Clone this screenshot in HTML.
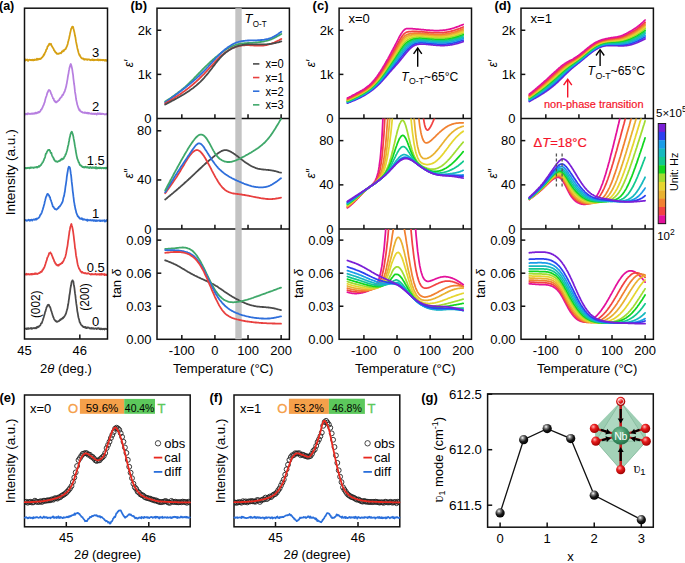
<!DOCTYPE html>
<html><head><meta charset="utf-8"><style>
html,body{margin:0;padding:0;background:#fff;width:685px;height:563px;overflow:hidden}
svg{display:block}
svg{font-family:"Liberation Sans", sans-serif}
</style></head><body>
<svg width="685" height="563" viewBox="0 0 685 563">
<defs>
<radialGradient id="ball" cx="0.38" cy="0.3" r="0.7"><stop offset="0" stop-color="#ffffff"/><stop offset="0.25" stop-color="#888"/><stop offset="0.6" stop-color="#1a1a1a"/><stop offset="1" stop-color="#000"/></radialGradient>
<radialGradient id="ox" cx="0.38" cy="0.32" r="0.7"><stop offset="0" stop-color="#ffb0b0"/><stop offset="0.4" stop-color="#e81c1c"/><stop offset="1" stop-color="#9a0000"/></radialGradient>
<radialGradient id="nb" cx="0.4" cy="0.35" r="0.7"><stop offset="0" stop-color="#7cc29a"/><stop offset="0.6" stop-color="#3a8f62"/><stop offset="1" stop-color="#1f6a43"/></radialGradient>
<clipPath id="c_b_top"><rect x="157.0" y="8.2" width="132.4" height="110.3"/></clipPath>
<clipPath id="c_b_mid"><rect x="157.0" y="118.5" width="132.4" height="110.6"/></clipPath>
<clipPath id="c_b_bot"><rect x="157.0" y="229.1" width="132.4" height="110.20000000000002"/></clipPath>
<clipPath id="c_c_top"><rect x="339.1" y="8.2" width="132.4" height="110.3"/></clipPath>
<clipPath id="c_c_mid"><rect x="339.1" y="118.5" width="132.4" height="110.6"/></clipPath>
<clipPath id="c_c_bot"><rect x="339.1" y="229.1" width="132.4" height="110.20000000000002"/></clipPath>
<clipPath id="c_d_top"><rect x="521.0" y="8.2" width="132.4" height="110.3"/></clipPath>
<clipPath id="c_d_mid"><rect x="521.0" y="118.5" width="132.4" height="110.6"/></clipPath>
<clipPath id="c_d_bot"><rect x="521.0" y="229.1" width="132.4" height="110.20000000000002"/></clipPath>
<clipPath id="c_e"><rect x="24.5" y="395" width="165.7" height="131.8"/></clipPath>
<clipPath id="c_f"><rect x="234" y="395" width="165.8" height="131.8"/></clipPath></defs>
<path d="M25.1,60.7 L25.4,59.3 L25.8,60.2 L26.1,59.9 L26.4,59.9 L26.7,60.0 L27.1,59.5 L27.4,60.0 L27.7,59.8 L28.1,61.0 L28.4,60.1 L28.7,59.9 L29.0,59.9 L29.4,59.8 L29.7,59.7 L30.0,59.9 L30.4,60.1 L30.7,59.9 L31.0,60.2 L31.3,59.9 L31.7,59.9 L32.0,60.4 L32.3,60.1 L32.7,59.7 L33.0,59.8 L33.3,60.0 L33.6,60.4 L34.0,59.7 L34.3,59.7 L34.6,60.1 L35.0,59.5 L35.3,59.6 L35.6,59.9 L35.9,59.8 L36.3,59.6 L36.6,59.8 L36.9,58.7 L37.3,59.8 L37.6,59.1 L37.9,58.9 L38.2,59.4 L38.6,59.5 L38.9,59.0 L39.2,58.7 L39.6,59.0 L39.9,58.8 L40.2,59.1 L40.5,58.8 L40.9,58.4 L41.2,58.5 L41.5,57.8 L41.9,57.3 L42.2,57.5 L42.5,57.2 L42.8,56.5 L43.2,55.9 L43.5,55.8 L43.8,54.4 L44.2,54.8 L44.5,54.2 L44.8,52.9 L45.1,52.7 L45.5,51.7 L45.8,51.5 L46.1,49.9 L46.5,49.4 L46.8,49.1 L47.1,48.5 L47.4,46.7 L47.8,46.5 L48.1,46.0 L48.4,45.2 L48.8,45.3 L49.1,44.0 L49.4,44.2 L49.7,43.6 L50.1,44.3 L50.4,44.0 L50.7,44.1 L51.1,44.0 L51.4,45.5 L51.7,45.8 L52.0,46.3 L52.4,47.1 L52.7,47.5 L53.0,47.9 L53.4,48.5 L53.7,49.2 L54.0,50.4 L54.3,50.2 L54.7,51.0 L55.0,51.6 L55.3,52.2 L55.7,52.7 L56.0,52.5 L56.3,52.6 L56.6,53.4 L57.0,53.9 L57.3,53.9 L57.6,53.8 L58.0,53.7 L58.3,53.8 L58.6,53.6 L58.9,53.8 L59.3,53.2 L59.6,53.4 L59.9,53.1 L60.3,53.1 L60.6,52.9 L60.9,53.4 L61.2,52.8 L61.6,52.6 L61.9,51.3 L62.2,51.6 L62.6,51.3 L62.9,51.5 L63.2,50.4 L63.5,51.2 L63.9,50.9 L64.2,49.9 L64.5,49.7 L64.9,49.4 L65.2,49.3 L65.5,49.0 L65.8,48.9 L66.2,47.6 L66.5,47.2 L66.8,46.3 L67.1,45.9 L67.5,44.6 L67.8,43.7 L68.1,41.8 L68.5,40.8 L68.8,39.2 L69.1,38.5 L69.4,36.7 L69.8,34.9 L70.1,33.3 L70.4,32.1 L70.8,30.4 L71.1,29.0 L71.4,28.4 L71.7,28.1 L72.1,26.8 L72.4,26.5 L72.7,26.5 L73.1,26.9 L73.4,28.3 L73.7,29.5 L74.0,30.7 L74.4,32.3 L74.7,34.0 L75.0,35.8 L75.4,37.2 L75.7,39.4 L76.0,41.4 L76.3,42.9 L76.7,44.7 L77.0,46.2 L77.3,47.9 L77.7,49.6 L78.0,50.5 L78.3,51.7 L78.6,53.0 L79.0,53.9 L79.3,55.0 L79.6,54.6 L80.0,56.1 L80.3,56.2 L80.6,56.8 L80.9,57.4 L81.3,57.8 L81.6,58.1 L81.9,58.1 L82.3,58.7 L82.6,58.3 L82.9,58.5 L83.2,58.9 L83.6,58.6 L83.9,59.5 L84.2,59.3 L84.6,59.7 L84.9,59.1 L85.2,59.1 L85.5,59.3 L85.9,59.5 L86.2,59.2 L86.5,59.5 L86.9,59.4 L87.2,59.9 L87.5,59.3 L87.8,59.8 L88.2,59.4 L88.5,59.3 L88.8,59.4 L89.2,59.3 L89.5,59.7 L89.8,60.0 L90.1,59.8 L90.5,59.9 L90.8,60.3 L91.1,59.9 L91.5,59.9 L91.8,59.7 L92.1,59.4 L92.4,60.1 L92.8,59.3 L93.1,60.1 L93.4,59.9 L93.8,60.3 L94.1,59.9 L94.4,59.7 L94.7,60.1 L95.1,59.8 L95.4,59.9 L95.7,60.0 L96.1,60.0 L96.4,59.9 L96.7,59.8 L97.0,60.0 L97.4,59.4 L97.7,60.0 L98.0,59.7 L98.4,60.4 L98.7,60.4 L99.0,59.5 L99.3,60.1 L99.7,60.1 L100.0,59.8 L100.3,60.3 L100.7,60.0 L101.0,59.6 L101.3,60.0 L101.6,60.1 L102.0,60.2 L102.3,59.8 L102.6,60.3 L103.0,60.4 L103.3,59.8 L103.6,60.0 L103.9,60.1 L104.3,60.0 L104.6,60.7 L104.9,60.2 L105.3,59.9 L105.6,59.9 L105.9,60.2 L106.2,60.9 L106.6,60.1 L106.9,60.2" fill="none" stroke="#d6a013" stroke-width="1.75" stroke-linejoin="round" stroke-linecap="round"/>
<text x="99.3" y="57.199999999999996" font-size="13" text-anchor="end" fill="#000" font-weight="normal" font-style="normal">3</text>
<path d="M25.1,114.0 L25.4,113.8 L25.8,114.5 L26.1,113.7 L26.4,114.0 L26.7,113.8 L27.1,114.0 L27.4,113.4 L27.7,114.3 L28.1,113.7 L28.4,113.7 L28.7,113.4 L29.0,113.5 L29.4,113.9 L29.7,114.0 L30.0,113.9 L30.4,114.0 L30.7,113.8 L31.0,113.6 L31.3,113.8 L31.7,113.7 L32.0,113.5 L32.3,113.7 L32.7,113.9 L33.0,113.5 L33.3,113.3 L33.6,113.6 L34.0,113.9 L34.3,113.2 L34.6,113.2 L35.0,113.2 L35.3,113.5 L35.6,112.6 L35.9,113.2 L36.3,113.4 L36.6,112.7 L36.9,113.3 L37.3,112.9 L37.6,112.5 L37.9,112.6 L38.2,112.0 L38.6,112.1 L38.9,112.6 L39.2,111.6 L39.6,112.2 L39.9,111.4 L40.2,111.4 L40.5,110.8 L40.9,109.7 L41.2,109.8 L41.5,109.6 L41.9,108.6 L42.2,108.0 L42.5,107.8 L42.8,106.8 L43.2,105.7 L43.5,105.2 L43.8,104.7 L44.2,103.3 L44.5,102.7 L44.8,101.9 L45.1,100.3 L45.5,98.8 L45.8,97.6 L46.1,96.9 L46.5,96.0 L46.8,94.8 L47.1,93.9 L47.4,92.6 L47.8,92.1 L48.1,91.2 L48.4,90.7 L48.8,90.1 L49.1,89.9 L49.4,90.3 L49.7,90.3 L50.1,90.8 L50.4,91.8 L50.7,92.3 L51.1,93.9 L51.4,94.2 L51.7,94.6 L52.0,95.8 L52.4,96.6 L52.7,97.1 L53.0,98.5 L53.4,98.6 L53.7,98.6 L54.0,100.4 L54.3,100.5 L54.7,101.5 L55.0,101.2 L55.3,101.3 L55.7,102.3 L56.0,101.6 L56.3,102.0 L56.6,102.3 L57.0,101.8 L57.3,101.5 L57.6,101.3 L58.0,101.2 L58.3,100.4 L58.6,100.4 L58.9,100.0 L59.3,100.1 L59.6,98.9 L59.9,98.3 L60.3,98.4 L60.6,97.6 L60.9,97.4 L61.2,97.0 L61.6,96.9 L61.9,95.9 L62.2,95.6 L62.6,94.5 L62.9,94.5 L63.2,94.8 L63.5,93.6 L63.9,93.0 L64.2,92.1 L64.5,91.9 L64.9,90.9 L65.2,89.5 L65.5,89.0 L65.8,87.6 L66.2,86.4 L66.5,84.5 L66.8,83.5 L67.1,81.4 L67.5,79.3 L67.8,77.2 L68.1,75.3 L68.5,73.6 L68.8,71.3 L69.1,69.9 L69.4,68.1 L69.8,66.9 L70.1,65.7 L70.4,64.7 L70.8,64.0 L71.1,64.9 L71.4,65.8 L71.7,66.9 L72.1,68.7 L72.4,70.5 L72.7,72.8 L73.1,75.2 L73.4,78.6 L73.7,80.9 L74.0,83.5 L74.4,85.9 L74.7,88.9 L75.0,91.9 L75.4,94.0 L75.7,95.8 L76.0,98.5 L76.3,100.3 L76.7,101.9 L77.0,103.3 L77.3,104.8 L77.7,105.8 L78.0,106.9 L78.3,107.3 L78.6,108.8 L79.0,109.1 L79.3,110.2 L79.6,109.4 L80.0,110.7 L80.3,111.1 L80.6,111.0 L80.9,111.5 L81.3,111.8 L81.6,112.0 L81.9,111.8 L82.3,112.0 L82.6,112.5 L82.9,112.7 L83.2,112.5 L83.6,112.5 L83.9,112.7 L84.2,113.0 L84.6,112.4 L84.9,112.4 L85.2,112.9 L85.5,112.6 L85.9,112.8 L86.2,113.1 L86.5,113.2 L86.9,112.8 L87.2,113.4 L87.5,112.7 L87.8,113.4 L88.2,112.8 L88.5,112.9 L88.8,113.5 L89.2,113.3 L89.5,113.2 L89.8,113.3 L90.1,113.6 L90.5,113.5 L90.8,113.5 L91.1,113.9 L91.5,113.3 L91.8,113.4 L92.1,113.4 L92.4,114.0 L92.8,113.9 L93.1,114.0 L93.4,113.7 L93.8,113.6 L94.1,114.0 L94.4,113.6 L94.7,114.0 L95.1,114.0 L95.4,113.6 L95.7,113.7 L96.1,113.7 L96.4,114.3 L96.7,114.6 L97.0,113.8 L97.4,113.8 L97.7,113.2 L98.0,113.9 L98.4,113.9 L98.7,113.5 L99.0,114.1 L99.3,113.4 L99.7,113.8 L100.0,113.9 L100.3,113.5 L100.7,114.2 L101.0,114.2 L101.3,113.5 L101.6,113.5 L102.0,114.1 L102.3,113.9 L102.6,113.6 L103.0,113.9 L103.3,113.9 L103.6,113.9 L103.9,114.2 L104.3,114.1 L104.6,114.5 L104.9,114.4 L105.3,114.2 L105.6,114.3 L105.9,114.4 L106.2,114.2 L106.6,113.7 L106.9,114.3" fill="none" stroke="#b77fe0" stroke-width="1.75" stroke-linejoin="round" stroke-linecap="round"/>
<text x="99.3" y="111.1" font-size="13" text-anchor="end" fill="#000" font-weight="normal" font-style="normal">2</text>
<path d="M25.1,168.0 L25.4,168.4 L25.8,168.0 L26.1,168.1 L26.4,168.0 L26.7,168.4 L27.1,168.0 L27.4,167.8 L27.7,168.0 L28.1,167.7 L28.4,167.9 L28.7,167.8 L29.0,167.9 L29.4,168.4 L29.7,167.7 L30.0,167.8 L30.4,167.7 L30.7,168.0 L31.0,167.4 L31.3,167.5 L31.7,167.7 L32.0,167.8 L32.3,167.6 L32.7,167.5 L33.0,167.4 L33.3,167.7 L33.6,168.0 L34.0,167.6 L34.3,167.6 L34.6,167.6 L35.0,167.2 L35.3,167.3 L35.6,167.3 L35.9,167.4 L36.3,167.2 L36.6,166.8 L36.9,167.5 L37.3,167.5 L37.6,166.9 L37.9,167.0 L38.2,166.8 L38.6,166.8 L38.9,166.0 L39.2,166.8 L39.6,165.9 L39.9,166.2 L40.2,165.6 L40.5,165.2 L40.9,164.9 L41.2,164.9 L41.5,163.9 L41.9,163.6 L42.2,163.1 L42.5,162.1 L42.8,162.4 L43.2,161.6 L43.5,160.7 L43.8,160.3 L44.2,158.9 L44.5,158.3 L44.8,158.0 L45.1,156.9 L45.5,155.0 L45.8,153.8 L46.1,153.6 L46.5,153.4 L46.8,152.2 L47.1,151.5 L47.4,151.2 L47.8,150.2 L48.1,150.2 L48.4,150.1 L48.8,149.9 L49.1,150.0 L49.4,149.9 L49.7,150.6 L50.1,150.8 L50.4,151.9 L50.7,152.9 L51.1,152.6 L51.4,152.9 L51.7,154.2 L52.0,155.3 L52.4,156.2 L52.7,157.0 L53.0,157.1 L53.4,157.8 L53.7,159.0 L54.0,158.9 L54.3,160.1 L54.7,160.1 L55.0,160.8 L55.3,161.1 L55.7,161.4 L56.0,161.6 L56.3,161.2 L56.6,161.7 L57.0,161.6 L57.3,161.7 L57.6,161.9 L58.0,161.4 L58.3,161.2 L58.6,161.0 L58.9,161.0 L59.3,161.1 L59.6,160.5 L59.9,160.9 L60.3,160.4 L60.6,160.1 L60.9,159.5 L61.2,159.8 L61.6,159.7 L61.9,158.7 L62.2,159.4 L62.6,159.3 L62.9,158.7 L63.2,158.4 L63.5,158.7 L63.9,158.0 L64.2,157.0 L64.5,156.8 L64.9,156.2 L65.2,155.6 L65.5,154.3 L65.8,154.4 L66.2,153.1 L66.5,152.3 L66.8,151.1 L67.1,150.2 L67.5,148.5 L67.8,146.9 L68.1,145.7 L68.5,144.4 L68.8,142.2 L69.1,141.0 L69.4,139.0 L69.8,137.1 L70.1,136.3 L70.4,134.3 L70.8,133.7 L71.1,132.5 L71.4,132.3 L71.7,131.7 L72.1,132.1 L72.4,133.4 L72.7,134.1 L73.1,135.4 L73.4,136.9 L73.7,138.9 L74.0,140.3 L74.4,142.3 L74.7,144.6 L75.0,146.4 L75.4,148.4 L75.7,150.5 L76.0,152.3 L76.3,153.9 L76.7,156.1 L77.0,157.3 L77.3,158.7 L77.7,159.5 L78.0,160.4 L78.3,161.0 L78.6,162.2 L79.0,162.3 L79.3,163.4 L79.6,164.3 L80.0,165.1 L80.3,165.2 L80.6,165.0 L80.9,165.7 L81.3,165.6 L81.6,166.3 L81.9,166.2 L82.3,166.6 L82.6,167.2 L82.9,166.9 L83.2,167.4 L83.6,166.8 L83.9,166.8 L84.2,167.3 L84.6,167.5 L84.9,166.9 L85.2,167.1 L85.5,166.7 L85.9,167.1 L86.2,167.5 L86.5,167.3 L86.9,167.2 L87.2,166.9 L87.5,167.5 L87.8,167.7 L88.2,167.6 L88.5,167.6 L88.8,167.1 L89.2,168.1 L89.5,167.6 L89.8,167.6 L90.1,167.8 L90.5,167.0 L90.8,167.6 L91.1,167.6 L91.5,167.8 L91.8,168.1 L92.1,167.9 L92.4,167.2 L92.8,167.7 L93.1,167.8 L93.4,167.8 L93.8,167.4 L94.1,167.3 L94.4,168.0 L94.7,167.9 L95.1,167.8 L95.4,167.3 L95.7,168.4 L96.1,167.0 L96.4,167.8 L96.7,168.5 L97.0,167.9 L97.4,168.0 L97.7,167.6 L98.0,168.3 L98.4,167.6 L98.7,168.0 L99.0,168.0 L99.3,167.7 L99.7,168.2 L100.0,167.6 L100.3,167.8 L100.7,168.0 L101.0,167.9 L101.3,168.2 L101.6,168.3 L102.0,167.9 L102.3,167.9 L102.6,167.9 L103.0,167.9 L103.3,168.3 L103.6,168.0 L103.9,168.2 L104.3,168.0 L104.6,167.8 L104.9,168.3 L105.3,167.8 L105.6,168.1 L105.9,168.5 L106.2,167.8 L106.6,168.1 L106.9,167.6" fill="none" stroke="#3fa86a" stroke-width="1.75" stroke-linejoin="round" stroke-linecap="round"/>
<text x="104.8" y="165.10000000000002" font-size="13" text-anchor="end" fill="#000" font-weight="normal" font-style="normal">1.5</text>
<path d="M25.1,220.3 L25.4,220.0 L25.8,220.3 L26.1,220.2 L26.4,220.4 L26.7,220.9 L27.1,220.4 L27.4,220.5 L27.7,220.3 L28.1,220.2 L28.4,220.0 L28.7,219.7 L29.0,220.3 L29.4,220.7 L29.7,220.3 L30.0,220.0 L30.4,220.6 L30.7,220.0 L31.0,219.9 L31.3,219.7 L31.7,219.7 L32.0,219.9 L32.3,220.6 L32.7,219.9 L33.0,219.6 L33.3,219.7 L33.6,219.7 L34.0,219.2 L34.3,219.7 L34.6,219.8 L35.0,219.6 L35.3,219.7 L35.6,219.0 L35.9,218.8 L36.3,219.6 L36.6,219.4 L36.9,218.5 L37.3,218.8 L37.6,218.6 L37.9,218.5 L38.2,218.2 L38.6,217.7 L38.9,217.6 L39.2,217.2 L39.6,216.7 L39.9,215.7 L40.2,214.9 L40.5,214.9 L40.9,214.0 L41.2,213.9 L41.5,213.2 L41.9,212.2 L42.2,211.1 L42.5,210.2 L42.8,209.5 L43.2,207.8 L43.5,207.1 L43.8,205.8 L44.2,204.4 L44.5,203.4 L44.8,201.5 L45.1,200.7 L45.5,198.9 L45.8,197.8 L46.1,196.7 L46.5,196.2 L46.8,195.0 L47.1,194.6 L47.4,193.9 L47.8,194.3 L48.1,194.6 L48.4,194.3 L48.8,195.2 L49.1,195.4 L49.4,196.7 L49.7,196.9 L50.1,197.4 L50.4,199.3 L50.7,199.9 L51.1,200.7 L51.4,201.8 L51.7,202.5 L52.0,203.9 L52.4,204.6 L52.7,206.2 L53.0,206.7 L53.4,206.6 L53.7,207.2 L54.0,208.0 L54.3,208.0 L54.7,208.8 L55.0,209.1 L55.3,209.0 L55.7,209.1 L56.0,209.4 L56.3,209.7 L56.6,209.6 L57.0,209.0 L57.3,209.0 L57.6,208.3 L58.0,208.4 L58.3,207.7 L58.6,207.9 L58.9,206.9 L59.3,206.7 L59.6,206.6 L59.9,206.4 L60.3,205.4 L60.6,205.2 L60.9,204.9 L61.2,204.4 L61.6,203.5 L61.9,203.1 L62.2,202.2 L62.6,201.8 L62.9,200.6 L63.2,198.9 L63.5,197.3 L63.9,196.6 L64.2,195.3 L64.5,193.2 L64.9,191.5 L65.2,189.0 L65.5,186.5 L65.8,184.8 L66.2,182.2 L66.5,180.0 L66.8,176.9 L67.1,175.0 L67.5,172.5 L67.8,171.0 L68.1,168.8 L68.5,167.5 L68.8,166.7 L69.1,167.0 L69.4,166.9 L69.8,167.5 L70.1,168.8 L70.4,170.7 L70.8,173.7 L71.1,175.3 L71.4,178.3 L71.7,181.7 L72.1,184.9 L72.4,187.5 L72.7,190.8 L73.1,193.6 L73.4,196.4 L73.7,198.7 L74.0,201.6 L74.4,203.4 L74.7,205.8 L75.0,206.8 L75.4,209.1 L75.7,209.9 L76.0,211.1 L76.3,212.8 L76.7,213.4 L77.0,214.6 L77.3,214.9 L77.7,216.3 L78.0,216.3 L78.3,216.4 L78.6,217.2 L79.0,217.8 L79.3,217.5 L79.6,218.2 L80.0,218.8 L80.3,218.7 L80.6,218.6 L80.9,218.5 L81.3,219.0 L81.6,218.5 L81.9,218.1 L82.3,218.9 L82.6,218.9 L82.9,219.8 L83.2,219.4 L83.6,219.1 L83.9,219.1 L84.2,219.7 L84.6,219.4 L84.9,219.5 L85.2,219.7 L85.5,219.8 L85.9,219.8 L86.2,219.9 L86.5,220.3 L86.9,220.4 L87.2,219.5 L87.5,220.8 L87.8,220.1 L88.2,220.4 L88.5,219.9 L88.8,220.2 L89.2,220.2 L89.5,220.2 L89.8,220.4 L90.1,220.4 L90.5,219.9 L90.8,220.2 L91.1,220.5 L91.5,220.5 L91.8,220.2 L92.1,220.3 L92.4,220.3 L92.8,220.0 L93.1,220.0 L93.4,220.9 L93.8,220.3 L94.1,220.5 L94.4,220.2 L94.7,220.8 L95.1,221.0 L95.4,220.4 L95.7,220.7 L96.1,220.3 L96.4,221.0 L96.7,220.8 L97.0,220.3 L97.4,220.9 L97.7,220.7 L98.0,220.7 L98.4,220.7 L98.7,220.4 L99.0,220.4 L99.3,220.8 L99.7,220.6 L100.0,220.3 L100.3,221.2 L100.7,220.6 L101.0,220.5 L101.3,220.4 L101.6,220.9 L102.0,221.0 L102.3,220.7 L102.6,220.9 L103.0,220.2 L103.3,220.6 L103.6,220.6 L103.9,220.7 L104.3,220.9 L104.6,220.1 L104.9,221.7 L105.3,220.5 L105.6,220.8 L105.9,221.0 L106.2,221.0 L106.6,220.8 L106.9,219.9" fill="none" stroke="#2f6fdb" stroke-width="1.75" stroke-linejoin="round" stroke-linecap="round"/>
<text x="99.3" y="217.8" font-size="13" text-anchor="end" fill="#000" font-weight="normal" font-style="normal">1</text>
<path d="M25.1,274.1 L25.4,274.6 L25.8,274.1 L26.1,274.1 L26.4,273.7 L26.7,274.7 L27.1,274.5 L27.4,274.1 L27.7,274.3 L28.1,274.3 L28.4,274.0 L28.7,274.2 L29.0,274.4 L29.4,274.4 L29.7,274.6 L30.0,274.2 L30.4,274.1 L30.7,274.3 L31.0,274.0 L31.3,273.8 L31.7,274.5 L32.0,274.0 L32.3,274.1 L32.7,274.3 L33.0,273.7 L33.3,274.2 L33.6,274.1 L34.0,274.0 L34.3,274.1 L34.6,273.7 L35.0,273.2 L35.3,273.8 L35.6,273.5 L35.9,274.0 L36.3,273.8 L36.6,273.5 L36.9,273.7 L37.3,274.0 L37.6,273.9 L37.9,273.6 L38.2,273.5 L38.6,273.2 L38.9,273.1 L39.2,273.2 L39.6,272.9 L39.9,272.8 L40.2,272.2 L40.5,271.9 L40.9,271.6 L41.2,271.7 L41.5,272.0 L41.9,271.6 L42.2,270.5 L42.5,269.9 L42.8,270.1 L43.2,269.5 L43.5,268.3 L43.8,268.4 L44.2,267.4 L44.5,267.0 L44.8,265.9 L45.1,265.1 L45.5,264.0 L45.8,262.7 L46.1,261.9 L46.5,260.7 L46.8,260.1 L47.1,258.5 L47.4,257.4 L47.8,257.0 L48.1,256.3 L48.4,255.5 L48.8,254.7 L49.1,253.3 L49.4,253.1 L49.7,252.8 L50.1,252.9 L50.4,252.3 L50.7,253.2 L51.1,253.7 L51.4,253.8 L51.7,254.8 L52.0,255.8 L52.4,256.3 L52.7,257.4 L53.0,258.2 L53.4,258.9 L53.7,259.7 L54.0,260.3 L54.3,261.6 L54.7,261.8 L55.0,262.4 L55.3,263.4 L55.7,263.4 L56.0,264.2 L56.3,264.8 L56.6,264.8 L57.0,265.0 L57.3,265.4 L57.6,265.5 L58.0,264.8 L58.3,264.9 L58.6,265.6 L58.9,265.2 L59.3,264.3 L59.6,264.4 L59.9,264.6 L60.3,264.0 L60.6,264.2 L60.9,263.8 L61.2,263.7 L61.6,262.9 L61.9,263.1 L62.2,263.1 L62.6,261.9 L62.9,262.1 L63.2,261.5 L63.5,260.9 L63.9,260.1 L64.2,259.1 L64.5,258.4 L64.9,258.0 L65.2,257.1 L65.5,256.0 L65.8,254.7 L66.2,253.2 L66.5,251.2 L66.8,249.3 L67.1,247.8 L67.5,245.8 L67.8,243.6 L68.1,240.8 L68.5,238.8 L68.8,236.2 L69.1,234.3 L69.4,231.7 L69.8,229.9 L70.1,228.2 L70.4,226.7 L70.8,225.9 L71.1,224.5 L71.4,224.0 L71.7,225.3 L72.1,226.4 L72.4,227.8 L72.7,229.2 L73.1,231.5 L73.4,233.8 L73.7,236.0 L74.0,238.9 L74.4,242.0 L74.7,244.5 L75.0,248.0 L75.4,249.5 L75.7,252.4 L76.0,255.2 L76.3,256.8 L76.7,258.7 L77.0,260.4 L77.3,262.3 L77.7,264.4 L78.0,265.4 L78.3,266.5 L78.6,267.2 L79.0,268.5 L79.3,269.0 L79.6,269.3 L80.0,270.0 L80.3,270.7 L80.6,271.4 L80.9,271.3 L81.3,271.8 L81.6,272.5 L81.9,271.9 L82.3,271.9 L82.6,272.7 L82.9,272.7 L83.2,272.7 L83.6,272.9 L83.9,272.8 L84.2,273.2 L84.6,273.0 L84.9,273.4 L85.2,272.9 L85.5,273.1 L85.9,273.4 L86.2,273.3 L86.5,273.7 L86.9,273.5 L87.2,273.4 L87.5,273.7 L87.8,273.5 L88.2,273.2 L88.5,273.4 L88.8,273.5 L89.2,273.7 L89.5,273.9 L89.8,274.2 L90.1,274.1 L90.5,274.5 L90.8,274.3 L91.1,273.9 L91.5,274.5 L91.8,274.4 L92.1,273.9 L92.4,274.2 L92.8,274.4 L93.1,274.2 L93.4,274.4 L93.8,274.3 L94.1,274.4 L94.4,274.1 L94.7,274.3 L95.1,274.1 L95.4,274.4 L95.7,273.7 L96.1,274.4 L96.4,274.7 L96.7,274.5 L97.0,274.3 L97.4,274.5 L97.7,274.1 L98.0,274.1 L98.4,274.2 L98.7,274.3 L99.0,274.7 L99.3,274.1 L99.7,274.7 L100.0,273.9 L100.3,274.2 L100.7,274.4 L101.0,274.8 L101.3,274.2 L101.6,273.8 L102.0,274.6 L102.3,274.4 L102.6,274.1 L103.0,274.2 L103.3,274.3 L103.6,274.5 L103.9,274.7 L104.3,274.0 L104.6,275.2 L104.9,274.5 L105.3,274.4 L105.6,274.7 L105.9,274.6 L106.2,275.2 L106.6,274.9 L106.9,274.4" fill="none" stroke="#e8403f" stroke-width="1.75" stroke-linejoin="round" stroke-linecap="round"/>
<text x="104.8" y="271.6" font-size="13" text-anchor="end" fill="#000" font-weight="normal" font-style="normal">0.5</text>
<path d="M25.1,328.6 L25.4,328.6 L25.8,328.6 L26.1,328.9 L26.4,328.5 L26.7,329.2 L27.1,328.6 L27.4,328.6 L27.7,328.9 L28.1,328.0 L28.4,328.3 L28.7,328.8 L29.0,328.6 L29.4,328.5 L29.7,328.6 L30.0,328.3 L30.4,328.4 L30.7,328.1 L31.0,327.9 L31.3,328.8 L31.7,328.1 L32.0,328.1 L32.3,328.7 L32.7,328.6 L33.0,328.1 L33.3,328.1 L33.6,328.2 L34.0,327.9 L34.3,328.3 L34.6,328.1 L35.0,328.0 L35.3,328.2 L35.6,328.1 L35.9,328.4 L36.3,328.2 L36.6,327.1 L36.9,327.8 L37.3,327.1 L37.6,326.8 L37.9,327.3 L38.2,326.7 L38.6,326.6 L38.9,326.8 L39.2,326.0 L39.6,325.6 L39.9,325.6 L40.2,325.5 L40.5,324.9 L40.9,323.7 L41.2,323.4 L41.5,323.0 L41.9,322.9 L42.2,321.8 L42.5,321.0 L42.8,320.2 L43.2,318.8 L43.5,318.0 L43.8,317.0 L44.2,315.4 L44.5,314.6 L44.8,313.6 L45.1,311.9 L45.5,311.3 L45.8,310.1 L46.1,309.1 L46.5,307.6 L46.8,306.9 L47.1,306.5 L47.4,305.7 L47.8,304.8 L48.1,304.8 L48.4,305.1 L48.8,304.8 L49.1,305.3 L49.4,306.5 L49.7,306.4 L50.1,307.2 L50.4,307.8 L50.7,308.9 L51.1,310.6 L51.4,311.2 L51.7,312.0 L52.0,313.1 L52.4,314.4 L52.7,315.6 L53.0,316.1 L53.4,317.4 L53.7,317.8 L54.0,318.8 L54.3,319.5 L54.7,320.0 L55.0,320.2 L55.3,320.7 L55.7,321.2 L56.0,320.9 L56.3,321.5 L56.6,321.7 L57.0,321.9 L57.3,321.6 L57.6,321.5 L58.0,321.5 L58.3,321.1 L58.6,321.1 L58.9,321.1 L59.3,320.8 L59.6,320.2 L59.9,320.2 L60.3,319.4 L60.6,320.0 L60.9,319.4 L61.2,319.4 L61.6,318.7 L61.9,318.8 L62.2,318.7 L62.6,318.6 L62.9,317.6 L63.2,318.0 L63.5,317.4 L63.9,316.9 L64.2,316.9 L64.5,316.2 L64.9,315.7 L65.2,315.0 L65.5,314.6 L65.8,313.8 L66.2,312.9 L66.5,311.6 L66.8,310.6 L67.1,309.5 L67.5,308.3 L67.8,306.2 L68.1,304.8 L68.5,302.4 L68.8,300.0 L69.1,298.3 L69.4,295.5 L69.8,293.5 L70.1,291.3 L70.4,288.6 L70.8,286.5 L71.1,285.3 L71.4,283.0 L71.7,281.6 L72.1,280.9 L72.4,280.3 L72.7,280.4 L73.1,281.2 L73.4,281.5 L73.7,284.2 L74.0,285.5 L74.4,287.8 L74.7,290.7 L75.0,293.2 L75.4,295.6 L75.7,298.7 L76.0,301.0 L76.3,303.7 L76.7,306.0 L77.0,308.5 L77.3,311.1 L77.7,313.0 L78.0,314.9 L78.3,316.8 L78.6,318.0 L79.0,319.2 L79.3,320.4 L79.6,322.0 L80.0,322.5 L80.3,323.3 L80.6,323.8 L80.9,324.5 L81.3,325.0 L81.6,325.3 L81.9,325.6 L82.3,325.7 L82.6,326.0 L82.9,326.6 L83.2,326.9 L83.6,327.1 L83.9,327.0 L84.2,326.8 L84.6,327.4 L84.9,327.5 L85.2,326.9 L85.5,327.7 L85.9,327.7 L86.2,328.1 L86.5,327.4 L86.9,327.4 L87.2,328.0 L87.5,327.3 L87.8,327.7 L88.2,327.6 L88.5,327.7 L88.8,327.5 L89.2,328.0 L89.5,328.4 L89.8,328.3 L90.1,328.3 L90.5,328.1 L90.8,328.7 L91.1,328.4 L91.5,328.6 L91.8,327.9 L92.1,328.5 L92.4,328.1 L92.8,328.5 L93.1,328.5 L93.4,328.1 L93.8,328.5 L94.1,328.9 L94.4,328.7 L94.7,328.7 L95.1,328.3 L95.4,328.4 L95.7,328.3 L96.1,328.6 L96.4,329.0 L96.7,328.8 L97.0,328.6 L97.4,328.3 L97.7,328.8 L98.0,328.6 L98.4,328.1 L98.7,328.2 L99.0,328.6 L99.3,328.5 L99.7,329.2 L100.0,328.8 L100.3,328.5 L100.7,328.6 L101.0,329.3 L101.3,328.5 L101.6,329.0 L102.0,328.9 L102.3,329.3 L102.6,329.0 L103.0,328.7 L103.3,329.0 L103.6,328.9 L103.9,329.1 L104.3,328.8 L104.6,329.5 L104.9,328.8 L105.3,329.0 L105.6,328.7 L105.9,328.9 L106.2,328.9 L106.6,329.0 L106.9,329.2" fill="none" stroke="#4a4a4a" stroke-width="1.75" stroke-linejoin="round" stroke-linecap="round"/>
<text x="99.3" y="326.0" font-size="13" text-anchor="end" fill="#000" font-weight="normal" font-style="normal">0</text>
<rect x="24.5" y="8.2" width="83.0" height="330.8" fill="none" stroke="#111" stroke-width="1.5"/>
<line x1="79.83333333333334" y1="339.0" x2="79.83333333333334" y2="334.5" stroke="#111" stroke-width="1.5"/>
<text x="24.5" y="354.7" font-size="13" text-anchor="middle" fill="#000" font-weight="normal" font-style="normal">45</text>
<text x="79.83333333333334" y="354.7" font-size="13" text-anchor="middle" fill="#000" font-weight="normal" font-style="normal">46</text>
<text x="66" y="372.5" font-size="13" text-anchor="middle">2<tspan font-style="italic" >θ</tspan> (deg.)</text>
<text x="15.2" y="172.3" font-size="13" text-anchor="middle" fill="#000" font-weight="normal" font-style="normal" transform="rotate(-90 15.2 172.3)" textLength="86" lengthAdjust="spacingAndGlyphs">Intensity (a.u.)</text>
<text x="40.5" y="304.3" font-size="13" text-anchor="middle" fill="#000" font-weight="normal" font-style="normal" transform="rotate(-90 40.5 304.3)" textLength="27.5" lengthAdjust="spacingAndGlyphs">(002)</text>
<text x="89.0" y="297.0" font-size="13" text-anchor="middle" fill="#000" font-weight="normal" font-style="normal" transform="rotate(-90 89.0 297.0)" textLength="27.5" lengthAdjust="spacingAndGlyphs">(200)</text>
<text x="-1" y="9.8" font-size="12.5" text-anchor="start" fill="#000" font-weight="bold" font-style="normal">(a)</text>
<rect x="157.0" y="8.2" width="132.39999999999998" height="331.1" fill="none" stroke="#111" stroke-width="1.5"/>
<line x1="157.0" y1="118.5" x2="289.4" y2="118.5" stroke="#111" stroke-width="1.5"/>
<line x1="157.0" y1="229.1" x2="289.4" y2="229.1" stroke="#111" stroke-width="1.5"/>
<line x1="181.825" y1="118.5" x2="181.825" y2="114.2" stroke="#111" stroke-width="1.5"/>
<line x1="181.825" y1="229.1" x2="181.825" y2="224.79999999999998" stroke="#111" stroke-width="1.5"/>
<line x1="181.825" y1="339.3" x2="181.825" y2="335.0" stroke="#111" stroke-width="1.5"/>
<line x1="214.925" y1="118.5" x2="214.925" y2="114.2" stroke="#111" stroke-width="1.5"/>
<line x1="214.925" y1="229.1" x2="214.925" y2="224.79999999999998" stroke="#111" stroke-width="1.5"/>
<line x1="214.925" y1="339.3" x2="214.925" y2="335.0" stroke="#111" stroke-width="1.5"/>
<line x1="248.025" y1="118.5" x2="248.025" y2="114.2" stroke="#111" stroke-width="1.5"/>
<line x1="248.025" y1="229.1" x2="248.025" y2="224.79999999999998" stroke="#111" stroke-width="1.5"/>
<line x1="248.025" y1="339.3" x2="248.025" y2="335.0" stroke="#111" stroke-width="1.5"/>
<line x1="281.125" y1="118.5" x2="281.125" y2="114.2" stroke="#111" stroke-width="1.5"/>
<line x1="281.125" y1="229.1" x2="281.125" y2="224.79999999999998" stroke="#111" stroke-width="1.5"/>
<line x1="281.125" y1="339.3" x2="281.125" y2="335.0" stroke="#111" stroke-width="1.5"/>
<line x1="157.0" y1="74.38" x2="161.3" y2="74.38" stroke="#111" stroke-width="1.5"/>
<line x1="157.0" y1="30.260000000000005" x2="161.3" y2="30.260000000000005" stroke="#111" stroke-width="1.5"/>
<line x1="157.0" y1="179.94444444444443" x2="161.3" y2="179.94444444444443" stroke="#111" stroke-width="1.5"/>
<line x1="157.0" y1="130.7888888888889" x2="161.3" y2="130.7888888888889" stroke="#111" stroke-width="1.5"/>
<line x1="157.0" y1="306.24" x2="161.3" y2="306.24" stroke="#111" stroke-width="1.5"/>
<line x1="157.0" y1="273.18" x2="161.3" y2="273.18" stroke="#111" stroke-width="1.5"/>
<line x1="157.0" y1="240.12" x2="161.3" y2="240.12" stroke="#111" stroke-width="1.5"/>
<text x="151.5" y="123.0" font-size="13" text-anchor="end" fill="#000" font-weight="normal" font-style="normal">0</text>
<text x="151.5" y="78.88" font-size="13" text-anchor="end" fill="#000" font-weight="normal" font-style="normal">1k</text>
<text x="151.5" y="34.760000000000005" font-size="13" text-anchor="end" fill="#000" font-weight="normal" font-style="normal">2k</text>
<text x="151.5" y="233.6" font-size="13" text-anchor="end" fill="#000" font-weight="normal" font-style="normal">0</text>
<text x="151.5" y="184.44444444444443" font-size="13" text-anchor="end" fill="#000" font-weight="normal" font-style="normal">40</text>
<text x="151.5" y="135.2888888888889" font-size="13" text-anchor="end" fill="#000" font-weight="normal" font-style="normal">80</text>
<text x="151.5" y="343.8" font-size="13" text-anchor="end" fill="#000" font-weight="normal" font-style="normal">0.00</text>
<text x="151.5" y="310.74" font-size="13" text-anchor="end" fill="#000" font-weight="normal" font-style="normal">0.03</text>
<text x="151.5" y="277.68" font-size="13" text-anchor="end" fill="#000" font-weight="normal" font-style="normal">0.06</text>
<text x="151.5" y="244.62" font-size="13" text-anchor="end" fill="#000" font-weight="normal" font-style="normal">0.09</text>
<text x="181.825" y="355.3" font-size="13" text-anchor="middle" fill="#000" font-weight="normal" font-style="normal">-100</text>
<text x="214.925" y="355.3" font-size="13" text-anchor="middle" fill="#000" font-weight="normal" font-style="normal">0</text>
<text x="248.025" y="355.3" font-size="13" text-anchor="middle" fill="#000" font-weight="normal" font-style="normal">100</text>
<text x="281.125" y="355.3" font-size="13" text-anchor="middle" fill="#000" font-weight="normal" font-style="normal">200</text>
<text x="223.2" y="373.0" font-size="13" text-anchor="middle" fill="#000" font-weight="normal" font-style="normal" textLength="100.5" lengthAdjust="spacingAndGlyphs">Temperature (°C)</text>
<text x="133.0" y="63.4" font-size="12" font-style="italic" text-anchor="middle" transform="rotate(-90 133.0 63.4)">ε′</text>
<text x="133.0" y="173.8" font-size="12" font-style="italic" text-anchor="middle" transform="rotate(-90 133.0 173.8)">ε″</text>
<text x="120.8" y="283.5" font-size="13" text-anchor="middle" transform="rotate(-90 120.8 283.5)">tan <tspan font-style="italic" >δ</tspan></text>
<rect x="339.1" y="8.2" width="132.39999999999998" height="331.1" fill="none" stroke="#111" stroke-width="1.5"/>
<line x1="339.1" y1="118.5" x2="471.5" y2="118.5" stroke="#111" stroke-width="1.5"/>
<line x1="339.1" y1="229.1" x2="471.5" y2="229.1" stroke="#111" stroke-width="1.5"/>
<line x1="363.925" y1="118.5" x2="363.925" y2="114.2" stroke="#111" stroke-width="1.5"/>
<line x1="363.925" y1="229.1" x2="363.925" y2="224.79999999999998" stroke="#111" stroke-width="1.5"/>
<line x1="363.925" y1="339.3" x2="363.925" y2="335.0" stroke="#111" stroke-width="1.5"/>
<line x1="397.02500000000003" y1="118.5" x2="397.02500000000003" y2="114.2" stroke="#111" stroke-width="1.5"/>
<line x1="397.02500000000003" y1="229.1" x2="397.02500000000003" y2="224.79999999999998" stroke="#111" stroke-width="1.5"/>
<line x1="397.02500000000003" y1="339.3" x2="397.02500000000003" y2="335.0" stroke="#111" stroke-width="1.5"/>
<line x1="430.125" y1="118.5" x2="430.125" y2="114.2" stroke="#111" stroke-width="1.5"/>
<line x1="430.125" y1="229.1" x2="430.125" y2="224.79999999999998" stroke="#111" stroke-width="1.5"/>
<line x1="430.125" y1="339.3" x2="430.125" y2="335.0" stroke="#111" stroke-width="1.5"/>
<line x1="463.225" y1="118.5" x2="463.225" y2="114.2" stroke="#111" stroke-width="1.5"/>
<line x1="463.225" y1="229.1" x2="463.225" y2="224.79999999999998" stroke="#111" stroke-width="1.5"/>
<line x1="463.225" y1="339.3" x2="463.225" y2="335.0" stroke="#111" stroke-width="1.5"/>
<line x1="339.1" y1="74.38" x2="343.40000000000003" y2="74.38" stroke="#111" stroke-width="1.5"/>
<line x1="339.1" y1="30.260000000000005" x2="343.40000000000003" y2="30.260000000000005" stroke="#111" stroke-width="1.5"/>
<line x1="339.1" y1="184.85999999999999" x2="343.40000000000003" y2="184.85999999999999" stroke="#111" stroke-width="1.5"/>
<line x1="339.1" y1="140.62" x2="343.40000000000003" y2="140.62" stroke="#111" stroke-width="1.5"/>
<line x1="339.1" y1="306.24" x2="343.40000000000003" y2="306.24" stroke="#111" stroke-width="1.5"/>
<line x1="339.1" y1="273.18" x2="343.40000000000003" y2="273.18" stroke="#111" stroke-width="1.5"/>
<line x1="339.1" y1="240.12" x2="343.40000000000003" y2="240.12" stroke="#111" stroke-width="1.5"/>
<text x="333.6" y="123.0" font-size="13" text-anchor="end" fill="#000" font-weight="normal" font-style="normal">0</text>
<text x="333.6" y="78.88" font-size="13" text-anchor="end" fill="#000" font-weight="normal" font-style="normal">1k</text>
<text x="333.6" y="34.760000000000005" font-size="13" text-anchor="end" fill="#000" font-weight="normal" font-style="normal">2k</text>
<text x="333.6" y="233.6" font-size="13" text-anchor="end" fill="#000" font-weight="normal" font-style="normal">0</text>
<text x="333.6" y="189.35999999999999" font-size="13" text-anchor="end" fill="#000" font-weight="normal" font-style="normal">40</text>
<text x="333.6" y="145.12" font-size="13" text-anchor="end" fill="#000" font-weight="normal" font-style="normal">80</text>
<text x="333.6" y="343.8" font-size="13" text-anchor="end" fill="#000" font-weight="normal" font-style="normal">0.00</text>
<text x="333.6" y="310.74" font-size="13" text-anchor="end" fill="#000" font-weight="normal" font-style="normal">0.03</text>
<text x="333.6" y="277.68" font-size="13" text-anchor="end" fill="#000" font-weight="normal" font-style="normal">0.06</text>
<text x="333.6" y="244.62" font-size="13" text-anchor="end" fill="#000" font-weight="normal" font-style="normal">0.09</text>
<text x="363.925" y="355.3" font-size="13" text-anchor="middle" fill="#000" font-weight="normal" font-style="normal">-100</text>
<text x="397.02500000000003" y="355.3" font-size="13" text-anchor="middle" fill="#000" font-weight="normal" font-style="normal">0</text>
<text x="430.125" y="355.3" font-size="13" text-anchor="middle" fill="#000" font-weight="normal" font-style="normal">100</text>
<text x="463.225" y="355.3" font-size="13" text-anchor="middle" fill="#000" font-weight="normal" font-style="normal">200</text>
<text x="405.3" y="373.0" font-size="13" text-anchor="middle" fill="#000" font-weight="normal" font-style="normal" textLength="100.5" lengthAdjust="spacingAndGlyphs">Temperature (°C)</text>
<text x="315.1" y="63.4" font-size="12" font-style="italic" text-anchor="middle" transform="rotate(-90 315.1 63.4)">ε′</text>
<text x="315.1" y="173.8" font-size="12" font-style="italic" text-anchor="middle" transform="rotate(-90 315.1 173.8)">ε″</text>
<text x="302.90000000000003" y="283.5" font-size="13" text-anchor="middle" transform="rotate(-90 302.90000000000003 283.5)">tan <tspan font-style="italic" >δ</tspan></text>
<rect x="521.0" y="8.2" width="132.39999999999998" height="331.1" fill="none" stroke="#111" stroke-width="1.5"/>
<line x1="521.0" y1="118.5" x2="653.4" y2="118.5" stroke="#111" stroke-width="1.5"/>
<line x1="521.0" y1="229.1" x2="653.4" y2="229.1" stroke="#111" stroke-width="1.5"/>
<line x1="545.825" y1="118.5" x2="545.825" y2="114.2" stroke="#111" stroke-width="1.5"/>
<line x1="545.825" y1="229.1" x2="545.825" y2="224.79999999999998" stroke="#111" stroke-width="1.5"/>
<line x1="545.825" y1="339.3" x2="545.825" y2="335.0" stroke="#111" stroke-width="1.5"/>
<line x1="578.925" y1="118.5" x2="578.925" y2="114.2" stroke="#111" stroke-width="1.5"/>
<line x1="578.925" y1="229.1" x2="578.925" y2="224.79999999999998" stroke="#111" stroke-width="1.5"/>
<line x1="578.925" y1="339.3" x2="578.925" y2="335.0" stroke="#111" stroke-width="1.5"/>
<line x1="612.025" y1="118.5" x2="612.025" y2="114.2" stroke="#111" stroke-width="1.5"/>
<line x1="612.025" y1="229.1" x2="612.025" y2="224.79999999999998" stroke="#111" stroke-width="1.5"/>
<line x1="612.025" y1="339.3" x2="612.025" y2="335.0" stroke="#111" stroke-width="1.5"/>
<line x1="645.125" y1="118.5" x2="645.125" y2="114.2" stroke="#111" stroke-width="1.5"/>
<line x1="645.125" y1="229.1" x2="645.125" y2="224.79999999999998" stroke="#111" stroke-width="1.5"/>
<line x1="645.125" y1="339.3" x2="645.125" y2="335.0" stroke="#111" stroke-width="1.5"/>
<line x1="521.0" y1="74.38" x2="525.3" y2="74.38" stroke="#111" stroke-width="1.5"/>
<line x1="521.0" y1="30.260000000000005" x2="525.3" y2="30.260000000000005" stroke="#111" stroke-width="1.5"/>
<line x1="521.0" y1="184.85999999999999" x2="525.3" y2="184.85999999999999" stroke="#111" stroke-width="1.5"/>
<line x1="521.0" y1="140.62" x2="525.3" y2="140.62" stroke="#111" stroke-width="1.5"/>
<line x1="521.0" y1="306.24" x2="525.3" y2="306.24" stroke="#111" stroke-width="1.5"/>
<line x1="521.0" y1="273.18" x2="525.3" y2="273.18" stroke="#111" stroke-width="1.5"/>
<line x1="521.0" y1="240.12" x2="525.3" y2="240.12" stroke="#111" stroke-width="1.5"/>
<text x="515.5" y="123.0" font-size="13" text-anchor="end" fill="#000" font-weight="normal" font-style="normal">0</text>
<text x="515.5" y="78.88" font-size="13" text-anchor="end" fill="#000" font-weight="normal" font-style="normal">1k</text>
<text x="515.5" y="34.760000000000005" font-size="13" text-anchor="end" fill="#000" font-weight="normal" font-style="normal">2k</text>
<text x="515.5" y="233.6" font-size="13" text-anchor="end" fill="#000" font-weight="normal" font-style="normal">0</text>
<text x="515.5" y="189.35999999999999" font-size="13" text-anchor="end" fill="#000" font-weight="normal" font-style="normal">40</text>
<text x="515.5" y="145.12" font-size="13" text-anchor="end" fill="#000" font-weight="normal" font-style="normal">80</text>
<text x="515.5" y="343.8" font-size="13" text-anchor="end" fill="#000" font-weight="normal" font-style="normal">0.00</text>
<text x="515.5" y="310.74" font-size="13" text-anchor="end" fill="#000" font-weight="normal" font-style="normal">0.03</text>
<text x="515.5" y="277.68" font-size="13" text-anchor="end" fill="#000" font-weight="normal" font-style="normal">0.06</text>
<text x="515.5" y="244.62" font-size="13" text-anchor="end" fill="#000" font-weight="normal" font-style="normal">0.09</text>
<text x="545.825" y="355.3" font-size="13" text-anchor="middle" fill="#000" font-weight="normal" font-style="normal">-100</text>
<text x="578.925" y="355.3" font-size="13" text-anchor="middle" fill="#000" font-weight="normal" font-style="normal">0</text>
<text x="612.025" y="355.3" font-size="13" text-anchor="middle" fill="#000" font-weight="normal" font-style="normal">100</text>
<text x="645.125" y="355.3" font-size="13" text-anchor="middle" fill="#000" font-weight="normal" font-style="normal">200</text>
<text x="587.2" y="373.0" font-size="13" text-anchor="middle" fill="#000" font-weight="normal" font-style="normal" textLength="100.5" lengthAdjust="spacingAndGlyphs">Temperature (°C)</text>
<text x="497.0" y="63.4" font-size="12" font-style="italic" text-anchor="middle" transform="rotate(-90 497.0 63.4)">ε′</text>
<text x="497.0" y="173.8" font-size="12" font-style="italic" text-anchor="middle" transform="rotate(-90 497.0 173.8)">ε″</text>
<text x="484.8" y="283.5" font-size="13" text-anchor="middle" transform="rotate(-90 484.8 283.5)">tan <tspan font-style="italic" >δ</tspan></text>
<text x="130.4" y="9.8" font-size="13" text-anchor="start" fill="#000" font-weight="bold" font-style="normal">(b)</text>
<text x="312.6" y="9.8" font-size="13" text-anchor="start" fill="#000" font-weight="bold" font-style="normal">(c)</text>
<text x="494.5" y="9.8" font-size="13" text-anchor="start" fill="#000" font-weight="bold" font-style="normal">(d)</text>
<rect x="235.3" y="8.2" width="6.4" height="331.1" fill="#c3c3c3"/>
<path d="M165.2,101.6 L166.0,101.1 L166.8,100.6 L167.5,100.0 L168.3,99.5 L169.1,99.0 L169.9,98.5 L170.7,97.9 L171.4,97.4 L172.2,96.8 L173.0,96.3 L173.8,95.7 L174.6,95.2 L175.3,94.6 L176.1,94.1 L176.9,93.5 L177.7,92.9 L178.4,92.3 L179.2,91.7 L180.0,91.1 L180.8,90.5 L181.6,89.9 L182.3,89.2 L183.1,88.6 L183.9,87.9 L184.7,87.3 L185.5,86.6 L186.2,85.9 L187.0,85.2 L187.8,84.4 L188.6,83.7 L189.4,83.0 L190.1,82.2 L190.9,81.4 L191.7,80.7 L192.5,79.9 L193.3,79.1 L194.0,78.3 L194.8,77.5 L195.6,76.7 L196.4,75.9 L197.1,75.1 L197.9,74.3 L198.7,73.5 L199.5,72.7 L200.3,71.9 L201.0,71.1 L201.8,70.3 L202.6,69.5 L203.4,68.7 L204.2,67.9 L204.9,67.2 L205.7,66.4 L206.5,65.6 L207.3,64.9 L208.1,64.1 L208.8,63.4 L209.6,62.7 L210.4,61.9 L211.2,61.2 L212.0,60.5 L212.7,59.8 L213.5,59.1 L214.3,58.5 L215.1,57.8 L215.8,57.2 L216.6,56.5 L217.4,55.9 L218.2,55.2 L219.0,54.6 L219.7,54.0 L220.5,53.4 L221.3,52.8 L222.1,52.3 L222.9,51.7 L223.6,51.2 L224.4,50.6 L225.2,50.1 L226.0,49.6 L226.8,49.1 L227.5,48.6 L228.3,48.2 L229.1,47.8 L229.9,47.3 L230.7,46.9 L231.4,46.6 L232.2,46.2 L233.0,45.9 L233.8,45.5 L234.5,45.3 L235.3,45.0 L236.1,44.7 L236.9,44.5 L237.7,44.3 L238.4,44.1 L239.2,44.0 L240.0,43.8 L240.8,43.7 L241.6,43.6 L242.3,43.5 L243.1,43.4 L243.9,43.3 L244.7,43.2 L245.5,43.2 L246.2,43.1 L247.0,43.1 L247.8,43.0 L248.6,43.0 L249.4,42.9 L250.1,42.9 L250.9,42.9 L251.7,42.8 L252.5,42.8 L253.2,42.7 L254.0,42.7 L254.8,42.6 L255.6,42.5 L256.4,42.5 L257.1,42.4 L257.9,42.3 L258.7,42.2 L259.5,42.1 L260.3,42.0 L261.0,41.9 L261.8,41.8 L262.6,41.7 L263.4,41.5 L264.2,41.4 L264.9,41.2 L265.7,41.0 L266.5,40.8 L267.3,40.6 L268.1,40.4 L268.8,40.1 L269.6,39.8 L270.4,39.6 L271.2,39.3 L271.9,39.0 L272.7,38.6 L273.5,38.3 L274.3,37.9 L275.1,37.5 L275.8,37.1 L276.6,36.7 L277.4,36.3 L278.2,35.8 L279.0,35.4 L279.7,34.9 L280.5,34.5 L281.3,34.0" fill="none" stroke="#3fa86a" stroke-width="1.8" stroke-linejoin="round" stroke-linecap="round"/>
<path d="M165.2,102.5 L166.0,101.9 L166.8,101.4 L167.5,100.8 L168.3,100.3 L169.1,99.7 L169.9,99.1 L170.7,98.6 L171.4,98.0 L172.2,97.5 L173.0,96.9 L173.8,96.3 L174.6,95.8 L175.3,95.2 L176.1,94.6 L176.9,94.0 L177.7,93.5 L178.4,92.9 L179.2,92.3 L180.0,91.7 L180.8,91.1 L181.6,90.5 L182.3,89.9 L183.1,89.3 L183.9,88.7 L184.7,88.1 L185.5,87.5 L186.2,86.9 L187.0,86.3 L187.8,85.6 L188.6,85.0 L189.4,84.4 L190.1,83.7 L190.9,83.1 L191.7,82.4 L192.5,81.8 L193.3,81.1 L194.0,80.4 L194.8,79.7 L195.6,79.1 L196.4,78.4 L197.1,77.7 L197.9,76.9 L198.7,76.2 L199.5,75.5 L200.3,74.7 L201.0,74.0 L201.8,73.2 L202.6,72.5 L203.4,71.7 L204.2,70.9 L204.9,70.1 L205.7,69.3 L206.5,68.4 L207.3,67.6 L208.1,66.8 L208.8,65.9 L209.6,65.1 L210.4,64.2 L211.2,63.4 L212.0,62.5 L212.7,61.6 L213.5,60.8 L214.3,59.9 L215.1,59.1 L215.8,58.2 L216.6,57.4 L217.4,56.6 L218.2,55.8 L219.0,55.0 L219.7,54.2 L220.5,53.5 L221.3,52.7 L222.1,52.0 L222.9,51.3 L223.6,50.6 L224.4,49.9 L225.2,49.3 L226.0,48.7 L226.8,48.1 L227.5,47.5 L228.3,46.9 L229.1,46.4 L229.9,45.9 L230.7,45.4 L231.4,45.0 L232.2,44.5 L233.0,44.1 L233.8,43.7 L234.5,43.4 L235.3,43.0 L236.1,42.7 L236.9,42.4 L237.7,42.2 L238.4,42.0 L239.2,41.7 L240.0,41.6 L240.8,41.4 L241.6,41.2 L242.3,41.1 L243.1,41.0 L243.9,40.9 L244.7,40.8 L245.5,40.7 L246.2,40.6 L247.0,40.6 L247.8,40.5 L248.6,40.5 L249.4,40.4 L250.1,40.4 L250.9,40.4 L251.7,40.4 L252.5,40.4 L253.2,40.3 L254.0,40.3 L254.8,40.3 L255.6,40.3 L256.4,40.3 L257.1,40.3 L257.9,40.2 L258.7,40.2 L259.5,40.1 L260.3,40.1 L261.0,40.0 L261.8,40.0 L262.6,39.9 L263.4,39.8 L264.2,39.7 L264.9,39.5 L265.7,39.4 L266.5,39.2 L267.3,39.1 L268.1,38.9 L268.8,38.6 L269.6,38.4 L270.4,38.1 L271.2,37.8 L271.9,37.5 L272.7,37.1 L273.5,36.7 L274.3,36.3 L275.1,35.9 L275.8,35.4 L276.6,34.9 L277.4,34.4 L278.2,33.9 L279.0,33.3 L279.7,32.8 L280.5,32.3 L281.3,31.7" fill="none" stroke="#2f6fdb" stroke-width="1.8" stroke-linejoin="round" stroke-linecap="round"/>
<path d="M165.2,103.5 L166.0,103.0 L166.8,102.6 L167.5,102.1 L168.3,101.6 L169.1,101.2 L169.9,100.7 L170.7,100.2 L171.4,99.7 L172.2,99.2 L173.0,98.8 L173.8,98.3 L174.6,97.8 L175.3,97.3 L176.1,96.8 L176.9,96.3 L177.7,95.8 L178.4,95.3 L179.2,94.8 L180.0,94.2 L180.8,93.7 L181.6,93.2 L182.3,92.6 L183.1,92.1 L183.9,91.5 L184.7,91.0 L185.5,90.4 L186.2,89.8 L187.0,89.2 L187.8,88.6 L188.6,88.0 L189.4,87.4 L190.1,86.8 L190.9,86.1 L191.7,85.5 L192.5,84.8 L193.3,84.1 L194.0,83.5 L194.8,82.8 L195.6,82.1 L196.4,81.4 L197.1,80.7 L197.9,80.0 L198.7,79.2 L199.5,78.5 L200.3,77.7 L201.0,77.0 L201.8,76.2 L202.6,75.4 L203.4,74.6 L204.2,73.8 L204.9,73.0 L205.7,72.2 L206.5,71.3 L207.3,70.5 L208.1,69.6 L208.8,68.8 L209.6,67.9 L210.4,67.0 L211.2,66.2 L212.0,65.3 L212.7,64.5 L213.5,63.6 L214.3,62.8 L215.1,61.9 L215.8,61.1 L216.6,60.3 L217.4,59.5 L218.2,58.7 L219.0,57.9 L219.7,57.2 L220.5,56.4 L221.3,55.7 L222.1,55.0 L222.9,54.4 L223.6,53.7 L224.4,53.1 L225.2,52.5 L226.0,51.9 L226.8,51.4 L227.5,50.9 L228.3,50.4 L229.1,49.9 L229.9,49.4 L230.7,49.0 L231.4,48.6 L232.2,48.2 L233.0,47.9 L233.8,47.6 L234.5,47.3 L235.3,47.0 L236.1,46.7 L236.9,46.5 L237.7,46.3 L238.4,46.1 L239.2,45.9 L240.0,45.8 L240.8,45.6 L241.6,45.5 L242.3,45.4 L243.1,45.4 L243.9,45.3 L244.7,45.3 L245.5,45.2 L246.2,45.2 L247.0,45.2 L247.8,45.2 L248.6,45.2 L249.4,45.2 L250.1,45.3 L250.9,45.3 L251.7,45.3 L252.5,45.4 L253.2,45.4 L254.0,45.5 L254.8,45.5 L255.6,45.6 L256.4,45.6 L257.1,45.6 L257.9,45.7 L258.7,45.7 L259.5,45.7 L260.3,45.7 L261.0,45.7 L261.8,45.6 L262.6,45.6 L263.4,45.5 L264.2,45.4 L264.9,45.3 L265.7,45.2 L266.5,45.0 L267.3,44.9 L268.1,44.7 L268.8,44.5 L269.6,44.2 L270.4,44.0 L271.2,43.7 L271.9,43.4 L272.7,43.1 L273.5,42.8 L274.3,42.5 L275.1,42.1 L275.8,41.7 L276.6,41.4 L277.4,41.0 L278.2,40.6 L279.0,40.2 L279.7,39.8 L280.5,39.4 L281.3,39.0" fill="none" stroke="#e8403f" stroke-width="1.8" stroke-linejoin="round" stroke-linecap="round"/>
<path d="M165.2,104.5 L166.0,104.1 L166.8,103.7 L167.5,103.3 L168.3,102.9 L169.1,102.5 L169.9,102.1 L170.7,101.6 L171.4,101.2 L172.2,100.8 L173.0,100.4 L173.8,100.0 L174.6,99.6 L175.3,99.1 L176.1,98.7 L176.9,98.3 L177.7,97.8 L178.4,97.4 L179.2,96.9 L180.0,96.5 L180.8,96.0 L181.6,95.6 L182.3,95.1 L183.1,94.7 L183.9,94.2 L184.7,93.7 L185.5,93.2 L186.2,92.7 L187.0,92.2 L187.8,91.7 L188.6,91.2 L189.4,90.7 L190.1,90.1 L190.9,89.6 L191.7,89.0 L192.5,88.4 L193.3,87.9 L194.0,87.3 L194.8,86.6 L195.6,86.0 L196.4,85.4 L197.1,84.7 L197.9,84.0 L198.7,83.3 L199.5,82.6 L200.3,81.9 L201.0,81.1 L201.8,80.3 L202.6,79.5 L203.4,78.7 L204.2,77.8 L204.9,76.9 L205.7,76.0 L206.5,75.1 L207.3,74.2 L208.1,73.2 L208.8,72.2 L209.6,71.2 L210.4,70.2 L211.2,69.2 L212.0,68.2 L212.7,67.1 L213.5,66.1 L214.3,65.1 L215.1,64.1 L215.8,63.1 L216.6,62.1 L217.4,61.1 L218.2,60.2 L219.0,59.3 L219.7,58.4 L220.5,57.5 L221.3,56.7 L222.1,55.9 L222.9,55.1 L223.6,54.4 L224.4,53.7 L225.2,53.0 L226.0,52.4 L226.8,51.8 L227.5,51.2 L228.3,50.7 L229.1,50.1 L229.9,49.7 L230.7,49.2 L231.4,48.8 L232.2,48.3 L233.0,48.0 L233.8,47.6 L234.5,47.3 L235.3,46.9 L236.1,46.7 L236.9,46.4 L237.7,46.1 L238.4,45.9 L239.2,45.7 L240.0,45.5 L240.8,45.3 L241.6,45.2 L242.3,45.0 L243.1,44.9 L243.9,44.8 L244.7,44.7 L245.5,44.6 L246.2,44.5 L247.0,44.5 L247.8,44.4 L248.6,44.4 L249.4,44.3 L250.1,44.3 L250.9,44.3 L251.7,44.3 L252.5,44.3 L253.2,44.3 L254.0,44.3 L254.8,44.3 L255.6,44.3 L256.4,44.3 L257.1,44.3 L257.9,44.3 L258.7,44.3 L259.5,44.4 L260.3,44.4 L261.0,44.4 L261.8,44.4 L262.6,44.4 L263.4,44.4 L264.2,44.4 L264.9,44.3 L265.7,44.3 L266.5,44.3 L267.3,44.2 L268.1,44.2 L268.8,44.1 L269.6,44.0 L270.4,43.9 L271.2,43.8 L271.9,43.7 L272.7,43.5 L273.5,43.4 L274.3,43.2 L275.1,43.1 L275.8,42.9 L276.6,42.7 L277.4,42.5 L278.2,42.3 L279.0,42.1 L279.7,41.8 L280.5,41.6 L281.3,41.4" fill="none" stroke="#4a4a4a" stroke-width="1.8" stroke-linejoin="round" stroke-linecap="round"/>
<path d="M165.2,199.5 L166.0,198.9 L166.8,198.2 L167.5,197.6 L168.3,196.9 L169.1,196.3 L169.9,195.7 L170.6,195.0 L171.4,194.4 L172.2,193.7 L173.0,193.1 L173.7,192.4 L174.5,191.8 L175.3,191.1 L176.1,190.5 L176.9,189.8 L177.6,189.1 L178.4,188.5 L179.2,187.8 L180.0,187.1 L180.7,186.4 L181.5,185.8 L182.3,185.1 L183.1,184.4 L183.9,183.7 L184.6,183.0 L185.4,182.3 L186.2,181.6 L187.0,180.9 L187.7,180.2 L188.5,179.5 L189.3,178.7 L190.1,178.0 L190.8,177.3 L191.6,176.6 L192.4,175.8 L193.2,175.1 L194.0,174.4 L194.7,173.6 L195.5,172.9 L196.3,172.1 L197.1,171.4 L197.8,170.7 L198.6,170.0 L199.4,169.2 L200.2,168.5 L201.0,167.8 L201.7,167.1 L202.5,166.3 L203.3,165.6 L204.1,164.9 L204.8,164.2 L205.6,163.5 L206.4,162.8 L207.2,162.2 L207.9,161.5 L208.7,160.8 L209.5,160.1 L210.3,159.5 L211.1,158.8 L211.8,158.2 L212.6,157.5 L213.4,156.9 L214.2,156.3 L214.9,155.6 L215.7,155.0 L216.5,154.4 L217.3,153.8 L218.0,153.2 L218.8,152.7 L219.6,152.2 L220.4,151.7 L221.2,151.3 L221.9,150.9 L222.7,150.6 L223.5,150.4 L224.3,150.2 L225.0,150.1 L225.8,150.2 L226.6,150.2 L227.4,150.4 L228.2,150.6 L228.9,150.9 L229.7,151.2 L230.5,151.6 L231.3,152.0 L232.0,152.5 L232.8,152.9 L233.6,153.5 L234.4,154.0 L235.1,154.5 L235.9,155.1 L236.7,155.7 L237.5,156.3 L238.3,156.9 L239.0,157.5 L239.8,158.1 L240.6,158.7 L241.4,159.3 L242.1,159.9 L242.9,160.5 L243.7,161.1 L244.5,161.7 L245.2,162.2 L246.0,162.8 L246.8,163.3 L247.6,163.8 L248.4,164.3 L249.1,164.8 L249.9,165.2 L250.7,165.7 L251.5,166.1 L252.2,166.5 L253.0,166.8 L253.8,167.2 L254.6,167.5 L255.4,167.8 L256.1,168.1 L256.9,168.3 L257.7,168.6 L258.5,168.8 L259.2,168.9 L260.0,169.1 L260.8,169.2 L261.6,169.3 L262.3,169.4 L263.1,169.5 L263.9,169.6 L264.7,169.7 L265.5,169.7 L266.2,169.8 L267.0,169.9 L267.8,169.9 L268.6,170.0 L269.3,170.1 L270.1,170.2 L270.9,170.3 L271.7,170.4 L272.5,170.6 L273.2,170.7 L274.0,170.9 L274.8,171.1 L275.6,171.2 L276.3,171.4 L277.1,171.6 L277.9,171.8 L278.7,172.1 L279.4,172.3 L280.2,172.5 L281.0,172.7" fill="none" stroke="#4a4a4a" stroke-width="1.8" stroke-linejoin="round" stroke-linecap="round"/>
<path d="M165.2,193.2 L166.0,192.1 L166.8,191.1 L167.5,190.0 L168.3,188.9 L169.1,187.8 L169.9,186.7 L170.6,185.6 L171.4,184.5 L172.2,183.4 L173.0,182.3 L173.7,181.1 L174.5,180.0 L175.3,178.8 L176.1,177.7 L176.9,176.5 L177.6,175.3 L178.4,174.0 L179.2,172.8 L180.0,171.5 L180.7,170.2 L181.5,168.9 L182.3,167.6 L183.1,166.3 L183.9,165.0 L184.6,163.6 L185.4,162.3 L186.2,161.1 L187.0,159.8 L187.7,158.6 L188.5,157.4 L189.3,156.3 L190.1,155.3 L190.8,154.3 L191.6,153.4 L192.4,152.5 L193.2,151.8 L194.0,151.2 L194.7,150.7 L195.5,150.3 L196.3,150.1 L197.1,150.0 L197.8,150.2 L198.6,150.4 L199.4,150.9 L200.2,151.5 L201.0,152.3 L201.7,153.1 L202.5,154.1 L203.3,155.2 L204.1,156.3 L204.8,157.6 L205.6,158.8 L206.4,160.2 L207.2,161.6 L207.9,163.0 L208.7,164.4 L209.5,165.9 L210.3,167.4 L211.1,168.8 L211.8,170.3 L212.6,171.8 L213.4,173.3 L214.2,174.8 L214.9,176.2 L215.7,177.6 L216.5,178.9 L217.3,180.3 L218.0,181.5 L218.8,182.7 L219.6,183.9 L220.4,185.0 L221.2,186.0 L221.9,186.9 L222.7,187.8 L223.5,188.5 L224.3,189.2 L225.0,189.9 L225.8,190.4 L226.6,191.0 L227.4,191.4 L228.2,191.8 L228.9,192.2 L229.7,192.5 L230.5,192.7 L231.3,193.0 L232.0,193.2 L232.8,193.4 L233.6,193.5 L234.4,193.6 L235.1,193.7 L235.9,193.8 L236.7,193.9 L237.5,194.0 L238.3,194.1 L239.0,194.2 L239.8,194.3 L240.6,194.4 L241.4,194.5 L242.1,194.6 L242.9,194.8 L243.7,194.9 L244.5,195.0 L245.2,195.1 L246.0,195.3 L246.8,195.4 L247.6,195.6 L248.4,195.7 L249.1,195.9 L249.9,196.0 L250.7,196.2 L251.5,196.3 L252.2,196.5 L253.0,196.7 L253.8,196.8 L254.6,197.0 L255.4,197.1 L256.1,197.3 L256.9,197.4 L257.7,197.6 L258.5,197.7 L259.2,197.9 L260.0,198.0 L260.8,198.2 L261.6,198.3 L262.3,198.4 L263.1,198.5 L263.9,198.6 L264.7,198.7 L265.5,198.8 L266.2,198.9 L267.0,199.0 L267.8,199.0 L268.6,199.1 L269.3,199.1 L270.1,199.1 L270.9,199.1 L271.7,199.1 L272.5,199.0 L273.2,198.9 L274.0,198.8 L274.8,198.8 L275.6,198.6 L276.3,198.5 L277.1,198.4 L277.9,198.3 L278.7,198.1 L279.4,198.0 L280.2,197.8 L281.0,197.7" fill="none" stroke="#e8403f" stroke-width="1.8" stroke-linejoin="round" stroke-linecap="round"/>
<path d="M165.2,192.2 L166.0,190.9 L166.8,189.7 L167.5,188.4 L168.3,187.1 L169.1,185.8 L169.9,184.6 L170.6,183.3 L171.4,182.1 L172.2,180.8 L173.0,179.5 L173.7,178.3 L174.5,177.0 L175.3,175.8 L176.1,174.6 L176.9,173.3 L177.6,172.1 L178.4,170.9 L179.2,169.7 L180.0,168.5 L180.7,167.3 L181.5,166.1 L182.3,164.9 L183.1,163.7 L183.9,162.5 L184.6,161.4 L185.4,160.2 L186.2,159.1 L187.0,157.9 L187.7,156.8 L188.5,155.6 L189.3,154.5 L190.1,153.3 L190.8,152.2 L191.6,151.0 L192.4,149.9 L193.2,148.8 L194.0,147.7 L194.7,146.7 L195.5,145.7 L196.3,144.9 L197.1,144.2 L197.8,143.7 L198.6,143.4 L199.4,143.4 L200.2,143.6 L201.0,144.0 L201.7,144.6 L202.5,145.5 L203.3,146.4 L204.1,147.5 L204.8,148.7 L205.6,149.9 L206.4,151.1 L207.2,152.4 L207.9,153.6 L208.7,154.8 L209.5,156.1 L210.3,157.3 L211.1,158.5 L211.8,159.7 L212.6,160.8 L213.4,161.9 L214.2,163.0 L214.9,164.0 L215.7,165.0 L216.5,166.0 L217.3,166.9 L218.0,167.8 L218.8,168.6 L219.6,169.4 L220.4,170.1 L221.2,170.8 L221.9,171.5 L222.7,172.1 L223.5,172.8 L224.3,173.4 L225.0,173.9 L225.8,174.5 L226.6,175.0 L227.4,175.5 L228.2,176.0 L228.9,176.5 L229.7,177.0 L230.5,177.4 L231.3,177.8 L232.0,178.2 L232.8,178.6 L233.6,179.0 L234.4,179.4 L235.1,179.8 L235.9,180.1 L236.7,180.5 L237.5,180.8 L238.3,181.2 L239.0,181.5 L239.8,181.8 L240.6,182.2 L241.4,182.5 L242.1,182.8 L242.9,183.1 L243.7,183.5 L244.5,183.8 L245.2,184.1 L246.0,184.3 L246.8,184.6 L247.6,184.9 L248.4,185.2 L249.1,185.4 L249.9,185.6 L250.7,185.9 L251.5,186.1 L252.2,186.3 L253.0,186.5 L253.8,186.6 L254.6,186.8 L255.4,186.9 L256.1,187.1 L256.9,187.2 L257.7,187.2 L258.5,187.3 L259.2,187.4 L260.0,187.4 L260.8,187.4 L261.6,187.4 L262.3,187.4 L263.1,187.3 L263.9,187.2 L264.7,187.1 L265.5,187.0 L266.2,186.8 L267.0,186.6 L267.8,186.4 L268.6,186.1 L269.3,185.8 L270.1,185.5 L270.9,185.1 L271.7,184.7 L272.5,184.3 L273.2,183.8 L274.0,183.3 L274.8,182.8 L275.6,182.3 L276.3,181.7 L277.1,181.2 L277.9,180.6 L278.7,180.0 L279.4,179.4 L280.2,178.8 L281.0,178.2" fill="none" stroke="#2f6fdb" stroke-width="1.8" stroke-linejoin="round" stroke-linecap="round"/>
<path d="M165.2,190.3 L166.0,188.8 L166.8,187.4 L167.5,185.9 L168.3,184.4 L169.1,183.0 L169.9,181.5 L170.6,180.0 L171.4,178.6 L172.2,177.1 L173.0,175.7 L173.7,174.2 L174.5,172.8 L175.3,171.3 L176.1,169.9 L176.9,168.5 L177.6,167.0 L178.4,165.6 L179.2,164.2 L180.0,162.8 L180.7,161.4 L181.5,160.0 L182.3,158.6 L183.1,157.2 L183.9,155.9 L184.6,154.5 L185.4,153.2 L186.2,151.9 L187.0,150.6 L187.7,149.3 L188.5,148.0 L189.3,146.8 L190.1,145.6 L190.8,144.4 L191.6,143.2 L192.4,142.1 L193.2,141.0 L194.0,140.0 L194.7,139.0 L195.5,138.1 L196.3,137.2 L197.1,136.5 L197.8,135.9 L198.6,135.3 L199.4,134.9 L200.2,134.7 L201.0,134.6 L201.7,134.7 L202.5,134.9 L203.3,135.3 L204.1,135.8 L204.8,136.5 L205.6,137.4 L206.4,138.4 L207.2,139.5 L207.9,140.7 L208.7,142.0 L209.5,143.4 L210.3,144.8 L211.1,146.3 L211.8,147.7 L212.6,149.2 L213.4,150.6 L214.2,151.9 L214.9,153.2 L215.7,154.4 L216.5,155.4 L217.3,156.4 L218.0,157.3 L218.8,158.0 L219.6,158.7 L220.4,159.3 L221.2,159.8 L221.9,160.3 L222.7,160.7 L223.5,161.0 L224.3,161.3 L225.0,161.6 L225.8,161.7 L226.6,161.9 L227.4,162.0 L228.2,162.0 L228.9,162.0 L229.7,162.0 L230.5,161.9 L231.3,161.8 L232.0,161.6 L232.8,161.4 L233.6,161.2 L234.4,160.9 L235.1,160.7 L235.9,160.4 L236.7,160.0 L237.5,159.7 L238.3,159.3 L239.0,159.0 L239.8,158.6 L240.6,158.2 L241.4,157.8 L242.1,157.4 L242.9,157.0 L243.7,156.6 L244.5,156.2 L245.2,155.8 L246.0,155.3 L246.8,154.9 L247.6,154.5 L248.4,154.0 L249.1,153.6 L249.9,153.1 L250.7,152.7 L251.5,152.2 L252.2,151.7 L253.0,151.3 L253.8,150.8 L254.6,150.3 L255.4,149.8 L256.1,149.3 L256.9,148.8 L257.7,148.2 L258.5,147.7 L259.2,147.1 L260.0,146.5 L260.8,145.9 L261.6,145.3 L262.3,144.6 L263.1,143.9 L263.9,143.2 L264.7,142.5 L265.5,141.7 L266.2,140.9 L267.0,140.0 L267.8,139.1 L268.6,138.2 L269.3,137.2 L270.1,136.2 L270.9,135.1 L271.7,134.0 L272.5,132.9 L273.2,131.7 L274.0,130.5 L274.8,129.3 L275.6,128.0 L276.3,126.8 L277.1,125.5 L277.9,124.2 L278.7,122.9 L279.4,121.6 L280.2,120.3 L281.0,119.0" fill="none" stroke="#3fa86a" stroke-width="1.8" stroke-linejoin="round" stroke-linecap="round"/>
<path d="M165.2,260.3 L166.0,260.6 L166.8,260.9 L167.5,261.2 L168.3,261.5 L169.1,261.8 L169.9,262.1 L170.6,262.4 L171.4,262.7 L172.2,263.1 L173.0,263.4 L173.7,263.8 L174.5,264.1 L175.3,264.5 L176.1,264.9 L176.9,265.3 L177.6,265.7 L178.4,266.1 L179.2,266.6 L180.0,267.0 L180.7,267.5 L181.5,267.9 L182.3,268.4 L183.1,268.9 L183.9,269.3 L184.6,269.8 L185.4,270.3 L186.2,270.8 L187.0,271.2 L187.7,271.7 L188.5,272.1 L189.3,272.6 L190.1,273.0 L190.8,273.4 L191.6,273.9 L192.4,274.3 L193.2,274.7 L194.0,275.1 L194.7,275.5 L195.5,275.9 L196.3,276.2 L197.1,276.6 L197.8,277.0 L198.6,277.4 L199.4,277.7 L200.2,278.1 L201.0,278.5 L201.7,278.8 L202.5,279.2 L203.3,279.5 L204.1,279.9 L204.8,280.2 L205.6,280.6 L206.4,280.9 L207.2,281.3 L207.9,281.6 L208.7,282.0 L209.5,282.4 L210.3,282.7 L211.1,283.1 L211.8,283.5 L212.6,283.9 L213.4,284.3 L214.2,284.8 L214.9,285.2 L215.7,285.7 L216.5,286.1 L217.3,286.6 L218.0,287.1 L218.8,287.7 L219.6,288.2 L220.4,288.7 L221.2,289.2 L221.9,289.8 L222.7,290.3 L223.5,290.9 L224.3,291.4 L225.0,292.0 L225.8,292.5 L226.6,293.0 L227.4,293.5 L228.2,294.1 L228.9,294.6 L229.7,295.1 L230.5,295.5 L231.3,296.0 L232.0,296.5 L232.8,296.9 L233.6,297.4 L234.4,297.8 L235.1,298.3 L235.9,298.7 L236.7,299.1 L237.5,299.5 L238.3,299.9 L239.0,300.3 L239.8,300.7 L240.6,301.1 L241.4,301.5 L242.1,301.8 L242.9,302.2 L243.7,302.5 L244.5,302.9 L245.2,303.2 L246.0,303.5 L246.8,303.8 L247.6,304.1 L248.4,304.4 L249.1,304.6 L249.9,304.9 L250.7,305.1 L251.5,305.3 L252.2,305.5 L253.0,305.7 L253.8,305.9 L254.6,306.1 L255.4,306.2 L256.1,306.3 L256.9,306.5 L257.7,306.6 L258.5,306.6 L259.2,306.7 L260.0,306.8 L260.8,306.9 L261.6,306.9 L262.3,307.0 L263.1,307.0 L263.9,307.1 L264.7,307.1 L265.5,307.2 L266.2,307.3 L267.0,307.3 L267.8,307.4 L268.6,307.5 L269.3,307.6 L270.1,307.7 L270.9,307.8 L271.7,307.9 L272.5,308.1 L273.2,308.2 L274.0,308.4 L274.8,308.5 L275.6,308.7 L276.3,308.9 L277.1,309.1 L277.9,309.3 L278.7,309.5 L279.4,309.7 L280.2,309.9 L281.0,310.1" fill="none" stroke="#4a4a4a" stroke-width="1.8" stroke-linejoin="round" stroke-linecap="round"/>
<path d="M165.2,248.9 L166.0,248.9 L166.8,248.8 L167.5,248.8 L168.3,248.7 L169.1,248.7 L169.9,248.6 L170.6,248.6 L171.4,248.5 L172.2,248.5 L173.0,248.4 L173.7,248.3 L174.5,248.3 L175.3,248.2 L176.1,248.1 L176.9,248.0 L177.6,247.9 L178.4,247.8 L179.2,247.7 L180.0,247.6 L180.7,247.6 L181.5,247.6 L182.3,247.5 L183.1,247.5 L183.9,247.6 L184.6,247.6 L185.4,247.7 L186.2,247.9 L187.0,248.0 L187.7,248.3 L188.5,248.5 L189.3,248.9 L190.1,249.3 L190.8,249.7 L191.6,250.2 L192.4,250.8 L193.2,251.5 L194.0,252.3 L194.7,253.1 L195.5,254.0 L196.3,255.0 L197.1,256.1 L197.8,257.2 L198.6,258.4 L199.4,259.7 L200.2,261.0 L201.0,262.4 L201.7,263.9 L202.5,265.3 L203.3,266.9 L204.1,268.4 L204.8,270.0 L205.6,271.6 L206.4,273.3 L207.2,274.9 L207.9,276.5 L208.7,278.1 L209.5,279.7 L210.3,281.3 L211.1,282.9 L211.8,284.4 L212.6,285.8 L213.4,287.2 L214.2,288.6 L214.9,289.8 L215.7,291.0 L216.5,292.1 L217.3,293.2 L218.0,294.2 L218.8,295.1 L219.6,296.0 L220.4,296.8 L221.2,297.5 L221.9,298.2 L222.7,298.8 L223.5,299.4 L224.3,299.9 L225.0,300.3 L225.8,300.7 L226.6,301.0 L227.4,301.3 L228.2,301.6 L228.9,301.8 L229.7,302.0 L230.5,302.1 L231.3,302.2 L232.0,302.2 L232.8,302.3 L233.6,302.3 L234.4,302.2 L235.1,302.2 L235.9,302.1 L236.7,302.0 L237.5,301.9 L238.3,301.8 L239.0,301.7 L239.8,301.5 L240.6,301.4 L241.4,301.2 L242.1,301.0 L242.9,300.8 L243.7,300.6 L244.5,300.4 L245.2,300.2 L246.0,300.0 L246.8,299.8 L247.6,299.5 L248.4,299.3 L249.1,299.0 L249.9,298.8 L250.7,298.5 L251.5,298.3 L252.2,298.0 L253.0,297.8 L253.8,297.5 L254.6,297.2 L255.4,297.0 L256.1,296.7 L256.9,296.4 L257.7,296.1 L258.5,295.9 L259.2,295.6 L260.0,295.3 L260.8,295.0 L261.6,294.7 L262.3,294.5 L263.1,294.2 L263.9,293.9 L264.7,293.6 L265.5,293.3 L266.2,293.0 L267.0,292.7 L267.8,292.5 L268.6,292.2 L269.3,291.9 L270.1,291.6 L270.9,291.3 L271.7,291.0 L272.5,290.8 L273.2,290.5 L274.0,290.2 L274.8,289.9 L275.6,289.6 L276.3,289.3 L277.1,289.0 L277.9,288.7 L278.7,288.5 L279.4,288.2 L280.2,287.9 L281.0,287.6" fill="none" stroke="#3fa86a" stroke-width="1.8" stroke-linejoin="round" stroke-linecap="round"/>
<path d="M165.2,250.1 L166.0,250.1 L166.8,250.1 L167.5,250.1 L168.3,250.1 L169.1,250.1 L169.9,250.1 L170.6,250.1 L171.4,250.1 L172.2,250.1 L173.0,250.2 L173.7,250.2 L174.5,250.2 L175.3,250.3 L176.1,250.3 L176.9,250.4 L177.6,250.4 L178.4,250.5 L179.2,250.6 L180.0,250.7 L180.7,250.8 L181.5,250.9 L182.3,251.1 L183.1,251.2 L183.9,251.4 L184.6,251.6 L185.4,251.8 L186.2,252.0 L187.0,252.2 L187.7,252.5 L188.5,252.8 L189.3,253.2 L190.1,253.5 L190.8,254.0 L191.6,254.4 L192.4,255.0 L193.2,255.5 L194.0,256.2 L194.7,256.9 L195.5,257.7 L196.3,258.5 L197.1,259.4 L197.8,260.4 L198.6,261.5 L199.4,262.6 L200.2,263.8 L201.0,265.0 L201.7,266.3 L202.5,267.7 L203.3,269.1 L204.1,270.5 L204.8,272.0 L205.6,273.5 L206.4,275.1 L207.2,276.7 L207.9,278.3 L208.7,279.9 L209.5,281.5 L210.3,283.1 L211.1,284.7 L211.8,286.3 L212.6,287.9 L213.4,289.4 L214.2,290.9 L214.9,292.3 L215.7,293.7 L216.5,295.0 L217.3,296.3 L218.0,297.4 L218.8,298.6 L219.6,299.7 L220.4,300.7 L221.2,301.6 L221.9,302.6 L222.7,303.4 L223.5,304.3 L224.3,305.0 L225.0,305.8 L225.8,306.5 L226.6,307.1 L227.4,307.8 L228.2,308.4 L228.9,308.9 L229.7,309.5 L230.5,310.0 L231.3,310.4 L232.0,310.9 L232.8,311.3 L233.6,311.7 L234.4,312.1 L235.1,312.4 L235.9,312.8 L236.7,313.1 L237.5,313.4 L238.3,313.7 L239.0,314.0 L239.8,314.3 L240.6,314.6 L241.4,314.8 L242.1,315.1 L242.9,315.3 L243.7,315.5 L244.5,315.7 L245.2,316.0 L246.0,316.2 L246.8,316.3 L247.6,316.5 L248.4,316.7 L249.1,316.9 L249.9,317.0 L250.7,317.2 L251.5,317.3 L252.2,317.4 L253.0,317.6 L253.8,317.7 L254.6,317.8 L255.4,317.9 L256.1,318.0 L256.9,318.1 L257.7,318.2 L258.5,318.2 L259.2,318.3 L260.0,318.4 L260.8,318.4 L261.6,318.5 L262.3,318.5 L263.1,318.5 L263.9,318.6 L264.7,318.6 L265.5,318.6 L266.2,318.6 L267.0,318.6 L267.8,318.5 L268.6,318.5 L269.3,318.5 L270.1,318.4 L270.9,318.3 L271.7,318.2 L272.5,318.1 L273.2,318.0 L274.0,317.9 L274.8,317.7 L275.6,317.6 L276.3,317.4 L277.1,317.2 L277.9,317.1 L278.7,316.9 L279.4,316.7 L280.2,316.5 L281.0,316.3" fill="none" stroke="#2f6fdb" stroke-width="1.8" stroke-linejoin="round" stroke-linecap="round"/>
<path d="M165.2,252.8 L166.0,252.7 L166.8,252.6 L167.5,252.5 L168.3,252.5 L169.1,252.4 L169.9,252.3 L170.6,252.2 L171.4,252.2 L172.2,252.1 L173.0,252.1 L173.7,252.0 L174.5,252.0 L175.3,252.0 L176.1,252.0 L176.9,252.0 L177.6,252.0 L178.4,252.0 L179.2,252.0 L180.0,252.1 L180.7,252.2 L181.5,252.3 L182.3,252.4 L183.1,252.5 L183.9,252.7 L184.6,252.8 L185.4,253.0 L186.2,253.3 L187.0,253.5 L187.7,253.8 L188.5,254.2 L189.3,254.5 L190.1,254.9 L190.8,255.4 L191.6,255.9 L192.4,256.4 L193.2,257.1 L194.0,257.7 L194.7,258.4 L195.5,259.2 L196.3,260.0 L197.1,260.9 L197.8,261.9 L198.6,262.9 L199.4,264.0 L200.2,265.2 L201.0,266.5 L201.7,267.8 L202.5,269.2 L203.3,270.7 L204.1,272.2 L204.8,273.8 L205.6,275.5 L206.4,277.2 L207.2,279.0 L207.9,280.7 L208.7,282.5 L209.5,284.4 L210.3,286.2 L211.1,288.0 L211.8,289.8 L212.6,291.6 L213.4,293.4 L214.2,295.1 L214.9,296.8 L215.7,298.5 L216.5,300.2 L217.3,301.7 L218.0,303.2 L218.8,304.7 L219.6,306.1 L220.4,307.4 L221.2,308.6 L221.9,309.7 L222.7,310.7 L223.5,311.7 L224.3,312.6 L225.0,313.3 L225.8,314.1 L226.6,314.7 L227.4,315.3 L228.2,315.8 L228.9,316.3 L229.7,316.7 L230.5,317.1 L231.3,317.5 L232.0,317.8 L232.8,318.1 L233.6,318.3 L234.4,318.6 L235.1,318.8 L235.9,319.0 L236.7,319.3 L237.5,319.5 L238.3,319.7 L239.0,319.9 L239.8,320.0 L240.6,320.2 L241.4,320.4 L242.1,320.6 L242.9,320.7 L243.7,320.9 L244.5,321.0 L245.2,321.1 L246.0,321.3 L246.8,321.4 L247.6,321.5 L248.4,321.6 L249.1,321.7 L249.9,321.8 L250.7,321.9 L251.5,322.0 L252.2,322.1 L253.0,322.2 L253.8,322.3 L254.6,322.4 L255.4,322.5 L256.1,322.5 L256.9,322.6 L257.7,322.7 L258.5,322.7 L259.2,322.8 L260.0,322.9 L260.8,322.9 L261.6,323.0 L262.3,323.0 L263.1,323.1 L263.9,323.1 L264.7,323.1 L265.5,323.2 L266.2,323.2 L267.0,323.3 L267.8,323.3 L268.6,323.3 L269.3,323.4 L270.1,323.4 L270.9,323.4 L271.7,323.4 L272.5,323.5 L273.2,323.5 L274.0,323.5 L274.8,323.5 L275.6,323.6 L276.3,323.6 L277.1,323.6 L277.9,323.6 L278.7,323.6 L279.4,323.7 L280.2,323.7 L281.0,323.7" fill="none" stroke="#e8403f" stroke-width="1.8" stroke-linejoin="round" stroke-linecap="round"/>
<line x1="253" y1="63.9" x2="259.4" y2="63.9" stroke="#4a4a4a" stroke-width="1.6"/>
<text x="265.5" y="68.4" font-size="13" text-anchor="start" fill="#000" font-weight="normal" font-style="normal" textLength="18.2" lengthAdjust="spacingAndGlyphs">x=0</text>
<line x1="253" y1="77.55" x2="259.4" y2="77.55" stroke="#e8403f" stroke-width="1.6"/>
<text x="265.5" y="82.05" font-size="13" text-anchor="start" fill="#000" font-weight="normal" font-style="normal" textLength="18.2" lengthAdjust="spacingAndGlyphs">x=1</text>
<line x1="253" y1="91.2" x2="259.4" y2="91.2" stroke="#2f6fdb" stroke-width="1.6"/>
<text x="265.5" y="95.7" font-size="13" text-anchor="start" fill="#000" font-weight="normal" font-style="normal" textLength="18.2" lengthAdjust="spacingAndGlyphs">x=2</text>
<line x1="253" y1="104.85" x2="259.4" y2="104.85" stroke="#3fa86a" stroke-width="1.6"/>
<text x="265.5" y="109.35" font-size="13" text-anchor="start" fill="#000" font-weight="normal" font-style="normal" textLength="18.2" lengthAdjust="spacingAndGlyphs">x=3</text>
<text x="244.6" y="23.4" font-size="13" font-style="italic">T<tspan font-style="normal" font-size="8.6" dx="0.2" dy="3.2" textLength="13.8" lengthAdjust="spacingAndGlyphs">O-T</tspan></text>
<g clip-path="url(#c_c_top)">
<path d="M347.4,103.2 L347.9,103.0 L348.4,102.8 L349.0,102.5 L349.5,102.3 L350.0,102.1 L350.5,101.9 L351.1,101.7 L351.6,101.5 L352.1,101.3 L352.7,101.0 L353.2,100.8 L353.7,100.6 L354.3,100.4 L354.8,100.1 L355.3,99.9 L355.8,99.7 L356.4,99.4 L356.9,99.2 L357.4,99.0 L358.0,98.7 L358.5,98.5 L359.0,98.2 L359.5,97.9 L360.1,97.7 L360.6,97.4 L361.1,97.1 L361.7,96.8 L362.2,96.6 L362.7,96.3 L363.2,96.0 L363.8,95.7 L364.3,95.4 L364.8,95.1 L365.4,94.8 L365.9,94.4 L366.4,94.1 L366.9,93.8 L367.5,93.4 L368.0,93.1 L368.5,92.7 L369.1,92.4 L369.6,92.0 L370.1,91.6 L370.7,91.3 L371.2,90.9 L371.7,90.5 L372.2,90.1 L372.8,89.7 L373.3,89.3 L373.8,88.8 L374.4,88.4 L374.9,88.0 L375.4,87.5 L375.9,87.1 L376.5,86.6 L377.0,86.1 L377.5,85.6 L378.1,85.1 L378.6,84.6 L379.1,84.1 L379.6,83.6 L380.2,83.1 L380.7,82.5 L381.2,82.0 L381.8,81.4 L382.3,80.8 L382.8,80.2 L383.3,79.6 L383.9,79.0 L384.4,78.4 L384.9,77.8 L385.5,77.2 L386.0,76.6 L386.5,76.0 L387.0,75.4 L387.6,74.8 L388.1,74.1 L388.6,73.5 L389.2,72.9 L389.7,72.3 L390.2,71.7 L390.8,71.1 L391.3,70.5 L391.8,69.9 L392.3,69.3 L392.9,68.7 L393.4,68.2 L393.9,67.6 L394.5,67.0 L395.0,66.4 L395.5,65.8 L396.0,65.2 L396.6,64.6 L397.1,64.0 L397.6,63.4 L398.2,62.8 L398.7,62.2 L399.2,61.5 L399.7,60.9 L400.3,60.3 L400.8,59.6 L401.3,59.0 L401.9,58.3 L402.4,57.6 L402.9,57.0 L403.4,56.3 L404.0,55.6 L404.5,55.0 L405.0,54.3 L405.6,53.7 L406.1,53.0 L406.6,52.4 L407.2,51.8 L407.7,51.2 L408.2,50.6 L408.7,50.0 L409.3,49.5 L409.8,49.0 L410.3,48.4 L410.9,48.0 L411.4,47.5 L411.9,47.1 L412.4,46.7 L413.0,46.3 L413.5,46.0 L414.0,45.7 L414.6,45.4 L415.1,45.2 L415.6,45.0 L416.1,44.8 L416.7,44.6 L417.2,44.5 L417.7,44.4 L418.3,44.3 L418.8,44.2 L419.3,44.1 L419.8,44.1 L420.4,44.1 L420.9,44.0 L421.4,44.0 L422.0,44.0 L422.5,44.0 L423.0,44.0 L423.6,44.1 L424.1,44.1 L424.6,44.1 L425.1,44.2 L425.7,44.2 L426.2,44.3 L426.7,44.3 L427.3,44.4 L427.8,44.4 L428.3,44.5 L428.8,44.5 L429.4,44.6 L429.9,44.7 L430.4,44.7 L431.0,44.8 L431.5,44.8 L432.0,44.9 L432.5,44.9 L433.1,45.0 L433.6,45.0 L434.1,45.1 L434.7,45.1 L435.2,45.2 L435.7,45.2 L436.2,45.3 L436.8,45.3 L437.3,45.3 L437.8,45.4 L438.4,45.4 L438.9,45.4 L439.4,45.4 L439.9,45.5 L440.5,45.5 L441.0,45.5 L441.5,45.5 L442.1,45.5 L442.6,45.5 L443.1,45.5 L443.7,45.5 L444.2,45.5 L444.7,45.5 L445.2,45.4 L445.8,45.4 L446.3,45.4 L446.8,45.3 L447.4,45.3 L447.9,45.2 L448.4,45.2 L448.9,45.1 L449.5,45.1 L450.0,45.0 L450.5,44.9 L451.1,44.8 L451.6,44.8 L452.1,44.7 L452.6,44.6 L453.2,44.5 L453.7,44.4 L454.2,44.2 L454.8,44.1 L455.3,44.0 L455.8,43.9 L456.3,43.7 L456.9,43.6 L457.4,43.4 L457.9,43.3 L458.5,43.1 L459.0,43.0 L459.5,42.8 L460.1,42.7 L460.6,42.5 L461.1,42.3 L461.6,42.2 L462.2,42.0 L462.7,41.8 L463.2,41.7" fill="none" stroke="#7a1fd6" stroke-width="1.75" stroke-linejoin="round" stroke-linecap="round"/>
<path d="M347.4,102.7 L347.9,102.5 L348.4,102.3 L349.0,102.1 L349.5,101.9 L350.0,101.6 L350.5,101.4 L351.1,101.2 L351.6,101.0 L352.1,100.8 L352.7,100.5 L353.2,100.3 L353.7,100.1 L354.3,99.8 L354.8,99.6 L355.3,99.4 L355.8,99.1 L356.4,98.9 L356.9,98.7 L357.4,98.4 L358.0,98.2 L358.5,97.9 L359.0,97.6 L359.5,97.4 L360.1,97.1 L360.6,96.8 L361.1,96.6 L361.7,96.3 L362.2,96.0 L362.7,95.7 L363.2,95.4 L363.8,95.1 L364.3,94.8 L364.8,94.5 L365.4,94.2 L365.9,93.8 L366.4,93.5 L366.9,93.2 L367.5,92.8 L368.0,92.5 L368.5,92.1 L369.1,91.7 L369.6,91.4 L370.1,91.0 L370.7,90.6 L371.2,90.2 L371.7,89.8 L372.2,89.4 L372.8,88.9 L373.3,88.5 L373.8,88.1 L374.4,87.6 L374.9,87.2 L375.4,86.7 L375.9,86.2 L376.5,85.7 L377.0,85.2 L377.5,84.7 L378.1,84.2 L378.6,83.7 L379.1,83.1 L379.6,82.6 L380.2,82.0 L380.7,81.5 L381.2,80.9 L381.8,80.3 L382.3,79.7 L382.8,79.1 L383.3,78.5 L383.9,77.8 L384.4,77.2 L384.9,76.6 L385.5,75.9 L386.0,75.3 L386.5,74.6 L387.0,74.0 L387.6,73.4 L388.1,72.7 L388.6,72.1 L389.2,71.4 L389.7,70.8 L390.2,70.2 L390.8,69.5 L391.3,68.9 L391.8,68.3 L392.3,67.6 L392.9,67.0 L393.4,66.4 L393.9,65.8 L394.5,65.1 L395.0,64.5 L395.5,63.9 L396.0,63.2 L396.6,62.6 L397.1,62.0 L397.6,61.3 L398.2,60.7 L398.7,60.0 L399.2,59.4 L399.7,58.7 L400.3,58.0 L400.8,57.3 L401.3,56.7 L401.9,56.0 L402.4,55.3 L402.9,54.7 L403.4,54.0 L404.0,53.3 L404.5,52.7 L405.0,52.1 L405.6,51.4 L406.1,50.8 L406.6,50.3 L407.2,49.7 L407.7,49.1 L408.2,48.6 L408.7,48.1 L409.3,47.6 L409.8,47.1 L410.3,46.7 L410.9,46.2 L411.4,45.8 L411.9,45.4 L412.4,45.1 L413.0,44.7 L413.5,44.4 L414.0,44.2 L414.6,43.9 L415.1,43.7 L415.6,43.5 L416.1,43.4 L416.7,43.2 L417.2,43.1 L417.7,43.0 L418.3,42.9 L418.8,42.9 L419.3,42.8 L419.8,42.8 L420.4,42.7 L420.9,42.7 L421.4,42.7 L422.0,42.7 L422.5,42.7 L423.0,42.7 L423.6,42.8 L424.1,42.8 L424.6,42.8 L425.1,42.9 L425.7,42.9 L426.2,43.0 L426.7,43.0 L427.3,43.1 L427.8,43.1 L428.3,43.2 L428.8,43.3 L429.4,43.3 L429.9,43.4 L430.4,43.4 L431.0,43.5 L431.5,43.5 L432.0,43.6 L432.5,43.6 L433.1,43.7 L433.6,43.7 L434.1,43.8 L434.7,43.8 L435.2,43.9 L435.7,43.9 L436.2,43.9 L436.8,44.0 L437.3,44.0 L437.8,44.0 L438.4,44.1 L438.9,44.1 L439.4,44.1 L439.9,44.1 L440.5,44.1 L441.0,44.1 L441.5,44.1 L442.1,44.1 L442.6,44.1 L443.1,44.1 L443.7,44.1 L444.2,44.1 L444.7,44.1 L445.2,44.0 L445.8,44.0 L446.3,44.0 L446.8,43.9 L447.4,43.9 L447.9,43.8 L448.4,43.8 L448.9,43.7 L449.5,43.6 L450.0,43.6 L450.5,43.5 L451.1,43.4 L451.6,43.3 L452.1,43.2 L452.6,43.1 L453.2,43.0 L453.7,42.9 L454.2,42.8 L454.8,42.6 L455.3,42.5 L455.8,42.4 L456.3,42.2 L456.9,42.1 L457.4,41.9 L457.9,41.8 L458.5,41.6 L459.0,41.5 L459.5,41.3 L460.1,41.1 L460.6,41.0 L461.1,40.8 L461.6,40.6 L462.2,40.5 L462.7,40.3 L463.2,40.1" fill="none" stroke="#2d40f0" stroke-width="1.75" stroke-linejoin="round" stroke-linecap="round"/>
<path d="M347.4,102.3 L347.9,102.0 L348.4,101.8 L349.0,101.6 L349.5,101.4 L350.0,101.2 L350.5,100.9 L351.1,100.7 L351.6,100.5 L352.1,100.3 L352.7,100.0 L353.2,99.8 L353.7,99.6 L354.3,99.3 L354.8,99.1 L355.3,98.8 L355.8,98.6 L356.4,98.4 L356.9,98.1 L357.4,97.9 L358.0,97.6 L358.5,97.3 L359.0,97.1 L359.5,96.8 L360.1,96.5 L360.6,96.3 L361.1,96.0 L361.7,95.7 L362.2,95.4 L362.7,95.1 L363.2,94.8 L363.8,94.5 L364.3,94.2 L364.8,93.9 L365.4,93.6 L365.9,93.2 L366.4,92.9 L366.9,92.6 L367.5,92.2 L368.0,91.8 L368.5,91.5 L369.1,91.1 L369.6,90.7 L370.1,90.3 L370.7,89.9 L371.2,89.5 L371.7,89.1 L372.2,88.7 L372.8,88.2 L373.3,87.8 L373.8,87.3 L374.4,86.8 L374.9,86.4 L375.4,85.9 L375.9,85.4 L376.5,84.9 L377.0,84.4 L377.5,83.8 L378.1,83.3 L378.6,82.7 L379.1,82.2 L379.6,81.6 L380.2,81.0 L380.7,80.4 L381.2,79.8 L381.8,79.2 L382.3,78.6 L382.8,77.9 L383.3,77.3 L383.9,76.6 L384.4,76.0 L384.9,75.3 L385.5,74.7 L386.0,74.0 L386.5,73.3 L387.0,72.6 L387.6,72.0 L388.1,71.3 L388.6,70.6 L389.2,69.9 L389.7,69.3 L390.2,68.6 L390.8,67.9 L391.3,67.3 L391.8,66.6 L392.3,65.9 L392.9,65.3 L393.4,64.6 L393.9,64.0 L394.5,63.3 L395.0,62.6 L395.5,62.0 L396.0,61.3 L396.6,60.6 L397.1,59.9 L397.6,59.2 L398.2,58.5 L398.7,57.9 L399.2,57.2 L399.7,56.5 L400.3,55.8 L400.8,55.1 L401.3,54.4 L401.9,53.7 L402.4,53.0 L402.9,52.3 L403.4,51.7 L404.0,51.0 L404.5,50.4 L405.0,49.8 L405.6,49.2 L406.1,48.7 L406.6,48.1 L407.2,47.6 L407.7,47.1 L408.2,46.6 L408.7,46.2 L409.3,45.7 L409.8,45.3 L410.3,44.9 L410.9,44.5 L411.4,44.1 L411.9,43.8 L412.4,43.4 L413.0,43.2 L413.5,42.9 L414.0,42.6 L414.6,42.4 L415.1,42.2 L415.6,42.1 L416.1,41.9 L416.7,41.8 L417.2,41.7 L417.7,41.6 L418.3,41.6 L418.8,41.5 L419.3,41.5 L419.8,41.4 L420.4,41.4 L420.9,41.4 L421.4,41.4 L422.0,41.4 L422.5,41.4 L423.0,41.5 L423.6,41.5 L424.1,41.5 L424.6,41.6 L425.1,41.6 L425.7,41.6 L426.2,41.7 L426.7,41.7 L427.3,41.8 L427.8,41.9 L428.3,41.9 L428.8,42.0 L429.4,42.0 L429.9,42.1 L430.4,42.1 L431.0,42.2 L431.5,42.2 L432.0,42.3 L432.5,42.3 L433.1,42.4 L433.6,42.4 L434.1,42.5 L434.7,42.5 L435.2,42.5 L435.7,42.6 L436.2,42.6 L436.8,42.6 L437.3,42.7 L437.8,42.7 L438.4,42.7 L438.9,42.7 L439.4,42.7 L439.9,42.8 L440.5,42.8 L441.0,42.8 L441.5,42.8 L442.1,42.8 L442.6,42.8 L443.1,42.7 L443.7,42.7 L444.2,42.7 L444.7,42.7 L445.2,42.7 L445.8,42.6 L446.3,42.6 L446.8,42.5 L447.4,42.5 L447.9,42.4 L448.4,42.4 L448.9,42.3 L449.5,42.2 L450.0,42.1 L450.5,42.1 L451.1,42.0 L451.6,41.9 L452.1,41.8 L452.6,41.7 L453.2,41.5 L453.7,41.4 L454.2,41.3 L454.8,41.2 L455.3,41.0 L455.8,40.9 L456.3,40.7 L456.9,40.6 L457.4,40.4 L457.9,40.3 L458.5,40.1 L459.0,39.9 L459.5,39.8 L460.1,39.6 L460.6,39.4 L461.1,39.3 L461.6,39.1 L462.2,38.9 L462.7,38.7 L463.2,38.6" fill="none" stroke="#1a9de8" stroke-width="1.75" stroke-linejoin="round" stroke-linecap="round"/>
<path d="M347.4,101.9 L347.9,101.6 L348.4,101.4 L349.0,101.2 L349.5,100.9 L350.0,100.7 L350.5,100.5 L351.1,100.3 L351.6,100.0 L352.1,99.8 L352.7,99.6 L353.2,99.3 L353.7,99.1 L354.3,98.9 L354.8,98.6 L355.3,98.4 L355.8,98.1 L356.4,97.9 L356.9,97.6 L357.4,97.4 L358.0,97.1 L358.5,96.8 L359.0,96.6 L359.5,96.3 L360.1,96.0 L360.6,95.8 L361.1,95.5 L361.7,95.2 L362.2,94.9 L362.7,94.6 L363.2,94.3 L363.8,94.0 L364.3,93.7 L364.8,93.4 L365.4,93.0 L365.9,92.7 L366.4,92.4 L366.9,92.0 L367.5,91.7 L368.0,91.3 L368.5,90.9 L369.1,90.5 L369.6,90.1 L370.1,89.7 L370.7,89.3 L371.2,88.9 L371.7,88.5 L372.2,88.0 L372.8,87.6 L373.3,87.1 L373.8,86.6 L374.4,86.2 L374.9,85.7 L375.4,85.2 L375.9,84.6 L376.5,84.1 L377.0,83.6 L377.5,83.0 L378.1,82.5 L378.6,81.9 L379.1,81.3 L379.6,80.7 L380.2,80.1 L380.7,79.5 L381.2,78.9 L381.8,78.2 L382.3,77.6 L382.8,76.9 L383.3,76.2 L383.9,75.6 L384.4,74.9 L384.9,74.2 L385.5,73.5 L386.0,72.8 L386.5,72.1 L387.0,71.4 L387.6,70.7 L388.1,70.0 L388.6,69.3 L389.2,68.6 L389.7,67.9 L390.2,67.2 L390.8,66.5 L391.3,65.8 L391.8,65.1 L392.3,64.4 L392.9,63.8 L393.4,63.1 L393.9,62.4 L394.5,61.7 L395.0,61.0 L395.5,60.3 L396.0,59.5 L396.6,58.8 L397.1,58.1 L397.6,57.4 L398.2,56.7 L398.7,55.9 L399.2,55.2 L399.7,54.5 L400.3,53.8 L400.8,53.1 L401.3,52.4 L401.9,51.7 L402.4,51.0 L402.9,50.3 L403.4,49.6 L404.0,49.0 L404.5,48.4 L405.0,47.8 L405.6,47.3 L406.1,46.7 L406.6,46.2 L407.2,45.7 L407.7,45.3 L408.2,44.8 L408.7,44.4 L409.3,44.0 L409.8,43.6 L410.3,43.3 L410.9,42.9 L411.4,42.6 L411.9,42.3 L412.4,42.0 L413.0,41.7 L413.5,41.5 L414.0,41.3 L414.6,41.1 L415.1,40.9 L415.6,40.8 L416.1,40.7 L416.7,40.6 L417.2,40.5 L417.7,40.4 L418.3,40.4 L418.8,40.3 L419.3,40.3 L419.8,40.3 L420.4,40.3 L420.9,40.2 L421.4,40.3 L422.0,40.3 L422.5,40.3 L423.0,40.3 L423.6,40.3 L424.1,40.4 L424.6,40.4 L425.1,40.5 L425.7,40.5 L426.2,40.5 L426.7,40.6 L427.3,40.7 L427.8,40.7 L428.3,40.8 L428.8,40.8 L429.4,40.9 L429.9,40.9 L430.4,41.0 L431.0,41.0 L431.5,41.1 L432.0,41.1 L432.5,41.2 L433.1,41.2 L433.6,41.2 L434.1,41.3 L434.7,41.3 L435.2,41.4 L435.7,41.4 L436.2,41.4 L436.8,41.5 L437.3,41.5 L437.8,41.5 L438.4,41.5 L438.9,41.5 L439.4,41.5 L439.9,41.6 L440.5,41.6 L441.0,41.6 L441.5,41.6 L442.1,41.6 L442.6,41.5 L443.1,41.5 L443.7,41.5 L444.2,41.5 L444.7,41.4 L445.2,41.4 L445.8,41.4 L446.3,41.3 L446.8,41.3 L447.4,41.2 L447.9,41.2 L448.4,41.1 L448.9,41.0 L449.5,40.9 L450.0,40.9 L450.5,40.8 L451.1,40.7 L451.6,40.6 L452.1,40.5 L452.6,40.4 L453.2,40.2 L453.7,40.1 L454.2,40.0 L454.8,39.8 L455.3,39.7 L455.8,39.6 L456.3,39.4 L456.9,39.2 L457.4,39.1 L457.9,38.9 L458.5,38.8 L459.0,38.6 L459.5,38.4 L460.1,38.3 L460.6,38.1 L461.1,37.9 L461.6,37.7 L462.2,37.5 L462.7,37.4 L463.2,37.2" fill="none" stroke="#15b9bf" stroke-width="1.75" stroke-linejoin="round" stroke-linecap="round"/>
<path d="M347.4,101.4 L347.9,101.2 L348.4,101.0 L349.0,100.8 L349.5,100.5 L350.0,100.3 L350.5,100.1 L351.1,99.8 L351.6,99.6 L352.1,99.3 L352.7,99.1 L353.2,98.9 L353.7,98.6 L354.3,98.4 L354.8,98.1 L355.3,97.9 L355.8,97.6 L356.4,97.4 L356.9,97.1 L357.4,96.9 L358.0,96.6 L358.5,96.4 L359.0,96.1 L359.5,95.8 L360.1,95.5 L360.6,95.3 L361.1,95.0 L361.7,94.7 L362.2,94.4 L362.7,94.1 L363.2,93.8 L363.8,93.5 L364.3,93.2 L364.8,92.8 L365.4,92.5 L365.9,92.2 L366.4,91.8 L366.9,91.5 L367.5,91.1 L368.0,90.7 L368.5,90.4 L369.1,90.0 L369.6,89.6 L370.1,89.2 L370.7,88.7 L371.2,88.3 L371.7,87.9 L372.2,87.4 L372.8,86.9 L373.3,86.5 L373.8,86.0 L374.4,85.5 L374.9,85.0 L375.4,84.4 L375.9,83.9 L376.5,83.4 L377.0,82.8 L377.5,82.2 L378.1,81.6 L378.6,81.1 L379.1,80.4 L379.6,79.8 L380.2,79.2 L380.7,78.6 L381.2,77.9 L381.8,77.2 L382.3,76.6 L382.8,75.9 L383.3,75.2 L383.9,74.5 L384.4,73.8 L384.9,73.1 L385.5,72.4 L386.0,71.6 L386.5,70.9 L387.0,70.2 L387.6,69.5 L388.1,68.7 L388.6,68.0 L389.2,67.3 L389.7,66.6 L390.2,65.8 L390.8,65.1 L391.3,64.4 L391.8,63.7 L392.3,62.9 L392.9,62.2 L393.4,61.5 L393.9,60.8 L394.5,60.0 L395.0,59.3 L395.5,58.5 L396.0,57.8 L396.6,57.0 L397.1,56.3 L397.6,55.5 L398.2,54.8 L398.7,54.0 L399.2,53.3 L399.7,52.5 L400.3,51.8 L400.8,51.0 L401.3,50.3 L401.9,49.6 L402.4,48.9 L402.9,48.2 L403.4,47.6 L404.0,47.0 L404.5,46.4 L405.0,45.8 L405.6,45.3 L406.1,44.8 L406.6,44.3 L407.2,43.9 L407.7,43.5 L408.2,43.1 L408.7,42.7 L409.3,42.3 L409.8,42.0 L410.3,41.7 L410.9,41.4 L411.4,41.1 L411.9,40.8 L412.4,40.6 L413.0,40.3 L413.5,40.1 L414.0,40.0 L414.6,39.8 L415.1,39.7 L415.6,39.5 L416.1,39.4 L416.7,39.3 L417.2,39.3 L417.7,39.2 L418.3,39.2 L418.8,39.1 L419.3,39.1 L419.8,39.1 L420.4,39.1 L420.9,39.1 L421.4,39.1 L422.0,39.1 L422.5,39.1 L423.0,39.2 L423.6,39.2 L424.1,39.2 L424.6,39.3 L425.1,39.3 L425.7,39.4 L426.2,39.4 L426.7,39.5 L427.3,39.5 L427.8,39.6 L428.3,39.6 L428.8,39.7 L429.4,39.7 L429.9,39.8 L430.4,39.8 L431.0,39.9 L431.5,39.9 L432.0,40.0 L432.5,40.0 L433.1,40.0 L433.6,40.1 L434.1,40.1 L434.7,40.2 L435.2,40.2 L435.7,40.2 L436.2,40.2 L436.8,40.3 L437.3,40.3 L437.8,40.3 L438.4,40.3 L438.9,40.3 L439.4,40.3 L439.9,40.4 L440.5,40.4 L441.0,40.4 L441.5,40.3 L442.1,40.3 L442.6,40.3 L443.1,40.3 L443.7,40.3 L444.2,40.2 L444.7,40.2 L445.2,40.2 L445.8,40.1 L446.3,40.1 L446.8,40.0 L447.4,40.0 L447.9,39.9 L448.4,39.8 L448.9,39.8 L449.5,39.7 L450.0,39.6 L450.5,39.5 L451.1,39.4 L451.6,39.3 L452.1,39.2 L452.6,39.1 L453.2,38.9 L453.7,38.8 L454.2,38.7 L454.8,38.5 L455.3,38.4 L455.8,38.2 L456.3,38.1 L456.9,37.9 L457.4,37.8 L457.9,37.6 L458.5,37.4 L459.0,37.3 L459.5,37.1 L460.1,36.9 L460.6,36.7 L461.1,36.5 L461.6,36.4 L462.2,36.2 L462.7,36.0 L463.2,35.8" fill="none" stroke="#12c98e" stroke-width="1.75" stroke-linejoin="round" stroke-linecap="round"/>
<path d="M347.4,101.0 L347.9,100.8 L348.4,100.6 L349.0,100.3 L349.5,100.1 L350.0,99.9 L350.5,99.6 L351.1,99.4 L351.6,99.1 L352.1,98.9 L352.7,98.7 L353.2,98.4 L353.7,98.2 L354.3,97.9 L354.8,97.7 L355.3,97.4 L355.8,97.2 L356.4,96.9 L356.9,96.6 L357.4,96.4 L358.0,96.1 L358.5,95.9 L359.0,95.6 L359.5,95.3 L360.1,95.0 L360.6,94.8 L361.1,94.5 L361.7,94.2 L362.2,93.9 L362.7,93.6 L363.2,93.3 L363.8,93.0 L364.3,92.6 L364.8,92.3 L365.4,92.0 L365.9,91.6 L366.4,91.3 L366.9,90.9 L367.5,90.6 L368.0,90.2 L368.5,89.8 L369.1,89.4 L369.6,89.0 L370.1,88.6 L370.7,88.1 L371.2,87.7 L371.7,87.2 L372.2,86.8 L372.8,86.3 L373.3,85.8 L373.8,85.3 L374.4,84.8 L374.9,84.3 L375.4,83.7 L375.9,83.2 L376.5,82.6 L377.0,82.0 L377.5,81.4 L378.1,80.8 L378.6,80.2 L379.1,79.6 L379.6,78.9 L380.2,78.3 L380.7,77.6 L381.2,77.0 L381.8,76.3 L382.3,75.6 L382.8,74.9 L383.3,74.2 L383.9,73.4 L384.4,72.7 L384.9,72.0 L385.5,71.2 L386.0,70.5 L386.5,69.7 L387.0,69.0 L387.6,68.2 L388.1,67.5 L388.6,66.7 L389.2,66.0 L389.7,65.2 L390.2,64.5 L390.8,63.7 L391.3,63.0 L391.8,62.2 L392.3,61.4 L392.9,60.7 L393.4,59.9 L393.9,59.2 L394.5,58.4 L395.0,57.6 L395.5,56.8 L396.0,56.1 L396.6,55.3 L397.1,54.5 L397.6,53.7 L398.2,52.9 L398.7,52.1 L399.2,51.3 L399.7,50.5 L400.3,49.8 L400.8,49.0 L401.3,48.3 L401.9,47.6 L402.4,46.9 L402.9,46.2 L403.4,45.5 L404.0,44.9 L404.5,44.3 L405.0,43.8 L405.6,43.3 L406.1,42.8 L406.6,42.4 L407.2,42.0 L407.7,41.6 L408.2,41.3 L408.7,41.0 L409.3,40.7 L409.8,40.4 L410.3,40.1 L410.9,39.8 L411.4,39.6 L411.9,39.3 L412.4,39.1 L413.0,38.9 L413.5,38.8 L414.0,38.6 L414.6,38.5 L415.1,38.4 L415.6,38.3 L416.1,38.2 L416.7,38.1 L417.2,38.0 L417.7,38.0 L418.3,38.0 L418.8,37.9 L419.3,37.9 L419.8,37.9 L420.4,37.9 L420.9,37.9 L421.4,37.9 L422.0,38.0 L422.5,38.0 L423.0,38.0 L423.6,38.0 L424.1,38.1 L424.6,38.1 L425.1,38.2 L425.7,38.2 L426.2,38.3 L426.7,38.3 L427.3,38.4 L427.8,38.4 L428.3,38.5 L428.8,38.5 L429.4,38.6 L429.9,38.6 L430.4,38.7 L431.0,38.7 L431.5,38.8 L432.0,38.8 L432.5,38.8 L433.1,38.9 L433.6,38.9 L434.1,38.9 L434.7,39.0 L435.2,39.0 L435.7,39.0 L436.2,39.1 L436.8,39.1 L437.3,39.1 L437.8,39.1 L438.4,39.1 L438.9,39.1 L439.4,39.1 L439.9,39.2 L440.5,39.1 L441.0,39.1 L441.5,39.1 L442.1,39.1 L442.6,39.1 L443.1,39.1 L443.7,39.0 L444.2,39.0 L444.7,39.0 L445.2,38.9 L445.8,38.9 L446.3,38.8 L446.8,38.8 L447.4,38.7 L447.9,38.6 L448.4,38.6 L448.9,38.5 L449.5,38.4 L450.0,38.3 L450.5,38.2 L451.1,38.1 L451.6,38.0 L452.1,37.9 L452.6,37.8 L453.2,37.6 L453.7,37.5 L454.2,37.4 L454.8,37.2 L455.3,37.1 L455.8,36.9 L456.3,36.8 L456.9,36.6 L457.4,36.4 L457.9,36.3 L458.5,36.1 L459.0,35.9 L459.5,35.7 L460.1,35.5 L460.6,35.4 L461.1,35.2 L461.6,35.0 L462.2,34.8 L462.7,34.6 L463.2,34.4" fill="none" stroke="#10d620" stroke-width="1.75" stroke-linejoin="round" stroke-linecap="round"/>
<path d="M347.4,100.6 L347.9,100.4 L348.4,100.2 L349.0,99.9 L349.5,99.7 L350.0,99.4 L350.5,99.2 L351.1,98.9 L351.6,98.7 L352.1,98.4 L352.7,98.2 L353.2,98.0 L353.7,97.7 L354.3,97.4 L354.8,97.2 L355.3,96.9 L355.8,96.7 L356.4,96.4 L356.9,96.2 L357.4,95.9 L358.0,95.6 L358.5,95.4 L359.0,95.1 L359.5,94.8 L360.1,94.5 L360.6,94.3 L361.1,94.0 L361.7,93.7 L362.2,93.4 L362.7,93.1 L363.2,92.8 L363.8,92.5 L364.3,92.1 L364.8,91.8 L365.4,91.5 L365.9,91.1 L366.4,90.8 L366.9,90.4 L367.5,90.0 L368.0,89.6 L368.5,89.2 L369.1,88.8 L369.6,88.4 L370.1,88.0 L370.7,87.5 L371.2,87.1 L371.7,86.6 L372.2,86.1 L372.8,85.7 L373.3,85.1 L373.8,84.6 L374.4,84.1 L374.9,83.5 L375.4,83.0 L375.9,82.4 L376.5,81.8 L377.0,81.2 L377.5,80.6 L378.1,80.0 L378.6,79.4 L379.1,78.7 L379.6,78.1 L380.2,77.4 L380.7,76.7 L381.2,76.0 L381.8,75.3 L382.3,74.6 L382.8,73.9 L383.3,73.1 L383.9,72.4 L384.4,71.6 L384.9,70.9 L385.5,70.1 L386.0,69.3 L386.5,68.5 L387.0,67.8 L387.6,67.0 L388.1,66.2 L388.6,65.4 L389.2,64.6 L389.7,63.9 L390.2,63.1 L390.8,62.3 L391.3,61.5 L391.8,60.7 L392.3,59.9 L392.9,59.1 L393.4,58.4 L393.9,57.6 L394.5,56.8 L395.0,55.9 L395.5,55.1 L396.0,54.3 L396.6,53.5 L397.1,52.7 L397.6,51.8 L398.2,51.0 L398.7,50.2 L399.2,49.4 L399.7,48.6 L400.3,47.8 L400.8,47.0 L401.3,46.3 L401.9,45.5 L402.4,44.8 L402.9,44.1 L403.4,43.5 L404.0,42.9 L404.5,42.3 L405.0,41.8 L405.6,41.3 L406.1,40.9 L406.6,40.5 L407.2,40.2 L407.7,39.8 L408.2,39.5 L408.7,39.2 L409.3,39.0 L409.8,38.7 L410.3,38.5 L410.9,38.3 L411.4,38.1 L411.9,37.9 L412.4,37.7 L413.0,37.5 L413.5,37.4 L414.0,37.3 L414.6,37.1 L415.1,37.1 L415.6,37.0 L416.1,36.9 L416.7,36.9 L417.2,36.8 L417.7,36.8 L418.3,36.8 L418.8,36.7 L419.3,36.7 L419.8,36.7 L420.4,36.7 L420.9,36.8 L421.4,36.8 L422.0,36.8 L422.5,36.8 L423.0,36.9 L423.6,36.9 L424.1,36.9 L424.6,37.0 L425.1,37.0 L425.7,37.1 L426.2,37.1 L426.7,37.2 L427.3,37.2 L427.8,37.3 L428.3,37.3 L428.8,37.4 L429.4,37.4 L429.9,37.5 L430.4,37.5 L431.0,37.6 L431.5,37.6 L432.0,37.6 L432.5,37.7 L433.1,37.7 L433.6,37.7 L434.1,37.8 L434.7,37.8 L435.2,37.8 L435.7,37.9 L436.2,37.9 L436.8,37.9 L437.3,37.9 L437.8,37.9 L438.4,37.9 L438.9,37.9 L439.4,37.9 L439.9,37.9 L440.5,37.9 L441.0,37.9 L441.5,37.9 L442.1,37.9 L442.6,37.9 L443.1,37.9 L443.7,37.8 L444.2,37.8 L444.7,37.7 L445.2,37.7 L445.8,37.6 L446.3,37.6 L446.8,37.5 L447.4,37.5 L447.9,37.4 L448.4,37.3 L448.9,37.2 L449.5,37.1 L450.0,37.0 L450.5,36.9 L451.1,36.8 L451.6,36.7 L452.1,36.6 L452.6,36.5 L453.2,36.3 L453.7,36.2 L454.2,36.0 L454.8,35.9 L455.3,35.7 L455.8,35.6 L456.3,35.4 L456.9,35.3 L457.4,35.1 L457.9,34.9 L458.5,34.7 L459.0,34.6 L459.5,34.4 L460.1,34.2 L460.6,34.0 L461.1,33.8 L461.6,33.6 L462.2,33.4 L462.7,33.3 L463.2,33.1" fill="none" stroke="#a2dc32" stroke-width="1.75" stroke-linejoin="round" stroke-linecap="round"/>
<path d="M347.4,100.2 L347.9,100.0 L348.4,99.7 L349.0,99.5 L349.5,99.2 L350.0,99.0 L350.5,98.7 L351.1,98.5 L351.6,98.2 L352.1,98.0 L352.7,97.7 L353.2,97.5 L353.7,97.2 L354.3,97.0 L354.8,96.7 L355.3,96.5 L355.8,96.2 L356.4,95.9 L356.9,95.7 L357.4,95.4 L358.0,95.1 L358.5,94.9 L359.0,94.6 L359.5,94.3 L360.1,94.0 L360.6,93.7 L361.1,93.5 L361.7,93.2 L362.2,92.9 L362.7,92.6 L363.2,92.3 L363.8,91.9 L364.3,91.6 L364.8,91.3 L365.4,90.9 L365.9,90.6 L366.4,90.2 L366.9,89.9 L367.5,89.5 L368.0,89.1 L368.5,88.7 L369.1,88.3 L369.6,87.8 L370.1,87.4 L370.7,87.0 L371.2,86.5 L371.7,86.0 L372.2,85.5 L372.8,85.0 L373.3,84.5 L373.8,84.0 L374.4,83.4 L374.9,82.8 L375.4,82.3 L375.9,81.7 L376.5,81.1 L377.0,80.5 L377.5,79.8 L378.1,79.2 L378.6,78.5 L379.1,77.9 L379.6,77.2 L380.2,76.5 L380.7,75.8 L381.2,75.1 L381.8,74.3 L382.3,73.6 L382.8,72.8 L383.3,72.1 L383.9,71.3 L384.4,70.5 L384.9,69.7 L385.5,68.9 L386.0,68.2 L386.5,67.4 L387.0,66.6 L387.6,65.7 L388.1,64.9 L388.6,64.1 L389.2,63.3 L389.7,62.5 L390.2,61.7 L390.8,60.9 L391.3,60.1 L391.8,59.3 L392.3,58.4 L392.9,57.6 L393.4,56.8 L393.9,56.0 L394.5,55.1 L395.0,54.3 L395.5,53.4 L396.0,52.6 L396.6,51.7 L397.1,50.8 L397.6,50.0 L398.2,49.1 L398.7,48.3 L399.2,47.4 L399.7,46.6 L400.3,45.8 L400.8,45.0 L401.3,44.2 L401.9,43.5 L402.4,42.8 L402.9,42.1 L403.4,41.4 L404.0,40.8 L404.5,40.3 L405.0,39.8 L405.6,39.3 L406.1,39.0 L406.6,38.6 L407.2,38.3 L407.7,38.0 L408.2,37.8 L408.7,37.5 L409.3,37.3 L409.8,37.1 L410.3,36.9 L410.9,36.7 L411.4,36.6 L411.9,36.4 L412.4,36.3 L413.0,36.1 L413.5,36.0 L414.0,35.9 L414.6,35.8 L415.1,35.8 L415.6,35.7 L416.1,35.6 L416.7,35.6 L417.2,35.6 L417.7,35.6 L418.3,35.6 L418.8,35.5 L419.3,35.6 L419.8,35.6 L420.4,35.6 L420.9,35.6 L421.4,35.6 L422.0,35.6 L422.5,35.7 L423.0,35.7 L423.6,35.8 L424.1,35.8 L424.6,35.8 L425.1,35.9 L425.7,35.9 L426.2,36.0 L426.7,36.0 L427.3,36.1 L427.8,36.1 L428.3,36.2 L428.8,36.2 L429.4,36.3 L429.9,36.3 L430.4,36.4 L431.0,36.4 L431.5,36.4 L432.0,36.5 L432.5,36.5 L433.1,36.5 L433.6,36.6 L434.1,36.6 L434.7,36.6 L435.2,36.7 L435.7,36.7 L436.2,36.7 L436.8,36.7 L437.3,36.7 L437.8,36.7 L438.4,36.7 L438.9,36.8 L439.4,36.8 L439.9,36.7 L440.5,36.7 L441.0,36.7 L441.5,36.7 L442.1,36.7 L442.6,36.7 L443.1,36.6 L443.7,36.6 L444.2,36.6 L444.7,36.5 L445.2,36.5 L445.8,36.4 L446.3,36.3 L446.8,36.3 L447.4,36.2 L447.9,36.1 L448.4,36.0 L448.9,36.0 L449.5,35.9 L450.0,35.8 L450.5,35.7 L451.1,35.5 L451.6,35.4 L452.1,35.3 L452.6,35.2 L453.2,35.0 L453.7,34.9 L454.2,34.7 L454.8,34.6 L455.3,34.4 L455.8,34.3 L456.3,34.1 L456.9,33.9 L457.4,33.8 L457.9,33.6 L458.5,33.4 L459.0,33.2 L459.5,33.0 L460.1,32.8 L460.6,32.7 L461.1,32.5 L461.6,32.3 L462.2,32.1 L462.7,31.9 L463.2,31.7" fill="none" stroke="#e6d630" stroke-width="1.75" stroke-linejoin="round" stroke-linecap="round"/>
<path d="M347.4,99.8 L347.9,99.6 L348.4,99.3 L349.0,99.1 L349.5,98.8 L350.0,98.6 L350.5,98.3 L351.1,98.1 L351.6,97.8 L352.1,97.5 L352.7,97.3 L353.2,97.0 L353.7,96.8 L354.3,96.5 L354.8,96.3 L355.3,96.0 L355.8,95.7 L356.4,95.5 L356.9,95.2 L357.4,94.9 L358.0,94.6 L358.5,94.4 L359.0,94.1 L359.5,93.8 L360.1,93.5 L360.6,93.2 L361.1,93.0 L361.7,92.7 L362.2,92.4 L362.7,92.0 L363.2,91.7 L363.8,91.4 L364.3,91.1 L364.8,90.8 L365.4,90.4 L365.9,90.1 L366.4,89.7 L366.9,89.3 L367.5,88.9 L368.0,88.5 L368.5,88.1 L369.1,87.7 L369.6,87.3 L370.1,86.8 L370.7,86.4 L371.2,85.9 L371.7,85.4 L372.2,84.9 L372.8,84.4 L373.3,83.8 L373.8,83.3 L374.4,82.7 L374.9,82.1 L375.4,81.5 L375.9,80.9 L376.5,80.3 L377.0,79.7 L377.5,79.0 L378.1,78.4 L378.6,77.7 L379.1,77.0 L379.6,76.3 L380.2,75.6 L380.7,74.8 L381.2,74.1 L381.8,73.4 L382.3,72.6 L382.8,71.8 L383.3,71.0 L383.9,70.2 L384.4,69.4 L384.9,68.6 L385.5,67.8 L386.0,67.0 L386.5,66.2 L387.0,65.3 L387.6,64.5 L388.1,63.7 L388.6,62.8 L389.2,62.0 L389.7,61.2 L390.2,60.3 L390.8,59.5 L391.3,58.6 L391.8,57.8 L392.3,56.9 L392.9,56.1 L393.4,55.2 L393.9,54.3 L394.5,53.5 L395.0,52.6 L395.5,51.7 L396.0,50.8 L396.6,49.9 L397.1,49.0 L397.6,48.1 L398.2,47.2 L398.7,46.4 L399.2,45.5 L399.7,44.6 L400.3,43.8 L400.8,43.0 L401.3,42.2 L401.9,41.4 L402.4,40.7 L402.9,40.0 L403.4,39.4 L404.0,38.8 L404.5,38.3 L405.0,37.8 L405.6,37.4 L406.1,37.0 L406.6,36.7 L407.2,36.4 L407.7,36.2 L408.2,36.0 L408.7,35.8 L409.3,35.6 L409.8,35.5 L410.3,35.3 L410.9,35.2 L411.4,35.1 L411.9,34.9 L412.4,34.8 L413.0,34.7 L413.5,34.6 L414.0,34.6 L414.6,34.5 L415.1,34.5 L415.6,34.4 L416.1,34.4 L416.7,34.4 L417.2,34.4 L417.7,34.3 L418.3,34.3 L418.8,34.4 L419.3,34.4 L419.8,34.4 L420.4,34.4 L420.9,34.4 L421.4,34.5 L422.0,34.5 L422.5,34.5 L423.0,34.6 L423.6,34.6 L424.1,34.6 L424.6,34.7 L425.1,34.7 L425.7,34.8 L426.2,34.8 L426.7,34.9 L427.3,34.9 L427.8,35.0 L428.3,35.0 L428.8,35.1 L429.4,35.1 L429.9,35.2 L430.4,35.2 L431.0,35.2 L431.5,35.3 L432.0,35.3 L432.5,35.3 L433.1,35.4 L433.6,35.4 L434.1,35.4 L434.7,35.5 L435.2,35.5 L435.7,35.5 L436.2,35.5 L436.8,35.5 L437.3,35.5 L437.8,35.6 L438.4,35.6 L438.9,35.6 L439.4,35.6 L439.9,35.5 L440.5,35.5 L441.0,35.5 L441.5,35.5 L442.1,35.5 L442.6,35.4 L443.1,35.4 L443.7,35.4 L444.2,35.3 L444.7,35.3 L445.2,35.2 L445.8,35.2 L446.3,35.1 L446.8,35.0 L447.4,35.0 L447.9,34.9 L448.4,34.8 L448.9,34.7 L449.5,34.6 L450.0,34.5 L450.5,34.4 L451.1,34.3 L451.6,34.1 L452.1,34.0 L452.6,33.9 L453.2,33.7 L453.7,33.6 L454.2,33.4 L454.8,33.3 L455.3,33.1 L455.8,32.9 L456.3,32.8 L456.9,32.6 L457.4,32.4 L457.9,32.2 L458.5,32.1 L459.0,31.9 L459.5,31.7 L460.1,31.5 L460.6,31.3 L461.1,31.1 L461.6,30.9 L462.2,30.7 L462.7,30.5 L463.2,30.3" fill="none" stroke="#e9b131" stroke-width="1.75" stroke-linejoin="round" stroke-linecap="round"/>
<path d="M347.4,99.4 L347.9,99.2 L348.4,98.9 L349.0,98.7 L349.5,98.4 L350.0,98.1 L350.5,97.9 L351.1,97.6 L351.6,97.4 L352.1,97.1 L352.7,96.8 L353.2,96.6 L353.7,96.3 L354.3,96.0 L354.8,95.8 L355.3,95.5 L355.8,95.2 L356.4,95.0 L356.9,94.7 L357.4,94.4 L358.0,94.2 L358.5,93.9 L359.0,93.6 L359.5,93.3 L360.1,93.0 L360.6,92.7 L361.1,92.4 L361.7,92.1 L362.2,91.8 L362.7,91.5 L363.2,91.2 L363.8,90.9 L364.3,90.6 L364.8,90.2 L365.4,89.9 L365.9,89.5 L366.4,89.2 L366.9,88.8 L367.5,88.4 L368.0,88.0 L368.5,87.6 L369.1,87.1 L369.6,86.7 L370.1,86.2 L370.7,85.8 L371.2,85.3 L371.7,84.8 L372.2,84.3 L372.8,83.7 L373.3,83.2 L373.8,82.6 L374.4,82.0 L374.9,81.4 L375.4,80.8 L375.9,80.2 L376.5,79.6 L377.0,78.9 L377.5,78.2 L378.1,77.5 L378.6,76.8 L379.1,76.1 L379.6,75.4 L380.2,74.7 L380.7,73.9 L381.2,73.2 L381.8,72.4 L382.3,71.6 L382.8,70.8 L383.3,70.0 L383.9,69.2 L384.4,68.3 L384.9,67.5 L385.5,66.7 L386.0,65.8 L386.5,65.0 L387.0,64.1 L387.6,63.3 L388.1,62.4 L388.6,61.5 L389.2,60.7 L389.7,59.8 L390.2,58.9 L390.8,58.1 L391.3,57.2 L391.8,56.3 L392.3,55.4 L392.9,54.5 L393.4,53.6 L393.9,52.7 L394.5,51.8 L395.0,50.9 L395.5,50.0 L396.0,49.1 L396.6,48.2 L397.1,47.2 L397.6,46.3 L398.2,45.4 L398.7,44.4 L399.2,43.5 L399.7,42.7 L400.3,41.8 L400.8,41.0 L401.3,40.2 L401.9,39.4 L402.4,38.7 L402.9,38.0 L403.4,37.3 L404.0,36.8 L404.5,36.2 L405.0,35.8 L405.6,35.4 L406.1,35.1 L406.6,34.8 L407.2,34.6 L407.7,34.4 L408.2,34.2 L408.7,34.1 L409.3,33.9 L409.8,33.8 L410.3,33.7 L410.9,33.6 L411.4,33.5 L411.9,33.5 L412.4,33.4 L413.0,33.3 L413.5,33.3 L414.0,33.2 L414.6,33.2 L415.1,33.2 L415.6,33.1 L416.1,33.1 L416.7,33.1 L417.2,33.1 L417.7,33.1 L418.3,33.1 L418.8,33.2 L419.3,33.2 L419.8,33.2 L420.4,33.2 L420.9,33.3 L421.4,33.3 L422.0,33.3 L422.5,33.4 L423.0,33.4 L423.6,33.5 L424.1,33.5 L424.6,33.5 L425.1,33.6 L425.7,33.6 L426.2,33.7 L426.7,33.7 L427.3,33.8 L427.8,33.8 L428.3,33.9 L428.8,33.9 L429.4,34.0 L429.9,34.0 L430.4,34.0 L431.0,34.1 L431.5,34.1 L432.0,34.2 L432.5,34.2 L433.1,34.2 L433.6,34.2 L434.1,34.3 L434.7,34.3 L435.2,34.3 L435.7,34.3 L436.2,34.3 L436.8,34.4 L437.3,34.4 L437.8,34.4 L438.4,34.4 L438.9,34.4 L439.4,34.4 L439.9,34.3 L440.5,34.3 L441.0,34.3 L441.5,34.3 L442.1,34.3 L442.6,34.2 L443.1,34.2 L443.7,34.1 L444.2,34.1 L444.7,34.0 L445.2,34.0 L445.8,33.9 L446.3,33.9 L446.8,33.8 L447.4,33.7 L447.9,33.6 L448.4,33.5 L448.9,33.4 L449.5,33.3 L450.0,33.2 L450.5,33.1 L451.1,33.0 L451.6,32.8 L452.1,32.7 L452.6,32.6 L453.2,32.4 L453.7,32.3 L454.2,32.1 L454.8,32.0 L455.3,31.8 L455.8,31.6 L456.3,31.4 L456.9,31.3 L457.4,31.1 L457.9,30.9 L458.5,30.7 L459.0,30.5 L459.5,30.3 L460.1,30.1 L460.6,29.9 L461.1,29.7 L461.6,29.5 L462.2,29.3 L462.7,29.1 L463.2,28.9" fill="none" stroke="#f18131" stroke-width="1.75" stroke-linejoin="round" stroke-linecap="round"/>
<path d="M347.4,98.9 L347.9,98.6 L348.4,98.3 L349.0,98.1 L349.5,97.8 L350.0,97.5 L350.5,97.3 L351.1,97.0 L351.6,96.7 L352.1,96.5 L352.7,96.2 L353.2,95.9 L353.7,95.7 L354.3,95.4 L354.8,95.1 L355.3,94.9 L355.8,94.6 L356.4,94.3 L356.9,94.0 L357.4,93.8 L358.0,93.5 L358.5,93.2 L359.0,92.9 L359.5,92.6 L360.1,92.3 L360.6,92.0 L361.1,91.8 L361.7,91.5 L362.2,91.1 L362.7,90.8 L363.2,90.5 L363.8,90.2 L364.3,89.9 L364.8,89.5 L365.4,89.2 L365.9,88.8 L366.4,88.4 L366.9,88.0 L367.5,87.6 L368.0,87.2 L368.5,86.8 L369.1,86.4 L369.6,85.9 L370.1,85.4 L370.7,85.0 L371.2,84.5 L371.7,83.9 L372.2,83.4 L372.8,82.8 L373.3,82.3 L373.8,81.7 L374.4,81.1 L374.9,80.5 L375.4,79.8 L375.9,79.2 L376.5,78.5 L377.0,77.8 L377.5,77.1 L378.1,76.4 L378.6,75.7 L379.1,75.0 L379.6,74.2 L380.2,73.4 L380.7,72.6 L381.2,71.8 L381.8,71.0 L382.3,70.2 L382.8,69.4 L383.3,68.5 L383.9,67.7 L384.4,66.8 L384.9,66.0 L385.5,65.1 L386.0,64.2 L386.5,63.3 L387.0,62.4 L387.6,61.6 L388.1,60.7 L388.6,59.8 L389.2,58.9 L389.7,58.0 L390.2,57.0 L390.8,56.1 L391.3,55.2 L391.8,54.3 L392.3,53.4 L392.9,52.4 L393.4,51.5 L393.9,50.5 L394.5,49.6 L395.0,48.6 L395.5,47.7 L396.0,46.7 L396.6,45.7 L397.1,44.7 L397.6,43.7 L398.2,42.8 L398.7,41.8 L399.2,40.9 L399.7,39.9 L400.3,39.0 L400.8,38.2 L401.3,37.4 L401.9,36.6 L402.4,35.8 L402.9,35.2 L403.4,34.5 L404.0,34.0 L404.5,33.5 L405.0,33.0 L405.6,32.7 L406.1,32.4 L406.6,32.2 L407.2,32.0 L407.7,31.9 L408.2,31.8 L408.7,31.7 L409.3,31.6 L409.8,31.6 L410.3,31.5 L410.9,31.5 L411.4,31.5 L411.9,31.4 L412.4,31.4 L413.0,31.4 L413.5,31.4 L414.0,31.4 L414.6,31.4 L415.1,31.4 L415.6,31.4 L416.1,31.4 L416.7,31.4 L417.2,31.4 L417.7,31.5 L418.3,31.5 L418.8,31.5 L419.3,31.6 L419.8,31.6 L420.4,31.6 L420.9,31.7 L421.4,31.7 L422.0,31.7 L422.5,31.8 L423.0,31.8 L423.6,31.9 L424.1,31.9 L424.6,32.0 L425.1,32.0 L425.7,32.1 L426.2,32.1 L426.7,32.2 L427.3,32.2 L427.8,32.3 L428.3,32.3 L428.8,32.3 L429.4,32.4 L429.9,32.4 L430.4,32.5 L431.0,32.5 L431.5,32.5 L432.0,32.6 L432.5,32.6 L433.1,32.6 L433.6,32.6 L434.1,32.7 L434.7,32.7 L435.2,32.7 L435.7,32.7 L436.2,32.7 L436.8,32.7 L437.3,32.7 L437.8,32.7 L438.4,32.7 L438.9,32.7 L439.4,32.7 L439.9,32.7 L440.5,32.7 L441.0,32.6 L441.5,32.6 L442.1,32.6 L442.6,32.5 L443.1,32.5 L443.7,32.5 L444.2,32.4 L444.7,32.3 L445.2,32.3 L445.8,32.2 L446.3,32.1 L446.8,32.1 L447.4,32.0 L447.9,31.9 L448.4,31.8 L448.9,31.7 L449.5,31.6 L450.0,31.5 L450.5,31.3 L451.1,31.2 L451.6,31.1 L452.1,30.9 L452.6,30.8 L453.2,30.6 L453.7,30.5 L454.2,30.3 L454.8,30.2 L455.3,30.0 L455.8,29.8 L456.3,29.6 L456.9,29.4 L457.4,29.3 L457.9,29.1 L458.5,28.9 L459.0,28.7 L459.5,28.5 L460.1,28.3 L460.6,28.1 L461.1,27.9 L461.6,27.7 L462.2,27.5 L462.7,27.3 L463.2,27.0" fill="none" stroke="#f24343" stroke-width="1.75" stroke-linejoin="round" stroke-linecap="round"/>
<path d="M347.4,98.1 L347.9,97.8 L348.4,97.6 L349.0,97.3 L349.5,97.0 L350.0,96.7 L350.5,96.5 L351.1,96.2 L351.6,95.9 L352.1,95.6 L352.7,95.4 L353.2,95.1 L353.7,94.8 L354.3,94.5 L354.8,94.2 L355.3,94.0 L355.8,93.7 L356.4,93.4 L356.9,93.1 L357.4,92.8 L358.0,92.5 L358.5,92.3 L359.0,92.0 L359.5,91.7 L360.1,91.4 L360.6,91.1 L361.1,90.8 L361.7,90.5 L362.2,90.2 L362.7,89.9 L363.2,89.5 L363.8,89.2 L364.3,88.9 L364.8,88.5 L365.4,88.2 L365.9,87.8 L366.4,87.4 L366.9,87.0 L367.5,86.6 L368.0,86.2 L368.5,85.8 L369.1,85.3 L369.6,84.8 L370.1,84.3 L370.7,83.8 L371.2,83.3 L371.7,82.8 L372.2,82.2 L372.8,81.6 L373.3,81.0 L373.8,80.4 L374.4,79.8 L374.9,79.1 L375.4,78.5 L375.9,77.8 L376.5,77.1 L377.0,76.4 L377.5,75.6 L378.1,74.9 L378.6,74.1 L379.1,73.3 L379.6,72.5 L380.2,71.7 L380.7,70.9 L381.2,70.1 L381.8,69.2 L382.3,68.3 L382.8,67.5 L383.3,66.6 L383.9,65.7 L384.4,64.8 L384.9,63.9 L385.5,63.0 L386.0,62.0 L386.5,61.1 L387.0,60.2 L387.6,59.2 L388.1,58.3 L388.6,57.3 L389.2,56.4 L389.7,55.4 L390.2,54.5 L390.8,53.5 L391.3,52.5 L391.8,51.5 L392.3,50.5 L392.9,49.5 L393.4,48.5 L393.9,47.5 L394.5,46.5 L395.0,45.5 L395.5,44.5 L396.0,43.4 L396.6,42.4 L397.1,41.3 L397.6,40.3 L398.2,39.2 L398.7,38.2 L399.2,37.2 L399.7,36.2 L400.3,35.3 L400.8,34.4 L401.3,33.5 L401.9,32.7 L402.4,32.0 L402.9,31.3 L403.4,30.7 L404.0,30.1 L404.5,29.7 L405.0,29.3 L405.6,29.0 L406.1,28.8 L406.6,28.6 L407.2,28.5 L407.7,28.5 L408.2,28.5 L408.7,28.5 L409.3,28.5 L409.8,28.5 L410.3,28.6 L410.9,28.6 L411.4,28.6 L411.9,28.7 L412.4,28.7 L413.0,28.8 L413.5,28.8 L414.0,28.8 L414.6,28.9 L415.1,28.9 L415.6,29.0 L416.1,29.0 L416.7,29.1 L417.2,29.1 L417.7,29.2 L418.3,29.2 L418.8,29.3 L419.3,29.3 L419.8,29.4 L420.4,29.4 L420.9,29.5 L421.4,29.5 L422.0,29.6 L422.5,29.6 L423.0,29.7 L423.6,29.7 L424.1,29.8 L424.6,29.8 L425.1,29.9 L425.7,29.9 L426.2,30.0 L426.7,30.0 L427.3,30.1 L427.8,30.1 L428.3,30.1 L428.8,30.2 L429.4,30.2 L429.9,30.3 L430.4,30.3 L431.0,30.3 L431.5,30.4 L432.0,30.4 L432.5,30.4 L433.1,30.4 L433.6,30.5 L434.1,30.5 L434.7,30.5 L435.2,30.5 L435.7,30.5 L436.2,30.5 L436.8,30.5 L437.3,30.5 L437.8,30.5 L438.4,30.5 L438.9,30.5 L439.4,30.5 L439.9,30.4 L440.5,30.4 L441.0,30.4 L441.5,30.3 L442.1,30.3 L442.6,30.3 L443.1,30.2 L443.7,30.2 L444.2,30.1 L444.7,30.0 L445.2,30.0 L445.8,29.9 L446.3,29.8 L446.8,29.7 L447.4,29.6 L447.9,29.5 L448.4,29.4 L448.9,29.3 L449.5,29.2 L450.0,29.1 L450.5,28.9 L451.1,28.8 L451.6,28.7 L452.1,28.5 L452.6,28.4 L453.2,28.2 L453.7,28.0 L454.2,27.9 L454.8,27.7 L455.3,27.5 L455.8,27.3 L456.3,27.1 L456.9,26.9 L457.4,26.8 L457.9,26.6 L458.5,26.4 L459.0,26.2 L459.5,25.9 L460.1,25.7 L460.6,25.5 L461.1,25.3 L461.6,25.1 L462.2,24.9 L462.7,24.7 L463.2,24.5" fill="none" stroke="#e3119b" stroke-width="1.75" stroke-linejoin="round" stroke-linecap="round"/>
</g>
<g clip-path="url(#c_c_mid)">
<path d="M347.4,207.9 L347.9,207.5 L348.4,207.1 L349.0,206.7 L349.5,206.3 L350.0,205.9 L350.5,205.4 L351.1,205.0 L351.6,204.5 L352.1,204.0 L352.7,203.5 L353.2,203.0 L353.7,202.5 L354.3,202.0 L354.8,201.4 L355.3,200.9 L355.8,200.4 L356.4,199.8 L356.9,199.3 L357.4,198.7 L358.0,198.2 L358.5,197.6 L359.0,197.0 L359.5,196.5 L360.1,195.9 L360.6,195.4 L361.1,194.8 L361.7,194.3 L362.2,193.7 L362.7,193.2 L363.2,192.7 L363.8,192.1 L364.3,191.6 L364.8,191.1 L365.4,190.6 L365.9,190.1 L366.4,189.6 L366.9,189.1 L367.5,188.6 L368.0,188.1 L368.5,187.7 L369.1,187.2 L369.6,186.8 L370.1,186.3 L370.7,185.9 L371.2,185.5 L371.7,185.0 L372.2,184.5 L372.8,184.0 L373.3,183.4 L373.8,182.8 L374.4,182.1 L374.9,181.2 L375.4,180.3 L375.9,179.2 L376.5,177.9 L377.0,176.4 L377.5,174.6 L378.1,172.5 L378.6,169.9 L379.1,166.9 L379.6,163.2 L380.2,158.8 L380.7,153.6 L381.2,147.4 L381.8,140.0 L382.3,131.4 L382.8,121.1 L383.3,109.2 L383.9,95.3 L384.4,79.2 L384.9,60.6 L385.5,39.3 L386.0,15.0 L386.5,-12.4 L387.0,-43.4 L387.6,-78.0 L388.1,-116.5 L388.6,-159.0 L389.2,-205.7 L389.7,-256.6 L390.2,-311.7 L390.8,-371.0 L391.3,-434.3 L391.8,-501.4 L392.3,-571.9 L392.9,-645.5 L393.4,-721.6 L393.9,-799.7 L394.5,-879.1 L395.0,-959.0 L395.5,-1038.7 L396.0,-1117.1 L396.6,-1193.5 L397.1,-1266.9 L397.6,-1336.3 L398.2,-1400.8 L398.7,-1459.6 L399.2,-1511.7 L399.7,-1556.5 L400.3,-1593.3 L400.8,-1621.4 L401.3,-1640.6 L401.9,-1650.6 L402.4,-1651.4 L402.9,-1645.1 L403.4,-1631.9 L404.0,-1612.1 L404.5,-1585.7 L405.0,-1553.3 L405.6,-1515.0 L406.1,-1471.4 L406.6,-1423.0 L407.2,-1370.3 L407.7,-1313.8 L408.2,-1254.1 L408.7,-1191.9 L409.3,-1127.6 L409.8,-1062.1 L410.3,-995.7 L410.9,-929.0 L411.4,-862.7 L411.9,-797.1 L412.4,-732.8 L413.0,-670.1 L413.5,-609.4 L414.0,-551.0 L414.6,-495.2 L415.1,-442.2 L415.6,-392.1 L416.1,-345.1 L416.7,-301.2 L417.2,-260.4 L417.7,-222.8 L418.3,-188.2 L418.8,-156.7 L419.3,-128.2 L419.8,-102.4 L420.4,-79.3 L420.9,-58.8 L421.4,-40.6 L422.0,-24.6 L422.5,-10.6 L423.0,1.5 L423.6,11.9 L424.1,20.7 L424.6,28.2 L425.1,34.4 L425.7,39.5 L426.2,43.7 L426.7,47.0 L427.3,49.5 L427.8,51.5 L428.3,52.8 L428.8,53.7 L429.4,54.2 L429.9,54.4 L430.4,54.3 L431.0,54.0 L431.5,53.5 L432.0,52.9 L432.5,52.1 L433.1,51.3 L433.6,50.4 L434.1,49.5 L434.7,48.5 L435.2,47.6 L435.7,46.6 L436.2,45.6 L436.8,44.7 L437.3,43.8 L437.8,42.8 L438.4,42.0 L438.9,41.1 L439.4,40.3 L439.9,39.5 L440.5,38.8 L441.0,38.1 L441.5,37.4 L442.1,36.7 L442.6,36.1 L443.1,35.5 L443.7,35.0 L444.2,34.5 L444.7,34.0 L445.2,33.5 L445.8,33.1 L446.3,32.7 L446.8,32.3 L447.4,31.9 L447.9,31.6 L448.4,31.3 L448.9,31.0 L449.5,30.7 L450.0,30.5 L450.5,30.3 L451.1,30.1 L451.6,29.9 L452.1,29.7 L452.6,29.6 L453.2,29.4 L453.7,29.3 L454.2,29.2 L454.8,29.1 L455.3,29.0 L455.8,29.0 L456.3,28.9 L456.9,28.9 L457.4,28.9 L457.9,28.8 L458.5,28.8 L459.0,28.8 L459.5,28.8 L460.1,28.8 L460.6,28.8 L461.1,28.9 L461.6,28.9 L462.2,28.9 L462.7,29.0 L463.2,29.0" fill="none" stroke="#e3119b" stroke-width="1.75" stroke-linejoin="round" stroke-linecap="round"/>
<path d="M347.4,207.3 L347.9,206.9 L348.4,206.5 L349.0,206.2 L349.5,205.7 L350.0,205.3 L350.5,204.9 L351.1,204.4 L351.6,204.0 L352.1,203.5 L352.7,203.0 L353.2,202.5 L353.7,202.0 L354.3,201.5 L354.8,201.0 L355.3,200.5 L355.8,200.0 L356.4,199.5 L356.9,198.9 L357.4,198.4 L358.0,197.9 L358.5,197.3 L359.0,196.8 L359.5,196.3 L360.1,195.7 L360.6,195.2 L361.1,194.7 L361.7,194.1 L362.2,193.6 L362.7,193.1 L363.2,192.6 L363.8,192.1 L364.3,191.6 L364.8,191.1 L365.4,190.6 L365.9,190.1 L366.4,189.6 L366.9,189.2 L367.5,188.7 L368.0,188.3 L368.5,187.8 L369.1,187.4 L369.6,187.0 L370.1,186.6 L370.7,186.2 L371.2,185.8 L371.7,185.4 L372.2,185.0 L372.8,184.5 L373.3,184.1 L373.8,183.6 L374.4,183.0 L374.9,182.5 L375.4,181.8 L375.9,181.1 L376.5,180.2 L377.0,179.3 L377.5,178.2 L378.1,176.9 L378.6,175.4 L379.1,173.6 L379.6,171.6 L380.2,169.1 L380.7,166.2 L381.2,162.8 L381.8,158.9 L382.3,154.2 L382.8,148.7 L383.3,142.4 L383.9,135.0 L384.4,126.5 L384.9,116.7 L385.5,105.5 L386.0,92.8 L386.5,78.4 L387.0,62.2 L387.6,44.1 L388.1,24.0 L388.6,1.9 L389.2,-22.5 L389.7,-49.0 L390.2,-77.6 L390.8,-108.5 L391.3,-141.4 L391.8,-176.2 L392.3,-212.8 L392.9,-251.0 L393.4,-290.5 L393.9,-331.0 L394.5,-372.2 L395.0,-413.6 L395.5,-454.9 L396.0,-495.6 L396.6,-535.1 L397.1,-573.1 L397.6,-609.1 L398.2,-642.5 L398.7,-672.9 L399.2,-699.8 L399.7,-723.0 L400.3,-741.9 L400.8,-756.5 L401.3,-766.3 L401.9,-771.3 L402.4,-771.6 L402.9,-767.7 L403.4,-759.8 L404.0,-747.9 L404.5,-732.3 L405.0,-713.2 L405.6,-690.7 L406.1,-665.2 L406.6,-637.0 L407.2,-606.4 L407.7,-573.8 L408.2,-539.5 L408.7,-504.0 L409.3,-467.6 L409.8,-430.6 L410.3,-393.4 L410.9,-356.3 L411.4,-319.7 L411.9,-283.9 L412.4,-248.9 L413.0,-215.2 L413.5,-182.9 L414.0,-152.1 L414.6,-122.9 L415.1,-95.5 L415.6,-69.9 L416.1,-46.2 L416.7,-24.3 L417.2,-4.2 L417.7,14.1 L418.3,30.6 L418.8,45.5 L419.3,58.8 L419.8,70.5 L420.4,80.9 L420.9,89.9 L421.4,97.7 L422.0,104.5 L422.5,110.2 L423.0,114.9 L423.6,118.9 L424.1,122.1 L424.6,124.7 L425.1,126.6 L425.7,128.1 L426.2,129.1 L426.7,129.7 L427.3,130.0 L427.8,130.0 L428.3,129.7 L428.8,129.3 L429.4,128.6 L429.9,127.8 L430.4,126.9 L431.0,126.0 L431.5,124.9 L432.0,123.8 L432.5,122.6 L433.1,121.4 L433.6,120.2 L434.1,119.0 L434.7,117.7 L435.2,116.5 L435.7,115.3 L436.2,114.1 L436.8,113.0 L437.3,111.9 L437.8,110.8 L438.4,109.7 L438.9,108.7 L439.4,107.7 L439.9,106.7 L440.5,105.8 L441.0,105.0 L441.5,104.1 L442.1,103.3 L442.6,102.6 L443.1,101.9 L443.7,101.2 L444.2,100.6 L444.7,99.9 L445.2,99.4 L445.8,98.8 L446.3,98.3 L446.8,97.9 L447.4,97.4 L447.9,97.0 L448.4,96.7 L448.9,96.3 L449.5,96.0 L450.0,95.7 L450.5,95.4 L451.1,95.2 L451.6,95.0 L452.1,94.8 L452.6,94.6 L453.2,94.4 L453.7,94.3 L454.2,94.2 L454.8,94.1 L455.3,94.0 L455.8,93.9 L456.3,93.8 L456.9,93.8 L457.4,93.7 L457.9,93.7 L458.5,93.7 L459.0,93.7 L459.5,93.7 L460.1,93.7 L460.6,93.7 L461.1,93.7 L461.6,93.7 L462.2,93.8 L462.7,93.8 L463.2,93.9" fill="none" stroke="#f24343" stroke-width="1.75" stroke-linejoin="round" stroke-linecap="round"/>
<path d="M347.4,206.7 L347.9,206.3 L348.4,206.0 L349.0,205.6 L349.5,205.2 L350.0,204.7 L350.5,204.3 L351.1,203.9 L351.6,203.4 L352.1,203.0 L352.7,202.5 L353.2,202.0 L353.7,201.5 L354.3,201.1 L354.8,200.6 L355.3,200.1 L355.8,199.6 L356.4,199.0 L356.9,198.5 L357.4,198.0 L358.0,197.5 L358.5,197.0 L359.0,196.5 L359.5,195.9 L360.1,195.4 L360.6,194.9 L361.1,194.4 L361.7,193.9 L362.2,193.4 L362.7,192.9 L363.2,192.4 L363.8,191.9 L364.3,191.4 L364.8,190.9 L365.4,190.4 L365.9,190.0 L366.4,189.5 L366.9,189.0 L367.5,188.6 L368.0,188.2 L368.5,187.7 L369.1,187.3 L369.6,186.9 L370.1,186.5 L370.7,186.1 L371.2,185.7 L371.7,185.3 L372.2,184.9 L372.8,184.5 L373.3,184.1 L373.8,183.7 L374.4,183.2 L374.9,182.8 L375.4,182.3 L375.9,181.7 L376.5,181.1 L377.0,180.5 L377.5,179.8 L378.1,179.0 L378.6,178.2 L379.1,177.2 L379.6,176.1 L380.2,174.8 L380.7,173.4 L381.2,171.7 L381.8,169.8 L382.3,167.6 L382.8,165.1 L383.3,162.3 L383.9,159.0 L384.4,155.2 L384.9,150.9 L385.5,146.1 L386.0,140.6 L386.5,134.4 L387.0,127.5 L387.6,119.9 L388.1,111.4 L388.6,102.0 L389.2,91.8 L389.7,80.7 L390.2,68.7 L390.8,55.8 L391.3,42.1 L391.8,27.6 L392.3,12.3 L392.9,-3.6 L393.4,-20.0 L393.9,-36.8 L394.5,-53.9 L395.0,-71.1 L395.5,-88.2 L396.0,-105.1 L396.6,-121.5 L397.1,-137.3 L397.6,-152.3 L398.2,-166.2 L398.7,-178.9 L399.2,-190.2 L399.7,-199.9 L400.3,-207.9 L400.8,-214.2 L401.3,-218.5 L401.9,-220.8 L402.4,-221.2 L402.9,-219.7 L403.4,-216.3 L404.0,-211.1 L404.5,-204.1 L405.0,-195.6 L405.6,-185.5 L406.1,-174.1 L406.6,-161.5 L407.2,-147.9 L407.7,-133.4 L408.2,-118.3 L408.7,-102.7 L409.3,-86.9 L409.8,-70.9 L410.3,-54.9 L410.9,-39.2 L411.4,-23.8 L411.9,-8.9 L412.4,5.5 L413.0,19.3 L413.5,32.3 L414.0,44.5 L414.6,55.9 L415.1,66.5 L415.6,76.3 L416.1,85.2 L416.7,93.3 L417.2,100.6 L417.7,107.1 L418.3,112.9 L418.8,117.9 L419.3,122.4 L419.8,126.3 L420.4,129.6 L420.9,132.4 L421.4,134.8 L422.0,136.8 L422.5,138.4 L423.0,139.7 L423.6,140.7 L424.1,141.5 L424.6,142.1 L425.1,142.5 L425.7,142.8 L426.2,142.9 L426.7,142.9 L427.3,142.8 L427.8,142.6 L428.3,142.4 L428.8,142.1 L429.4,141.8 L429.9,141.4 L430.4,141.0 L431.0,140.5 L431.5,140.1 L432.0,139.6 L432.5,139.1 L433.1,138.6 L433.6,138.1 L434.1,137.6 L434.7,137.1 L435.2,136.6 L435.7,136.1 L436.2,135.5 L436.8,135.0 L437.3,134.5 L437.8,134.0 L438.4,133.5 L438.9,133.0 L439.4,132.5 L439.9,132.0 L440.5,131.5 L441.0,131.1 L441.5,130.6 L442.1,130.2 L442.6,129.7 L443.1,129.3 L443.7,128.9 L444.2,128.5 L444.7,128.1 L445.2,127.7 L445.8,127.4 L446.3,127.0 L446.8,126.7 L447.4,126.4 L447.9,126.1 L448.4,125.8 L448.9,125.5 L449.5,125.3 L450.0,125.0 L450.5,124.8 L451.1,124.6 L451.6,124.4 L452.1,124.2 L452.6,124.1 L453.2,123.9 L453.7,123.8 L454.2,123.6 L454.8,123.5 L455.3,123.4 L455.8,123.3 L456.3,123.2 L456.9,123.2 L457.4,123.1 L457.9,123.0 L458.5,123.0 L459.0,122.9 L459.5,122.9 L460.1,122.9 L460.6,122.9 L461.1,122.9 L461.6,122.8 L462.2,122.8 L462.7,122.8 L463.2,122.9" fill="none" stroke="#f18131" stroke-width="1.75" stroke-linejoin="round" stroke-linecap="round"/>
<path d="M347.4,206.1 L347.9,205.8 L348.4,205.4 L349.0,205.0 L349.5,204.6 L350.0,204.2 L350.5,203.8 L351.1,203.3 L351.6,202.9 L352.1,202.5 L352.7,202.0 L353.2,201.5 L353.7,201.1 L354.3,200.6 L354.8,200.1 L355.3,199.6 L355.8,199.2 L356.4,198.7 L356.9,198.2 L357.4,197.7 L358.0,197.2 L358.5,196.7 L359.0,196.2 L359.5,195.7 L360.1,195.2 L360.6,194.7 L361.1,194.2 L361.7,193.7 L362.2,193.2 L362.7,192.8 L363.2,192.3 L363.8,191.8 L364.3,191.3 L364.8,190.9 L365.4,190.4 L365.9,190.0 L366.4,189.5 L366.9,189.1 L367.5,188.6 L368.0,188.2 L368.5,187.8 L369.1,187.4 L369.6,187.0 L370.1,186.6 L370.7,186.2 L371.2,185.9 L371.7,185.5 L372.2,185.1 L372.8,184.7 L373.3,184.3 L373.8,183.9 L374.4,183.5 L374.9,183.1 L375.4,182.6 L375.9,182.2 L376.5,181.7 L377.0,181.2 L377.5,180.6 L378.1,180.0 L378.6,179.3 L379.1,178.6 L379.6,177.8 L380.2,176.9 L380.7,175.9 L381.2,174.8 L381.8,173.5 L382.3,172.1 L382.8,170.5 L383.3,168.6 L383.9,166.6 L384.4,164.2 L384.9,161.6 L385.5,158.6 L386.0,155.3 L386.5,151.6 L387.0,147.5 L387.6,142.9 L388.1,137.8 L388.6,132.3 L389.2,126.2 L389.7,119.7 L390.2,112.6 L390.8,105.1 L391.3,97.0 L391.8,88.5 L392.3,79.6 L392.9,70.3 L393.4,60.7 L393.9,50.9 L394.5,41.0 L395.0,30.9 L395.5,21.0 L396.0,11.1 L396.6,1.6 L397.1,-7.6 L397.6,-16.3 L398.2,-24.4 L398.7,-31.8 L399.2,-38.4 L399.7,-44.1 L400.3,-48.8 L400.8,-52.5 L401.3,-55.0 L401.9,-56.4 L402.4,-56.7 L402.9,-55.5 L403.4,-52.9 L404.0,-48.9 L404.5,-43.7 L405.0,-37.2 L405.6,-29.7 L406.1,-21.3 L406.6,-12.2 L407.2,-2.4 L407.7,7.8 L408.2,18.3 L408.7,29.0 L409.3,39.6 L409.8,50.1 L410.3,60.3 L410.9,70.1 L411.4,79.5 L411.9,88.4 L412.4,96.7 L413.0,104.4 L413.5,111.5 L414.0,117.9 L414.6,123.7 L415.1,129.0 L415.6,133.6 L416.1,137.7 L416.7,141.3 L417.2,144.4 L417.7,147.0 L418.3,149.3 L418.8,151.2 L419.3,152.9 L419.8,154.2 L420.4,155.3 L420.9,156.2 L421.4,156.9 L422.0,157.5 L422.5,157.9 L423.0,158.3 L423.6,158.5 L424.1,158.6 L424.6,158.7 L425.1,158.7 L425.7,158.7 L426.2,158.6 L426.7,158.5 L427.3,158.3 L427.8,158.1 L428.3,157.9 L428.8,157.6 L429.4,157.3 L429.9,157.0 L430.4,156.7 L431.0,156.3 L431.5,155.9 L432.0,155.5 L432.5,155.1 L433.1,154.6 L433.6,154.1 L434.1,153.6 L434.7,153.1 L435.2,152.5 L435.7,151.9 L436.2,151.3 L436.8,150.7 L437.3,150.1 L437.8,149.5 L438.4,148.8 L438.9,148.2 L439.4,147.5 L439.9,146.8 L440.5,146.1 L441.0,145.4 L441.5,144.7 L442.1,144.0 L442.6,143.3 L443.1,142.7 L443.7,142.0 L444.2,141.3 L444.7,140.6 L445.2,139.9 L445.8,139.3 L446.3,138.6 L446.8,138.0 L447.4,137.3 L447.9,136.7 L448.4,136.1 L448.9,135.5 L449.5,135.0 L450.0,134.4 L450.5,133.9 L451.1,133.4 L451.6,132.9 L452.1,132.4 L452.6,131.9 L453.2,131.5 L453.7,131.1 L454.2,130.6 L454.8,130.3 L455.3,129.9 L455.8,129.5 L456.3,129.2 L456.9,128.9 L457.4,128.6 L457.9,128.3 L458.5,128.0 L459.0,127.8 L459.5,127.5 L460.1,127.3 L460.6,127.1 L461.1,126.9 L461.6,126.7 L462.2,126.5 L462.7,126.4 L463.2,126.2" fill="none" stroke="#e9b131" stroke-width="1.75" stroke-linejoin="round" stroke-linecap="round"/>
<path d="M347.4,205.5 L347.9,205.2 L348.4,204.8 L349.0,204.4 L349.5,204.0 L350.0,203.6 L350.5,203.2 L351.1,202.8 L351.6,202.4 L352.1,201.9 L352.7,201.5 L353.2,201.1 L353.7,200.6 L354.3,200.1 L354.8,199.7 L355.3,199.2 L355.8,198.8 L356.4,198.3 L356.9,197.8 L357.4,197.3 L358.0,196.9 L358.5,196.4 L359.0,195.9 L359.5,195.4 L360.1,195.0 L360.6,194.5 L361.1,194.0 L361.7,193.5 L362.2,193.1 L362.7,192.6 L363.2,192.1 L363.8,191.7 L364.3,191.2 L364.8,190.8 L365.4,190.3 L365.9,189.9 L366.4,189.5 L366.9,189.0 L367.5,188.6 L368.0,188.2 L368.5,187.8 L369.1,187.4 L369.6,187.0 L370.1,186.6 L370.7,186.3 L371.2,185.9 L371.7,185.5 L372.2,185.2 L372.8,184.8 L373.3,184.4 L373.8,184.0 L374.4,183.6 L374.9,183.2 L375.4,182.8 L375.9,182.4 L376.5,181.9 L377.0,181.5 L377.5,181.0 L378.1,180.5 L378.6,179.9 L379.1,179.3 L379.6,178.7 L380.2,178.0 L380.7,177.3 L381.2,176.5 L381.8,175.6 L382.3,174.6 L382.8,173.5 L383.3,172.3 L383.9,170.9 L384.4,169.4 L384.9,167.7 L385.5,165.9 L386.0,163.8 L386.5,161.5 L387.0,159.0 L387.6,156.2 L388.1,153.1 L388.6,149.8 L389.2,146.2 L389.7,142.3 L390.2,138.1 L390.8,133.7 L391.3,128.9 L391.8,123.9 L392.3,118.7 L392.9,113.3 L393.4,107.7 L393.9,102.0 L394.5,96.2 L395.0,90.4 L395.5,84.6 L396.0,78.9 L396.6,73.3 L397.1,68.0 L397.6,62.9 L398.2,58.2 L398.7,53.8 L399.2,50.0 L399.7,46.6 L400.3,43.9 L400.8,41.7 L401.3,40.1 L401.9,39.2 L402.4,39.0 L402.9,39.7 L403.4,41.3 L404.0,43.9 L404.5,47.2 L405.0,51.4 L405.6,56.2 L406.1,61.5 L406.6,67.3 L407.2,73.5 L407.7,79.9 L408.2,86.3 L408.7,92.8 L409.3,99.2 L409.8,105.5 L410.3,111.4 L410.9,117.1 L411.4,122.5 L411.9,127.4 L412.4,132.0 L413.0,136.2 L413.5,139.9 L414.0,143.3 L414.6,146.3 L415.1,149.0 L415.6,151.3 L416.1,153.3 L416.7,155.0 L417.2,156.5 L417.7,157.8 L418.3,158.9 L418.8,159.9 L419.3,160.7 L419.8,161.3 L420.4,161.9 L420.9,162.4 L421.4,162.8 L422.0,163.1 L422.5,163.4 L423.0,163.7 L423.6,163.9 L424.1,164.1 L424.6,164.2 L425.1,164.3 L425.7,164.4 L426.2,164.5 L426.7,164.5 L427.3,164.5 L427.8,164.5 L428.3,164.5 L428.8,164.4 L429.4,164.3 L429.9,164.2 L430.4,164.1 L431.0,164.0 L431.5,163.8 L432.0,163.6 L432.5,163.4 L433.1,163.1 L433.6,162.9 L434.1,162.6 L434.7,162.2 L435.2,161.9 L435.7,161.5 L436.2,161.1 L436.8,160.7 L437.3,160.2 L437.8,159.7 L438.4,159.2 L438.9,158.7 L439.4,158.2 L439.9,157.6 L440.5,157.0 L441.0,156.4 L441.5,155.8 L442.1,155.2 L442.6,154.5 L443.1,153.9 L443.7,153.2 L444.2,152.5 L444.7,151.8 L445.2,151.1 L445.8,150.4 L446.3,149.7 L446.8,149.0 L447.4,148.3 L447.9,147.6 L448.4,146.9 L448.9,146.1 L449.5,145.4 L450.0,144.7 L450.5,144.0 L451.1,143.4 L451.6,142.7 L452.1,142.0 L452.6,141.4 L453.2,140.7 L453.7,140.1 L454.2,139.5 L454.8,138.9 L455.3,138.3 L455.8,137.7 L456.3,137.1 L456.9,136.6 L457.4,136.1 L457.9,135.6 L458.5,135.1 L459.0,134.6 L459.5,134.1 L460.1,133.7 L460.6,133.2 L461.1,132.8 L461.6,132.4 L462.2,132.1 L462.7,131.7 L463.2,131.3" fill="none" stroke="#e6d630" stroke-width="1.75" stroke-linejoin="round" stroke-linecap="round"/>
<path d="M347.4,204.9 L347.9,204.6 L348.4,204.2 L349.0,203.8 L349.5,203.4 L350.0,203.1 L350.5,202.7 L351.1,202.3 L351.6,201.8 L352.1,201.4 L352.7,201.0 L353.2,200.6 L353.7,200.1 L354.3,199.7 L354.8,199.2 L355.3,198.8 L355.8,198.3 L356.4,197.9 L356.9,197.4 L357.4,197.0 L358.0,196.5 L358.5,196.1 L359.0,195.6 L359.5,195.2 L360.1,194.7 L360.6,194.3 L361.1,193.8 L361.7,193.3 L362.2,192.9 L362.7,192.5 L363.2,192.0 L363.8,191.6 L364.3,191.1 L364.8,190.7 L365.4,190.3 L365.9,189.8 L366.4,189.4 L366.9,189.0 L367.5,188.6 L368.0,188.2 L368.5,187.8 L369.1,187.4 L369.6,187.0 L370.1,186.7 L370.7,186.3 L371.2,185.9 L371.7,185.6 L372.2,185.2 L372.8,184.8 L373.3,184.5 L373.8,184.1 L374.4,183.7 L374.9,183.3 L375.4,182.9 L375.9,182.5 L376.5,182.1 L377.0,181.7 L377.5,181.3 L378.1,180.9 L378.6,180.4 L379.1,179.9 L379.6,179.5 L380.2,178.9 L380.7,178.4 L381.2,177.9 L381.8,177.3 L382.3,176.7 L382.8,176.0 L383.3,175.3 L383.9,174.6 L384.4,173.8 L384.9,172.9 L385.5,172.0 L386.0,171.0 L386.5,169.9 L387.0,168.7 L387.6,167.5 L388.1,166.1 L388.6,164.7 L389.2,163.2 L389.7,161.6 L390.2,159.8 L390.8,158.0 L391.3,156.1 L391.8,154.1 L392.3,152.0 L392.9,149.9 L393.4,147.7 L393.9,145.5 L394.5,143.2 L395.0,141.0 L395.5,138.7 L396.0,136.5 L396.6,134.4 L397.1,132.3 L397.6,130.3 L398.2,128.5 L398.7,126.8 L399.2,125.3 L399.7,123.9 L400.3,122.8 L400.8,121.8 L401.3,121.1 L401.9,120.6 L402.4,120.3 L402.9,120.4 L403.4,120.8 L404.0,121.5 L404.5,122.5 L405.0,123.8 L405.6,125.3 L406.1,127.0 L406.6,128.9 L407.2,131.0 L407.7,133.1 L408.2,135.3 L408.7,137.5 L409.3,139.7 L409.8,141.8 L410.3,143.9 L410.9,145.9 L411.4,147.8 L411.9,149.7 L412.4,151.3 L413.0,152.9 L413.5,154.4 L414.0,155.7 L414.6,156.9 L415.1,158.0 L415.6,159.0 L416.1,159.9 L416.7,160.7 L417.2,161.5 L417.7,162.2 L418.3,162.8 L418.8,163.4 L419.3,163.9 L419.8,164.3 L420.4,164.8 L420.9,165.2 L421.4,165.5 L422.0,165.9 L422.5,166.2 L423.0,166.5 L423.6,166.8 L424.1,167.0 L424.6,167.3 L425.1,167.5 L425.7,167.7 L426.2,167.9 L426.7,168.1 L427.3,168.3 L427.8,168.5 L428.3,168.6 L428.8,168.7 L429.4,168.9 L429.9,169.0 L430.4,169.0 L431.0,169.1 L431.5,169.1 L432.0,169.2 L432.5,169.2 L433.1,169.2 L433.6,169.1 L434.1,169.1 L434.7,169.0 L435.2,168.9 L435.7,168.8 L436.2,168.6 L436.8,168.5 L437.3,168.3 L437.8,168.1 L438.4,167.8 L438.9,167.6 L439.4,167.3 L439.9,167.0 L440.5,166.7 L441.0,166.4 L441.5,166.1 L442.1,165.7 L442.6,165.3 L443.1,164.9 L443.7,164.5 L444.2,164.0 L444.7,163.6 L445.2,163.1 L445.8,162.6 L446.3,162.1 L446.8,161.6 L447.4,161.0 L447.9,160.5 L448.4,159.9 L448.9,159.3 L449.5,158.8 L450.0,158.2 L450.5,157.6 L451.1,156.9 L451.6,156.3 L452.1,155.7 L452.6,155.0 L453.2,154.4 L453.7,153.8 L454.2,153.1 L454.8,152.4 L455.3,151.8 L455.8,151.1 L456.3,150.5 L456.9,149.8 L457.4,149.1 L457.9,148.5 L458.5,147.8 L459.0,147.1 L459.5,146.5 L460.1,145.8 L460.6,145.2 L461.1,144.6 L461.6,143.9 L462.2,143.3 L462.7,142.7 L463.2,142.1" fill="none" stroke="#a2dc32" stroke-width="1.75" stroke-linejoin="round" stroke-linecap="round"/>
<path d="M347.4,204.3 L347.9,204.0 L348.4,203.6 L349.0,203.3 L349.5,202.9 L350.0,202.5 L350.5,202.1 L351.1,201.7 L351.6,201.3 L352.1,200.9 L352.7,200.5 L353.2,200.1 L353.7,199.6 L354.3,199.2 L354.8,198.8 L355.3,198.4 L355.8,197.9 L356.4,197.5 L356.9,197.1 L357.4,196.6 L358.0,196.2 L358.5,195.8 L359.0,195.3 L359.5,194.9 L360.1,194.5 L360.6,194.0 L361.1,193.6 L361.7,193.2 L362.2,192.7 L362.7,192.3 L363.2,191.9 L363.8,191.4 L364.3,191.0 L364.8,190.6 L365.4,190.2 L365.9,189.8 L366.4,189.4 L366.9,189.0 L367.5,188.6 L368.0,188.2 L368.5,187.8 L369.1,187.4 L369.6,187.0 L370.1,186.7 L370.7,186.3 L371.2,185.9 L371.7,185.6 L372.2,185.2 L372.8,184.8 L373.3,184.5 L373.8,184.1 L374.4,183.7 L374.9,183.3 L375.4,183.0 L375.9,182.6 L376.5,182.2 L377.0,181.8 L377.5,181.3 L378.1,180.9 L378.6,180.5 L379.1,180.1 L379.6,179.6 L380.2,179.1 L380.7,178.6 L381.2,178.1 L381.8,177.6 L382.3,177.1 L382.8,176.5 L383.3,175.9 L383.9,175.2 L384.4,174.6 L384.9,173.9 L385.5,173.1 L386.0,172.3 L386.5,171.4 L387.0,170.5 L387.6,169.6 L388.1,168.6 L388.6,167.5 L389.2,166.3 L389.7,165.1 L390.2,163.9 L390.8,162.5 L391.3,161.1 L391.8,159.7 L392.3,158.2 L392.9,156.7 L393.4,155.1 L393.9,153.5 L394.5,151.9 L395.0,150.3 L395.5,148.8 L396.0,147.2 L396.6,145.7 L397.1,144.2 L397.6,142.9 L398.2,141.5 L398.7,140.3 L399.2,139.2 L399.7,138.2 L400.3,137.4 L400.8,136.7 L401.3,136.1 L401.9,135.7 L402.4,135.4 L402.9,135.4 L403.4,135.5 L404.0,135.9 L404.5,136.5 L405.0,137.2 L405.6,138.2 L406.1,139.2 L406.6,140.4 L407.2,141.7 L407.7,143.0 L408.2,144.4 L408.7,145.8 L409.3,147.2 L409.8,148.6 L410.3,150.0 L410.9,151.4 L411.4,152.6 L411.9,153.9 L412.4,155.0 L413.0,156.1 L413.5,157.2 L414.0,158.1 L414.6,159.0 L415.1,159.8 L415.6,160.6 L416.1,161.3 L416.7,162.0 L417.2,162.6 L417.7,163.2 L418.3,163.7 L418.8,164.2 L419.3,164.7 L419.8,165.1 L420.4,165.5 L420.9,165.9 L421.4,166.3 L422.0,166.7 L422.5,167.0 L423.0,167.4 L423.6,167.7 L424.1,168.0 L424.6,168.3 L425.1,168.5 L425.7,168.8 L426.2,169.1 L426.7,169.3 L427.3,169.6 L427.8,169.8 L428.3,170.0 L428.8,170.2 L429.4,170.4 L429.9,170.5 L430.4,170.7 L431.0,170.8 L431.5,171.0 L432.0,171.1 L432.5,171.2 L433.1,171.3 L433.6,171.3 L434.1,171.4 L434.7,171.4 L435.2,171.4 L435.7,171.4 L436.2,171.4 L436.8,171.3 L437.3,171.3 L437.8,171.2 L438.4,171.1 L438.9,171.0 L439.4,170.9 L439.9,170.8 L440.5,170.6 L441.0,170.4 L441.5,170.3 L442.1,170.1 L442.6,169.8 L443.1,169.6 L443.7,169.4 L444.2,169.1 L444.7,168.8 L445.2,168.5 L445.8,168.2 L446.3,167.9 L446.8,167.6 L447.4,167.2 L447.9,166.9 L448.4,166.5 L448.9,166.1 L449.5,165.7 L450.0,165.3 L450.5,164.9 L451.1,164.5 L451.6,164.0 L452.1,163.6 L452.6,163.1 L453.2,162.6 L453.7,162.2 L454.2,161.7 L454.8,161.1 L455.3,160.6 L455.8,160.1 L456.3,159.5 L456.9,159.0 L457.4,158.4 L457.9,157.8 L458.5,157.2 L459.0,156.6 L459.5,156.0 L460.1,155.4 L460.6,154.8 L461.1,154.2 L461.6,153.5 L462.2,152.9 L462.7,152.2 L463.2,151.6" fill="none" stroke="#10d620" stroke-width="1.75" stroke-linejoin="round" stroke-linecap="round"/>
<path d="M347.4,203.8 L347.9,203.4 L348.4,203.0 L349.0,202.7 L349.5,202.3 L350.0,201.9 L350.5,201.5 L351.1,201.2 L351.6,200.8 L352.1,200.4 L352.7,200.0 L353.2,199.6 L353.7,199.2 L354.3,198.8 L354.8,198.4 L355.3,197.9 L355.8,197.5 L356.4,197.1 L356.9,196.7 L357.4,196.3 L358.0,195.9 L358.5,195.4 L359.0,195.0 L359.5,194.6 L360.1,194.2 L360.6,193.8 L361.1,193.4 L361.7,193.0 L362.2,192.5 L362.7,192.1 L363.2,191.7 L363.8,191.3 L364.3,190.9 L364.8,190.5 L365.4,190.1 L365.9,189.7 L366.4,189.3 L366.9,188.9 L367.5,188.5 L368.0,188.2 L368.5,187.8 L369.1,187.4 L369.6,187.0 L370.1,186.7 L370.7,186.3 L371.2,185.9 L371.7,185.6 L372.2,185.2 L372.8,184.9 L373.3,184.5 L373.8,184.1 L374.4,183.7 L374.9,183.4 L375.4,183.0 L375.9,182.6 L376.5,182.2 L377.0,181.8 L377.5,181.4 L378.1,181.0 L378.6,180.6 L379.1,180.1 L379.6,179.7 L380.2,179.3 L380.7,178.8 L381.2,178.3 L381.8,177.8 L382.3,177.3 L382.8,176.8 L383.3,176.3 L383.9,175.7 L384.4,175.2 L384.9,174.6 L385.5,173.9 L386.0,173.3 L386.5,172.6 L387.0,171.9 L387.6,171.1 L388.1,170.4 L388.6,169.5 L389.2,168.7 L389.7,167.8 L390.2,166.9 L390.8,165.9 L391.3,164.9 L391.8,163.9 L392.3,162.8 L392.9,161.7 L393.4,160.6 L393.9,159.5 L394.5,158.4 L395.0,157.3 L395.5,156.3 L396.0,155.2 L396.6,154.1 L397.1,153.1 L397.6,152.2 L398.2,151.3 L398.7,150.4 L399.2,149.6 L399.7,148.9 L400.3,148.3 L400.8,147.7 L401.3,147.3 L401.9,146.9 L402.4,146.7 L402.9,146.5 L403.4,146.5 L404.0,146.7 L404.5,146.9 L405.0,147.3 L405.6,147.7 L406.1,148.3 L406.6,148.9 L407.2,149.6 L407.7,150.4 L408.2,151.2 L408.7,152.0 L409.3,152.8 L409.8,153.7 L410.3,154.5 L410.9,155.4 L411.4,156.2 L411.9,157.0 L412.4,157.7 L413.0,158.5 L413.5,159.2 L414.0,159.9 L414.6,160.5 L415.1,161.1 L415.6,161.7 L416.1,162.3 L416.7,162.8 L417.2,163.3 L417.7,163.8 L418.3,164.3 L418.8,164.7 L419.3,165.2 L419.8,165.6 L420.4,166.0 L420.9,166.4 L421.4,166.8 L422.0,167.1 L422.5,167.5 L423.0,167.8 L423.6,168.2 L424.1,168.5 L424.6,168.8 L425.1,169.1 L425.7,169.4 L426.2,169.7 L426.7,170.0 L427.3,170.2 L427.8,170.5 L428.3,170.7 L428.8,171.0 L429.4,171.2 L429.9,171.4 L430.4,171.6 L431.0,171.8 L431.5,172.0 L432.0,172.1 L432.5,172.3 L433.1,172.4 L433.6,172.6 L434.1,172.7 L434.7,172.8 L435.2,172.9 L435.7,172.9 L436.2,173.0 L436.8,173.0 L437.3,173.0 L437.8,173.1 L438.4,173.1 L438.9,173.0 L439.4,173.0 L439.9,173.0 L440.5,172.9 L441.0,172.9 L441.5,172.8 L442.1,172.7 L442.6,172.6 L443.1,172.5 L443.7,172.4 L444.2,172.3 L444.7,172.2 L445.2,172.0 L445.8,171.9 L446.3,171.7 L446.8,171.5 L447.4,171.4 L447.9,171.2 L448.4,171.0 L448.9,170.8 L449.5,170.6 L450.0,170.3 L450.5,170.1 L451.1,169.9 L451.6,169.6 L452.1,169.4 L452.6,169.1 L453.2,168.8 L453.7,168.6 L454.2,168.3 L454.8,167.9 L455.3,167.6 L455.8,167.3 L456.3,167.0 L456.9,166.6 L457.4,166.2 L457.9,165.9 L458.5,165.5 L459.0,165.0 L459.5,164.6 L460.1,164.2 L460.6,163.7 L461.1,163.3 L461.6,162.8 L462.2,162.3 L462.7,161.8 L463.2,161.3" fill="none" stroke="#12c98e" stroke-width="1.75" stroke-linejoin="round" stroke-linecap="round"/>
<path d="M347.4,203.2 L347.9,202.8 L348.4,202.5 L349.0,202.1 L349.5,201.7 L350.0,201.4 L350.5,201.0 L351.1,200.6 L351.6,200.2 L352.1,199.9 L352.7,199.5 L353.2,199.1 L353.7,198.7 L354.3,198.3 L354.8,197.9 L355.3,197.5 L355.8,197.1 L356.4,196.7 L356.9,196.3 L357.4,195.9 L358.0,195.5 L358.5,195.1 L359.0,194.7 L359.5,194.3 L360.1,193.9 L360.6,193.5 L361.1,193.1 L361.7,192.8 L362.2,192.4 L362.7,192.0 L363.2,191.6 L363.8,191.2 L364.3,190.8 L364.8,190.4 L365.4,190.0 L365.9,189.6 L366.4,189.3 L366.9,188.9 L367.5,188.5 L368.0,188.1 L368.5,187.8 L369.1,187.4 L369.6,187.0 L370.1,186.7 L370.7,186.3 L371.2,185.9 L371.7,185.6 L372.2,185.2 L372.8,184.9 L373.3,184.5 L373.8,184.1 L374.4,183.7 L374.9,183.4 L375.4,183.0 L375.9,182.6 L376.5,182.2 L377.0,181.8 L377.5,181.4 L378.1,181.0 L378.6,180.6 L379.1,180.2 L379.6,179.8 L380.2,179.3 L380.7,178.9 L381.2,178.5 L381.8,178.0 L382.3,177.6 L382.8,177.1 L383.3,176.6 L383.9,176.1 L384.4,175.6 L384.9,175.1 L385.5,174.6 L386.0,174.0 L386.5,173.5 L387.0,172.9 L387.6,172.3 L388.1,171.7 L388.6,171.1 L389.2,170.4 L389.7,169.8 L390.2,169.1 L390.8,168.4 L391.3,167.7 L391.8,166.9 L392.3,166.2 L392.9,165.5 L393.4,164.7 L393.9,164.0 L394.5,163.2 L395.0,162.5 L395.5,161.8 L396.0,161.1 L396.6,160.4 L397.1,159.7 L397.6,159.1 L398.2,158.5 L398.7,157.9 L399.2,157.3 L399.7,156.8 L400.3,156.4 L400.8,155.9 L401.3,155.6 L401.9,155.3 L402.4,155.0 L402.9,154.8 L403.4,154.7 L404.0,154.6 L404.5,154.6 L405.0,154.7 L405.6,154.8 L406.1,155.0 L406.6,155.2 L407.2,155.5 L407.7,155.8 L408.2,156.2 L408.7,156.6 L409.3,157.0 L409.8,157.4 L410.3,157.8 L410.9,158.3 L411.4,158.8 L411.9,159.2 L412.4,159.7 L413.0,160.2 L413.5,160.6 L414.0,161.1 L414.6,161.6 L415.1,162.0 L415.6,162.5 L416.1,162.9 L416.7,163.4 L417.2,163.8 L417.7,164.3 L418.3,164.7 L418.8,165.1 L419.3,165.5 L419.8,165.9 L420.4,166.3 L420.9,166.7 L421.4,167.0 L422.0,167.4 L422.5,167.8 L423.0,168.1 L423.6,168.5 L424.1,168.8 L424.6,169.1 L425.1,169.4 L425.7,169.7 L426.2,170.1 L426.7,170.3 L427.3,170.6 L427.8,170.9 L428.3,171.2 L428.8,171.4 L429.4,171.7 L429.9,171.9 L430.4,172.2 L431.0,172.4 L431.5,172.6 L432.0,172.8 L432.5,173.0 L433.1,173.1 L433.6,173.3 L434.1,173.5 L434.7,173.6 L435.2,173.7 L435.7,173.8 L436.2,173.9 L436.8,174.0 L437.3,174.1 L437.8,174.2 L438.4,174.2 L438.9,174.3 L439.4,174.3 L439.9,174.4 L440.5,174.4 L441.0,174.4 L441.5,174.4 L442.1,174.4 L442.6,174.4 L443.1,174.4 L443.7,174.4 L444.2,174.3 L444.7,174.3 L445.2,174.3 L445.8,174.2 L446.3,174.2 L446.8,174.1 L447.4,174.1 L447.9,174.0 L448.4,173.9 L448.9,173.9 L449.5,173.8 L450.0,173.8 L450.5,173.7 L451.1,173.6 L451.6,173.5 L452.1,173.5 L452.6,173.4 L453.2,173.3 L453.7,173.2 L454.2,173.1 L454.8,173.0 L455.3,172.9 L455.8,172.8 L456.3,172.7 L456.9,172.5 L457.4,172.4 L457.9,172.3 L458.5,172.1 L459.0,172.0 L459.5,171.8 L460.1,171.6 L460.6,171.4 L461.1,171.2 L461.6,171.0 L462.2,170.8 L462.7,170.5 L463.2,170.3" fill="none" stroke="#15b9bf" stroke-width="1.75" stroke-linejoin="round" stroke-linecap="round"/>
<path d="M347.4,202.6 L347.9,202.2 L348.4,201.9 L349.0,201.5 L349.5,201.2 L350.0,200.8 L350.5,200.4 L351.1,200.1 L351.6,199.7 L352.1,199.3 L352.7,199.0 L353.2,198.6 L353.7,198.2 L354.3,197.8 L354.8,197.5 L355.3,197.1 L355.8,196.7 L356.4,196.3 L356.9,196.0 L357.4,195.6 L358.0,195.2 L358.5,194.8 L359.0,194.4 L359.5,194.1 L360.1,193.7 L360.6,193.3 L361.1,192.9 L361.7,192.6 L362.2,192.2 L362.7,191.8 L363.2,191.4 L363.8,191.1 L364.3,190.7 L364.8,190.3 L365.4,189.9 L365.9,189.6 L366.4,189.2 L366.9,188.8 L367.5,188.5 L368.0,188.1 L368.5,187.7 L369.1,187.4 L369.6,187.0 L370.1,186.7 L370.7,186.3 L371.2,185.9 L371.7,185.6 L372.2,185.2 L372.8,184.9 L373.3,184.5 L373.8,184.1 L374.4,183.7 L374.9,183.4 L375.4,183.0 L375.9,182.6 L376.5,182.2 L377.0,181.8 L377.5,181.4 L378.1,181.0 L378.6,180.6 L379.1,180.2 L379.6,179.8 L380.2,179.4 L380.7,179.0 L381.2,178.5 L381.8,178.1 L382.3,177.6 L382.8,177.2 L383.3,176.7 L383.9,176.2 L384.4,175.8 L384.9,175.3 L385.5,174.8 L386.0,174.3 L386.5,173.8 L387.0,173.2 L387.6,172.7 L388.1,172.1 L388.6,171.6 L389.2,171.0 L389.7,170.4 L390.2,169.8 L390.8,169.2 L391.3,168.6 L391.8,168.0 L392.3,167.4 L392.9,166.7 L393.4,166.1 L393.9,165.5 L394.5,164.9 L395.0,164.3 L395.5,163.7 L396.0,163.1 L396.6,162.5 L397.1,161.9 L397.6,161.4 L398.2,160.9 L398.7,160.4 L399.2,159.9 L399.7,159.5 L400.3,159.1 L400.8,158.7 L401.3,158.4 L401.9,158.1 L402.4,157.8 L402.9,157.6 L403.4,157.4 L404.0,157.3 L404.5,157.2 L405.0,157.2 L405.6,157.2 L406.1,157.2 L406.6,157.3 L407.2,157.5 L407.7,157.7 L408.2,157.9 L408.7,158.1 L409.3,158.4 L409.8,158.7 L410.3,159.0 L410.9,159.3 L411.4,159.6 L411.9,160.0 L412.4,160.4 L413.0,160.8 L413.5,161.1 L414.0,161.5 L414.6,161.9 L415.1,162.3 L415.6,162.8 L416.1,163.2 L416.7,163.6 L417.2,164.0 L417.7,164.4 L418.3,164.8 L418.8,165.2 L419.3,165.6 L419.8,166.0 L420.4,166.4 L420.9,166.8 L421.4,167.1 L422.0,167.5 L422.5,167.9 L423.0,168.2 L423.6,168.6 L424.1,168.9 L424.6,169.2 L425.1,169.6 L425.7,169.9 L426.2,170.2 L426.7,170.5 L427.3,170.8 L427.8,171.1 L428.3,171.4 L428.8,171.6 L429.4,171.9 L429.9,172.1 L430.4,172.4 L431.0,172.6 L431.5,172.8 L432.0,173.0 L432.5,173.2 L433.1,173.4 L433.6,173.6 L434.1,173.8 L434.7,173.9 L435.2,174.1 L435.7,174.2 L436.2,174.3 L436.8,174.4 L437.3,174.5 L437.8,174.6 L438.4,174.7 L438.9,174.8 L439.4,174.8 L439.9,174.9 L440.5,174.9 L441.0,175.0 L441.5,175.0 L442.1,175.1 L442.6,175.1 L443.1,175.1 L443.7,175.1 L444.2,175.1 L444.7,175.1 L445.2,175.2 L445.8,175.2 L446.3,175.2 L446.8,175.2 L447.4,175.2 L447.9,175.2 L448.4,175.2 L448.9,175.2 L449.5,175.2 L450.0,175.2 L450.5,175.2 L451.1,175.2 L451.6,175.2 L452.1,175.2 L452.6,175.2 L453.2,175.2 L453.7,175.2 L454.2,175.2 L454.8,175.2 L455.3,175.2 L455.8,175.2 L456.3,175.2 L456.9,175.2 L457.4,175.2 L457.9,175.2 L458.5,175.2 L459.0,175.2 L459.5,175.1 L460.1,175.1 L460.6,175.1 L461.1,175.0 L461.6,175.0 L462.2,175.0 L462.7,174.9 L463.2,174.8" fill="none" stroke="#1a9de8" stroke-width="1.75" stroke-linejoin="round" stroke-linecap="round"/>
<path d="M347.4,202.0 L347.9,201.6 L348.4,201.3 L349.0,200.9 L349.5,200.6 L350.0,200.2 L350.5,199.9 L351.1,199.5 L351.6,199.2 L352.1,198.8 L352.7,198.5 L353.2,198.1 L353.7,197.7 L354.3,197.4 L354.8,197.0 L355.3,196.7 L355.8,196.3 L356.4,195.9 L356.9,195.6 L357.4,195.2 L358.0,194.9 L358.5,194.5 L359.0,194.1 L359.5,193.8 L360.1,193.4 L360.6,193.1 L361.1,192.7 L361.7,192.4 L362.2,192.0 L362.7,191.6 L363.2,191.3 L363.8,190.9 L364.3,190.6 L364.8,190.2 L365.4,189.9 L365.9,189.5 L366.4,189.1 L366.9,188.8 L367.5,188.4 L368.0,188.1 L368.5,187.7 L369.1,187.4 L369.6,187.0 L370.1,186.7 L370.7,186.3 L371.2,185.9 L371.7,185.6 L372.2,185.2 L372.8,184.9 L373.3,184.5 L373.8,184.1 L374.4,183.7 L374.9,183.4 L375.4,183.0 L375.9,182.6 L376.5,182.2 L377.0,181.8 L377.5,181.4 L378.1,181.0 L378.6,180.6 L379.1,180.2 L379.6,179.8 L380.2,179.4 L380.7,179.0 L381.2,178.5 L381.8,178.1 L382.3,177.7 L382.8,177.2 L383.3,176.8 L383.9,176.3 L384.4,175.8 L384.9,175.3 L385.5,174.9 L386.0,174.4 L386.5,173.9 L387.0,173.3 L387.6,172.8 L388.1,172.3 L388.6,171.8 L389.2,171.2 L389.7,170.7 L390.2,170.1 L390.8,169.5 L391.3,168.9 L391.8,168.4 L392.3,167.8 L392.9,167.2 L393.4,166.6 L393.9,166.0 L394.5,165.5 L395.0,164.9 L395.5,164.3 L396.0,163.8 L396.6,163.3 L397.1,162.7 L397.6,162.2 L398.2,161.8 L398.7,161.3 L399.2,160.9 L399.7,160.4 L400.3,160.1 L400.8,159.7 L401.3,159.4 L401.9,159.1 L402.4,158.8 L402.9,158.6 L403.4,158.4 L404.0,158.2 L404.5,158.1 L405.0,158.1 L405.6,158.0 L406.1,158.0 L406.6,158.1 L407.2,158.2 L407.7,158.3 L408.2,158.5 L408.7,158.7 L409.3,158.9 L409.8,159.1 L410.3,159.4 L410.9,159.6 L411.4,160.0 L411.9,160.3 L412.4,160.6 L413.0,161.0 L413.5,161.3 L414.0,161.7 L414.6,162.1 L415.1,162.5 L415.6,162.9 L416.1,163.2 L416.7,163.7 L417.2,164.1 L417.7,164.5 L418.3,164.9 L418.8,165.3 L419.3,165.6 L419.8,166.0 L420.4,166.4 L420.9,166.8 L421.4,167.2 L422.0,167.5 L422.5,167.9 L423.0,168.2 L423.6,168.6 L424.1,168.9 L424.6,169.3 L425.1,169.6 L425.7,169.9 L426.2,170.2 L426.7,170.5 L427.3,170.8 L427.8,171.1 L428.3,171.4 L428.8,171.7 L429.4,171.9 L429.9,172.2 L430.4,172.4 L431.0,172.7 L431.5,172.9 L432.0,173.1 L432.5,173.3 L433.1,173.5 L433.6,173.7 L434.1,173.8 L434.7,174.0 L435.2,174.1 L435.7,174.3 L436.2,174.4 L436.8,174.5 L437.3,174.6 L437.8,174.7 L438.4,174.8 L438.9,174.9 L439.4,175.0 L439.9,175.0 L440.5,175.1 L441.0,175.1 L441.5,175.2 L442.1,175.2 L442.6,175.2 L443.1,175.3 L443.7,175.3 L444.2,175.3 L444.7,175.4 L445.2,175.4 L445.8,175.4 L446.3,175.4 L446.8,175.4 L447.4,175.4 L447.9,175.4 L448.4,175.5 L448.9,175.5 L449.5,175.5 L450.0,175.5 L450.5,175.5 L451.1,175.5 L451.6,175.6 L452.1,175.6 L452.6,175.6 L453.2,175.7 L453.7,175.7 L454.2,175.7 L454.8,175.7 L455.3,175.8 L455.8,175.8 L456.3,175.8 L456.9,175.9 L457.4,175.9 L457.9,175.9 L458.5,175.9 L459.0,176.0 L459.5,176.0 L460.1,176.0 L460.6,176.0 L461.1,176.0 L461.6,176.1 L462.2,176.1 L462.7,176.1 L463.2,176.1" fill="none" stroke="#2d40f0" stroke-width="1.75" stroke-linejoin="round" stroke-linecap="round"/>
<path d="M347.4,201.4 L347.9,201.0 L348.4,200.7 L349.0,200.4 L349.5,200.0 L350.0,199.7 L350.5,199.3 L351.1,199.0 L351.6,198.6 L352.1,198.3 L352.7,197.9 L353.2,197.6 L353.7,197.3 L354.3,196.9 L354.8,196.6 L355.3,196.2 L355.8,195.9 L356.4,195.6 L356.9,195.2 L357.4,194.9 L358.0,194.5 L358.5,194.2 L359.0,193.9 L359.5,193.5 L360.1,193.2 L360.6,192.8 L361.1,192.5 L361.7,192.2 L362.2,191.8 L362.7,191.5 L363.2,191.1 L363.8,190.8 L364.3,190.5 L364.8,190.1 L365.4,189.8 L365.9,189.4 L366.4,189.1 L366.9,188.7 L367.5,188.4 L368.0,188.1 L368.5,187.7 L369.1,187.4 L369.6,187.0 L370.1,186.7 L370.7,186.3 L371.2,185.9 L371.7,185.6 L372.2,185.2 L372.8,184.9 L373.3,184.5 L373.8,184.1 L374.4,183.7 L374.9,183.4 L375.4,183.0 L375.9,182.6 L376.5,182.2 L377.0,181.8 L377.5,181.4 L378.1,181.0 L378.6,180.6 L379.1,180.2 L379.6,179.8 L380.2,179.4 L380.7,179.0 L381.2,178.5 L381.8,178.1 L382.3,177.7 L382.8,177.2 L383.3,176.8 L383.9,176.3 L384.4,175.8 L384.9,175.4 L385.5,174.9 L386.0,174.4 L386.5,173.9 L387.0,173.4 L387.6,172.9 L388.1,172.4 L388.6,171.9 L389.2,171.3 L389.7,170.8 L390.2,170.2 L390.8,169.7 L391.3,169.1 L391.8,168.6 L392.3,168.0 L392.9,167.5 L393.4,166.9 L393.9,166.3 L394.5,165.8 L395.0,165.3 L395.5,164.7 L396.0,164.2 L396.6,163.7 L397.1,163.2 L397.6,162.7 L398.2,162.3 L398.7,161.8 L399.2,161.4 L399.7,161.0 L400.3,160.6 L400.8,160.3 L401.3,160.0 L401.9,159.7 L402.4,159.4 L402.9,159.2 L403.4,159.0 L404.0,158.8 L404.5,158.7 L405.0,158.6 L405.6,158.5 L406.1,158.5 L406.6,158.6 L407.2,158.6 L407.7,158.7 L408.2,158.8 L408.7,159.0 L409.3,159.2 L409.8,159.4 L410.3,159.6 L410.9,159.9 L411.4,160.1 L411.9,160.4 L412.4,160.8 L413.0,161.1 L413.5,161.4 L414.0,161.8 L414.6,162.2 L415.1,162.5 L415.6,162.9 L416.1,163.3 L416.7,163.7 L417.2,164.1 L417.7,164.5 L418.3,164.9 L418.8,165.3 L419.3,165.7 L419.8,166.1 L420.4,166.5 L420.9,166.8 L421.4,167.2 L422.0,167.6 L422.5,167.9 L423.0,168.3 L423.6,168.6 L424.1,169.0 L424.6,169.3 L425.1,169.6 L425.7,170.0 L426.2,170.3 L426.7,170.6 L427.3,170.9 L427.8,171.2 L428.3,171.5 L428.8,171.7 L429.4,172.0 L429.9,172.3 L430.4,172.5 L431.0,172.7 L431.5,173.0 L432.0,173.2 L432.5,173.4 L433.1,173.6 L433.6,173.8 L434.1,174.0 L434.7,174.1 L435.2,174.3 L435.7,174.4 L436.2,174.5 L436.8,174.7 L437.3,174.8 L437.8,174.9 L438.4,175.0 L438.9,175.1 L439.4,175.2 L439.9,175.2 L440.5,175.3 L441.0,175.4 L441.5,175.4 L442.1,175.5 L442.6,175.5 L443.1,175.6 L443.7,175.6 L444.2,175.6 L444.7,175.7 L445.2,175.7 L445.8,175.8 L446.3,175.8 L446.8,175.8 L447.4,175.9 L447.9,175.9 L448.4,175.9 L448.9,176.0 L449.5,176.0 L450.0,176.1 L450.5,176.1 L451.1,176.2 L451.6,176.2 L452.1,176.3 L452.6,176.4 L453.2,176.4 L453.7,176.5 L454.2,176.6 L454.8,176.6 L455.3,176.7 L455.8,176.8 L456.3,176.9 L456.9,177.0 L457.4,177.1 L457.9,177.2 L458.5,177.3 L459.0,177.3 L459.5,177.4 L460.1,177.5 L460.6,177.6 L461.1,177.7 L461.6,177.8 L462.2,177.9 L462.7,178.0 L463.2,178.1" fill="none" stroke="#7a1fd6" stroke-width="1.75" stroke-linejoin="round" stroke-linecap="round"/>
</g>
<g clip-path="url(#c_c_bot)">
<path d="M347.4,292.1 L347.9,292.3 L348.4,292.4 L349.0,292.6 L349.5,292.7 L350.0,292.9 L350.5,293.0 L351.1,293.1 L351.6,293.2 L352.1,293.3 L352.7,293.3 L353.2,293.4 L353.7,293.4 L354.3,293.5 L354.8,293.5 L355.3,293.5 L355.8,293.5 L356.4,293.5 L356.9,293.5 L357.4,293.4 L358.0,293.4 L358.5,293.4 L359.0,293.3 L359.5,293.2 L360.1,293.2 L360.6,293.1 L361.1,293.0 L361.7,292.9 L362.2,292.8 L362.7,292.7 L363.2,292.5 L363.8,292.4 L364.3,292.2 L364.8,292.1 L365.4,291.9 L365.9,291.7 L366.4,291.5 L366.9,291.3 L367.5,291.1 L368.0,290.8 L368.5,290.6 L369.1,290.3 L369.6,290.0 L370.1,289.7 L370.7,289.4 L371.2,289.0 L371.7,288.7 L372.2,288.3 L372.8,287.9 L373.3,287.4 L373.8,286.9 L374.4,286.4 L374.9,285.9 L375.4,285.2 L375.9,284.6 L376.5,283.8 L377.0,283.0 L377.5,282.0 L378.1,280.9 L378.6,279.6 L379.1,278.2 L379.6,276.5 L380.2,274.6 L380.7,272.3 L381.2,269.7 L381.8,266.7 L382.3,263.2 L382.8,259.1 L383.3,255.0 L383.9,250.6 L384.4,245.4 L384.9,239.4 L385.5,232.6 L386.0,224.7 L386.5,215.8 L387.0,205.9 L387.6,194.9 L388.1,182.8 L388.6,169.6 L389.2,155.3 L389.7,140.1 L390.2,124.0 L390.8,107.2 L391.3,89.7 L391.8,71.9 L392.3,53.8 L392.9,35.7 L393.4,17.9 L393.9,0.6 L394.5,-15.8 L395.0,-31.2 L395.5,-45.2 L396.0,-57.6 L396.6,-68.2 L397.1,-76.7 L397.6,-83.0 L398.2,-87.0 L398.7,-88.6 L399.2,-88.0 L399.7,-86.1 L400.3,-82.8 L400.8,-78.3 L401.3,-72.4 L401.9,-65.4 L402.4,-57.2 L402.9,-48.0 L403.4,-37.8 L404.0,-26.8 L404.5,-15.1 L405.0,-2.7 L405.6,10.2 L406.1,23.5 L406.6,37.1 L407.2,50.8 L407.7,64.6 L408.2,78.4 L408.7,92.0 L409.3,105.5 L409.8,118.6 L410.3,131.3 L410.9,143.6 L411.4,155.4 L411.9,166.7 L412.4,177.4 L413.0,187.6 L413.5,197.1 L414.0,206.0 L414.6,214.2 L415.1,221.9 L415.6,228.9 L416.1,235.4 L416.7,241.3 L417.2,246.6 L417.7,251.4 L418.3,255.7 L418.8,259.5 L419.3,262.9 L419.8,265.9 L420.4,268.6 L420.9,270.9 L421.4,272.8 L422.0,274.5 L422.5,276.0 L423.0,277.2 L423.6,278.2 L424.1,279.0 L424.6,279.7 L425.1,280.2 L425.7,280.6 L426.2,280.9 L426.7,281.1 L427.3,281.3 L427.8,281.3 L428.3,281.3 L428.8,281.3 L429.4,281.2 L429.9,281.1 L430.4,280.9 L431.0,280.7 L431.5,280.6 L432.0,280.4 L432.5,280.1 L433.1,279.9 L433.6,279.7 L434.1,279.5 L434.7,279.3 L435.2,279.0 L435.7,278.8 L436.2,278.6 L436.8,278.4 L437.3,278.2 L437.8,278.0 L438.4,277.8 L438.9,277.7 L439.4,277.5 L439.9,277.4 L440.5,277.2 L441.0,277.1 L441.5,277.0 L442.1,276.9 L442.6,276.9 L443.1,276.8 L443.7,276.7 L444.2,276.7 L444.7,276.7 L445.2,276.7 L445.8,276.7 L446.3,276.8 L446.8,276.8 L447.4,276.9 L447.9,277.0 L448.4,277.1 L448.9,277.2 L449.5,277.3 L450.0,277.4 L450.5,277.6 L451.1,277.8 L451.6,277.9 L452.1,278.1 L452.6,278.3 L453.2,278.6 L453.7,278.8 L454.2,279.0 L454.8,279.3 L455.3,279.6 L455.8,279.8 L456.3,280.1 L456.9,280.4 L457.4,280.7 L457.9,281.1 L458.5,281.4 L459.0,281.7 L459.5,282.1 L460.1,282.4 L460.6,282.8 L461.1,283.2 L461.6,283.6 L462.2,283.9 L462.7,284.3 L463.2,284.7" fill="none" stroke="#e3119b" stroke-width="1.75" stroke-linejoin="round" stroke-linecap="round"/>
<path d="M347.4,290.1 L347.9,290.3 L348.4,290.5 L349.0,290.6 L349.5,290.8 L350.0,290.9 L350.5,291.1 L351.1,291.2 L351.6,291.3 L352.1,291.4 L352.7,291.5 L353.2,291.6 L353.7,291.7 L354.3,291.7 L354.8,291.8 L355.3,291.9 L355.8,291.9 L356.4,291.9 L356.9,292.0 L357.4,292.0 L358.0,292.0 L358.5,292.0 L359.0,292.0 L359.5,292.0 L360.1,292.0 L360.6,292.0 L361.1,291.9 L361.7,291.9 L362.2,291.9 L362.7,291.8 L363.2,291.8 L363.8,291.7 L364.3,291.6 L364.8,291.5 L365.4,291.4 L365.9,291.3 L366.4,291.2 L366.9,291.1 L367.5,291.0 L368.0,290.8 L368.5,290.7 L369.1,290.5 L369.6,290.3 L370.1,290.1 L370.7,289.9 L371.2,289.7 L371.7,289.5 L372.2,289.2 L372.8,288.9 L373.3,288.6 L373.8,288.3 L374.4,288.0 L374.9,287.6 L375.4,287.2 L375.9,286.8 L376.5,286.3 L377.0,285.8 L377.5,285.2 L378.1,284.5 L378.6,283.8 L379.1,282.9 L379.6,282.0 L380.2,280.9 L380.7,279.6 L381.2,278.2 L381.8,276.6 L382.3,274.7 L382.8,272.6 L383.3,270.2 L383.9,267.5 L384.4,264.3 L384.9,260.8 L385.5,257.2 L386.0,253.7 L386.5,249.7 L387.0,245.2 L387.6,240.2 L388.1,234.6 L388.6,228.6 L389.2,222.1 L389.7,215.2 L390.2,207.8 L390.8,200.1 L391.3,192.1 L391.8,183.9 L392.3,175.6 L392.9,167.3 L393.4,159.2 L393.9,151.3 L394.5,143.8 L395.0,136.7 L395.5,130.4 L396.0,124.7 L396.6,120.0 L397.1,116.1 L397.6,113.3 L398.2,111.6 L398.7,111.0 L399.2,111.5 L399.7,112.6 L400.3,114.4 L400.8,116.9 L401.3,120.0 L401.9,123.7 L402.4,128.0 L402.9,132.8 L403.4,138.1 L404.0,143.8 L404.5,149.8 L405.0,156.1 L405.6,162.7 L406.1,169.4 L406.6,176.2 L407.2,183.1 L407.7,190.0 L408.2,196.8 L408.7,203.5 L409.3,210.1 L409.8,216.5 L410.3,222.6 L410.9,228.5 L411.4,234.1 L411.9,239.5 L412.4,244.5 L413.0,249.2 L413.5,253.6 L414.0,257.6 L414.6,261.4 L415.1,264.8 L415.6,267.9 L416.1,270.8 L416.7,273.3 L417.2,275.6 L417.7,277.6 L418.3,279.4 L418.8,281.0 L419.3,282.3 L419.8,283.5 L420.4,284.5 L420.9,285.4 L421.4,286.1 L422.0,286.7 L422.5,287.1 L423.0,287.5 L423.6,287.8 L424.1,288.0 L424.6,288.1 L425.1,288.2 L425.7,288.2 L426.2,288.2 L426.7,288.1 L427.3,288.0 L427.8,287.9 L428.3,287.8 L428.8,287.6 L429.4,287.4 L429.9,287.2 L430.4,287.0 L431.0,286.7 L431.5,286.5 L432.0,286.2 L432.5,286.0 L433.1,285.7 L433.6,285.5 L434.1,285.2 L434.7,285.0 L435.2,284.7 L435.7,284.4 L436.2,284.2 L436.8,284.0 L437.3,283.7 L437.8,283.5 L438.4,283.3 L438.9,283.0 L439.4,282.8 L439.9,282.6 L440.5,282.4 L441.0,282.2 L441.5,282.1 L442.1,281.9 L442.6,281.8 L443.1,281.6 L443.7,281.5 L444.2,281.4 L444.7,281.3 L445.2,281.2 L445.8,281.1 L446.3,281.1 L446.8,281.0 L447.4,281.0 L447.9,281.0 L448.4,281.0 L448.9,281.1 L449.5,281.1 L450.0,281.2 L450.5,281.3 L451.1,281.4 L451.6,281.5 L452.1,281.6 L452.6,281.7 L453.2,281.9 L453.7,282.0 L454.2,282.2 L454.8,282.4 L455.3,282.6 L455.8,282.8 L456.3,283.0 L456.9,283.2 L457.4,283.4 L457.9,283.7 L458.5,283.9 L459.0,284.2 L459.5,284.5 L460.1,284.7 L460.6,285.0 L461.1,285.3 L461.6,285.6 L462.2,285.9 L462.7,286.2 L463.2,286.6" fill="none" stroke="#f24343" stroke-width="1.75" stroke-linejoin="round" stroke-linecap="round"/>
<path d="M347.4,288.1 L347.9,288.3 L348.4,288.5 L349.0,288.6 L349.5,288.8 L350.0,289.0 L350.5,289.1 L351.1,289.2 L351.6,289.4 L352.1,289.5 L352.7,289.6 L353.2,289.7 L353.7,289.8 L354.3,289.9 L354.8,290.0 L355.3,290.1 L355.8,290.2 L356.4,290.2 L356.9,290.3 L357.4,290.3 L358.0,290.4 L358.5,290.4 L359.0,290.5 L359.5,290.5 L360.1,290.6 L360.6,290.6 L361.1,290.6 L361.7,290.6 L362.2,290.7 L362.7,290.7 L363.2,290.7 L363.8,290.7 L364.3,290.7 L364.8,290.6 L365.4,290.6 L365.9,290.6 L366.4,290.5 L366.9,290.5 L367.5,290.4 L368.0,290.4 L368.5,290.3 L369.1,290.2 L369.6,290.1 L370.1,290.0 L370.7,289.9 L371.2,289.8 L371.7,289.6 L372.2,289.5 L372.8,289.3 L373.3,289.1 L373.8,289.0 L374.4,288.7 L374.9,288.5 L375.4,288.3 L375.9,288.0 L376.5,287.7 L377.0,287.4 L377.5,287.0 L378.1,286.6 L378.6,286.2 L379.1,285.7 L379.6,285.1 L380.2,284.5 L380.7,283.8 L381.2,283.0 L381.8,282.1 L382.3,281.2 L382.8,280.1 L383.3,278.8 L383.9,277.4 L384.4,275.9 L384.9,274.1 L385.5,272.2 L386.0,270.0 L386.5,267.7 L387.0,265.1 L387.6,262.5 L388.1,260.2 L388.6,257.7 L389.2,254.9 L389.7,252.0 L390.2,248.9 L390.8,245.6 L391.3,242.3 L391.8,238.8 L392.3,235.3 L392.9,231.8 L393.4,228.4 L393.9,225.0 L394.5,221.9 L395.0,219.0 L395.5,216.3 L396.0,214.0 L396.6,212.1 L397.1,210.6 L397.6,209.5 L398.2,209.0 L398.7,208.9 L399.2,209.4 L399.7,210.1 L400.3,211.2 L400.8,212.6 L401.3,214.3 L401.9,216.3 L402.4,218.6 L402.9,221.1 L403.4,223.9 L404.0,226.8 L404.5,229.9 L405.0,233.1 L405.6,236.4 L406.1,239.8 L406.6,243.2 L407.2,246.7 L407.7,250.1 L408.2,253.5 L408.7,256.8 L409.3,260.0 L409.8,263.1 L410.3,266.1 L410.9,268.9 L411.4,271.6 L411.9,274.2 L412.4,276.6 L413.0,278.8 L413.5,280.9 L414.0,282.8 L414.6,284.6 L415.1,286.2 L415.6,287.7 L416.1,289.0 L416.7,290.2 L417.2,291.3 L417.7,292.2 L418.3,293.1 L418.8,293.8 L419.3,294.4 L419.8,295.0 L420.4,295.4 L420.9,295.8 L421.4,296.2 L422.0,296.4 L422.5,296.6 L423.0,296.8 L423.6,296.9 L424.1,297.0 L424.6,297.0 L425.1,297.0 L425.7,297.0 L426.2,296.9 L426.7,296.9 L427.3,296.8 L427.8,296.6 L428.3,296.5 L428.8,296.3 L429.4,296.2 L429.9,296.0 L430.4,295.8 L431.0,295.6 L431.5,295.4 L432.0,295.1 L432.5,294.9 L433.1,294.7 L433.6,294.4 L434.1,294.1 L434.7,293.9 L435.2,293.6 L435.7,293.3 L436.2,293.1 L436.8,292.8 L437.3,292.5 L437.8,292.2 L438.4,291.9 L438.9,291.6 L439.4,291.3 L439.9,291.0 L440.5,290.7 L441.0,290.5 L441.5,290.2 L442.1,289.9 L442.6,289.6 L443.1,289.3 L443.7,289.1 L444.2,288.8 L444.7,288.5 L445.2,288.3 L445.8,288.0 L446.3,287.8 L446.8,287.6 L447.4,287.4 L447.9,287.2 L448.4,287.0 L448.9,286.8 L449.5,286.6 L450.0,286.4 L450.5,286.3 L451.1,286.2 L451.6,286.0 L452.1,285.9 L452.6,285.8 L453.2,285.8 L453.7,285.7 L454.2,285.6 L454.8,285.6 L455.3,285.6 L455.8,285.6 L456.3,285.5 L456.9,285.6 L457.4,285.6 L457.9,285.6 L458.5,285.7 L459.0,285.7 L459.5,285.8 L460.1,285.9 L460.6,286.0 L461.1,286.1 L461.6,286.2 L462.2,286.4 L462.7,286.5 L463.2,286.7" fill="none" stroke="#f18131" stroke-width="1.75" stroke-linejoin="round" stroke-linecap="round"/>
<path d="M347.4,286.0 L347.9,286.2 L348.4,286.4 L349.0,286.5 L349.5,286.7 L350.0,286.9 L350.5,287.0 L351.1,287.2 L351.6,287.3 L352.1,287.5 L352.7,287.6 L353.2,287.7 L353.7,287.8 L354.3,288.0 L354.8,288.1 L355.3,288.2 L355.8,288.3 L356.4,288.4 L356.9,288.4 L357.4,288.5 L358.0,288.6 L358.5,288.7 L359.0,288.8 L359.5,288.9 L360.1,288.9 L360.6,289.0 L361.1,289.1 L361.7,289.1 L362.2,289.2 L362.7,289.2 L363.2,289.3 L363.8,289.3 L364.3,289.4 L364.8,289.4 L365.4,289.5 L365.9,289.5 L366.4,289.5 L366.9,289.5 L367.5,289.5 L368.0,289.5 L368.5,289.5 L369.1,289.5 L369.6,289.5 L370.1,289.4 L370.7,289.4 L371.2,289.3 L371.7,289.3 L372.2,289.2 L372.8,289.1 L373.3,289.0 L373.8,288.9 L374.4,288.8 L374.9,288.6 L375.4,288.5 L375.9,288.3 L376.5,288.1 L377.0,287.9 L377.5,287.7 L378.1,287.4 L378.6,287.1 L379.1,286.8 L379.6,286.4 L380.2,286.0 L380.7,285.5 L381.2,285.0 L381.8,284.4 L382.3,283.7 L382.8,283.0 L383.3,282.2 L383.9,281.2 L384.4,280.2 L384.9,279.0 L385.5,277.7 L386.0,276.3 L386.5,274.8 L387.0,273.1 L387.6,271.2 L388.1,269.2 L388.6,267.1 L389.2,264.8 L389.7,262.7 L390.2,260.8 L390.8,258.8 L391.3,256.8 L391.8,254.7 L392.3,252.6 L392.9,250.5 L393.4,248.4 L393.9,246.4 L394.5,244.6 L395.0,242.8 L395.5,241.3 L396.0,239.9 L396.6,238.8 L397.1,238.0 L397.6,237.5 L398.2,237.3 L398.7,237.4 L399.2,237.8 L399.7,238.4 L400.3,239.3 L400.8,240.4 L401.3,241.7 L401.9,243.2 L402.4,244.9 L402.9,246.8 L403.4,248.8 L404.0,250.9 L404.5,253.1 L405.0,255.4 L405.6,257.8 L406.1,260.2 L406.6,262.6 L407.2,265.1 L407.7,267.5 L408.2,269.8 L408.7,272.1 L409.3,274.3 L409.8,276.5 L410.3,278.6 L410.9,280.5 L411.4,282.4 L411.9,284.2 L412.4,285.8 L413.0,287.4 L413.5,288.8 L414.0,290.1 L414.6,291.3 L415.1,292.4 L415.6,293.5 L416.1,294.4 L416.7,295.2 L417.2,296.0 L417.7,296.6 L418.3,297.2 L418.8,297.8 L419.3,298.2 L419.8,298.6 L420.4,299.0 L420.9,299.3 L421.4,299.6 L422.0,299.8 L422.5,300.0 L423.0,300.1 L423.6,300.2 L424.1,300.3 L424.6,300.4 L425.1,300.4 L425.7,300.4 L426.2,300.4 L426.7,300.4 L427.3,300.4 L427.8,300.3 L428.3,300.2 L428.8,300.2 L429.4,300.0 L429.9,299.9 L430.4,299.8 L431.0,299.7 L431.5,299.5 L432.0,299.3 L432.5,299.2 L433.1,299.0 L433.6,298.8 L434.1,298.6 L434.7,298.4 L435.2,298.2 L435.7,297.9 L436.2,297.7 L436.8,297.5 L437.3,297.2 L437.8,297.0 L438.4,296.7 L438.9,296.5 L439.4,296.2 L439.9,295.9 L440.5,295.7 L441.0,295.4 L441.5,295.1 L442.1,294.8 L442.6,294.6 L443.1,294.3 L443.7,294.0 L444.2,293.7 L444.7,293.5 L445.2,293.2 L445.8,292.9 L446.3,292.7 L446.8,292.4 L447.4,292.1 L447.9,291.9 L448.4,291.6 L448.9,291.4 L449.5,291.2 L450.0,290.9 L450.5,290.7 L451.1,290.5 L451.6,290.3 L452.1,290.1 L452.6,289.9 L453.2,289.7 L453.7,289.6 L454.2,289.4 L454.8,289.2 L455.3,289.1 L455.8,289.0 L456.3,288.8 L456.9,288.7 L457.4,288.6 L457.9,288.5 L458.5,288.4 L459.0,288.3 L459.5,288.3 L460.1,288.2 L460.6,288.2 L461.1,288.1 L461.6,288.1 L462.2,288.1 L462.7,288.1 L463.2,288.1" fill="none" stroke="#e9b131" stroke-width="1.75" stroke-linejoin="round" stroke-linecap="round"/>
<path d="M347.4,283.8 L347.9,284.0 L348.4,284.2 L349.0,284.4 L349.5,284.5 L350.0,284.7 L350.5,284.9 L351.1,285.0 L351.6,285.2 L352.1,285.3 L352.7,285.5 L353.2,285.6 L353.7,285.7 L354.3,285.9 L354.8,286.0 L355.3,286.1 L355.8,286.2 L356.4,286.4 L356.9,286.5 L357.4,286.6 L358.0,286.7 L358.5,286.8 L359.0,286.9 L359.5,287.0 L360.1,287.1 L360.6,287.2 L361.1,287.3 L361.7,287.4 L362.2,287.5 L362.7,287.6 L363.2,287.7 L363.8,287.8 L364.3,287.9 L364.8,288.0 L365.4,288.0 L365.9,288.1 L366.4,288.2 L366.9,288.2 L367.5,288.3 L368.0,288.3 L368.5,288.4 L369.1,288.4 L369.6,288.5 L370.1,288.5 L370.7,288.5 L371.2,288.5 L371.7,288.5 L372.2,288.5 L372.8,288.5 L373.3,288.4 L373.8,288.4 L374.4,288.3 L374.9,288.3 L375.4,288.2 L375.9,288.1 L376.5,288.0 L377.0,287.9 L377.5,287.7 L378.1,287.6 L378.6,287.4 L379.1,287.2 L379.6,286.9 L380.2,286.6 L380.7,286.3 L381.2,286.0 L381.8,285.5 L382.3,285.1 L382.8,284.6 L383.3,284.0 L383.9,283.3 L384.4,282.6 L384.9,281.8 L385.5,280.9 L386.0,279.9 L386.5,278.8 L387.0,277.6 L387.6,276.3 L388.1,275.0 L388.6,273.5 L389.2,271.9 L389.7,270.2 L390.2,268.4 L390.8,266.6 L391.3,264.7 L391.8,263.2 L392.3,261.9 L392.9,260.5 L393.4,259.2 L393.9,257.9 L394.5,256.7 L395.0,255.6 L395.5,254.6 L396.0,253.8 L396.6,253.2 L397.1,252.7 L397.6,252.5 L398.2,252.4 L398.7,252.6 L399.2,253.0 L399.7,253.6 L400.3,254.3 L400.8,255.3 L401.3,256.3 L401.9,257.6 L402.4,258.9 L402.9,260.4 L403.4,262.0 L404.0,263.7 L404.5,265.4 L405.0,267.2 L405.6,269.1 L406.1,271.0 L406.6,272.8 L407.2,274.7 L407.7,276.5 L408.2,278.4 L408.7,280.1 L409.3,281.8 L409.8,283.5 L410.3,285.1 L410.9,286.6 L411.4,288.0 L411.9,289.3 L412.4,290.6 L413.0,291.8 L413.5,292.9 L414.0,293.9 L414.6,294.9 L415.1,295.8 L415.6,296.6 L416.1,297.3 L416.7,298.0 L417.2,298.6 L417.7,299.2 L418.3,299.7 L418.8,300.2 L419.3,300.6 L419.8,301.0 L420.4,301.3 L420.9,301.6 L421.4,301.9 L422.0,302.1 L422.5,302.3 L423.0,302.5 L423.6,302.7 L424.1,302.9 L424.6,303.0 L425.1,303.1 L425.7,303.2 L426.2,303.3 L426.7,303.4 L427.3,303.4 L427.8,303.4 L428.3,303.5 L428.8,303.5 L429.4,303.5 L429.9,303.5 L430.4,303.4 L431.0,303.4 L431.5,303.4 L432.0,303.3 L432.5,303.2 L433.1,303.2 L433.6,303.1 L434.1,303.0 L434.7,302.9 L435.2,302.8 L435.7,302.7 L436.2,302.5 L436.8,302.4 L437.3,302.3 L437.8,302.1 L438.4,302.0 L438.9,301.8 L439.4,301.7 L439.9,301.5 L440.5,301.3 L441.0,301.1 L441.5,301.0 L442.1,300.8 L442.6,300.6 L443.1,300.4 L443.7,300.2 L444.2,300.0 L444.7,299.8 L445.2,299.6 L445.8,299.4 L446.3,299.2 L446.8,299.0 L447.4,298.8 L447.9,298.5 L448.4,298.3 L448.9,298.1 L449.5,297.9 L450.0,297.7 L450.5,297.5 L451.1,297.3 L451.6,297.1 L452.1,296.9 L452.6,296.7 L453.2,296.5 L453.7,296.3 L454.2,296.2 L454.8,296.0 L455.3,295.8 L455.8,295.6 L456.3,295.4 L456.9,295.2 L457.4,295.1 L457.9,294.9 L458.5,294.7 L459.0,294.5 L459.5,294.4 L460.1,294.2 L460.6,294.0 L461.1,293.9 L461.6,293.7 L462.2,293.5 L462.7,293.4 L463.2,293.2" fill="none" stroke="#e6d630" stroke-width="1.75" stroke-linejoin="round" stroke-linecap="round"/>
<path d="M347.4,281.5 L347.9,281.7 L348.4,281.9 L349.0,282.1 L349.5,282.2 L350.0,282.4 L350.5,282.6 L351.1,282.8 L351.6,282.9 L352.1,283.1 L352.7,283.2 L353.2,283.4 L353.7,283.5 L354.3,283.7 L354.8,283.8 L355.3,283.9 L355.8,284.1 L356.4,284.2 L356.9,284.3 L357.4,284.5 L358.0,284.6 L358.5,284.7 L359.0,284.9 L359.5,285.0 L360.1,285.1 L360.6,285.3 L361.1,285.4 L361.7,285.5 L362.2,285.7 L362.7,285.8 L363.2,285.9 L363.8,286.0 L364.3,286.1 L364.8,286.3 L365.4,286.4 L365.9,286.5 L366.4,286.6 L366.9,286.7 L367.5,286.8 L368.0,286.9 L368.5,287.0 L369.1,287.1 L369.6,287.1 L370.1,287.2 L370.7,287.3 L371.2,287.3 L371.7,287.4 L372.2,287.4 L372.8,287.5 L373.3,287.5 L373.8,287.5 L374.4,287.5 L374.9,287.5 L375.4,287.5 L375.9,287.5 L376.5,287.5 L377.0,287.4 L377.5,287.4 L378.1,287.3 L378.6,287.2 L379.1,287.1 L379.6,286.9 L380.2,286.8 L380.7,286.6 L381.2,286.4 L381.8,286.1 L382.3,285.9 L382.8,285.5 L383.3,285.2 L383.9,284.8 L384.4,284.4 L384.9,283.9 L385.5,283.3 L386.0,282.8 L386.5,282.1 L387.0,281.4 L387.6,280.6 L388.1,279.8 L388.6,278.9 L389.2,278.0 L389.7,277.0 L390.2,276.0 L390.8,274.9 L391.3,273.8 L391.8,272.6 L392.3,271.5 L392.9,270.4 L393.4,269.5 L393.9,268.9 L394.5,268.3 L395.0,267.8 L395.5,267.4 L396.0,267.1 L396.6,266.9 L397.1,266.8 L397.6,266.8 L398.2,266.9 L398.7,267.2 L399.2,267.6 L399.7,268.1 L400.3,268.7 L400.8,269.4 L401.3,270.2 L401.9,271.1 L402.4,272.1 L402.9,273.1 L403.4,274.2 L404.0,275.4 L404.5,276.6 L405.0,277.9 L405.6,279.2 L406.1,280.4 L406.6,281.7 L407.2,283.0 L407.7,284.3 L408.2,285.5 L408.7,286.7 L409.3,287.9 L409.8,289.0 L410.3,290.1 L410.9,291.2 L411.4,292.2 L411.9,293.2 L412.4,294.1 L413.0,294.9 L413.5,295.7 L414.0,296.5 L414.6,297.2 L415.1,297.9 L415.6,298.5 L416.1,299.1 L416.7,299.7 L417.2,300.2 L417.7,300.7 L418.3,301.1 L418.8,301.6 L419.3,302.0 L419.8,302.3 L420.4,302.6 L420.9,303.0 L421.4,303.2 L422.0,303.5 L422.5,303.8 L423.0,304.0 L423.6,304.2 L424.1,304.4 L424.6,304.6 L425.1,304.8 L425.7,304.9 L426.2,305.1 L426.7,305.2 L427.3,305.3 L427.8,305.4 L428.3,305.5 L428.8,305.6 L429.4,305.6 L429.9,305.7 L430.4,305.8 L431.0,305.8 L431.5,305.8 L432.0,305.9 L432.5,305.9 L433.1,305.9 L433.6,305.9 L434.1,305.8 L434.7,305.8 L435.2,305.8 L435.7,305.8 L436.2,305.7 L436.8,305.7 L437.3,305.6 L437.8,305.5 L438.4,305.5 L438.9,305.4 L439.4,305.3 L439.9,305.2 L440.5,305.1 L441.0,305.0 L441.5,304.9 L442.1,304.8 L442.6,304.7 L443.1,304.6 L443.7,304.5 L444.2,304.3 L444.7,304.2 L445.2,304.1 L445.8,303.9 L446.3,303.8 L446.8,303.7 L447.4,303.5 L447.9,303.4 L448.4,303.2 L448.9,303.1 L449.5,303.0 L450.0,302.8 L450.5,302.7 L451.1,302.5 L451.6,302.4 L452.1,302.3 L452.6,302.1 L453.2,302.0 L453.7,301.8 L454.2,301.7 L454.8,301.5 L455.3,301.4 L455.8,301.3 L456.3,301.1 L456.9,301.0 L457.4,300.8 L457.9,300.7 L458.5,300.5 L459.0,300.4 L459.5,300.2 L460.1,300.0 L460.6,299.9 L461.1,299.7 L461.6,299.6 L462.2,299.4 L462.7,299.2 L463.2,299.1" fill="none" stroke="#a2dc32" stroke-width="1.75" stroke-linejoin="round" stroke-linecap="round"/>
<path d="M347.4,279.1 L347.9,279.3 L348.4,279.5 L349.0,279.7 L349.5,279.8 L350.0,280.0 L350.5,280.2 L351.1,280.3 L351.6,280.5 L352.1,280.7 L352.7,280.8 L353.2,281.0 L353.7,281.2 L354.3,281.3 L354.8,281.5 L355.3,281.6 L355.8,281.8 L356.4,281.9 L356.9,282.1 L357.4,282.2 L358.0,282.4 L358.5,282.5 L359.0,282.7 L359.5,282.8 L360.1,283.0 L360.6,283.1 L361.1,283.3 L361.7,283.4 L362.2,283.6 L362.7,283.7 L363.2,283.9 L363.8,284.1 L364.3,284.2 L364.8,284.4 L365.4,284.5 L365.9,284.6 L366.4,284.8 L366.9,284.9 L367.5,285.1 L368.0,285.2 L368.5,285.3 L369.1,285.4 L369.6,285.6 L370.1,285.7 L370.7,285.8 L371.2,285.9 L371.7,286.0 L372.2,286.1 L372.8,286.2 L373.3,286.3 L373.8,286.3 L374.4,286.4 L374.9,286.4 L375.4,286.5 L375.9,286.5 L376.5,286.5 L377.0,286.6 L377.5,286.6 L378.1,286.6 L378.6,286.5 L379.1,286.5 L379.6,286.4 L380.2,286.4 L380.7,286.3 L381.2,286.2 L381.8,286.0 L382.3,285.9 L382.8,285.7 L383.3,285.5 L383.9,285.3 L384.4,285.0 L384.9,284.8 L385.5,284.4 L386.0,284.1 L386.5,283.7 L387.0,283.3 L387.6,282.8 L388.1,282.4 L388.6,281.8 L389.2,281.3 L389.7,280.7 L390.2,280.1 L390.8,279.4 L391.3,278.8 L391.8,278.1 L392.3,277.5 L392.9,276.8 L393.4,276.1 L393.9,275.5 L394.5,274.8 L395.0,274.4 L395.5,274.3 L396.0,274.3 L396.6,274.3 L397.1,274.3 L397.6,274.5 L398.2,274.7 L398.7,275.0 L399.2,275.4 L399.7,275.8 L400.3,276.4 L400.8,277.0 L401.3,277.6 L401.9,278.3 L402.4,279.1 L402.9,279.9 L403.4,280.7 L404.0,281.6 L404.5,282.5 L405.0,283.5 L405.6,284.4 L406.1,285.4 L406.6,286.3 L407.2,287.3 L407.7,288.2 L408.2,289.2 L408.7,290.1 L409.3,291.0 L409.8,291.9 L410.3,292.7 L410.9,293.5 L411.4,294.3 L411.9,295.1 L412.4,295.8 L413.0,296.5 L413.5,297.2 L414.0,297.8 L414.6,298.4 L415.1,299.0 L415.6,299.5 L416.1,300.1 L416.7,300.6 L417.2,301.1 L417.7,301.5 L418.3,301.9 L418.8,302.3 L419.3,302.7 L419.8,303.1 L420.4,303.4 L420.9,303.7 L421.4,304.1 L422.0,304.3 L422.5,304.6 L423.0,304.9 L423.6,305.1 L424.1,305.3 L424.6,305.6 L425.1,305.8 L425.7,306.0 L426.2,306.1 L426.7,306.3 L427.3,306.5 L427.8,306.6 L428.3,306.7 L428.8,306.9 L429.4,307.0 L429.9,307.1 L430.4,307.2 L431.0,307.3 L431.5,307.3 L432.0,307.4 L432.5,307.4 L433.1,307.5 L433.6,307.5 L434.1,307.6 L434.7,307.6 L435.2,307.6 L435.7,307.6 L436.2,307.6 L436.8,307.6 L437.3,307.6 L437.8,307.5 L438.4,307.5 L438.9,307.5 L439.4,307.4 L439.9,307.4 L440.5,307.3 L441.0,307.3 L441.5,307.2 L442.1,307.1 L442.6,307.1 L443.1,307.0 L443.7,306.9 L444.2,306.8 L444.7,306.7 L445.2,306.6 L445.8,306.5 L446.3,306.4 L446.8,306.3 L447.4,306.3 L447.9,306.2 L448.4,306.1 L448.9,306.0 L449.5,305.9 L450.0,305.8 L450.5,305.7 L451.1,305.6 L451.6,305.5 L452.1,305.4 L452.6,305.3 L453.2,305.2 L453.7,305.1 L454.2,305.0 L454.8,304.9 L455.3,304.9 L455.8,304.8 L456.3,304.7 L456.9,304.6 L457.4,304.5 L457.9,304.4 L458.5,304.3 L459.0,304.2 L459.5,304.1 L460.1,304.0 L460.6,303.9 L461.1,303.8 L461.6,303.7 L462.2,303.5 L462.7,303.4 L463.2,303.3" fill="none" stroke="#10d620" stroke-width="1.75" stroke-linejoin="round" stroke-linecap="round"/>
<path d="M347.4,276.5 L347.9,276.7 L348.4,276.9 L349.0,277.1 L349.5,277.2 L350.0,277.4 L350.5,277.6 L351.1,277.8 L351.6,277.9 L352.1,278.1 L352.7,278.3 L353.2,278.4 L353.7,278.6 L354.3,278.8 L354.8,278.9 L355.3,279.1 L355.8,279.3 L356.4,279.4 L356.9,279.6 L357.4,279.8 L358.0,279.9 L358.5,280.1 L359.0,280.3 L359.5,280.4 L360.1,280.6 L360.6,280.8 L361.1,281.0 L361.7,281.1 L362.2,281.3 L362.7,281.5 L363.2,281.7 L363.8,281.8 L364.3,282.0 L364.8,282.2 L365.4,282.4 L365.9,282.6 L366.4,282.7 L366.9,282.9 L367.5,283.1 L368.0,283.2 L368.5,283.4 L369.1,283.6 L369.6,283.7 L370.1,283.9 L370.7,284.0 L371.2,284.2 L371.7,284.3 L372.2,284.4 L372.8,284.6 L373.3,284.7 L373.8,284.8 L374.4,284.9 L374.9,285.0 L375.4,285.1 L375.9,285.2 L376.5,285.3 L377.0,285.4 L377.5,285.4 L378.1,285.5 L378.6,285.5 L379.1,285.5 L379.6,285.5 L380.2,285.6 L380.7,285.5 L381.2,285.5 L381.8,285.5 L382.3,285.4 L382.8,285.4 L383.3,285.3 L383.9,285.2 L384.4,285.1 L384.9,285.0 L385.5,284.9 L386.0,284.7 L386.5,284.5 L387.0,284.3 L387.6,284.1 L388.1,283.9 L388.6,283.7 L389.2,283.4 L389.7,283.2 L390.2,282.9 L390.8,282.6 L391.3,282.3 L391.8,282.0 L392.3,281.7 L392.9,281.4 L393.4,281.1 L393.9,280.8 L394.5,280.5 L395.0,280.3 L395.5,280.0 L396.0,279.8 L396.6,279.8 L397.1,280.1 L397.6,280.3 L398.2,280.6 L398.7,280.9 L399.2,281.3 L399.7,281.7 L400.3,282.2 L400.8,282.7 L401.3,283.2 L401.9,283.7 L402.4,284.3 L402.9,284.9 L403.4,285.6 L404.0,286.2 L404.5,286.9 L405.0,287.6 L405.6,288.3 L406.1,289.0 L406.6,289.7 L407.2,290.4 L407.7,291.1 L408.2,291.8 L408.7,292.4 L409.3,293.1 L409.8,293.8 L410.3,294.5 L410.9,295.1 L411.4,295.7 L411.9,296.4 L412.4,297.0 L413.0,297.5 L413.5,298.1 L414.0,298.7 L414.6,299.2 L415.1,299.7 L415.6,300.3 L416.1,300.7 L416.7,301.2 L417.2,301.7 L417.7,302.1 L418.3,302.5 L418.8,302.9 L419.3,303.3 L419.8,303.7 L420.4,304.1 L420.9,304.4 L421.4,304.7 L422.0,305.0 L422.5,305.3 L423.0,305.6 L423.6,305.9 L424.1,306.1 L424.6,306.4 L425.1,306.6 L425.7,306.8 L426.2,307.1 L426.7,307.3 L427.3,307.4 L427.8,307.6 L428.3,307.8 L428.8,307.9 L429.4,308.1 L429.9,308.2 L430.4,308.4 L431.0,308.5 L431.5,308.6 L432.0,308.7 L432.5,308.8 L433.1,308.8 L433.6,308.9 L434.1,309.0 L434.7,309.0 L435.2,309.1 L435.7,309.1 L436.2,309.1 L436.8,309.2 L437.3,309.2 L437.8,309.2 L438.4,309.2 L438.9,309.2 L439.4,309.2 L439.9,309.2 L440.5,309.1 L441.0,309.1 L441.5,309.1 L442.1,309.1 L442.6,309.0 L443.1,309.0 L443.7,308.9 L444.2,308.9 L444.7,308.8 L445.2,308.8 L445.8,308.7 L446.3,308.7 L446.8,308.6 L447.4,308.6 L447.9,308.5 L448.4,308.5 L448.9,308.4 L449.5,308.4 L450.0,308.3 L450.5,308.3 L451.1,308.3 L451.6,308.2 L452.1,308.2 L452.6,308.2 L453.2,308.2 L453.7,308.2 L454.2,308.1 L454.8,308.1 L455.3,308.1 L455.8,308.1 L456.3,308.1 L456.9,308.1 L457.4,308.1 L457.9,308.1 L458.5,308.1 L459.0,308.1 L459.5,308.1 L460.1,308.1 L460.6,308.1 L461.1,308.1 L461.6,308.1 L462.2,308.1 L462.7,308.1 L463.2,308.1" fill="none" stroke="#12c98e" stroke-width="1.75" stroke-linejoin="round" stroke-linecap="round"/>
<path d="M347.4,273.7 L347.9,273.9 L348.4,274.1 L349.0,274.3 L349.5,274.4 L350.0,274.6 L350.5,274.8 L351.1,275.0 L351.6,275.1 L352.1,275.3 L352.7,275.5 L353.2,275.7 L353.7,275.8 L354.3,276.0 L354.8,276.2 L355.3,276.3 L355.8,276.5 L356.4,276.7 L356.9,276.9 L357.4,277.1 L358.0,277.2 L358.5,277.4 L359.0,277.6 L359.5,277.8 L360.1,278.0 L360.6,278.2 L361.1,278.4 L361.7,278.6 L362.2,278.8 L362.7,279.0 L363.2,279.2 L363.8,279.4 L364.3,279.6 L364.8,279.8 L365.4,280.0 L365.9,280.2 L366.4,280.4 L366.9,280.6 L367.5,280.8 L368.0,281.0 L368.5,281.2 L369.1,281.4 L369.6,281.6 L370.1,281.8 L370.7,281.9 L371.2,282.1 L371.7,282.3 L372.2,282.5 L372.8,282.6 L373.3,282.8 L373.8,283.0 L374.4,283.1 L374.9,283.3 L375.4,283.4 L375.9,283.5 L376.5,283.7 L377.0,283.8 L377.5,283.9 L378.1,284.0 L378.6,284.1 L379.1,284.2 L379.6,284.2 L380.2,284.3 L380.7,284.4 L381.2,284.4 L381.8,284.4 L382.3,284.5 L382.8,284.5 L383.3,284.5 L383.9,284.5 L384.4,284.5 L384.9,284.5 L385.5,284.4 L386.0,284.4 L386.5,284.3 L387.0,284.3 L387.6,284.2 L388.1,284.1 L388.6,284.0 L389.2,283.9 L389.7,283.8 L390.2,283.7 L390.8,283.6 L391.3,283.5 L391.8,283.4 L392.3,283.2 L392.9,283.1 L393.4,283.0 L393.9,282.9 L394.5,282.8 L395.0,282.7 L395.5,282.7 L396.0,282.6 L396.6,282.6 L397.1,282.5 L397.6,282.6 L398.2,282.9 L398.7,283.2 L399.2,283.6 L399.7,284.0 L400.3,284.4 L400.8,284.9 L401.3,285.4 L401.9,285.8 L402.4,286.4 L402.9,286.9 L403.4,287.4 L404.0,288.0 L404.5,288.6 L405.0,289.1 L405.6,289.7 L406.1,290.3 L406.6,290.9 L407.2,291.5 L407.7,292.1 L408.2,292.7 L408.7,293.3 L409.3,293.9 L409.8,294.5 L410.3,295.1 L410.9,295.7 L411.4,296.3 L411.9,296.8 L412.4,297.4 L413.0,297.9 L413.5,298.5 L414.0,299.0 L414.6,299.5 L415.1,300.0 L415.6,300.5 L416.1,301.0 L416.7,301.5 L417.2,301.9 L417.7,302.4 L418.3,302.8 L418.8,303.2 L419.3,303.6 L419.8,304.0 L420.4,304.3 L420.9,304.7 L421.4,305.0 L422.0,305.3 L422.5,305.6 L423.0,305.9 L423.6,306.2 L424.1,306.5 L424.6,306.8 L425.1,307.0 L425.7,307.2 L426.2,307.5 L426.7,307.7 L427.3,307.9 L427.8,308.1 L428.3,308.2 L428.8,308.4 L429.4,308.6 L429.9,308.7 L430.4,308.9 L431.0,309.0 L431.5,309.1 L432.0,309.2 L432.5,309.3 L433.1,309.4 L433.6,309.5 L434.1,309.6 L434.7,309.6 L435.2,309.7 L435.7,309.7 L436.2,309.8 L436.8,309.8 L437.3,309.8 L437.8,309.8 L438.4,309.8 L438.9,309.9 L439.4,309.9 L439.9,309.8 L440.5,309.8 L441.0,309.8 L441.5,309.8 L442.1,309.8 L442.6,309.7 L443.1,309.7 L443.7,309.7 L444.2,309.6 L444.7,309.6 L445.2,309.5 L445.8,309.5 L446.3,309.5 L446.8,309.4 L447.4,309.4 L447.9,309.4 L448.4,309.3 L448.9,309.3 L449.5,309.3 L450.0,309.3 L450.5,309.3 L451.1,309.3 L451.6,309.3 L452.1,309.3 L452.6,309.3 L453.2,309.3 L453.7,309.3 L454.2,309.3 L454.8,309.4 L455.3,309.4 L455.8,309.5 L456.3,309.5 L456.9,309.6 L457.4,309.6 L457.9,309.7 L458.5,309.7 L459.0,309.8 L459.5,309.9 L460.1,310.0 L460.6,310.0 L461.1,310.1 L461.6,310.2 L462.2,310.3 L462.7,310.4 L463.2,310.5" fill="none" stroke="#15b9bf" stroke-width="1.75" stroke-linejoin="round" stroke-linecap="round"/>
<path d="M347.4,270.6 L347.9,270.8 L348.4,270.9 L349.0,271.1 L349.5,271.3 L350.0,271.5 L350.5,271.6 L351.1,271.8 L351.6,272.0 L352.1,272.2 L352.7,272.4 L353.2,272.5 L353.7,272.7 L354.3,272.9 L354.8,273.1 L355.3,273.3 L355.8,273.4 L356.4,273.6 L356.9,273.8 L357.4,274.0 L358.0,274.2 L358.5,274.4 L359.0,274.6 L359.5,274.8 L360.1,275.0 L360.6,275.2 L361.1,275.4 L361.7,275.7 L362.2,275.9 L362.7,276.1 L363.2,276.3 L363.8,276.6 L364.3,276.8 L364.8,277.0 L365.4,277.2 L365.9,277.5 L366.4,277.7 L366.9,277.9 L367.5,278.2 L368.0,278.4 L368.5,278.6 L369.1,278.8 L369.6,279.1 L370.1,279.3 L370.7,279.5 L371.2,279.7 L371.7,279.9 L372.2,280.1 L372.8,280.3 L373.3,280.5 L373.8,280.7 L374.4,280.9 L374.9,281.1 L375.4,281.3 L375.9,281.5 L376.5,281.7 L377.0,281.8 L377.5,282.0 L378.1,282.1 L378.6,282.3 L379.1,282.4 L379.6,282.5 L380.2,282.6 L380.7,282.8 L381.2,282.9 L381.8,283.0 L382.3,283.0 L382.8,283.1 L383.3,283.2 L383.9,283.3 L384.4,283.3 L384.9,283.4 L385.5,283.4 L386.0,283.5 L386.5,283.5 L387.0,283.5 L387.6,283.5 L388.1,283.6 L388.6,283.6 L389.2,283.6 L389.7,283.6 L390.2,283.6 L390.8,283.6 L391.3,283.6 L391.8,283.6 L392.3,283.6 L392.9,283.6 L393.4,283.6 L393.9,283.6 L394.5,283.6 L395.0,283.6 L395.5,283.7 L396.0,283.7 L396.6,283.8 L397.1,283.9 L397.6,284.0 L398.2,284.1 L398.7,284.2 L399.2,284.6 L399.7,285.0 L400.3,285.4 L400.8,285.8 L401.3,286.3 L401.9,286.7 L402.4,287.2 L402.9,287.7 L403.4,288.2 L404.0,288.7 L404.5,289.2 L405.0,289.8 L405.6,290.3 L406.1,290.8 L406.6,291.4 L407.2,291.9 L407.7,292.5 L408.2,293.1 L408.7,293.6 L409.3,294.2 L409.8,294.7 L410.3,295.3 L410.9,295.8 L411.4,296.4 L411.9,296.9 L412.4,297.4 L413.0,297.9 L413.5,298.5 L414.0,299.0 L414.6,299.5 L415.1,299.9 L415.6,300.4 L416.1,300.9 L416.7,301.3 L417.2,301.8 L417.7,302.2 L418.3,302.6 L418.8,303.0 L419.3,303.4 L419.8,303.7 L420.4,304.1 L420.9,304.4 L421.4,304.8 L422.0,305.1 L422.5,305.4 L423.0,305.6 L423.6,305.9 L424.1,306.2 L424.6,306.4 L425.1,306.7 L425.7,306.9 L426.2,307.1 L426.7,307.3 L427.3,307.5 L427.8,307.7 L428.3,307.8 L428.8,308.0 L429.4,308.1 L429.9,308.3 L430.4,308.4 L431.0,308.5 L431.5,308.6 L432.0,308.7 L432.5,308.8 L433.1,308.9 L433.6,309.0 L434.1,309.1 L434.7,309.1 L435.2,309.2 L435.7,309.2 L436.2,309.3 L436.8,309.3 L437.3,309.3 L437.8,309.3 L438.4,309.4 L438.9,309.4 L439.4,309.4 L439.9,309.4 L440.5,309.4 L441.0,309.3 L441.5,309.3 L442.1,309.3 L442.6,309.3 L443.1,309.3 L443.7,309.2 L444.2,309.2 L444.7,309.2 L445.2,309.1 L445.8,309.1 L446.3,309.1 L446.8,309.1 L447.4,309.0 L447.9,309.0 L448.4,309.0 L448.9,309.0 L449.5,309.0 L450.0,309.0 L450.5,309.0 L451.1,309.0 L451.6,309.0 L452.1,309.0 L452.6,309.1 L453.2,309.1 L453.7,309.1 L454.2,309.2 L454.8,309.2 L455.3,309.3 L455.8,309.3 L456.3,309.4 L456.9,309.4 L457.4,309.5 L457.9,309.6 L458.5,309.7 L459.0,309.7 L459.5,309.8 L460.1,309.9 L460.6,310.0 L461.1,310.1 L461.6,310.2 L462.2,310.3 L462.7,310.4 L463.2,310.5" fill="none" stroke="#1a9de8" stroke-width="1.75" stroke-linejoin="round" stroke-linecap="round"/>
<path d="M347.4,266.8 L347.9,267.0 L348.4,267.2 L349.0,267.4 L349.5,267.5 L350.0,267.7 L350.5,267.9 L351.1,268.1 L351.6,268.3 L352.1,268.4 L352.7,268.6 L353.2,268.8 L353.7,269.0 L354.3,269.2 L354.8,269.4 L355.3,269.6 L355.8,269.8 L356.4,270.0 L356.9,270.2 L357.4,270.4 L358.0,270.6 L358.5,270.8 L359.0,271.0 L359.5,271.2 L360.1,271.4 L360.6,271.7 L361.1,271.9 L361.7,272.2 L362.2,272.4 L362.7,272.6 L363.2,272.9 L363.8,273.1 L364.3,273.4 L364.8,273.6 L365.4,273.9 L365.9,274.2 L366.4,274.4 L366.9,274.7 L367.5,274.9 L368.0,275.2 L368.5,275.5 L369.1,275.7 L369.6,276.0 L370.1,276.2 L370.7,276.5 L371.2,276.7 L371.7,277.0 L372.2,277.2 L372.8,277.5 L373.3,277.7 L373.8,278.0 L374.4,278.2 L374.9,278.4 L375.4,278.7 L375.9,278.9 L376.5,279.1 L377.0,279.3 L377.5,279.5 L378.1,279.7 L378.6,279.9 L379.1,280.1 L379.6,280.3 L380.2,280.5 L380.7,280.6 L381.2,280.8 L381.8,280.9 L382.3,281.1 L382.8,281.2 L383.3,281.4 L383.9,281.5 L384.4,281.6 L384.9,281.8 L385.5,281.9 L386.0,282.0 L386.5,282.1 L387.0,282.3 L387.6,282.4 L388.1,282.5 L388.6,282.6 L389.2,282.7 L389.7,282.8 L390.2,283.0 L390.8,283.1 L391.3,283.2 L391.8,283.3 L392.3,283.4 L392.9,283.6 L393.4,283.7 L393.9,283.8 L394.5,284.0 L395.0,284.1 L395.5,284.3 L396.0,284.4 L396.6,284.6 L397.1,284.8 L397.6,285.0 L398.2,285.2 L398.7,285.4 L399.2,285.7 L399.7,285.9 L400.3,286.3 L400.8,286.7 L401.3,287.2 L401.9,287.6 L402.4,288.0 L402.9,288.5 L403.4,288.9 L404.0,289.4 L404.5,289.9 L405.0,290.3 L405.6,290.8 L406.1,291.3 L406.6,291.8 L407.2,292.3 L407.7,292.8 L408.2,293.3 L408.7,293.8 L409.3,294.3 L409.8,294.8 L410.3,295.3 L410.9,295.8 L411.4,296.3 L411.9,296.8 L412.4,297.3 L413.0,297.8 L413.5,298.3 L414.0,298.8 L414.6,299.2 L415.1,299.7 L415.6,300.1 L416.1,300.6 L416.7,301.0 L417.2,301.4 L417.7,301.8 L418.3,302.2 L418.8,302.6 L419.3,302.9 L419.8,303.3 L420.4,303.6 L420.9,303.9 L421.4,304.2 L422.0,304.5 L422.5,304.8 L423.0,305.0 L423.6,305.3 L424.1,305.5 L424.6,305.7 L425.1,306.0 L425.7,306.2 L426.2,306.3 L426.7,306.5 L427.3,306.7 L427.8,306.9 L428.3,307.0 L428.8,307.1 L429.4,307.3 L429.9,307.4 L430.4,307.5 L431.0,307.6 L431.5,307.7 L432.0,307.8 L432.5,307.9 L433.1,308.0 L433.6,308.0 L434.1,308.1 L434.7,308.1 L435.2,308.2 L435.7,308.2 L436.2,308.3 L436.8,308.3 L437.3,308.3 L437.8,308.3 L438.4,308.4 L438.9,308.4 L439.4,308.4 L439.9,308.4 L440.5,308.4 L441.0,308.4 L441.5,308.4 L442.1,308.4 L442.6,308.4 L443.1,308.4 L443.7,308.4 L444.2,308.3 L444.7,308.3 L445.2,308.3 L445.8,308.3 L446.3,308.3 L446.8,308.3 L447.4,308.3 L447.9,308.3 L448.4,308.3 L448.9,308.3 L449.5,308.4 L450.0,308.4 L450.5,308.4 L451.1,308.5 L451.6,308.5 L452.1,308.5 L452.6,308.6 L453.2,308.6 L453.7,308.7 L454.2,308.8 L454.8,308.8 L455.3,308.9 L455.8,309.0 L456.3,309.1 L456.9,309.1 L457.4,309.2 L457.9,309.3 L458.5,309.4 L459.0,309.5 L459.5,309.6 L460.1,309.7 L460.6,309.8 L461.1,309.9 L461.6,310.0 L462.2,310.2 L462.7,310.3 L463.2,310.4" fill="none" stroke="#2d40f0" stroke-width="1.75" stroke-linejoin="round" stroke-linecap="round"/>
<path d="M347.4,260.5 L347.9,260.7 L348.4,260.8 L349.0,261.0 L349.5,261.2 L350.0,261.4 L350.5,261.6 L351.1,261.7 L351.6,261.9 L352.1,262.1 L352.7,262.3 L353.2,262.5 L353.7,262.7 L354.3,262.9 L354.8,263.1 L355.3,263.3 L355.8,263.5 L356.4,263.7 L356.9,263.9 L357.4,264.2 L358.0,264.4 L358.5,264.6 L359.0,264.9 L359.5,265.1 L360.1,265.4 L360.6,265.6 L361.1,265.9 L361.7,266.2 L362.2,266.4 L362.7,266.7 L363.2,267.0 L363.8,267.3 L364.3,267.6 L364.8,267.9 L365.4,268.2 L365.9,268.5 L366.4,268.8 L366.9,269.1 L367.5,269.4 L368.0,269.7 L368.5,270.0 L369.1,270.3 L369.6,270.6 L370.1,270.9 L370.7,271.2 L371.2,271.6 L371.7,271.9 L372.2,272.2 L372.8,272.5 L373.3,272.8 L373.8,273.1 L374.4,273.4 L374.9,273.7 L375.4,274.0 L375.9,274.3 L376.5,274.6 L377.0,274.9 L377.5,275.1 L378.1,275.4 L378.6,275.7 L379.1,276.0 L379.6,276.2 L380.2,276.5 L380.7,276.7 L381.2,277.0 L381.8,277.2 L382.3,277.5 L382.8,277.7 L383.3,277.9 L383.9,278.2 L384.4,278.4 L384.9,278.6 L385.5,278.9 L386.0,279.1 L386.5,279.3 L387.0,279.6 L387.6,279.8 L388.1,280.0 L388.6,280.3 L389.2,280.5 L389.7,280.8 L390.2,281.0 L390.8,281.2 L391.3,281.5 L391.8,281.8 L392.3,282.0 L392.9,282.3 L393.4,282.6 L393.9,282.8 L394.5,283.1 L395.0,283.4 L395.5,283.7 L396.0,284.0 L396.6,284.3 L397.1,284.6 L397.6,285.0 L398.2,285.3 L398.7,285.7 L399.2,286.0 L399.7,286.4 L400.3,286.8 L400.8,287.1 L401.3,287.5 L401.9,287.9 L402.4,288.4 L402.9,288.8 L403.4,289.2 L404.0,289.6 L404.5,290.1 L405.0,290.5 L405.6,290.9 L406.1,291.4 L406.6,291.8 L407.2,292.3 L407.7,292.8 L408.2,293.2 L408.7,293.7 L409.3,294.2 L409.8,294.6 L410.3,295.1 L410.9,295.6 L411.4,296.0 L411.9,296.5 L412.4,297.0 L413.0,297.4 L413.5,297.8 L414.0,298.3 L414.6,298.7 L415.1,299.1 L415.6,299.5 L416.1,299.9 L416.7,300.3 L417.2,300.7 L417.7,301.1 L418.3,301.4 L418.8,301.7 L419.3,302.0 L419.8,302.3 L420.4,302.6 L420.9,302.9 L421.4,303.1 L422.0,303.4 L422.5,303.6 L423.0,303.8 L423.6,304.0 L424.1,304.2 L424.6,304.4 L425.1,304.6 L425.7,304.7 L426.2,304.9 L426.7,305.0 L427.3,305.1 L427.8,305.2 L428.3,305.4 L428.8,305.5 L429.4,305.6 L429.9,305.6 L430.4,305.7 L431.0,305.8 L431.5,305.9 L432.0,305.9 L432.5,306.0 L433.1,306.0 L433.6,306.1 L434.1,306.1 L434.7,306.2 L435.2,306.2 L435.7,306.2 L436.2,306.3 L436.8,306.3 L437.3,306.3 L437.8,306.4 L438.4,306.4 L438.9,306.4 L439.4,306.4 L439.9,306.4 L440.5,306.5 L441.0,306.5 L441.5,306.5 L442.1,306.5 L442.6,306.6 L443.1,306.6 L443.7,306.6 L444.2,306.6 L444.7,306.7 L445.2,306.7 L445.8,306.7 L446.3,306.8 L446.8,306.8 L447.4,306.9 L447.9,306.9 L448.4,307.0 L448.9,307.0 L449.5,307.1 L450.0,307.2 L450.5,307.3 L451.1,307.3 L451.6,307.4 L452.1,307.5 L452.6,307.6 L453.2,307.7 L453.7,307.8 L454.2,307.9 L454.8,308.0 L455.3,308.2 L455.8,308.3 L456.3,308.4 L456.9,308.5 L457.4,308.7 L457.9,308.8 L458.5,308.9 L459.0,309.1 L459.5,309.2 L460.1,309.3 L460.6,309.5 L461.1,309.6 L461.6,309.7 L462.2,309.9 L462.7,310.0 L463.2,310.2" fill="none" stroke="#7a1fd6" stroke-width="1.75" stroke-linejoin="round" stroke-linecap="round"/>
</g>
<g clip-path="url(#c_d_top)">
<path d="M529.3,101.5 L529.8,101.2 L530.3,100.9 L530.9,100.6 L531.4,100.3 L531.9,100.0 L532.4,99.7 L533.0,99.4 L533.5,99.1 L534.0,98.8 L534.6,98.5 L535.1,98.2 L535.6,97.9 L536.2,97.6 L536.7,97.3 L537.2,97.0 L537.7,96.7 L538.3,96.4 L538.8,96.1 L539.3,95.7 L539.9,95.4 L540.4,95.1 L540.9,94.8 L541.4,94.4 L542.0,94.1 L542.5,93.8 L543.0,93.4 L543.6,93.1 L544.1,92.7 L544.6,92.4 L545.1,92.0 L545.7,91.7 L546.2,91.3 L546.7,90.9 L547.3,90.5 L547.8,90.2 L548.3,89.8 L548.8,89.4 L549.4,89.0 L549.9,88.6 L550.4,88.2 L551.0,87.8 L551.5,87.4 L552.0,87.0 L552.6,86.6 L553.1,86.1 L553.6,85.7 L554.1,85.2 L554.7,84.8 L555.2,84.3 L555.7,83.9 L556.3,83.4 L556.8,82.9 L557.3,82.5 L557.8,82.0 L558.4,81.5 L558.9,81.0 L559.4,80.5 L560.0,79.9 L560.5,79.4 L561.0,78.9 L561.5,78.4 L562.1,77.8 L562.6,77.3 L563.1,76.8 L563.7,76.2 L564.2,75.7 L564.7,75.2 L565.2,74.7 L565.8,74.1 L566.3,73.6 L566.8,73.1 L567.4,72.6 L567.9,72.1 L568.4,71.6 L568.9,71.1 L569.5,70.6 L570.0,70.1 L570.5,69.6 L571.1,69.2 L571.6,68.7 L572.1,68.2 L572.7,67.8 L573.2,67.4 L573.7,66.9 L574.2,66.5 L574.8,66.1 L575.3,65.6 L575.8,65.2 L576.4,64.8 L576.9,64.4 L577.4,64.0 L577.9,63.5 L578.5,63.1 L579.0,62.7 L579.5,62.3 L580.1,61.9 L580.6,61.4 L581.1,61.0 L581.6,60.6 L582.2,60.1 L582.7,59.7 L583.2,59.2 L583.8,58.8 L584.3,58.3 L584.8,57.9 L585.3,57.5 L585.9,57.0 L586.4,56.6 L586.9,56.2 L587.5,55.7 L588.0,55.3 L588.5,54.9 L589.1,54.4 L589.6,54.0 L590.1,53.6 L590.6,53.2 L591.2,52.8 L591.7,52.4 L592.2,52.0 L592.8,51.6 L593.3,51.3 L593.8,50.9 L594.3,50.5 L594.9,50.2 L595.4,49.8 L595.9,49.5 L596.5,49.2 L597.0,48.9 L597.5,48.6 L598.0,48.3 L598.6,48.0 L599.1,47.8 L599.6,47.5 L600.2,47.3 L600.7,47.1 L601.2,46.9 L601.7,46.7 L602.3,46.5 L602.8,46.4 L603.3,46.2 L603.9,46.1 L604.4,46.0 L604.9,45.9 L605.5,45.8 L606.0,45.7 L606.5,45.7 L607.0,45.6 L607.6,45.6 L608.1,45.5 L608.6,45.5 L609.2,45.5 L609.7,45.5 L610.2,45.5 L610.7,45.5 L611.3,45.5 L611.8,45.5 L612.3,45.5 L612.9,45.5 L613.4,45.6 L613.9,45.6 L614.4,45.6 L615.0,45.6 L615.5,45.6 L616.0,45.7 L616.6,45.7 L617.1,45.7 L617.6,45.7 L618.1,45.8 L618.7,45.8 L619.2,45.8 L619.7,45.8 L620.3,45.8 L620.8,45.8 L621.3,45.8 L621.8,45.8 L622.4,45.8 L622.9,45.8 L623.4,45.8 L624.0,45.8 L624.5,45.7 L625.0,45.7 L625.6,45.6 L626.1,45.6 L626.6,45.5 L627.1,45.5 L627.7,45.4 L628.2,45.3 L628.7,45.2 L629.3,45.1 L629.8,45.0 L630.3,44.9 L630.8,44.8 L631.4,44.7 L631.9,44.5 L632.4,44.3 L633.0,44.2 L633.5,44.0 L634.0,43.8 L634.5,43.6 L635.1,43.4 L635.6,43.2 L636.1,43.0 L636.7,42.8 L637.2,42.6 L637.7,42.4 L638.2,42.1 L638.8,41.9 L639.3,41.6 L639.8,41.4 L640.4,41.2 L640.9,40.9 L641.4,40.7 L642.0,40.4 L642.5,40.1 L643.0,39.9 L643.5,39.6 L644.1,39.4 L644.6,39.1 L645.1,38.9" fill="none" stroke="#7a1fd6" stroke-width="1.75" stroke-linejoin="round" stroke-linecap="round"/>
<path d="M529.3,100.8 L529.8,100.5 L530.3,100.2 L530.9,99.9 L531.4,99.6 L531.9,99.2 L532.4,98.9 L533.0,98.6 L533.5,98.3 L534.0,98.0 L534.6,97.7 L535.1,97.4 L535.6,97.0 L536.2,96.7 L536.7,96.4 L537.2,96.1 L537.7,95.7 L538.3,95.4 L538.8,95.1 L539.3,94.7 L539.9,94.4 L540.4,94.1 L540.9,93.7 L541.4,93.4 L542.0,93.0 L542.5,92.7 L543.0,92.3 L543.6,92.0 L544.1,91.6 L544.6,91.3 L545.1,90.9 L545.7,90.5 L546.2,90.1 L546.7,89.8 L547.3,89.4 L547.8,89.0 L548.3,88.6 L548.8,88.2 L549.4,87.8 L549.9,87.4 L550.4,87.0 L551.0,86.6 L551.5,86.1 L552.0,85.7 L552.6,85.3 L553.1,84.9 L553.6,84.4 L554.1,84.0 L554.7,83.5 L555.2,83.1 L555.7,82.6 L556.3,82.1 L556.8,81.7 L557.3,81.2 L557.8,80.7 L558.4,80.2 L558.9,79.7 L559.4,79.2 L560.0,78.7 L560.5,78.2 L561.0,77.7 L561.5,77.1 L562.1,76.6 L562.6,76.1 L563.1,75.6 L563.7,75.1 L564.2,74.5 L564.7,74.0 L565.2,73.5 L565.8,73.0 L566.3,72.5 L566.8,72.0 L567.4,71.5 L567.9,71.0 L568.4,70.5 L568.9,70.1 L569.5,69.6 L570.0,69.1 L570.5,68.7 L571.1,68.2 L571.6,67.8 L572.1,67.4 L572.7,66.9 L573.2,66.5 L573.7,66.1 L574.2,65.7 L574.8,65.3 L575.3,64.8 L575.8,64.4 L576.4,64.0 L576.9,63.6 L577.4,63.2 L577.9,62.8 L578.5,62.4 L579.0,61.9 L579.5,61.5 L580.1,61.1 L580.6,60.7 L581.1,60.2 L581.6,59.8 L582.2,59.4 L582.7,58.9 L583.2,58.5 L583.8,58.0 L584.3,57.6 L584.8,57.2 L585.3,56.7 L585.9,56.3 L586.4,55.8 L586.9,55.4 L587.5,55.0 L588.0,54.5 L588.5,54.1 L589.1,53.7 L589.6,53.3 L590.1,52.9 L590.6,52.5 L591.2,52.1 L591.7,51.7 L592.2,51.3 L592.8,50.9 L593.3,50.5 L593.8,50.2 L594.3,49.8 L594.9,49.5 L595.4,49.1 L595.9,48.8 L596.5,48.5 L597.0,48.2 L597.5,47.9 L598.0,47.6 L598.6,47.3 L599.1,47.1 L599.6,46.8 L600.2,46.6 L600.7,46.4 L601.2,46.2 L601.7,46.0 L602.3,45.8 L602.8,45.7 L603.3,45.5 L603.9,45.4 L604.4,45.3 L604.9,45.2 L605.5,45.1 L606.0,45.0 L606.5,45.0 L607.0,44.9 L607.6,44.9 L608.1,44.8 L608.6,44.8 L609.2,44.8 L609.7,44.8 L610.2,44.7 L610.7,44.7 L611.3,44.7 L611.8,44.7 L612.3,44.7 L612.9,44.7 L613.4,44.7 L613.9,44.8 L614.4,44.8 L615.0,44.8 L615.5,44.8 L616.0,44.8 L616.6,44.8 L617.1,44.8 L617.6,44.8 L618.1,44.8 L618.7,44.8 L619.2,44.8 L619.7,44.8 L620.3,44.8 L620.8,44.8 L621.3,44.8 L621.8,44.8 L622.4,44.8 L622.9,44.7 L623.4,44.7 L624.0,44.6 L624.5,44.6 L625.0,44.5 L625.6,44.5 L626.1,44.4 L626.6,44.3 L627.1,44.2 L627.7,44.1 L628.2,44.0 L628.7,43.9 L629.3,43.8 L629.8,43.7 L630.3,43.6 L630.8,43.4 L631.4,43.3 L631.9,43.1 L632.4,42.9 L633.0,42.7 L633.5,42.5 L634.0,42.4 L634.5,42.1 L635.1,41.9 L635.6,41.7 L636.1,41.5 L636.7,41.3 L637.2,41.0 L637.7,40.8 L638.2,40.5 L638.8,40.3 L639.3,40.0 L639.8,39.7 L640.4,39.5 L640.9,39.2 L641.4,38.9 L642.0,38.7 L642.5,38.4 L643.0,38.1 L643.5,37.8 L644.1,37.5 L644.6,37.3 L645.1,37.0" fill="none" stroke="#2d40f0" stroke-width="1.75" stroke-linejoin="round" stroke-linecap="round"/>
<path d="M529.3,100.1 L529.8,99.8 L530.3,99.5 L530.9,99.2 L531.4,98.9 L531.9,98.5 L532.4,98.2 L533.0,97.9 L533.5,97.6 L534.0,97.2 L534.6,96.9 L535.1,96.6 L535.6,96.2 L536.2,95.9 L536.7,95.6 L537.2,95.2 L537.7,94.9 L538.3,94.5 L538.8,94.2 L539.3,93.9 L539.9,93.5 L540.4,93.2 L540.9,92.8 L541.4,92.5 L542.0,92.1 L542.5,91.7 L543.0,91.4 L543.6,91.0 L544.1,90.6 L544.6,90.3 L545.1,89.9 L545.7,89.5 L546.2,89.1 L546.7,88.7 L547.3,88.3 L547.8,87.9 L548.3,87.5 L548.8,87.1 L549.4,86.7 L549.9,86.3 L550.4,85.9 L551.0,85.5 L551.5,85.0 L552.0,84.6 L552.6,84.2 L553.1,83.7 L553.6,83.3 L554.1,82.8 L554.7,82.4 L555.2,81.9 L555.7,81.4 L556.3,81.0 L556.8,80.5 L557.3,80.0 L557.8,79.5 L558.4,79.0 L558.9,78.5 L559.4,78.0 L560.0,77.5 L560.5,77.0 L561.0,76.5 L561.5,76.0 L562.1,75.5 L562.6,75.0 L563.1,74.5 L563.7,74.0 L564.2,73.5 L564.7,73.0 L565.2,72.5 L565.8,72.0 L566.3,71.5 L566.8,71.0 L567.4,70.6 L567.9,70.1 L568.4,69.6 L568.9,69.2 L569.5,68.7 L570.0,68.3 L570.5,67.9 L571.1,67.4 L571.6,67.0 L572.1,66.6 L572.7,66.2 L573.2,65.7 L573.7,65.3 L574.2,64.9 L574.8,64.5 L575.3,64.1 L575.8,63.7 L576.4,63.3 L576.9,62.9 L577.4,62.5 L577.9,62.1 L578.5,61.7 L579.0,61.2 L579.5,60.8 L580.1,60.4 L580.6,60.0 L581.1,59.6 L581.6,59.1 L582.2,58.7 L582.7,58.2 L583.2,57.8 L583.8,57.4 L584.3,56.9 L584.8,56.5 L585.3,56.0 L585.9,55.6 L586.4,55.2 L586.9,54.7 L587.5,54.3 L588.0,53.9 L588.5,53.4 L589.1,53.0 L589.6,52.6 L590.1,52.2 L590.6,51.8 L591.2,51.4 L591.7,51.0 L592.2,50.6 L592.8,50.2 L593.3,49.9 L593.8,49.5 L594.3,49.1 L594.9,48.8 L595.4,48.5 L595.9,48.1 L596.5,47.8 L597.0,47.5 L597.5,47.2 L598.0,47.0 L598.6,46.7 L599.1,46.5 L599.6,46.2 L600.2,46.0 L600.7,45.8 L601.2,45.6 L601.7,45.4 L602.3,45.2 L602.8,45.1 L603.3,44.9 L603.9,44.8 L604.4,44.7 L604.9,44.6 L605.5,44.5 L606.0,44.4 L606.5,44.3 L607.0,44.3 L607.6,44.2 L608.1,44.2 L608.6,44.1 L609.2,44.1 L609.7,44.1 L610.2,44.1 L610.7,44.0 L611.3,44.0 L611.8,44.0 L612.3,44.0 L612.9,44.0 L613.4,44.0 L613.9,44.0 L614.4,44.0 L615.0,44.0 L615.5,44.0 L616.0,44.0 L616.6,44.0 L617.1,44.0 L617.6,44.0 L618.1,44.0 L618.7,44.0 L619.2,44.0 L619.7,44.0 L620.3,44.0 L620.8,43.9 L621.3,43.9 L621.8,43.9 L622.4,43.8 L622.9,43.8 L623.4,43.7 L624.0,43.7 L624.5,43.6 L625.0,43.5 L625.6,43.4 L626.1,43.3 L626.6,43.2 L627.1,43.1 L627.7,43.0 L628.2,42.9 L628.7,42.8 L629.3,42.6 L629.8,42.5 L630.3,42.3 L630.8,42.2 L631.4,42.0 L631.9,41.8 L632.4,41.6 L633.0,41.4 L633.5,41.2 L634.0,41.0 L634.5,40.8 L635.1,40.6 L635.6,40.3 L636.1,40.1 L636.7,39.9 L637.2,39.6 L637.7,39.3 L638.2,39.1 L638.8,38.8 L639.3,38.5 L639.8,38.3 L640.4,38.0 L640.9,37.7 L641.4,37.4 L642.0,37.1 L642.5,36.8 L643.0,36.5 L643.5,36.2 L644.1,35.9 L644.6,35.6 L645.1,35.3" fill="none" stroke="#1a9de8" stroke-width="1.75" stroke-linejoin="round" stroke-linecap="round"/>
<path d="M529.3,99.5 L529.8,99.2 L530.3,98.8 L530.9,98.5 L531.4,98.1 L531.9,97.8 L532.4,97.5 L533.0,97.1 L533.5,96.8 L534.0,96.5 L534.6,96.1 L535.1,95.8 L535.6,95.4 L536.2,95.1 L536.7,94.7 L537.2,94.4 L537.7,94.0 L538.3,93.7 L538.8,93.3 L539.3,93.0 L539.9,92.6 L540.4,92.3 L540.9,91.9 L541.4,91.5 L542.0,91.1 L542.5,90.8 L543.0,90.4 L543.6,90.0 L544.1,89.6 L544.6,89.2 L545.1,88.9 L545.7,88.5 L546.2,88.1 L546.7,87.7 L547.3,87.3 L547.8,86.9 L548.3,86.4 L548.8,86.0 L549.4,85.6 L549.9,85.2 L550.4,84.8 L551.0,84.3 L551.5,83.9 L552.0,83.5 L552.6,83.0 L553.1,82.6 L553.6,82.1 L554.1,81.7 L554.7,81.2 L555.2,80.8 L555.7,80.3 L556.3,79.8 L556.8,79.3 L557.3,78.9 L557.8,78.4 L558.4,77.9 L558.9,77.4 L559.4,76.9 L560.0,76.4 L560.5,75.9 L561.0,75.4 L561.5,74.9 L562.1,74.4 L562.6,73.9 L563.1,73.4 L563.7,72.9 L564.2,72.4 L564.7,72.0 L565.2,71.5 L565.8,71.0 L566.3,70.5 L566.8,70.1 L567.4,69.6 L567.9,69.2 L568.4,68.7 L568.9,68.3 L569.5,67.9 L570.0,67.4 L570.5,67.0 L571.1,66.6 L571.6,66.2 L572.1,65.8 L572.7,65.4 L573.2,65.0 L573.7,64.6 L574.2,64.2 L574.8,63.8 L575.3,63.4 L575.8,63.0 L576.4,62.6 L576.9,62.2 L577.4,61.8 L577.9,61.4 L578.5,61.0 L579.0,60.6 L579.5,60.1 L580.1,59.7 L580.6,59.3 L581.1,58.9 L581.6,58.4 L582.2,58.0 L582.7,57.6 L583.2,57.1 L583.8,56.7 L584.3,56.3 L584.8,55.8 L585.3,55.4 L585.9,54.9 L586.4,54.5 L586.9,54.1 L587.5,53.6 L588.0,53.2 L588.5,52.8 L589.1,52.3 L589.6,51.9 L590.1,51.5 L590.6,51.1 L591.2,50.7 L591.7,50.3 L592.2,49.9 L592.8,49.6 L593.3,49.2 L593.8,48.8 L594.3,48.5 L594.9,48.1 L595.4,47.8 L595.9,47.5 L596.5,47.2 L597.0,46.9 L597.5,46.6 L598.0,46.3 L598.6,46.1 L599.1,45.8 L599.6,45.6 L600.2,45.4 L600.7,45.2 L601.2,45.0 L601.7,44.8 L602.3,44.6 L602.8,44.5 L603.3,44.3 L603.9,44.2 L604.4,44.1 L604.9,43.9 L605.5,43.9 L606.0,43.8 L606.5,43.7 L607.0,43.6 L607.6,43.6 L608.1,43.5 L608.6,43.5 L609.2,43.4 L609.7,43.4 L610.2,43.4 L610.7,43.3 L611.3,43.3 L611.8,43.3 L612.3,43.3 L612.9,43.3 L613.4,43.3 L613.9,43.3 L614.4,43.3 L615.0,43.3 L615.5,43.3 L616.0,43.3 L616.6,43.3 L617.1,43.2 L617.6,43.2 L618.1,43.2 L618.7,43.2 L619.2,43.2 L619.7,43.1 L620.3,43.1 L620.8,43.1 L621.3,43.0 L621.8,42.9 L622.4,42.9 L622.9,42.8 L623.4,42.7 L624.0,42.7 L624.5,42.6 L625.0,42.5 L625.6,42.4 L626.1,42.3 L626.6,42.1 L627.1,42.0 L627.7,41.9 L628.2,41.7 L628.7,41.6 L629.3,41.4 L629.8,41.3 L630.3,41.1 L630.8,40.9 L631.4,40.7 L631.9,40.6 L632.4,40.3 L633.0,40.1 L633.5,39.9 L634.0,39.7 L634.5,39.5 L635.1,39.2 L635.6,39.0 L636.1,38.7 L636.7,38.5 L637.2,38.2 L637.7,37.9 L638.2,37.6 L638.8,37.4 L639.3,37.1 L639.8,36.8 L640.4,36.5 L640.9,36.2 L641.4,35.8 L642.0,35.5 L642.5,35.2 L643.0,34.9 L643.5,34.6 L644.1,34.2 L644.6,33.9 L645.1,33.6" fill="none" stroke="#15b9bf" stroke-width="1.75" stroke-linejoin="round" stroke-linecap="round"/>
<path d="M529.3,98.8 L529.8,98.5 L530.3,98.1 L530.9,97.8 L531.4,97.4 L531.9,97.1 L532.4,96.7 L533.0,96.4 L533.5,96.0 L534.0,95.7 L534.6,95.3 L535.1,95.0 L535.6,94.6 L536.2,94.3 L536.7,93.9 L537.2,93.6 L537.7,93.2 L538.3,92.8 L538.8,92.5 L539.3,92.1 L539.9,91.7 L540.4,91.3 L540.9,91.0 L541.4,90.6 L542.0,90.2 L542.5,89.8 L543.0,89.4 L543.6,89.0 L544.1,88.6 L544.6,88.2 L545.1,87.8 L545.7,87.4 L546.2,87.0 L546.7,86.6 L547.3,86.2 L547.8,85.8 L548.3,85.4 L548.8,84.9 L549.4,84.5 L549.9,84.1 L550.4,83.7 L551.0,83.2 L551.5,82.8 L552.0,82.3 L552.6,81.9 L553.1,81.4 L553.6,81.0 L554.1,80.5 L554.7,80.1 L555.2,79.6 L555.7,79.1 L556.3,78.7 L556.8,78.2 L557.3,77.7 L557.8,77.2 L558.4,76.7 L558.9,76.3 L559.4,75.8 L560.0,75.3 L560.5,74.8 L561.0,74.3 L561.5,73.8 L562.1,73.3 L562.6,72.8 L563.1,72.3 L563.7,71.9 L564.2,71.4 L564.7,70.9 L565.2,70.5 L565.8,70.0 L566.3,69.6 L566.8,69.1 L567.4,68.7 L567.9,68.2 L568.4,67.8 L568.9,67.4 L569.5,67.0 L570.0,66.6 L570.5,66.2 L571.1,65.8 L571.6,65.4 L572.1,65.0 L572.7,64.6 L573.2,64.2 L573.7,63.8 L574.2,63.4 L574.8,63.0 L575.3,62.7 L575.8,62.3 L576.4,61.9 L576.9,61.5 L577.4,61.1 L577.9,60.7 L578.5,60.3 L579.0,59.9 L579.5,59.5 L580.1,59.0 L580.6,58.6 L581.1,58.2 L581.6,57.8 L582.2,57.3 L582.7,56.9 L583.2,56.5 L583.8,56.0 L584.3,55.6 L584.8,55.1 L585.3,54.7 L585.9,54.3 L586.4,53.8 L586.9,53.4 L587.5,53.0 L588.0,52.5 L588.5,52.1 L589.1,51.7 L589.6,51.3 L590.1,50.8 L590.6,50.4 L591.2,50.0 L591.7,49.6 L592.2,49.3 L592.8,48.9 L593.3,48.5 L593.8,48.2 L594.3,47.8 L594.9,47.5 L595.4,47.2 L595.9,46.8 L596.5,46.5 L597.0,46.2 L597.5,46.0 L598.0,45.7 L598.6,45.4 L599.1,45.2 L599.6,45.0 L600.2,44.8 L600.7,44.5 L601.2,44.4 L601.7,44.2 L602.3,44.0 L602.8,43.8 L603.3,43.7 L603.9,43.6 L604.4,43.4 L604.9,43.3 L605.5,43.2 L606.0,43.1 L606.5,43.1 L607.0,43.0 L607.6,42.9 L608.1,42.9 L608.6,42.8 L609.2,42.8 L609.7,42.7 L610.2,42.7 L610.7,42.7 L611.3,42.6 L611.8,42.6 L612.3,42.6 L612.9,42.6 L613.4,42.6 L613.9,42.5 L614.4,42.5 L615.0,42.5 L615.5,42.5 L616.0,42.5 L616.6,42.5 L617.1,42.4 L617.6,42.4 L618.1,42.4 L618.7,42.4 L619.2,42.3 L619.7,42.3 L620.3,42.2 L620.8,42.2 L621.3,42.1 L621.8,42.0 L622.4,41.9 L622.9,41.9 L623.4,41.8 L624.0,41.7 L624.5,41.6 L625.0,41.4 L625.6,41.3 L626.1,41.2 L626.6,41.0 L627.1,40.9 L627.7,40.7 L628.2,40.6 L628.7,40.4 L629.3,40.3 L629.8,40.1 L630.3,39.9 L630.8,39.7 L631.4,39.5 L631.9,39.3 L632.4,39.1 L633.0,38.8 L633.5,38.6 L634.0,38.4 L634.5,38.1 L635.1,37.9 L635.6,37.6 L636.1,37.3 L636.7,37.1 L637.2,36.8 L637.7,36.5 L638.2,36.2 L638.8,35.9 L639.3,35.6 L639.8,35.3 L640.4,35.0 L640.9,34.6 L641.4,34.3 L642.0,34.0 L642.5,33.6 L643.0,33.3 L643.5,32.9 L644.1,32.6 L644.6,32.2 L645.1,31.9" fill="none" stroke="#12c98e" stroke-width="1.75" stroke-linejoin="round" stroke-linecap="round"/>
<path d="M529.3,98.2 L529.8,97.8 L530.3,97.5 L530.9,97.1 L531.4,96.7 L531.9,96.4 L532.4,96.0 L533.0,95.7 L533.5,95.3 L534.0,94.9 L534.6,94.6 L535.1,94.2 L535.6,93.8 L536.2,93.5 L536.7,93.1 L537.2,92.7 L537.7,92.3 L538.3,92.0 L538.8,91.6 L539.3,91.2 L539.9,90.8 L540.4,90.4 L540.9,90.0 L541.4,89.7 L542.0,89.3 L542.5,88.9 L543.0,88.5 L543.6,88.1 L544.1,87.7 L544.6,87.2 L545.1,86.8 L545.7,86.4 L546.2,86.0 L546.7,85.6 L547.3,85.2 L547.8,84.7 L548.3,84.3 L548.8,83.9 L549.4,83.4 L549.9,83.0 L550.4,82.5 L551.0,82.1 L551.5,81.7 L552.0,81.2 L552.6,80.8 L553.1,80.3 L553.6,79.8 L554.1,79.4 L554.7,78.9 L555.2,78.4 L555.7,78.0 L556.3,77.5 L556.8,77.0 L557.3,76.6 L557.8,76.1 L558.4,75.6 L558.9,75.1 L559.4,74.6 L560.0,74.1 L560.5,73.7 L561.0,73.2 L561.5,72.7 L562.1,72.2 L562.6,71.7 L563.1,71.3 L563.7,70.8 L564.2,70.3 L564.7,69.9 L565.2,69.4 L565.8,69.0 L566.3,68.6 L566.8,68.1 L567.4,67.7 L567.9,67.3 L568.4,66.9 L568.9,66.5 L569.5,66.1 L570.0,65.7 L570.5,65.3 L571.1,65.0 L571.6,64.6 L572.1,64.2 L572.7,63.8 L573.2,63.4 L573.7,63.1 L574.2,62.7 L574.8,62.3 L575.3,61.9 L575.8,61.5 L576.4,61.2 L576.9,60.8 L577.4,60.4 L577.9,60.0 L578.5,59.6 L579.0,59.2 L579.5,58.8 L580.1,58.4 L580.6,57.9 L581.1,57.5 L581.6,57.1 L582.2,56.7 L582.7,56.2 L583.2,55.8 L583.8,55.3 L584.3,54.9 L584.8,54.5 L585.3,54.0 L585.9,53.6 L586.4,53.1 L586.9,52.7 L587.5,52.3 L588.0,51.8 L588.5,51.4 L589.1,51.0 L589.6,50.6 L590.1,50.2 L590.6,49.8 L591.2,49.4 L591.7,49.0 L592.2,48.6 L592.8,48.2 L593.3,47.9 L593.8,47.5 L594.3,47.2 L594.9,46.8 L595.4,46.5 L595.9,46.2 L596.5,45.9 L597.0,45.6 L597.5,45.3 L598.0,45.1 L598.6,44.8 L599.1,44.6 L599.6,44.4 L600.2,44.1 L600.7,43.9 L601.2,43.7 L601.7,43.6 L602.3,43.4 L602.8,43.2 L603.3,43.1 L603.9,42.9 L604.4,42.8 L604.9,42.7 L605.5,42.6 L606.0,42.5 L606.5,42.4 L607.0,42.3 L607.6,42.3 L608.1,42.2 L608.6,42.1 L609.2,42.1 L609.7,42.0 L610.2,42.0 L610.7,42.0 L611.3,41.9 L611.8,41.9 L612.3,41.9 L612.9,41.8 L613.4,41.8 L613.9,41.8 L614.4,41.8 L615.0,41.8 L615.5,41.7 L616.0,41.7 L616.6,41.7 L617.1,41.7 L617.6,41.6 L618.1,41.6 L618.7,41.5 L619.2,41.5 L619.7,41.4 L620.3,41.4 L620.8,41.3 L621.3,41.2 L621.8,41.1 L622.4,41.0 L622.9,40.9 L623.4,40.8 L624.0,40.7 L624.5,40.5 L625.0,40.4 L625.6,40.3 L626.1,40.1 L626.6,39.9 L627.1,39.8 L627.7,39.6 L628.2,39.4 L628.7,39.3 L629.3,39.1 L629.8,38.9 L630.3,38.7 L630.8,38.5 L631.4,38.2 L631.9,38.0 L632.4,37.8 L633.0,37.5 L633.5,37.3 L634.0,37.0 L634.5,36.8 L635.1,36.5 L635.6,36.2 L636.1,36.0 L636.7,35.7 L637.2,35.4 L637.7,35.1 L638.2,34.8 L638.8,34.4 L639.3,34.1 L639.8,33.8 L640.4,33.4 L640.9,33.1 L641.4,32.7 L642.0,32.4 L642.5,32.0 L643.0,31.7 L643.5,31.3 L644.1,30.9 L644.6,30.6 L645.1,30.2" fill="none" stroke="#10d620" stroke-width="1.75" stroke-linejoin="round" stroke-linecap="round"/>
<path d="M529.3,97.5 L529.8,97.1 L530.3,96.8 L530.9,96.4 L531.4,96.0 L531.9,95.7 L532.4,95.3 L533.0,94.9 L533.5,94.5 L534.0,94.2 L534.6,93.8 L535.1,93.4 L535.6,93.0 L536.2,92.6 L536.7,92.3 L537.2,91.9 L537.7,91.5 L538.3,91.1 L538.8,90.7 L539.3,90.3 L539.9,89.9 L540.4,89.5 L540.9,89.1 L541.4,88.7 L542.0,88.3 L542.5,87.9 L543.0,87.5 L543.6,87.1 L544.1,86.7 L544.6,86.2 L545.1,85.8 L545.7,85.4 L546.2,85.0 L546.7,84.5 L547.3,84.1 L547.8,83.7 L548.3,83.2 L548.8,82.8 L549.4,82.3 L549.9,81.9 L550.4,81.4 L551.0,81.0 L551.5,80.5 L552.0,80.1 L552.6,79.6 L553.1,79.2 L553.6,78.7 L554.1,78.2 L554.7,77.8 L555.2,77.3 L555.7,76.8 L556.3,76.4 L556.8,75.9 L557.3,75.4 L557.8,74.9 L558.4,74.4 L558.9,74.0 L559.4,73.5 L560.0,73.0 L560.5,72.5 L561.0,72.0 L561.5,71.6 L562.1,71.1 L562.6,70.6 L563.1,70.2 L563.7,69.7 L564.2,69.3 L564.7,68.8 L565.2,68.4 L565.8,68.0 L566.3,67.6 L566.8,67.2 L567.4,66.8 L567.9,66.4 L568.4,66.0 L568.9,65.6 L569.5,65.2 L570.0,64.9 L570.5,64.5 L571.1,64.1 L571.6,63.8 L572.1,63.4 L572.7,63.0 L573.2,62.7 L573.7,62.3 L574.2,61.9 L574.8,61.6 L575.3,61.2 L575.8,60.8 L576.4,60.4 L576.9,60.1 L577.4,59.7 L577.9,59.3 L578.5,58.9 L579.0,58.5 L579.5,58.1 L580.1,57.7 L580.6,57.3 L581.1,56.8 L581.6,56.4 L582.2,56.0 L582.7,55.5 L583.2,55.1 L583.8,54.7 L584.3,54.2 L584.8,53.8 L585.3,53.4 L585.9,52.9 L586.4,52.5 L586.9,52.0 L587.5,51.6 L588.0,51.2 L588.5,50.7 L589.1,50.3 L589.6,49.9 L590.1,49.5 L590.6,49.1 L591.2,48.7 L591.7,48.3 L592.2,47.9 L592.8,47.6 L593.3,47.2 L593.8,46.8 L594.3,46.5 L594.9,46.2 L595.4,45.8 L595.9,45.5 L596.5,45.2 L597.0,45.0 L597.5,44.7 L598.0,44.4 L598.6,44.2 L599.1,44.0 L599.6,43.7 L600.2,43.5 L600.7,43.3 L601.2,43.1 L601.7,42.9 L602.3,42.8 L602.8,42.6 L603.3,42.5 L603.9,42.3 L604.4,42.2 L604.9,42.1 L605.5,42.0 L606.0,41.9 L606.5,41.8 L607.0,41.7 L607.6,41.6 L608.1,41.5 L608.6,41.5 L609.2,41.4 L609.7,41.4 L610.2,41.3 L610.7,41.3 L611.3,41.2 L611.8,41.2 L612.3,41.2 L612.9,41.1 L613.4,41.1 L613.9,41.1 L614.4,41.0 L615.0,41.0 L615.5,41.0 L616.0,40.9 L616.6,40.9 L617.1,40.9 L617.6,40.8 L618.1,40.8 L618.7,40.7 L619.2,40.6 L619.7,40.6 L620.3,40.5 L620.8,40.4 L621.3,40.3 L621.8,40.2 L622.4,40.1 L622.9,39.9 L623.4,39.8 L624.0,39.7 L624.5,39.5 L625.0,39.4 L625.6,39.2 L626.1,39.0 L626.6,38.9 L627.1,38.7 L627.7,38.5 L628.2,38.3 L628.7,38.1 L629.3,37.9 L629.8,37.7 L630.3,37.4 L630.8,37.2 L631.4,37.0 L631.9,36.7 L632.4,36.5 L633.0,36.2 L633.5,36.0 L634.0,35.7 L634.5,35.4 L635.1,35.2 L635.6,34.9 L636.1,34.6 L636.7,34.3 L637.2,34.0 L637.7,33.6 L638.2,33.3 L638.8,33.0 L639.3,32.6 L639.8,32.3 L640.4,31.9 L640.9,31.6 L641.4,31.2 L642.0,30.8 L642.5,30.4 L643.0,30.1 L643.5,29.7 L644.1,29.3 L644.6,28.9 L645.1,28.5" fill="none" stroke="#a2dc32" stroke-width="1.75" stroke-linejoin="round" stroke-linecap="round"/>
<path d="M529.3,96.9 L529.8,96.6 L530.3,96.2 L530.9,95.8 L531.4,95.4 L531.9,95.0 L532.4,94.6 L533.0,94.3 L533.5,93.9 L534.0,93.5 L534.6,93.1 L535.1,92.7 L535.6,92.3 L536.2,91.9 L536.7,91.5 L537.2,91.1 L537.7,90.7 L538.3,90.3 L538.8,89.9 L539.3,89.5 L539.9,89.1 L540.4,88.7 L540.9,88.3 L541.4,87.9 L542.0,87.5 L542.5,87.1 L543.0,86.6 L543.6,86.2 L544.1,85.8 L544.6,85.4 L545.1,84.9 L545.7,84.5 L546.2,84.0 L546.7,83.6 L547.3,83.2 L547.8,82.7 L548.3,82.3 L548.8,81.8 L549.4,81.4 L549.9,80.9 L550.4,80.5 L551.0,80.0 L551.5,79.5 L552.0,79.1 L552.6,78.6 L553.1,78.1 L553.6,77.7 L554.1,77.2 L554.7,76.7 L555.2,76.3 L555.7,75.8 L556.3,75.3 L556.8,74.9 L557.3,74.4 L557.8,73.9 L558.4,73.4 L558.9,72.9 L559.4,72.5 L560.0,72.0 L560.5,71.5 L561.0,71.1 L561.5,70.6 L562.1,70.1 L562.6,69.7 L563.1,69.2 L563.7,68.8 L564.2,68.3 L564.7,67.9 L565.2,67.5 L565.8,67.1 L566.3,66.7 L566.8,66.3 L567.4,65.9 L567.9,65.6 L568.4,65.2 L568.9,64.8 L569.5,64.5 L570.0,64.1 L570.5,63.8 L571.1,63.4 L571.6,63.1 L572.1,62.7 L572.7,62.4 L573.2,62.0 L573.7,61.6 L574.2,61.3 L574.8,60.9 L575.3,60.6 L575.8,60.2 L576.4,59.8 L576.9,59.4 L577.4,59.1 L577.9,58.7 L578.5,58.3 L579.0,57.9 L579.5,57.5 L580.1,57.1 L580.6,56.7 L581.1,56.2 L581.6,55.8 L582.2,55.4 L582.7,54.9 L583.2,54.5 L583.8,54.1 L584.3,53.6 L584.8,53.2 L585.3,52.8 L585.9,52.3 L586.4,51.9 L586.9,51.4 L587.5,51.0 L588.0,50.6 L588.5,50.1 L589.1,49.7 L589.6,49.3 L590.1,48.9 L590.6,48.5 L591.2,48.1 L591.7,47.7 L592.2,47.3 L592.8,47.0 L593.3,46.6 L593.8,46.2 L594.3,45.9 L594.9,45.6 L595.4,45.3 L595.9,45.0 L596.5,44.7 L597.0,44.4 L597.5,44.1 L598.0,43.9 L598.6,43.6 L599.1,43.4 L599.6,43.2 L600.2,43.0 L600.7,42.8 L601.2,42.6 L601.7,42.4 L602.3,42.2 L602.8,42.1 L603.3,41.9 L603.9,41.8 L604.4,41.7 L604.9,41.5 L605.5,41.4 L606.0,41.3 L606.5,41.2 L607.0,41.1 L607.6,41.0 L608.1,41.0 L608.6,40.9 L609.2,40.8 L609.7,40.8 L610.2,40.7 L610.7,40.7 L611.3,40.6 L611.8,40.6 L612.3,40.5 L612.9,40.5 L613.4,40.4 L613.9,40.4 L614.4,40.4 L615.0,40.3 L615.5,40.3 L616.0,40.3 L616.6,40.2 L617.1,40.2 L617.6,40.1 L618.1,40.0 L618.7,40.0 L619.2,39.9 L619.7,39.8 L620.3,39.7 L620.8,39.6 L621.3,39.5 L621.8,39.4 L622.4,39.2 L622.9,39.1 L623.4,38.9 L624.0,38.8 L624.5,38.6 L625.0,38.4 L625.6,38.3 L626.1,38.1 L626.6,37.9 L627.1,37.7 L627.7,37.5 L628.2,37.3 L628.7,37.0 L629.3,36.8 L629.8,36.6 L630.3,36.3 L630.8,36.1 L631.4,35.9 L631.9,35.6 L632.4,35.3 L633.0,35.1 L633.5,34.8 L634.0,34.5 L634.5,34.2 L635.1,34.0 L635.6,33.7 L636.1,33.3 L636.7,33.0 L637.2,32.7 L637.7,32.4 L638.2,32.0 L638.8,31.7 L639.3,31.3 L639.8,31.0 L640.4,30.6 L640.9,30.2 L641.4,29.8 L642.0,29.4 L642.5,29.0 L643.0,28.6 L643.5,28.2 L644.1,27.8 L644.6,27.4 L645.1,27.0" fill="none" stroke="#e6d630" stroke-width="1.75" stroke-linejoin="round" stroke-linecap="round"/>
<path d="M529.3,96.4 L529.8,96.0 L530.3,95.6 L530.9,95.2 L531.4,94.8 L531.9,94.4 L532.4,94.0 L533.0,93.6 L533.5,93.2 L534.0,92.8 L534.6,92.4 L535.1,92.0 L535.6,91.6 L536.2,91.2 L536.7,90.8 L537.2,90.4 L537.7,90.0 L538.3,89.6 L538.8,89.2 L539.3,88.7 L539.9,88.3 L540.4,87.9 L540.9,87.5 L541.4,87.1 L542.0,86.6 L542.5,86.2 L543.0,85.8 L543.6,85.3 L544.1,84.9 L544.6,84.5 L545.1,84.0 L545.7,83.6 L546.2,83.1 L546.7,82.7 L547.3,82.2 L547.8,81.8 L548.3,81.3 L548.8,80.9 L549.4,80.4 L549.9,79.9 L550.4,79.5 L551.0,79.0 L551.5,78.5 L552.0,78.1 L552.6,77.6 L553.1,77.1 L553.6,76.7 L554.1,76.2 L554.7,75.7 L555.2,75.2 L555.7,74.8 L556.3,74.3 L556.8,73.8 L557.3,73.3 L557.8,72.9 L558.4,72.4 L558.9,71.9 L559.4,71.5 L560.0,71.0 L560.5,70.5 L561.0,70.1 L561.5,69.6 L562.1,69.1 L562.6,68.7 L563.1,68.3 L563.7,67.8 L564.2,67.4 L564.7,67.0 L565.2,66.6 L565.8,66.2 L566.3,65.8 L566.8,65.5 L567.4,65.1 L567.9,64.7 L568.4,64.4 L568.9,64.0 L569.5,63.7 L570.0,63.3 L570.5,63.0 L571.1,62.7 L571.6,62.3 L572.1,62.0 L572.7,61.7 L573.2,61.3 L573.7,61.0 L574.2,60.6 L574.8,60.3 L575.3,59.9 L575.8,59.6 L576.4,59.2 L576.9,58.8 L577.4,58.4 L577.9,58.0 L578.5,57.7 L579.0,57.3 L579.5,56.9 L580.1,56.5 L580.6,56.0 L581.1,55.6 L581.6,55.2 L582.2,54.8 L582.7,54.3 L583.2,53.9 L583.8,53.5 L584.3,53.0 L584.8,52.6 L585.3,52.2 L585.9,51.7 L586.4,51.3 L586.9,50.8 L587.5,50.4 L588.0,50.0 L588.5,49.6 L589.1,49.1 L589.6,48.7 L590.1,48.3 L590.6,47.9 L591.2,47.5 L591.7,47.1 L592.2,46.7 L592.8,46.4 L593.3,46.0 L593.8,45.7 L594.3,45.3 L594.9,45.0 L595.4,44.7 L595.9,44.4 L596.5,44.1 L597.0,43.8 L597.5,43.6 L598.0,43.3 L598.6,43.1 L599.1,42.8 L599.6,42.6 L600.2,42.4 L600.7,42.2 L601.2,42.0 L601.7,41.9 L602.3,41.7 L602.8,41.5 L603.3,41.4 L603.9,41.2 L604.4,41.1 L604.9,41.0 L605.5,40.9 L606.0,40.8 L606.5,40.6 L607.0,40.6 L607.6,40.5 L608.1,40.4 L608.6,40.3 L609.2,40.2 L609.7,40.2 L610.2,40.1 L610.7,40.0 L611.3,40.0 L611.8,39.9 L612.3,39.9 L612.9,39.8 L613.4,39.8 L613.9,39.8 L614.4,39.7 L615.0,39.7 L615.5,39.6 L616.0,39.6 L616.6,39.5 L617.1,39.4 L617.6,39.4 L618.1,39.3 L618.7,39.2 L619.2,39.1 L619.7,39.0 L620.3,38.9 L620.8,38.8 L621.3,38.7 L621.8,38.5 L622.4,38.4 L622.9,38.2 L623.4,38.1 L624.0,37.9 L624.5,37.7 L625.0,37.5 L625.6,37.3 L626.1,37.1 L626.6,36.9 L627.1,36.7 L627.7,36.5 L628.2,36.2 L628.7,36.0 L629.3,35.8 L629.8,35.5 L630.3,35.3 L630.8,35.0 L631.4,34.7 L631.9,34.5 L632.4,34.2 L633.0,33.9 L633.5,33.6 L634.0,33.4 L634.5,33.1 L635.1,32.7 L635.6,32.4 L636.1,32.1 L636.7,31.8 L637.2,31.5 L637.7,31.1 L638.2,30.8 L638.8,30.4 L639.3,30.0 L639.8,29.6 L640.4,29.3 L640.9,28.9 L641.4,28.4 L642.0,28.0 L642.5,27.6 L643.0,27.2 L643.5,26.8 L644.1,26.3 L644.6,25.9 L645.1,25.5" fill="none" stroke="#e9b131" stroke-width="1.75" stroke-linejoin="round" stroke-linecap="round"/>
<path d="M529.3,95.8 L529.8,95.4 L530.3,95.0 L530.9,94.6 L531.4,94.2 L531.9,93.7 L532.4,93.3 L533.0,92.9 L533.5,92.5 L534.0,92.1 L534.6,91.7 L535.1,91.3 L535.6,90.9 L536.2,90.5 L536.7,90.1 L537.2,89.6 L537.7,89.2 L538.3,88.8 L538.8,88.4 L539.3,87.9 L539.9,87.5 L540.4,87.1 L540.9,86.7 L541.4,86.2 L542.0,85.8 L542.5,85.4 L543.0,84.9 L543.6,84.5 L544.1,84.0 L544.6,83.6 L545.1,83.1 L545.7,82.7 L546.2,82.2 L546.7,81.7 L547.3,81.3 L547.8,80.8 L548.3,80.4 L548.8,79.9 L549.4,79.4 L549.9,79.0 L550.4,78.5 L551.0,78.0 L551.5,77.5 L552.0,77.1 L552.6,76.6 L553.1,76.1 L553.6,75.6 L554.1,75.2 L554.7,74.7 L555.2,74.2 L555.7,73.7 L556.3,73.3 L556.8,72.8 L557.3,72.3 L557.8,71.9 L558.4,71.4 L558.9,70.9 L559.4,70.4 L560.0,70.0 L560.5,69.5 L561.0,69.1 L561.5,68.6 L562.1,68.2 L562.6,67.7 L563.1,67.3 L563.7,66.9 L564.2,66.5 L564.7,66.1 L565.2,65.7 L565.8,65.3 L566.3,64.9 L566.8,64.6 L567.4,64.2 L567.9,63.9 L568.4,63.6 L568.9,63.2 L569.5,62.9 L570.0,62.6 L570.5,62.3 L571.1,61.9 L571.6,61.6 L572.1,61.3 L572.7,61.0 L573.2,60.6 L573.7,60.3 L574.2,60.0 L574.8,59.6 L575.3,59.3 L575.8,58.9 L576.4,58.5 L576.9,58.2 L577.4,57.8 L577.9,57.4 L578.5,57.0 L579.0,56.7 L579.5,56.3 L580.1,55.9 L580.6,55.4 L581.1,55.0 L581.6,54.6 L582.2,54.2 L582.7,53.7 L583.2,53.3 L583.8,52.9 L584.3,52.4 L584.8,52.0 L585.3,51.6 L585.9,51.1 L586.4,50.7 L586.9,50.2 L587.5,49.8 L588.0,49.4 L588.5,49.0 L589.1,48.5 L589.6,48.1 L590.1,47.7 L590.6,47.3 L591.2,46.9 L591.7,46.5 L592.2,46.1 L592.8,45.8 L593.3,45.4 L593.8,45.1 L594.3,44.7 L594.9,44.4 L595.4,44.1 L595.9,43.8 L596.5,43.5 L597.0,43.3 L597.5,43.0 L598.0,42.7 L598.6,42.5 L599.1,42.3 L599.6,42.1 L600.2,41.9 L600.7,41.7 L601.2,41.5 L601.7,41.3 L602.3,41.1 L602.8,41.0 L603.3,40.8 L603.9,40.7 L604.4,40.6 L604.9,40.4 L605.5,40.3 L606.0,40.2 L606.5,40.1 L607.0,40.0 L607.6,39.9 L608.1,39.8 L608.6,39.7 L609.2,39.6 L609.7,39.6 L610.2,39.5 L610.7,39.4 L611.3,39.4 L611.8,39.3 L612.3,39.3 L612.9,39.2 L613.4,39.1 L613.9,39.1 L614.4,39.0 L615.0,39.0 L615.5,38.9 L616.0,38.9 L616.6,38.8 L617.1,38.7 L617.6,38.7 L618.1,38.6 L618.7,38.5 L619.2,38.4 L619.7,38.3 L620.3,38.2 L620.8,38.0 L621.3,37.9 L621.8,37.7 L622.4,37.6 L622.9,37.4 L623.4,37.2 L624.0,37.0 L624.5,36.8 L625.0,36.6 L625.6,36.4 L626.1,36.2 L626.6,35.9 L627.1,35.7 L627.7,35.5 L628.2,35.2 L628.7,35.0 L629.3,34.7 L629.8,34.4 L630.3,34.2 L630.8,33.9 L631.4,33.6 L631.9,33.3 L632.4,33.1 L633.0,32.8 L633.5,32.5 L634.0,32.2 L634.5,31.9 L635.1,31.5 L635.6,31.2 L636.1,30.9 L636.7,30.5 L637.2,30.2 L637.7,29.8 L638.2,29.5 L638.8,29.1 L639.3,28.7 L639.8,28.3 L640.4,27.9 L640.9,27.5 L641.4,27.1 L642.0,26.6 L642.5,26.2 L643.0,25.8 L643.5,25.3 L644.1,24.9 L644.6,24.4 L645.1,24.0" fill="none" stroke="#f18131" stroke-width="1.75" stroke-linejoin="round" stroke-linecap="round"/>
<path d="M529.3,95.1 L529.8,94.7 L530.3,94.3 L530.9,93.9 L531.4,93.5 L531.9,93.0 L532.4,92.6 L533.0,92.2 L533.5,91.8 L534.0,91.4 L534.6,90.9 L535.1,90.5 L535.6,90.1 L536.2,89.7 L536.7,89.2 L537.2,88.8 L537.7,88.4 L538.3,87.9 L538.8,87.5 L539.3,87.1 L539.9,86.6 L540.4,86.2 L540.9,85.7 L541.4,85.3 L542.0,84.8 L542.5,84.4 L543.0,83.9 L543.6,83.5 L544.1,83.0 L544.6,82.6 L545.1,82.1 L545.7,81.6 L546.2,81.2 L546.7,80.7 L547.3,80.2 L547.8,79.8 L548.3,79.3 L548.8,78.8 L549.4,78.3 L549.9,77.9 L550.4,77.4 L551.0,76.9 L551.5,76.4 L552.0,75.9 L552.6,75.5 L553.1,75.0 L553.6,74.5 L554.1,74.0 L554.7,73.5 L555.2,73.1 L555.7,72.6 L556.3,72.1 L556.8,71.6 L557.3,71.2 L557.8,70.7 L558.4,70.2 L558.9,69.8 L559.4,69.3 L560.0,68.8 L560.5,68.4 L561.0,67.9 L561.5,67.5 L562.1,67.1 L562.6,66.6 L563.1,66.2 L563.7,65.8 L564.2,65.4 L564.7,65.0 L565.2,64.7 L565.8,64.3 L566.3,64.0 L566.8,63.6 L567.4,63.3 L567.9,63.0 L568.4,62.7 L568.9,62.3 L569.5,62.0 L570.0,61.7 L570.5,61.4 L571.1,61.1 L571.6,60.8 L572.1,60.5 L572.7,60.2 L573.2,59.9 L573.7,59.6 L574.2,59.2 L574.8,58.9 L575.3,58.5 L575.8,58.2 L576.4,57.8 L576.9,57.5 L577.4,57.1 L577.9,56.7 L578.5,56.4 L579.0,56.0 L579.5,55.6 L580.1,55.2 L580.6,54.8 L581.1,54.3 L581.6,53.9 L582.2,53.5 L582.7,53.1 L583.2,52.6 L583.8,52.2 L584.3,51.8 L584.8,51.3 L585.3,50.9 L585.9,50.4 L586.4,50.0 L586.9,49.6 L587.5,49.1 L588.0,48.7 L588.5,48.3 L589.1,47.9 L589.6,47.4 L590.1,47.0 L590.6,46.6 L591.2,46.2 L591.7,45.8 L592.2,45.5 L592.8,45.1 L593.3,44.7 L593.8,44.4 L594.3,44.1 L594.9,43.8 L595.4,43.4 L595.9,43.2 L596.5,42.9 L597.0,42.6 L597.5,42.4 L598.0,42.1 L598.6,41.9 L599.1,41.7 L599.6,41.4 L600.2,41.2 L600.7,41.1 L601.2,40.9 L601.7,40.7 L602.3,40.5 L602.8,40.4 L603.3,40.2 L603.9,40.1 L604.4,39.9 L604.9,39.8 L605.5,39.7 L606.0,39.6 L606.5,39.4 L607.0,39.3 L607.6,39.2 L608.1,39.1 L608.6,39.0 L609.2,39.0 L609.7,38.9 L610.2,38.8 L610.7,38.7 L611.3,38.7 L611.8,38.6 L612.3,38.5 L612.9,38.5 L613.4,38.4 L613.9,38.4 L614.4,38.3 L615.0,38.2 L615.5,38.2 L616.0,38.1 L616.6,38.0 L617.1,37.9 L617.6,37.9 L618.1,37.8 L618.7,37.7 L619.2,37.5 L619.7,37.4 L620.3,37.3 L620.8,37.1 L621.3,37.0 L621.8,36.8 L622.4,36.6 L622.9,36.4 L623.4,36.2 L624.0,36.0 L624.5,35.8 L625.0,35.6 L625.6,35.3 L626.1,35.1 L626.6,34.8 L627.1,34.6 L627.7,34.3 L628.2,34.1 L628.7,33.8 L629.3,33.5 L629.8,33.2 L630.3,33.0 L630.8,32.7 L631.4,32.4 L631.9,32.1 L632.4,31.8 L633.0,31.5 L633.5,31.2 L634.0,30.8 L634.5,30.5 L635.1,30.2 L635.6,29.9 L636.1,29.5 L636.7,29.2 L637.2,28.8 L637.7,28.4 L638.2,28.0 L638.8,27.6 L639.3,27.2 L639.8,26.8 L640.4,26.4 L640.9,26.0 L641.4,25.5 L642.0,25.1 L642.5,24.6 L643.0,24.1 L643.5,23.7 L644.1,23.2 L644.6,22.7 L645.1,22.3" fill="none" stroke="#f24343" stroke-width="1.75" stroke-linejoin="round" stroke-linecap="round"/>
<path d="M529.3,94.2 L529.8,93.8 L530.3,93.4 L530.9,92.9 L531.4,92.5 L531.9,92.1 L532.4,91.6 L533.0,91.2 L533.5,90.8 L534.0,90.3 L534.6,89.9 L535.1,89.5 L535.6,89.0 L536.2,88.6 L536.7,88.1 L537.2,87.7 L537.7,87.2 L538.3,86.8 L538.8,86.3 L539.3,85.9 L539.9,85.4 L540.4,85.0 L540.9,84.5 L541.4,84.0 L542.0,83.6 L542.5,83.1 L543.0,82.7 L543.6,82.2 L544.1,81.7 L544.6,81.2 L545.1,80.8 L545.7,80.3 L546.2,79.8 L546.7,79.3 L547.3,78.8 L547.8,78.3 L548.3,77.9 L548.8,77.4 L549.4,76.9 L549.9,76.4 L550.4,75.9 L551.0,75.4 L551.5,74.9 L552.0,74.4 L552.6,73.9 L553.1,73.5 L553.6,73.0 L554.1,72.5 L554.7,72.0 L555.2,71.5 L555.7,71.1 L556.3,70.6 L556.8,70.1 L557.3,69.6 L557.8,69.2 L558.4,68.7 L558.9,68.2 L559.4,67.8 L560.0,67.3 L560.5,66.9 L561.0,66.4 L561.5,66.0 L562.1,65.6 L562.6,65.2 L563.1,64.8 L563.7,64.4 L564.2,64.0 L564.7,63.7 L565.2,63.3 L565.8,63.0 L566.3,62.6 L566.8,62.3 L567.4,62.0 L567.9,61.7 L568.4,61.4 L568.9,61.2 L569.5,60.9 L570.0,60.6 L570.5,60.3 L571.1,60.0 L571.6,59.7 L572.1,59.5 L572.7,59.2 L573.2,58.9 L573.7,58.5 L574.2,58.2 L574.8,57.9 L575.3,57.6 L575.8,57.2 L576.4,56.9 L576.9,56.5 L577.4,56.2 L577.9,55.8 L578.5,55.4 L579.0,55.0 L579.5,54.7 L580.1,54.3 L580.6,53.8 L581.1,53.4 L581.6,53.0 L582.2,52.6 L582.7,52.2 L583.2,51.7 L583.8,51.3 L584.3,50.9 L584.8,50.4 L585.3,50.0 L585.9,49.5 L586.4,49.1 L586.9,48.7 L587.5,48.2 L588.0,47.8 L588.5,47.4 L589.1,47.0 L589.6,46.5 L590.1,46.1 L590.6,45.7 L591.2,45.3 L591.7,45.0 L592.2,44.6 L592.8,44.2 L593.3,43.9 L593.8,43.5 L594.3,43.2 L594.9,42.9 L595.4,42.6 L595.9,42.3 L596.5,42.0 L597.0,41.8 L597.5,41.5 L598.0,41.3 L598.6,41.0 L599.1,40.8 L599.6,40.6 L600.2,40.4 L600.7,40.2 L601.2,40.1 L601.7,39.9 L602.3,39.7 L602.8,39.6 L603.3,39.4 L603.9,39.3 L604.4,39.1 L604.9,39.0 L605.5,38.8 L606.0,38.7 L606.5,38.6 L607.0,38.5 L607.6,38.4 L608.1,38.3 L608.6,38.2 L609.2,38.1 L609.7,38.0 L610.2,37.9 L610.7,37.8 L611.3,37.7 L611.8,37.7 L612.3,37.6 L612.9,37.5 L613.4,37.4 L613.9,37.4 L614.4,37.3 L615.0,37.2 L615.5,37.2 L616.0,37.1 L616.6,37.0 L617.1,36.9 L617.6,36.8 L618.1,36.7 L618.7,36.6 L619.2,36.4 L619.7,36.3 L620.3,36.1 L620.8,36.0 L621.3,35.8 L621.8,35.6 L622.4,35.4 L622.9,35.2 L623.4,34.9 L624.0,34.7 L624.5,34.4 L625.0,34.2 L625.6,33.9 L626.1,33.7 L626.6,33.4 L627.1,33.1 L627.7,32.8 L628.2,32.5 L628.7,32.2 L629.3,31.9 L629.8,31.6 L630.3,31.3 L630.8,31.0 L631.4,30.7 L631.9,30.4 L632.4,30.1 L633.0,29.7 L633.5,29.4 L634.0,29.1 L634.5,28.7 L635.1,28.4 L635.6,28.0 L636.1,27.7 L636.7,27.3 L637.2,26.9 L637.7,26.5 L638.2,26.1 L638.8,25.7 L639.3,25.3 L639.8,24.8 L640.4,24.4 L640.9,23.9 L641.4,23.5 L642.0,23.0 L642.5,22.5 L643.0,22.0 L643.5,21.5 L644.1,21.0 L644.6,20.5 L645.1,20.0" fill="none" stroke="#e3119b" stroke-width="1.75" stroke-linejoin="round" stroke-linecap="round"/>
</g>
<g clip-path="url(#c_d_mid)">
<path d="M529.3,199.5 L529.8,199.1 L530.3,198.7 L530.9,198.3 L531.4,198.0 L531.9,197.6 L532.4,197.2 L533.0,196.8 L533.5,196.4 L534.0,196.0 L534.6,195.6 L535.1,195.2 L535.6,194.7 L536.2,194.3 L536.7,193.9 L537.2,193.5 L537.7,193.1 L538.3,192.6 L538.8,192.2 L539.3,191.7 L539.9,191.3 L540.4,190.8 L540.9,190.4 L541.4,189.9 L542.0,189.5 L542.5,189.0 L543.0,188.5 L543.6,188.0 L544.1,187.5 L544.6,187.0 L545.1,186.5 L545.7,185.9 L546.2,185.4 L546.7,184.9 L547.3,184.4 L547.8,183.8 L548.3,183.3 L548.8,182.8 L549.4,182.3 L549.9,181.8 L550.4,181.3 L551.0,180.9 L551.5,180.4 L552.0,180.0 L552.6,179.6 L553.1,179.3 L553.6,178.9 L554.1,178.6 L554.7,178.3 L555.2,178.1 L555.7,177.8 L556.3,177.7 L556.8,177.5 L557.3,177.4 L557.8,177.4 L558.4,177.4 L558.9,177.5 L559.4,177.7 L560.0,178.0 L560.5,178.4 L561.0,178.8 L561.5,179.4 L562.1,180.1 L562.6,180.8 L563.1,181.6 L563.7,182.5 L564.2,183.4 L564.7,184.3 L565.2,185.3 L565.8,186.3 L566.3,187.4 L566.8,188.4 L567.4,189.5 L567.9,190.5 L568.4,191.6 L568.9,192.6 L569.5,193.5 L570.0,194.5 L570.5,195.3 L571.1,196.2 L571.6,196.9 L572.1,197.6 L572.7,198.3 L573.2,198.9 L573.7,199.5 L574.2,200.0 L574.8,200.5 L575.3,201.0 L575.8,201.4 L576.4,201.8 L576.9,202.1 L577.4,202.5 L577.9,202.7 L578.5,203.0 L579.0,203.2 L579.5,203.4 L580.1,203.6 L580.6,203.8 L581.1,203.9 L581.6,204.1 L582.2,204.1 L582.7,204.2 L583.2,204.3 L583.8,204.3 L584.3,204.3 L584.8,204.3 L585.3,204.3 L585.9,204.2 L586.4,204.1 L586.9,204.0 L587.5,203.8 L588.0,203.7 L588.5,203.5 L589.1,203.3 L589.6,203.0 L590.1,202.7 L590.6,202.4 L591.2,202.0 L591.7,201.6 L592.2,201.2 L592.8,200.8 L593.3,200.3 L593.8,199.7 L594.3,199.1 L594.9,198.5 L595.4,197.8 L595.9,197.1 L596.5,196.3 L597.0,195.5 L597.5,194.6 L598.0,193.7 L598.6,192.7 L599.1,191.6 L599.6,190.5 L600.2,189.3 L600.7,188.1 L601.2,186.8 L601.7,185.5 L602.3,184.1 L602.8,182.7 L603.3,181.1 L603.9,179.6 L604.4,178.0 L604.9,176.3 L605.5,174.6 L606.0,172.9 L606.5,171.1 L607.0,169.3 L607.6,167.4 L608.1,165.5 L608.6,163.6 L609.2,161.7 L609.7,159.7 L610.2,157.7 L610.7,155.6 L611.3,153.6 L611.8,151.5 L612.3,149.4 L612.9,147.3 L613.4,145.2 L613.9,143.1 L614.4,140.9 L615.0,138.8 L615.5,136.6 L616.0,134.5 L616.6,132.3 L617.1,130.1 L617.6,127.9 L618.1,125.7 L618.7,123.5 L619.2,121.3 L619.7,119.1 L620.3,116.8 L620.8,114.6 L621.3,112.4 L621.8,110.2 L622.4,107.9 L622.9,105.7 L623.4,103.5 L624.0,101.3 L624.5,99.0 L625.0,96.8 L625.6,94.5 L626.1,92.3 L626.6,90.1 L627.1,87.8 L627.7,85.6 L628.2,83.4 L628.7,81.1 L629.3,78.9 L629.8,76.6 L630.3,74.4 L630.8,72.2 L631.4,69.9 L631.9,67.7 L632.4,65.4 L633.0,63.2 L633.5,61.0 L634.0,58.7 L634.5,56.5 L635.1,54.2 L635.6,52.0 L636.1,49.8 L636.7,47.5 L637.2,45.3 L637.7,43.0 L638.2,40.8 L638.8,38.6 L639.3,36.3 L639.8,34.1 L640.4,31.8 L640.9,29.6 L641.4,27.4 L642.0,25.1 L642.5,22.9 L643.0,20.6 L643.5,18.4 L644.1,16.2 L644.6,13.9 L645.1,11.7" fill="none" stroke="#e3119b" stroke-width="1.75" stroke-linejoin="round" stroke-linecap="round"/>
<path d="M529.3,199.4 L529.8,199.0 L530.3,198.6 L530.9,198.2 L531.4,197.8 L531.9,197.4 L532.4,197.0 L533.0,196.6 L533.5,196.2 L534.0,195.8 L534.6,195.4 L535.1,195.0 L535.6,194.5 L536.2,194.1 L536.7,193.7 L537.2,193.3 L537.7,192.8 L538.3,192.4 L538.8,192.0 L539.3,191.5 L539.9,191.0 L540.4,190.6 L540.9,190.1 L541.4,189.6 L542.0,189.2 L542.5,188.7 L543.0,188.2 L543.6,187.7 L544.1,187.2 L544.6,186.7 L545.1,186.1 L545.7,185.6 L546.2,185.1 L546.7,184.5 L547.3,184.0 L547.8,183.4 L548.3,182.9 L548.8,182.4 L549.4,181.9 L549.9,181.4 L550.4,180.9 L551.0,180.4 L551.5,179.9 L552.0,179.5 L552.6,179.1 L553.1,178.7 L553.6,178.3 L554.1,178.0 L554.7,177.7 L555.2,177.4 L555.7,177.1 L556.3,176.9 L556.8,176.8 L557.3,176.7 L557.8,176.6 L558.4,176.6 L558.9,176.6 L559.4,176.8 L560.0,177.0 L560.5,177.3 L561.0,177.8 L561.5,178.3 L562.1,178.9 L562.6,179.6 L563.1,180.3 L563.7,181.2 L564.2,182.0 L564.7,182.9 L565.2,183.9 L565.8,184.9 L566.3,185.9 L566.8,186.9 L567.4,187.9 L567.9,189.0 L568.4,190.0 L568.9,191.0 L569.5,191.9 L570.0,192.8 L570.5,193.7 L571.1,194.5 L571.6,195.3 L572.1,196.0 L572.7,196.7 L573.2,197.4 L573.7,198.0 L574.2,198.5 L574.8,199.0 L575.3,199.5 L575.8,200.0 L576.4,200.4 L576.9,200.8 L577.4,201.1 L577.9,201.5 L578.5,201.8 L579.0,202.1 L579.5,202.3 L580.1,202.5 L580.6,202.8 L581.1,203.0 L581.6,203.1 L582.2,203.3 L582.7,203.4 L583.2,203.6 L583.8,203.7 L584.3,203.7 L584.8,203.8 L585.3,203.9 L585.9,203.9 L586.4,203.9 L586.9,203.9 L587.5,203.8 L588.0,203.8 L588.5,203.7 L589.1,203.6 L589.6,203.5 L590.1,203.4 L590.6,203.2 L591.2,203.0 L591.7,202.8 L592.2,202.6 L592.8,202.3 L593.3,202.1 L593.8,201.8 L594.3,201.4 L594.9,201.1 L595.4,200.7 L595.9,200.3 L596.5,199.8 L597.0,199.3 L597.5,198.8 L598.0,198.2 L598.6,197.6 L599.1,196.9 L599.6,196.2 L600.2,195.5 L600.7,194.7 L601.2,193.8 L601.7,192.9 L602.3,192.0 L602.8,191.0 L603.3,189.9 L603.9,188.8 L604.4,187.7 L604.9,186.5 L605.5,185.2 L606.0,183.9 L606.5,182.6 L607.0,181.2 L607.6,179.7 L608.1,178.3 L608.6,176.7 L609.2,175.2 L609.7,173.6 L610.2,172.0 L610.7,170.3 L611.3,168.7 L611.8,167.0 L612.3,165.2 L612.9,163.5 L613.4,161.7 L613.9,159.9 L614.4,158.1 L615.0,156.3 L615.5,154.4 L616.0,152.6 L616.6,150.7 L617.1,148.8 L617.6,146.9 L618.1,145.0 L618.7,143.1 L619.2,141.2 L619.7,139.3 L620.3,137.4 L620.8,135.4 L621.3,133.5 L621.8,131.5 L622.4,129.6 L622.9,127.6 L623.4,125.7 L624.0,123.7 L624.5,121.8 L625.0,119.8 L625.6,117.8 L626.1,115.9 L626.6,113.9 L627.1,111.9 L627.7,110.0 L628.2,108.0 L628.7,106.0 L629.3,104.1 L629.8,102.1 L630.3,100.1 L630.8,98.1 L631.4,96.2 L631.9,94.2 L632.4,92.2 L633.0,90.2 L633.5,88.2 L634.0,86.3 L634.5,84.3 L635.1,82.3 L635.6,80.3 L636.1,78.4 L636.7,76.4 L637.2,74.4 L637.7,72.4 L638.2,70.4 L638.8,68.5 L639.3,66.5 L639.8,64.5 L640.4,62.5 L640.9,60.5 L641.4,58.6 L642.0,56.6 L642.5,54.6 L643.0,52.6 L643.5,50.7 L644.1,48.7 L644.6,46.7 L645.1,44.7" fill="none" stroke="#f24343" stroke-width="1.75" stroke-linejoin="round" stroke-linecap="round"/>
<path d="M529.3,199.3 L529.8,198.9 L530.3,198.5 L530.9,198.1 L531.4,197.7 L531.9,197.3 L532.4,196.9 L533.0,196.4 L533.5,196.0 L534.0,195.6 L534.6,195.2 L535.1,194.8 L535.6,194.3 L536.2,193.9 L536.7,193.5 L537.2,193.0 L537.7,192.6 L538.3,192.2 L538.8,191.7 L539.3,191.2 L539.9,190.8 L540.4,190.3 L540.9,189.8 L541.4,189.4 L542.0,188.9 L542.5,188.4 L543.0,187.9 L543.6,187.4 L544.1,186.8 L544.6,186.3 L545.1,185.8 L545.7,185.2 L546.2,184.7 L546.7,184.1 L547.3,183.6 L547.8,183.0 L548.3,182.5 L548.8,181.9 L549.4,181.4 L549.9,180.9 L550.4,180.4 L551.0,179.9 L551.5,179.4 L552.0,178.9 L552.6,178.5 L553.1,178.1 L553.6,177.7 L554.1,177.3 L554.7,177.0 L555.2,176.7 L555.7,176.4 L556.3,176.2 L556.8,176.0 L557.3,175.8 L557.8,175.7 L558.4,175.7 L558.9,175.7 L559.4,175.8 L560.0,176.0 L560.5,176.3 L561.0,176.7 L561.5,177.1 L562.1,177.7 L562.6,178.3 L563.1,179.0 L563.7,179.8 L564.2,180.6 L564.7,181.5 L565.2,182.4 L565.8,183.4 L566.3,184.4 L566.8,185.3 L567.4,186.3 L567.9,187.3 L568.4,188.3 L568.9,189.3 L569.5,190.2 L570.0,191.1 L570.5,192.0 L571.1,192.8 L571.6,193.6 L572.1,194.3 L572.7,195.0 L573.2,195.7 L573.7,196.3 L574.2,196.9 L574.8,197.4 L575.3,198.0 L575.8,198.4 L576.4,198.9 L576.9,199.3 L577.4,199.7 L577.9,200.1 L578.5,200.4 L579.0,200.7 L579.5,201.1 L580.1,201.3 L580.6,201.6 L581.1,201.8 L581.6,202.1 L582.2,202.3 L582.7,202.5 L583.2,202.7 L583.8,202.8 L584.3,203.0 L584.8,203.1 L585.3,203.2 L585.9,203.3 L586.4,203.4 L586.9,203.5 L587.5,203.5 L588.0,203.6 L588.5,203.6 L589.1,203.6 L589.6,203.6 L590.1,203.5 L590.6,203.5 L591.2,203.5 L591.7,203.4 L592.2,203.3 L592.8,203.2 L593.3,203.1 L593.8,203.0 L594.3,202.9 L594.9,202.7 L595.4,202.5 L595.9,202.4 L596.5,202.2 L597.0,201.9 L597.5,201.7 L598.0,201.4 L598.6,201.2 L599.1,200.9 L599.6,200.5 L600.2,200.2 L600.7,199.8 L601.2,199.4 L601.7,198.9 L602.3,198.4 L602.8,197.9 L603.3,197.3 L603.9,196.7 L604.4,196.1 L604.9,195.4 L605.5,194.6 L606.0,193.9 L606.5,193.0 L607.0,192.1 L607.6,191.2 L608.1,190.2 L608.6,189.2 L609.2,188.1 L609.7,187.0 L610.2,185.8 L610.7,184.6 L611.3,183.4 L611.8,182.1 L612.3,180.7 L612.9,179.3 L613.4,177.9 L613.9,176.4 L614.4,174.9 L615.0,173.4 L615.5,171.8 L616.0,170.2 L616.6,168.6 L617.1,167.0 L617.6,165.3 L618.1,163.6 L618.7,161.9 L619.2,160.2 L619.7,158.5 L620.3,156.7 L620.8,154.9 L621.3,153.2 L621.8,151.4 L622.4,149.6 L622.9,147.7 L623.4,145.9 L624.0,144.1 L624.5,142.3 L625.0,140.4 L625.6,138.6 L626.1,136.7 L626.6,134.8 L627.1,133.0 L627.7,131.1 L628.2,129.2 L628.7,127.4 L629.3,125.5 L629.8,123.6 L630.3,121.7 L630.8,119.8 L631.4,117.9 L631.9,116.1 L632.4,114.2 L633.0,112.3 L633.5,110.4 L634.0,108.5 L634.5,106.6 L635.1,104.7 L635.6,102.8 L636.1,100.9 L636.7,99.0 L637.2,97.1 L637.7,95.2 L638.2,93.3 L638.8,91.4 L639.3,89.5 L639.8,87.6 L640.4,85.7 L640.9,83.8 L641.4,81.9 L642.0,80.0 L642.5,78.1 L643.0,76.2 L643.5,74.3 L644.1,72.4 L644.6,70.5 L645.1,68.6" fill="none" stroke="#f18131" stroke-width="1.75" stroke-linejoin="round" stroke-linecap="round"/>
<path d="M529.3,199.2 L529.8,198.8 L530.3,198.3 L530.9,197.9 L531.4,197.5 L531.9,197.1 L532.4,196.7 L533.0,196.3 L533.5,195.8 L534.0,195.4 L534.6,195.0 L535.1,194.6 L535.6,194.1 L536.2,193.7 L536.7,193.3 L537.2,192.8 L537.7,192.4 L538.3,191.9 L538.8,191.4 L539.3,191.0 L539.9,190.5 L540.4,190.0 L540.9,189.5 L541.4,189.1 L542.0,188.6 L542.5,188.0 L543.0,187.5 L543.6,187.0 L544.1,186.5 L544.6,185.9 L545.1,185.4 L545.7,184.8 L546.2,184.3 L546.7,183.7 L547.3,183.2 L547.8,182.6 L548.3,182.0 L548.8,181.5 L549.4,180.9 L549.9,180.4 L550.4,179.9 L551.0,179.4 L551.5,178.9 L552.0,178.4 L552.6,177.9 L553.1,177.5 L553.6,177.1 L554.1,176.7 L554.7,176.3 L555.2,176.0 L555.7,175.7 L556.3,175.4 L556.8,175.2 L557.3,175.0 L557.8,174.8 L558.4,174.7 L558.9,174.7 L559.4,174.8 L560.0,174.9 L560.5,175.2 L561.0,175.5 L561.5,175.9 L562.1,176.4 L562.6,177.0 L563.1,177.7 L563.7,178.4 L564.2,179.2 L564.7,180.0 L565.2,180.9 L565.8,181.8 L566.3,182.7 L566.8,183.7 L567.4,184.6 L567.9,185.6 L568.4,186.6 L568.9,187.5 L569.5,188.5 L570.0,189.3 L570.5,190.2 L571.1,191.0 L571.6,191.8 L572.1,192.6 L572.7,193.3 L573.2,193.9 L573.7,194.6 L574.2,195.2 L574.8,195.7 L575.3,196.3 L575.8,196.8 L576.4,197.3 L576.9,197.7 L577.4,198.2 L577.9,198.6 L578.5,198.9 L579.0,199.3 L579.5,199.7 L580.1,200.0 L580.6,200.3 L581.1,200.6 L581.6,200.8 L582.2,201.1 L582.7,201.3 L583.2,201.6 L583.8,201.8 L584.3,202.0 L584.8,202.1 L585.3,202.3 L585.9,202.4 L586.4,202.6 L586.9,202.7 L587.5,202.8 L588.0,202.9 L588.5,202.9 L589.1,203.0 L589.6,203.0 L590.1,203.1 L590.6,203.1 L591.2,203.1 L591.7,203.1 L592.2,203.1 L592.8,203.1 L593.3,203.0 L593.8,203.0 L594.3,202.9 L594.9,202.9 L595.4,202.8 L595.9,202.7 L596.5,202.6 L597.0,202.5 L597.5,202.4 L598.0,202.3 L598.6,202.1 L599.1,202.0 L599.6,201.8 L600.2,201.6 L600.7,201.4 L601.2,201.2 L601.7,201.0 L602.3,200.7 L602.8,200.5 L603.3,200.2 L603.9,199.8 L604.4,199.5 L604.9,199.1 L605.5,198.7 L606.0,198.2 L606.5,197.8 L607.0,197.2 L607.6,196.7 L608.1,196.1 L608.6,195.5 L609.2,194.8 L609.7,194.1 L610.2,193.3 L610.7,192.5 L611.3,191.6 L611.8,190.7 L612.3,189.8 L612.9,188.8 L613.4,187.7 L613.9,186.6 L614.4,185.5 L615.0,184.3 L615.5,183.1 L616.0,181.8 L616.6,180.5 L617.1,179.2 L617.6,177.8 L618.1,176.4 L618.7,175.0 L619.2,173.5 L619.7,172.0 L620.3,170.5 L620.8,168.9 L621.3,167.4 L621.8,165.8 L622.4,164.1 L622.9,162.5 L623.4,160.9 L624.0,159.2 L624.5,157.5 L625.0,155.8 L625.6,154.1 L626.1,152.4 L626.6,150.7 L627.1,148.9 L627.7,147.2 L628.2,145.5 L628.7,143.7 L629.3,141.9 L629.8,140.2 L630.3,138.4 L630.8,136.6 L631.4,134.8 L631.9,133.1 L632.4,131.3 L633.0,129.5 L633.5,127.7 L634.0,125.9 L634.5,124.1 L635.1,122.3 L635.6,120.5 L636.1,118.7 L636.7,116.9 L637.2,115.1 L637.7,113.3 L638.2,111.4 L638.8,109.6 L639.3,107.8 L639.8,106.0 L640.4,104.2 L640.9,102.4 L641.4,100.6 L642.0,98.8 L642.5,96.9 L643.0,95.1 L643.5,93.3 L644.1,91.5 L644.6,89.7 L645.1,87.8" fill="none" stroke="#e9b131" stroke-width="1.75" stroke-linejoin="round" stroke-linecap="round"/>
<path d="M529.3,199.0 L529.8,198.6 L530.3,198.2 L530.9,197.8 L531.4,197.4 L531.9,196.9 L532.4,196.5 L533.0,196.1 L533.5,195.7 L534.0,195.2 L534.6,194.8 L535.1,194.4 L535.6,193.9 L536.2,193.5 L536.7,193.0 L537.2,192.6 L537.7,192.1 L538.3,191.6 L538.8,191.2 L539.3,190.7 L539.9,190.2 L540.4,189.7 L540.9,189.2 L541.4,188.7 L542.0,188.2 L542.5,187.7 L543.0,187.2 L543.6,186.7 L544.1,186.1 L544.6,185.6 L545.1,185.0 L545.7,184.4 L546.2,183.9 L546.7,183.3 L547.3,182.7 L547.8,182.1 L548.3,181.6 L548.8,181.0 L549.4,180.4 L549.9,179.9 L550.4,179.3 L551.0,178.8 L551.5,178.3 L552.0,177.8 L552.6,177.3 L553.1,176.8 L553.6,176.4 L554.1,176.0 L554.7,175.6 L555.2,175.2 L555.7,174.9 L556.3,174.6 L556.8,174.3 L557.3,174.1 L557.8,173.9 L558.4,173.8 L558.9,173.7 L559.4,173.7 L560.0,173.8 L560.5,174.0 L561.0,174.3 L561.5,174.6 L562.1,175.1 L562.6,175.6 L563.1,176.2 L563.7,176.9 L564.2,177.6 L564.7,178.4 L565.2,179.2 L565.8,180.1 L566.3,181.0 L566.8,181.9 L567.4,182.9 L567.9,183.8 L568.4,184.7 L568.9,185.7 L569.5,186.6 L570.0,187.5 L570.5,188.3 L571.1,189.1 L571.6,189.9 L572.1,190.7 L572.7,191.4 L573.2,192.1 L573.7,192.7 L574.2,193.3 L574.8,193.9 L575.3,194.5 L575.8,195.0 L576.4,195.6 L576.9,196.0 L577.4,196.5 L577.9,197.0 L578.5,197.4 L579.0,197.8 L579.5,198.2 L580.1,198.5 L580.6,198.9 L581.1,199.2 L581.6,199.5 L582.2,199.8 L582.7,200.1 L583.2,200.4 L583.8,200.6 L584.3,200.8 L584.8,201.1 L585.3,201.3 L585.9,201.4 L586.4,201.6 L586.9,201.8 L587.5,201.9 L588.0,202.0 L588.5,202.1 L589.1,202.2 L589.6,202.3 L590.1,202.4 L590.6,202.5 L591.2,202.5 L591.7,202.6 L592.2,202.6 L592.8,202.6 L593.3,202.6 L593.8,202.6 L594.3,202.6 L594.9,202.6 L595.4,202.6 L595.9,202.6 L596.5,202.5 L597.0,202.5 L597.5,202.5 L598.0,202.4 L598.6,202.3 L599.1,202.3 L599.6,202.2 L600.2,202.1 L600.7,202.0 L601.2,201.9 L601.7,201.8 L602.3,201.7 L602.8,201.5 L603.3,201.4 L603.9,201.2 L604.4,201.0 L604.9,200.9 L605.5,200.6 L606.0,200.4 L606.5,200.2 L607.0,199.9 L607.6,199.6 L608.1,199.3 L608.6,199.0 L609.2,198.6 L609.7,198.2 L610.2,197.8 L610.7,197.3 L611.3,196.8 L611.8,196.3 L612.3,195.7 L612.9,195.1 L613.4,194.4 L613.9,193.7 L614.4,193.0 L615.0,192.2 L615.5,191.3 L616.0,190.5 L616.6,189.5 L617.1,188.6 L617.6,187.5 L618.1,186.5 L618.7,185.4 L619.2,184.2 L619.7,183.0 L620.3,181.8 L620.8,180.5 L621.3,179.2 L621.8,177.9 L622.4,176.5 L622.9,175.1 L623.4,173.7 L624.0,172.3 L624.5,170.8 L625.0,169.3 L625.6,167.8 L626.1,166.2 L626.6,164.6 L627.1,163.1 L627.7,161.5 L628.2,159.9 L628.7,158.2 L629.3,156.6 L629.8,154.9 L630.3,153.3 L630.8,151.6 L631.4,149.9 L631.9,148.3 L632.4,146.6 L633.0,144.9 L633.5,143.2 L634.0,141.5 L634.5,139.8 L635.1,138.0 L635.6,136.3 L636.1,134.6 L636.7,132.9 L637.2,131.1 L637.7,129.4 L638.2,127.7 L638.8,125.9 L639.3,124.2 L639.8,122.4 L640.4,120.7 L640.9,119.0 L641.4,117.2 L642.0,115.5 L642.5,113.7 L643.0,112.0 L643.5,110.2 L644.1,108.5 L644.6,106.7 L645.1,105.0" fill="none" stroke="#e6d630" stroke-width="1.75" stroke-linejoin="round" stroke-linecap="round"/>
<path d="M529.3,198.9 L529.8,198.5 L530.3,198.0 L530.9,197.6 L531.4,197.2 L531.9,196.8 L532.4,196.3 L533.0,195.9 L533.5,195.5 L534.0,195.0 L534.6,194.6 L535.1,194.1 L535.6,193.7 L536.2,193.2 L536.7,192.8 L537.2,192.3 L537.7,191.8 L538.3,191.4 L538.8,190.9 L539.3,190.4 L539.9,189.9 L540.4,189.4 L540.9,188.9 L541.4,188.4 L542.0,187.9 L542.5,187.4 L543.0,186.8 L543.6,186.3 L544.1,185.7 L544.6,185.2 L545.1,184.6 L545.7,184.0 L546.2,183.4 L546.7,182.8 L547.3,182.2 L547.8,181.6 L548.3,181.1 L548.8,180.5 L549.4,179.9 L549.9,179.3 L550.4,178.7 L551.0,178.2 L551.5,177.7 L552.0,177.1 L552.6,176.6 L553.1,176.1 L553.6,175.7 L554.1,175.2 L554.7,174.8 L555.2,174.4 L555.7,174.0 L556.3,173.7 L556.8,173.4 L557.3,173.1 L557.8,172.9 L558.4,172.7 L558.9,172.6 L559.4,172.6 L560.0,172.6 L560.5,172.7 L561.0,173.0 L561.5,173.3 L562.1,173.7 L562.6,174.1 L563.1,174.7 L563.7,175.3 L564.2,176.0 L564.7,176.7 L565.2,177.5 L565.8,178.3 L566.3,179.2 L566.8,180.1 L567.4,181.0 L567.9,181.9 L568.4,182.8 L568.9,183.7 L569.5,184.6 L570.0,185.5 L570.5,186.3 L571.1,187.1 L571.6,187.9 L572.1,188.7 L572.7,189.4 L573.2,190.1 L573.7,190.8 L574.2,191.4 L574.8,192.0 L575.3,192.6 L575.8,193.2 L576.4,193.7 L576.9,194.3 L577.4,194.8 L577.9,195.2 L578.5,195.7 L579.0,196.2 L579.5,196.6 L580.1,197.0 L580.6,197.4 L581.1,197.7 L581.6,198.1 L582.2,198.4 L582.7,198.8 L583.2,199.1 L583.8,199.3 L584.3,199.6 L584.8,199.9 L585.3,200.1 L585.9,200.3 L586.4,200.6 L586.9,200.7 L587.5,200.9 L588.0,201.1 L588.5,201.2 L589.1,201.4 L589.6,201.5 L590.1,201.6 L590.6,201.7 L591.2,201.8 L591.7,201.9 L592.2,201.9 L592.8,202.0 L593.3,202.1 L593.8,202.1 L594.3,202.1 L594.9,202.1 L595.4,202.2 L595.9,202.2 L596.5,202.2 L597.0,202.2 L597.5,202.2 L598.0,202.2 L598.6,202.1 L599.1,202.1 L599.6,202.1 L600.2,202.1 L600.7,202.0 L601.2,202.0 L601.7,201.9 L602.3,201.9 L602.8,201.8 L603.3,201.7 L603.9,201.7 L604.4,201.6 L604.9,201.5 L605.5,201.4 L606.0,201.3 L606.5,201.2 L607.0,201.0 L607.6,200.9 L608.1,200.7 L608.6,200.6 L609.2,200.4 L609.7,200.2 L610.2,200.0 L610.7,199.7 L611.3,199.5 L611.8,199.2 L612.3,198.9 L612.9,198.6 L613.4,198.2 L613.9,197.8 L614.4,197.4 L615.0,196.9 L615.5,196.4 L616.0,195.9 L616.6,195.3 L617.1,194.7 L617.6,194.1 L618.1,193.4 L618.7,192.7 L619.2,191.9 L619.7,191.0 L620.3,190.2 L620.8,189.3 L621.3,188.3 L621.8,187.3 L622.4,186.3 L622.9,185.2 L623.4,184.0 L624.0,182.9 L624.5,181.7 L625.0,180.4 L625.6,179.2 L626.1,177.9 L626.6,176.5 L627.1,175.2 L627.7,173.8 L628.2,172.4 L628.7,170.9 L629.3,169.5 L629.8,168.0 L630.3,166.5 L630.8,165.0 L631.4,163.4 L631.9,161.9 L632.4,160.3 L633.0,158.7 L633.5,157.2 L634.0,155.6 L634.5,154.0 L635.1,152.3 L635.6,150.7 L636.1,149.1 L636.7,147.5 L637.2,145.8 L637.7,144.2 L638.2,142.5 L638.8,140.9 L639.3,139.2 L639.8,137.6 L640.4,135.9 L640.9,134.2 L641.4,132.6 L642.0,130.9 L642.5,129.2 L643.0,127.5 L643.5,125.9 L644.1,124.2 L644.6,122.5 L645.1,120.8" fill="none" stroke="#a2dc32" stroke-width="1.75" stroke-linejoin="round" stroke-linecap="round"/>
<path d="M529.3,198.7 L529.8,198.3 L530.3,197.9 L530.9,197.4 L531.4,197.0 L531.9,196.6 L532.4,196.1 L533.0,195.7 L533.5,195.2 L534.0,194.8 L534.6,194.3 L535.1,193.9 L535.6,193.4 L536.2,193.0 L536.7,192.5 L537.2,192.0 L537.7,191.6 L538.3,191.1 L538.8,190.6 L539.3,190.1 L539.9,189.6 L540.4,189.1 L540.9,188.6 L541.4,188.0 L542.0,187.5 L542.5,187.0 L543.0,186.4 L543.6,185.9 L544.1,185.3 L544.6,184.7 L545.1,184.1 L545.7,183.5 L546.2,182.9 L546.7,182.3 L547.3,181.7 L547.8,181.1 L548.3,180.5 L548.8,179.9 L549.4,179.3 L549.9,178.7 L550.4,178.1 L551.0,177.6 L551.5,177.0 L552.0,176.4 L552.6,175.9 L553.1,175.4 L553.6,174.9 L554.1,174.4 L554.7,174.0 L555.2,173.5 L555.7,173.1 L556.3,172.8 L556.8,172.4 L557.3,172.1 L557.8,171.8 L558.4,171.6 L558.9,171.5 L559.4,171.4 L560.0,171.3 L560.5,171.4 L561.0,171.6 L561.5,171.8 L562.1,172.2 L562.6,172.6 L563.1,173.1 L563.7,173.6 L564.2,174.3 L564.7,174.9 L565.2,175.7 L565.8,176.5 L566.3,177.3 L566.8,178.1 L567.4,179.0 L567.9,179.8 L568.4,180.7 L568.9,181.6 L569.5,182.5 L570.0,183.3 L570.5,184.2 L571.1,185.0 L571.6,185.8 L572.1,186.5 L572.7,187.3 L573.2,188.0 L573.7,188.7 L574.2,189.3 L574.8,190.0 L575.3,190.6 L575.8,191.2 L576.4,191.8 L576.9,192.4 L577.4,192.9 L577.9,193.4 L578.5,193.9 L579.0,194.4 L579.5,194.9 L580.1,195.3 L580.6,195.8 L581.1,196.2 L581.6,196.6 L582.2,196.9 L582.7,197.3 L583.2,197.7 L583.8,198.0 L584.3,198.3 L584.8,198.6 L585.3,198.9 L585.9,199.2 L586.4,199.4 L586.9,199.6 L587.5,199.9 L588.0,200.1 L588.5,200.3 L589.1,200.4 L589.6,200.6 L590.1,200.8 L590.6,200.9 L591.2,201.0 L591.7,201.1 L592.2,201.2 L592.8,201.3 L593.3,201.4 L593.8,201.4 L594.3,201.5 L594.9,201.6 L595.4,201.6 L595.9,201.6 L596.5,201.7 L597.0,201.7 L597.5,201.7 L598.0,201.8 L598.6,201.8 L599.1,201.8 L599.6,201.8 L600.2,201.8 L600.7,201.8 L601.2,201.8 L601.7,201.8 L602.3,201.7 L602.8,201.7 L603.3,201.7 L603.9,201.7 L604.4,201.6 L604.9,201.6 L605.5,201.6 L606.0,201.5 L606.5,201.5 L607.0,201.5 L607.6,201.4 L608.1,201.4 L608.6,201.3 L609.2,201.2 L609.7,201.2 L610.2,201.1 L610.7,201.0 L611.3,200.9 L611.8,200.8 L612.3,200.7 L612.9,200.6 L613.4,200.4 L613.9,200.3 L614.4,200.1 L615.0,199.9 L615.5,199.7 L616.0,199.4 L616.6,199.2 L617.1,198.9 L617.6,198.6 L618.1,198.3 L618.7,197.9 L619.2,197.5 L619.7,197.1 L620.3,196.6 L620.8,196.1 L621.3,195.6 L621.8,195.0 L622.4,194.4 L622.9,193.7 L623.4,193.0 L624.0,192.2 L624.5,191.4 L625.0,190.6 L625.6,189.7 L626.1,188.8 L626.6,187.8 L627.1,186.8 L627.7,185.8 L628.2,184.7 L628.7,183.6 L629.3,182.4 L629.8,181.2 L630.3,179.9 L630.8,178.7 L631.4,177.4 L631.9,176.1 L632.4,174.7 L633.0,173.3 L633.5,171.9 L634.0,170.5 L634.5,169.1 L635.1,167.6 L635.6,166.1 L636.1,164.6 L636.7,163.1 L637.2,161.6 L637.7,160.1 L638.2,158.5 L638.8,157.0 L639.3,155.4 L639.8,153.8 L640.4,152.3 L640.9,150.7 L641.4,149.1 L642.0,147.5 L642.5,145.9 L643.0,144.3 L643.5,142.7 L644.1,141.1 L644.6,139.4 L645.1,137.8" fill="none" stroke="#10d620" stroke-width="1.75" stroke-linejoin="round" stroke-linecap="round"/>
<path d="M529.3,198.6 L529.8,198.1 L530.3,197.7 L530.9,197.2 L531.4,196.8 L531.9,196.4 L532.4,195.9 L533.0,195.5 L533.5,195.0 L534.0,194.5 L534.6,194.1 L535.1,193.6 L535.6,193.2 L536.2,192.7 L536.7,192.2 L537.2,191.7 L537.7,191.2 L538.3,190.7 L538.8,190.2 L539.3,189.7 L539.9,189.2 L540.4,188.7 L540.9,188.2 L541.4,187.6 L542.0,187.1 L542.5,186.6 L543.0,186.0 L543.6,185.4 L544.1,184.8 L544.6,184.3 L545.1,183.7 L545.7,183.0 L546.2,182.4 L546.7,181.8 L547.3,181.2 L547.8,180.6 L548.3,179.9 L548.8,179.3 L549.4,178.7 L549.9,178.1 L550.4,177.5 L551.0,176.9 L551.5,176.3 L552.0,175.7 L552.6,175.1 L553.1,174.6 L553.6,174.1 L554.1,173.6 L554.7,173.1 L555.2,172.6 L555.7,172.2 L556.3,171.7 L556.8,171.3 L557.3,171.0 L557.8,170.7 L558.4,170.4 L558.9,170.2 L559.4,170.0 L560.0,170.0 L560.5,170.0 L561.0,170.1 L561.5,170.3 L562.1,170.5 L562.6,170.9 L563.1,171.3 L563.7,171.8 L564.2,172.4 L564.7,173.0 L565.2,173.7 L565.8,174.4 L566.3,175.2 L566.8,176.0 L567.4,176.8 L567.9,177.6 L568.4,178.5 L568.9,179.3 L569.5,180.2 L570.0,181.0 L570.5,181.9 L571.1,182.7 L571.6,183.5 L572.1,184.2 L572.7,185.0 L573.2,185.7 L573.7,186.4 L574.2,187.1 L574.8,187.8 L575.3,188.4 L575.8,189.1 L576.4,189.7 L576.9,190.3 L577.4,190.9 L577.9,191.4 L578.5,192.0 L579.0,192.5 L579.5,193.0 L580.1,193.5 L580.6,194.0 L581.1,194.5 L581.6,194.9 L582.2,195.3 L582.7,195.7 L583.2,196.1 L583.8,196.5 L584.3,196.9 L584.8,197.2 L585.3,197.6 L585.9,197.9 L586.4,198.2 L586.9,198.4 L587.5,198.7 L588.0,199.0 L588.5,199.2 L589.1,199.4 L589.6,199.6 L590.1,199.8 L590.6,200.0 L591.2,200.1 L591.7,200.3 L592.2,200.4 L592.8,200.5 L593.3,200.6 L593.8,200.7 L594.3,200.8 L594.9,200.9 L595.4,201.0 L595.9,201.0 L596.5,201.1 L597.0,201.1 L597.5,201.2 L598.0,201.2 L598.6,201.3 L599.1,201.3 L599.6,201.3 L600.2,201.3 L600.7,201.4 L601.2,201.4 L601.7,201.4 L602.3,201.4 L602.8,201.4 L603.3,201.4 L603.9,201.4 L604.4,201.4 L604.9,201.4 L605.5,201.4 L606.0,201.4 L606.5,201.4 L607.0,201.4 L607.6,201.4 L608.1,201.4 L608.6,201.4 L609.2,201.4 L609.7,201.4 L610.2,201.4 L610.7,201.4 L611.3,201.3 L611.8,201.3 L612.3,201.3 L612.9,201.3 L613.4,201.2 L613.9,201.2 L614.4,201.1 L615.0,201.1 L615.5,201.0 L616.0,200.9 L616.6,200.9 L617.1,200.8 L617.6,200.7 L618.1,200.5 L618.7,200.4 L619.2,200.3 L619.7,200.1 L620.3,199.9 L620.8,199.7 L621.3,199.5 L621.8,199.2 L622.4,199.0 L622.9,198.7 L623.4,198.4 L624.0,198.0 L624.5,197.6 L625.0,197.2 L625.6,196.7 L626.1,196.3 L626.6,195.7 L627.1,195.2 L627.7,194.6 L628.2,194.0 L628.7,193.3 L629.3,192.6 L629.8,191.8 L630.3,191.0 L630.8,190.2 L631.4,189.3 L631.9,188.4 L632.4,187.5 L633.0,186.5 L633.5,185.5 L634.0,184.4 L634.5,183.4 L635.1,182.2 L635.6,181.1 L636.1,179.9 L636.7,178.7 L637.2,177.5 L637.7,176.3 L638.2,175.0 L638.8,173.7 L639.3,172.4 L639.8,171.1 L640.4,169.8 L640.9,168.4 L641.4,167.1 L642.0,165.7 L642.5,164.3 L643.0,162.9 L643.5,161.5 L644.1,160.1 L644.6,158.7 L645.1,157.3" fill="none" stroke="#12c98e" stroke-width="1.75" stroke-linejoin="round" stroke-linecap="round"/>
<path d="M529.3,198.4 L529.8,197.9 L530.3,197.5 L530.9,197.0 L531.4,196.6 L531.9,196.1 L532.4,195.7 L533.0,195.2 L533.5,194.7 L534.0,194.3 L534.6,193.8 L535.1,193.3 L535.6,192.9 L536.2,192.4 L536.7,191.9 L537.2,191.4 L537.7,190.9 L538.3,190.4 L538.8,189.9 L539.3,189.4 L539.9,188.8 L540.4,188.3 L540.9,187.8 L541.4,187.2 L542.0,186.7 L542.5,186.1 L543.0,185.5 L543.6,184.9 L544.1,184.3 L544.6,183.7 L545.1,183.1 L545.7,182.5 L546.2,181.9 L546.7,181.2 L547.3,180.6 L547.8,179.9 L548.3,179.3 L548.8,178.6 L549.4,178.0 L549.9,177.4 L550.4,176.7 L551.0,176.1 L551.5,175.5 L552.0,174.9 L552.6,174.3 L553.1,173.7 L553.6,173.1 L554.1,172.6 L554.7,172.1 L555.2,171.6 L555.7,171.1 L556.3,170.6 L556.8,170.2 L557.3,169.8 L557.8,169.4 L558.4,169.1 L558.9,168.8 L559.4,168.6 L560.0,168.4 L560.5,168.4 L561.0,168.4 L561.5,168.5 L562.1,168.7 L562.6,169.0 L563.1,169.3 L563.7,169.8 L564.2,170.3 L564.7,170.8 L565.2,171.5 L565.8,172.1 L566.3,172.8 L566.8,173.6 L567.4,174.4 L567.9,175.2 L568.4,176.0 L568.9,176.8 L569.5,177.6 L570.0,178.5 L570.5,179.3 L571.1,180.1 L571.6,180.9 L572.1,181.7 L572.7,182.4 L573.2,183.2 L573.7,183.9 L574.2,184.6 L574.8,185.3 L575.3,186.0 L575.8,186.7 L576.4,187.3 L576.9,188.0 L577.4,188.6 L577.9,189.2 L578.5,189.8 L579.0,190.4 L579.5,191.0 L580.1,191.5 L580.6,192.1 L581.1,192.6 L581.6,193.1 L582.2,193.5 L582.7,194.0 L583.2,194.5 L583.8,194.9 L584.3,195.3 L584.8,195.7 L585.3,196.1 L585.9,196.4 L586.4,196.8 L586.9,197.1 L587.5,197.4 L588.0,197.7 L588.5,198.0 L589.1,198.2 L589.6,198.5 L590.1,198.7 L590.6,198.9 L591.2,199.1 L591.7,199.3 L592.2,199.5 L592.8,199.6 L593.3,199.8 L593.8,199.9 L594.3,200.0 L594.9,200.1 L595.4,200.2 L595.9,200.3 L596.5,200.4 L597.0,200.5 L597.5,200.5 L598.0,200.6 L598.6,200.6 L599.1,200.7 L599.6,200.7 L600.2,200.8 L600.7,200.8 L601.2,200.9 L601.7,200.9 L602.3,200.9 L602.8,200.9 L603.3,201.0 L603.9,201.0 L604.4,201.0 L604.9,201.0 L605.5,201.1 L606.0,201.1 L606.5,201.1 L607.0,201.1 L607.6,201.1 L608.1,201.2 L608.6,201.2 L609.2,201.2 L609.7,201.2 L610.2,201.3 L610.7,201.3 L611.3,201.3 L611.8,201.3 L612.3,201.4 L612.9,201.4 L613.4,201.4 L613.9,201.4 L614.4,201.4 L615.0,201.4 L615.5,201.4 L616.0,201.4 L616.6,201.4 L617.1,201.4 L617.6,201.4 L618.1,201.4 L618.7,201.4 L619.2,201.4 L619.7,201.4 L620.3,201.3 L620.8,201.3 L621.3,201.2 L621.8,201.2 L622.4,201.1 L622.9,201.0 L623.4,200.9 L624.0,200.8 L624.5,200.7 L625.0,200.6 L625.6,200.4 L626.1,200.3 L626.6,200.1 L627.1,199.9 L627.7,199.7 L628.2,199.5 L628.7,199.2 L629.3,198.9 L629.8,198.6 L630.3,198.3 L630.8,198.0 L631.4,197.6 L631.9,197.2 L632.4,196.7 L633.0,196.3 L633.5,195.8 L634.0,195.2 L634.5,194.7 L635.1,194.1 L635.6,193.4 L636.1,192.8 L636.7,192.1 L637.2,191.3 L637.7,190.6 L638.2,189.8 L638.8,189.0 L639.3,188.1 L639.8,187.2 L640.4,186.3 L640.9,185.4 L641.4,184.4 L642.0,183.5 L642.5,182.5 L643.0,181.4 L643.5,180.4 L644.1,179.4 L644.6,178.3 L645.1,177.2" fill="none" stroke="#15b9bf" stroke-width="1.75" stroke-linejoin="round" stroke-linecap="round"/>
<path d="M529.3,198.2 L529.8,197.7 L530.3,197.3 L530.9,196.8 L531.4,196.3 L531.9,195.9 L532.4,195.4 L533.0,194.9 L533.5,194.5 L534.0,194.0 L534.6,193.5 L535.1,193.0 L535.6,192.5 L536.2,192.0 L536.7,191.5 L537.2,191.0 L537.7,190.5 L538.3,190.0 L538.8,189.5 L539.3,188.9 L539.9,188.4 L540.4,187.8 L540.9,187.3 L541.4,186.7 L542.0,186.1 L542.5,185.6 L543.0,185.0 L543.6,184.4 L544.1,183.8 L544.6,183.1 L545.1,182.5 L545.7,181.9 L546.2,181.2 L546.7,180.6 L547.3,179.9 L547.8,179.2 L548.3,178.6 L548.8,177.9 L549.4,177.2 L549.9,176.6 L550.4,175.9 L551.0,175.2 L551.5,174.6 L552.0,173.9 L552.6,173.3 L553.1,172.7 L553.6,172.1 L554.1,171.5 L554.7,170.9 L555.2,170.4 L555.7,169.8 L556.3,169.3 L556.8,168.8 L557.3,168.4 L557.8,167.9 L558.4,167.5 L558.9,167.2 L559.4,166.9 L560.0,166.7 L560.5,166.6 L561.0,166.5 L561.5,166.5 L562.1,166.6 L562.6,166.8 L563.1,167.1 L563.7,167.4 L564.2,167.9 L564.7,168.4 L565.2,168.9 L565.8,169.5 L566.3,170.2 L566.8,170.9 L567.4,171.6 L567.9,172.3 L568.4,173.1 L568.9,173.9 L569.5,174.7 L570.0,175.5 L570.5,176.3 L571.1,177.1 L571.6,177.9 L572.1,178.7 L572.7,179.5 L573.2,180.3 L573.7,181.0 L574.2,181.8 L574.8,182.5 L575.3,183.2 L575.8,184.0 L576.4,184.7 L576.9,185.4 L577.4,186.0 L577.9,186.7 L578.5,187.4 L579.0,188.0 L579.5,188.6 L580.1,189.2 L580.6,189.8 L581.1,190.4 L581.6,191.0 L582.2,191.5 L582.7,192.0 L583.2,192.5 L583.8,193.0 L584.3,193.5 L584.8,193.9 L585.3,194.4 L585.9,194.8 L586.4,195.2 L586.9,195.6 L587.5,195.9 L588.0,196.3 L588.5,196.6 L589.1,196.9 L589.6,197.2 L590.1,197.5 L590.6,197.7 L591.2,198.0 L591.7,198.2 L592.2,198.4 L592.8,198.6 L593.3,198.8 L593.8,198.9 L594.3,199.1 L594.9,199.2 L595.4,199.3 L595.9,199.5 L596.5,199.6 L597.0,199.7 L597.5,199.8 L598.0,199.9 L598.6,199.9 L599.1,200.0 L599.6,200.1 L600.2,200.1 L600.7,200.2 L601.2,200.2 L601.7,200.3 L602.3,200.3 L602.8,200.4 L603.3,200.4 L603.9,200.5 L604.4,200.5 L604.9,200.5 L605.5,200.6 L606.0,200.6 L606.5,200.6 L607.0,200.7 L607.6,200.7 L608.1,200.8 L608.6,200.8 L609.2,200.9 L609.7,200.9 L610.2,201.0 L610.7,201.0 L611.3,201.0 L611.8,201.1 L612.3,201.1 L612.9,201.2 L613.4,201.2 L613.9,201.2 L614.4,201.3 L615.0,201.3 L615.5,201.4 L616.0,201.4 L616.6,201.4 L617.1,201.5 L617.6,201.5 L618.1,201.5 L618.7,201.5 L619.2,201.6 L619.7,201.6 L620.3,201.6 L620.8,201.6 L621.3,201.6 L621.8,201.6 L622.4,201.6 L622.9,201.6 L623.4,201.5 L624.0,201.5 L624.5,201.5 L625.0,201.5 L625.6,201.4 L626.1,201.4 L626.6,201.3 L627.1,201.2 L627.7,201.1 L628.2,201.0 L628.7,200.9 L629.3,200.8 L629.8,200.7 L630.3,200.6 L630.8,200.4 L631.4,200.3 L631.9,200.1 L632.4,199.9 L633.0,199.7 L633.5,199.4 L634.0,199.2 L634.5,198.9 L635.1,198.6 L635.6,198.3 L636.1,198.0 L636.7,197.6 L637.2,197.2 L637.7,196.8 L638.2,196.3 L638.8,195.9 L639.3,195.4 L639.8,194.8 L640.4,194.3 L640.9,193.7 L641.4,193.1 L642.0,192.5 L642.5,191.8 L643.0,191.1 L643.5,190.4 L644.1,189.6 L644.6,188.9 L645.1,188.1" fill="none" stroke="#1a9de8" stroke-width="1.75" stroke-linejoin="round" stroke-linecap="round"/>
<path d="M529.3,197.9 L529.8,197.5 L530.3,197.0 L530.9,196.5 L531.4,196.0 L531.9,195.5 L532.4,195.1 L533.0,194.6 L533.5,194.1 L534.0,193.6 L534.6,193.1 L535.1,192.6 L535.6,192.1 L536.2,191.6 L536.7,191.1 L537.2,190.5 L537.7,190.0 L538.3,189.5 L538.8,188.9 L539.3,188.4 L539.9,187.8 L540.4,187.3 L540.9,186.7 L541.4,186.1 L542.0,185.5 L542.5,184.9 L543.0,184.3 L543.6,183.7 L544.1,183.0 L544.6,182.4 L545.1,181.7 L545.7,181.1 L546.2,180.4 L546.7,179.7 L547.3,179.0 L547.8,178.3 L548.3,177.6 L548.8,176.9 L549.4,176.2 L549.9,175.5 L550.4,174.8 L551.0,174.2 L551.5,173.5 L552.0,172.8 L552.6,172.1 L553.1,171.4 L553.6,170.8 L554.1,170.1 L554.7,169.5 L555.2,168.9 L555.7,168.3 L556.3,167.7 L556.8,167.2 L557.3,166.6 L557.8,166.1 L558.4,165.6 L558.9,165.2 L559.4,164.8 L560.0,164.5 L560.5,164.3 L561.0,164.1 L561.5,164.1 L562.1,164.1 L562.6,164.1 L563.1,164.3 L563.7,164.6 L564.2,164.9 L564.7,165.3 L565.2,165.8 L565.8,166.3 L566.3,166.9 L566.8,167.5 L567.4,168.2 L567.9,168.9 L568.4,169.6 L568.9,170.4 L569.5,171.1 L570.0,171.9 L570.5,172.7 L571.1,173.5 L571.6,174.3 L572.1,175.1 L572.7,175.9 L573.2,176.7 L573.7,177.5 L574.2,178.3 L574.8,179.0 L575.3,179.8 L575.8,180.6 L576.4,181.4 L576.9,182.1 L577.4,182.9 L577.9,183.6 L578.5,184.3 L579.0,185.0 L579.5,185.7 L580.1,186.4 L580.6,187.1 L581.1,187.7 L581.6,188.4 L582.2,189.0 L582.7,189.6 L583.2,190.1 L583.8,190.7 L584.3,191.2 L584.8,191.8 L585.3,192.3 L585.9,192.8 L586.4,193.2 L586.9,193.7 L587.5,194.1 L588.0,194.5 L588.5,194.9 L589.1,195.3 L589.6,195.6 L590.1,195.9 L590.6,196.3 L591.2,196.5 L591.7,196.8 L592.2,197.1 L592.8,197.3 L593.3,197.5 L593.8,197.7 L594.3,197.9 L594.9,198.1 L595.4,198.3 L595.9,198.4 L596.5,198.6 L597.0,198.7 L597.5,198.8 L598.0,198.9 L598.6,199.0 L599.1,199.1 L599.6,199.2 L600.2,199.3 L600.7,199.4 L601.2,199.5 L601.7,199.5 L602.3,199.6 L602.8,199.7 L603.3,199.7 L603.9,199.8 L604.4,199.8 L604.9,199.9 L605.5,200.0 L606.0,200.0 L606.5,200.1 L607.0,200.1 L607.6,200.2 L608.1,200.3 L608.6,200.3 L609.2,200.4 L609.7,200.5 L610.2,200.5 L610.7,200.6 L611.3,200.6 L611.8,200.7 L612.3,200.8 L612.9,200.8 L613.4,200.9 L613.9,201.0 L614.4,201.0 L615.0,201.1 L615.5,201.1 L616.0,201.2 L616.6,201.3 L617.1,201.3 L617.6,201.4 L618.1,201.4 L618.7,201.5 L619.2,201.5 L619.7,201.5 L620.3,201.6 L620.8,201.6 L621.3,201.6 L621.8,201.7 L622.4,201.7 L622.9,201.7 L623.4,201.7 L624.0,201.7 L624.5,201.7 L625.0,201.7 L625.6,201.7 L626.1,201.7 L626.6,201.7 L627.1,201.7 L627.7,201.7 L628.2,201.7 L628.7,201.6 L629.3,201.6 L629.8,201.5 L630.3,201.5 L630.8,201.4 L631.4,201.4 L631.9,201.3 L632.4,201.2 L633.0,201.1 L633.5,201.0 L634.0,200.9 L634.5,200.8 L635.1,200.7 L635.6,200.6 L636.1,200.4 L636.7,200.3 L637.2,200.1 L637.7,199.9 L638.2,199.8 L638.8,199.6 L639.3,199.3 L639.8,199.1 L640.4,198.8 L640.9,198.6 L641.4,198.3 L642.0,198.0 L642.5,197.7 L643.0,197.3 L643.5,197.0 L644.1,196.6 L644.6,196.2 L645.1,195.7" fill="none" stroke="#2d40f0" stroke-width="1.75" stroke-linejoin="round" stroke-linecap="round"/>
<path d="M529.3,197.4 L529.8,196.9 L530.3,196.4 L530.9,195.9 L531.4,195.4 L531.9,194.9 L532.4,194.4 L533.0,193.9 L533.5,193.4 L534.0,192.9 L534.6,192.3 L535.1,191.8 L535.6,191.3 L536.2,190.7 L536.7,190.2 L537.2,189.6 L537.7,189.1 L538.3,188.5 L538.8,187.9 L539.3,187.3 L539.9,186.8 L540.4,186.2 L540.9,185.5 L541.4,184.9 L542.0,184.3 L542.5,183.7 L543.0,183.0 L543.6,182.3 L544.1,181.7 L544.6,181.0 L545.1,180.3 L545.7,179.6 L546.2,178.8 L546.7,178.1 L547.3,177.4 L547.8,176.6 L548.3,175.9 L548.8,175.1 L549.4,174.4 L549.9,173.6 L550.4,172.8 L551.0,172.1 L551.5,171.3 L552.0,170.5 L552.6,169.8 L553.1,169.0 L553.6,168.3 L554.1,167.5 L554.7,166.8 L555.2,166.1 L555.7,165.3 L556.3,164.6 L556.8,163.9 L557.3,163.2 L557.8,162.6 L558.4,162.0 L558.9,161.4 L559.4,160.8 L560.0,160.4 L560.5,159.9 L561.0,159.6 L561.5,159.3 L562.1,159.1 L562.6,159.0 L563.1,158.9 L563.7,159.0 L564.2,159.2 L564.7,159.4 L565.2,159.7 L565.8,160.1 L566.3,160.5 L566.8,161.0 L567.4,161.5 L567.9,162.1 L568.4,162.8 L568.9,163.4 L569.5,164.1 L570.0,164.9 L570.5,165.6 L571.1,166.4 L571.6,167.2 L572.1,168.0 L572.7,168.9 L573.2,169.7 L573.7,170.6 L574.2,171.5 L574.8,172.3 L575.3,173.2 L575.8,174.1 L576.4,175.0 L576.9,175.8 L577.4,176.7 L577.9,177.6 L578.5,178.4 L579.0,179.3 L579.5,180.1 L580.1,180.9 L580.6,181.7 L581.1,182.5 L581.6,183.3 L582.2,184.1 L582.7,184.8 L583.2,185.5 L583.8,186.2 L584.3,186.9 L584.8,187.6 L585.3,188.2 L585.9,188.8 L586.4,189.4 L586.9,190.0 L587.5,190.6 L588.0,191.1 L588.5,191.6 L589.1,192.1 L589.6,192.5 L590.1,193.0 L590.6,193.4 L591.2,193.8 L591.7,194.2 L592.2,194.5 L592.8,194.8 L593.3,195.1 L593.8,195.4 L594.3,195.7 L594.9,196.0 L595.4,196.2 L595.9,196.4 L596.5,196.6 L597.0,196.8 L597.5,197.0 L598.0,197.2 L598.6,197.3 L599.1,197.5 L599.6,197.6 L600.2,197.7 L600.7,197.9 L601.2,198.0 L601.7,198.1 L602.3,198.2 L602.8,198.3 L603.3,198.4 L603.9,198.5 L604.4,198.6 L604.9,198.7 L605.5,198.8 L606.0,198.9 L606.5,198.9 L607.0,199.0 L607.6,199.1 L608.1,199.2 L608.6,199.3 L609.2,199.4 L609.7,199.5 L610.2,199.6 L610.7,199.8 L611.3,199.9 L611.8,200.0 L612.3,200.1 L612.9,200.2 L613.4,200.3 L613.9,200.4 L614.4,200.5 L615.0,200.5 L615.5,200.6 L616.0,200.7 L616.6,200.8 L617.1,200.9 L617.6,201.0 L618.1,201.1 L618.7,201.2 L619.2,201.2 L619.7,201.3 L620.3,201.4 L620.8,201.4 L621.3,201.5 L621.8,201.6 L622.4,201.6 L622.9,201.7 L623.4,201.7 L624.0,201.7 L624.5,201.8 L625.0,201.8 L625.6,201.8 L626.1,201.9 L626.6,201.9 L627.1,201.9 L627.7,201.9 L628.2,201.9 L628.7,201.9 L629.3,201.9 L629.8,201.9 L630.3,201.9 L630.8,201.9 L631.4,201.8 L631.9,201.8 L632.4,201.8 L633.0,201.8 L633.5,201.8 L634.0,201.7 L634.5,201.7 L635.1,201.7 L635.6,201.6 L636.1,201.6 L636.7,201.5 L637.2,201.5 L637.7,201.4 L638.2,201.4 L638.8,201.4 L639.3,201.3 L639.8,201.3 L640.4,201.2 L640.9,201.1 L641.4,201.1 L642.0,201.0 L642.5,201.0 L643.0,200.9 L643.5,200.9 L644.1,200.8 L644.6,200.8 L645.1,200.7" fill="none" stroke="#7a1fd6" stroke-width="1.75" stroke-linejoin="round" stroke-linecap="round"/>
</g>
<g clip-path="url(#c_d_bot)">
<path d="M529.3,283.7 L529.8,283.8 L530.3,283.8 L530.9,283.9 L531.4,283.9 L531.9,284.0 L532.4,284.0 L533.0,284.1 L533.5,284.1 L534.0,284.2 L534.6,284.2 L535.1,284.2 L535.6,284.3 L536.2,284.3 L536.7,284.3 L537.2,284.4 L537.7,284.4 L538.3,284.4 L538.8,284.5 L539.3,284.5 L539.9,284.5 L540.4,284.5 L540.9,284.5 L541.4,284.5 L542.0,284.5 L542.5,284.6 L543.0,284.6 L543.6,284.6 L544.1,284.6 L544.6,284.6 L545.1,284.7 L545.7,284.7 L546.2,284.8 L546.7,284.8 L547.3,284.9 L547.8,285.0 L548.3,285.1 L548.8,285.2 L549.4,285.3 L549.9,285.5 L550.4,285.6 L551.0,285.8 L551.5,286.0 L552.0,286.2 L552.6,286.5 L553.1,286.8 L553.6,287.1 L554.1,287.4 L554.7,287.7 L555.2,288.1 L555.7,288.5 L556.3,289.0 L556.8,289.5 L557.3,290.0 L557.8,290.6 L558.4,291.2 L558.9,291.8 L559.4,292.5 L560.0,293.3 L560.5,294.0 L561.0,294.9 L561.5,295.7 L562.1,296.6 L562.6,297.6 L563.1,298.5 L563.7,299.5 L564.2,300.5 L564.7,301.5 L565.2,302.5 L565.8,303.5 L566.3,304.5 L566.8,305.5 L567.4,306.5 L567.9,307.5 L568.4,308.5 L568.9,309.4 L569.5,310.3 L570.0,311.2 L570.5,312.0 L571.1,312.8 L571.6,313.5 L572.1,314.2 L572.7,314.9 L573.2,315.6 L573.7,316.2 L574.2,316.8 L574.8,317.3 L575.3,317.8 L575.8,318.3 L576.4,318.8 L576.9,319.2 L577.4,319.6 L577.9,319.9 L578.5,320.2 L579.0,320.5 L579.5,320.8 L580.1,321.0 L580.6,321.2 L581.1,321.4 L581.6,321.5 L582.2,321.6 L582.7,321.7 L583.2,321.8 L583.8,321.8 L584.3,321.9 L584.8,321.8 L585.3,321.8 L585.9,321.7 L586.4,321.7 L586.9,321.5 L587.5,321.4 L588.0,321.3 L588.5,321.1 L589.1,320.9 L589.6,320.7 L590.1,320.4 L590.6,320.2 L591.2,319.9 L591.7,319.6 L592.2,319.3 L592.8,318.9 L593.3,318.5 L593.8,318.1 L594.3,317.7 L594.9,317.3 L595.4,316.8 L595.9,316.4 L596.5,315.9 L597.0,315.3 L597.5,314.8 L598.0,314.2 L598.6,313.6 L599.1,313.0 L599.6,312.4 L600.2,311.7 L600.7,311.1 L601.2,310.4 L601.7,309.6 L602.3,308.9 L602.8,308.1 L603.3,307.4 L603.9,306.6 L604.4,305.8 L604.9,304.9 L605.5,304.1 L606.0,303.2 L606.5,302.4 L607.0,301.5 L607.6,300.6 L608.1,299.7 L608.6,298.8 L609.2,297.8 L609.7,296.9 L610.2,295.9 L610.7,295.0 L611.3,294.0 L611.8,293.1 L612.3,292.1 L612.9,291.2 L613.4,290.2 L613.9,289.3 L614.4,288.3 L615.0,287.4 L615.5,286.4 L616.0,285.5 L616.6,284.6 L617.1,283.7 L617.6,282.8 L618.1,282.0 L618.7,281.1 L619.2,280.3 L619.7,279.5 L620.3,278.7 L620.8,278.0 L621.3,277.3 L621.8,276.6 L622.4,275.9 L622.9,275.3 L623.4,274.7 L624.0,274.2 L624.5,273.7 L625.0,273.2 L625.6,272.8 L626.1,272.4 L626.6,272.0 L627.1,271.7 L627.7,271.5 L628.2,271.2 L628.7,271.1 L629.3,270.9 L629.8,270.9 L630.3,270.8 L630.8,270.8 L631.4,270.9 L631.9,270.9 L632.4,271.1 L633.0,271.2 L633.5,271.4 L634.0,271.6 L634.5,271.8 L635.1,272.1 L635.6,272.4 L636.1,272.7 L636.7,273.1 L637.2,273.5 L637.7,273.9 L638.2,274.3 L638.8,274.8 L639.3,275.3 L639.8,275.8 L640.4,276.4 L640.9,276.9 L641.4,277.5 L642.0,278.2 L642.5,278.8 L643.0,279.5 L643.5,280.1 L644.1,280.8 L644.6,281.5 L645.1,282.2" fill="none" stroke="#e3119b" stroke-width="1.75" stroke-linejoin="round" stroke-linecap="round"/>
<path d="M529.3,281.9 L529.8,281.9 L530.3,282.0 L530.9,282.0 L531.4,282.0 L531.9,282.1 L532.4,282.1 L533.0,282.2 L533.5,282.2 L534.0,282.2 L534.6,282.3 L535.1,282.3 L535.6,282.3 L536.2,282.4 L536.7,282.4 L537.2,282.4 L537.7,282.5 L538.3,282.5 L538.8,282.5 L539.3,282.5 L539.9,282.5 L540.4,282.6 L540.9,282.6 L541.4,282.6 L542.0,282.6 L542.5,282.6 L543.0,282.6 L543.6,282.6 L544.1,282.7 L544.6,282.7 L545.1,282.7 L545.7,282.8 L546.2,282.8 L546.7,282.9 L547.3,283.0 L547.8,283.1 L548.3,283.2 L548.8,283.3 L549.4,283.4 L549.9,283.5 L550.4,283.7 L551.0,283.9 L551.5,284.1 L552.0,284.3 L552.6,284.6 L553.1,284.8 L553.6,285.1 L554.1,285.5 L554.7,285.8 L555.2,286.2 L555.7,286.6 L556.3,287.1 L556.8,287.6 L557.3,288.1 L557.8,288.6 L558.4,289.2 L558.9,289.9 L559.4,290.6 L560.0,291.3 L560.5,292.1 L561.0,292.9 L561.5,293.7 L562.1,294.6 L562.6,295.6 L563.1,296.5 L563.7,297.5 L564.2,298.4 L564.7,299.4 L565.2,300.5 L565.8,301.5 L566.3,302.5 L566.8,303.5 L567.4,304.5 L567.9,305.5 L568.4,306.4 L568.9,307.4 L569.5,308.3 L570.0,309.2 L570.5,310.0 L571.1,310.9 L571.6,311.6 L572.1,312.4 L572.7,313.1 L573.2,313.8 L573.7,314.5 L574.2,315.1 L574.8,315.7 L575.3,316.3 L575.8,316.9 L576.4,317.4 L576.9,317.9 L577.4,318.3 L577.9,318.8 L578.5,319.2 L579.0,319.6 L579.5,319.9 L580.1,320.2 L580.6,320.5 L581.1,320.8 L581.6,321.1 L582.2,321.3 L582.7,321.5 L583.2,321.7 L583.8,321.8 L584.3,321.9 L584.8,322.1 L585.3,322.2 L585.9,322.2 L586.4,322.3 L586.9,322.3 L587.5,322.3 L588.0,322.3 L588.5,322.3 L589.1,322.2 L589.6,322.2 L590.1,322.1 L590.6,322.0 L591.2,321.9 L591.7,321.8 L592.2,321.6 L592.8,321.5 L593.3,321.3 L593.8,321.1 L594.3,320.9 L594.9,320.7 L595.4,320.4 L595.9,320.2 L596.5,319.9 L597.0,319.6 L597.5,319.2 L598.0,318.9 L598.6,318.5 L599.1,318.2 L599.6,317.8 L600.2,317.3 L600.7,316.9 L601.2,316.5 L601.7,316.0 L602.3,315.5 L602.8,315.0 L603.3,314.4 L603.9,313.9 L604.4,313.3 L604.9,312.7 L605.5,312.1 L606.0,311.5 L606.5,310.8 L607.0,310.2 L607.6,309.5 L608.1,308.8 L608.6,308.1 L609.2,307.3 L609.7,306.6 L610.2,305.8 L610.7,305.0 L611.3,304.2 L611.8,303.4 L612.3,302.6 L612.9,301.7 L613.4,300.8 L613.9,300.0 L614.4,299.1 L615.0,298.2 L615.5,297.3 L616.0,296.4 L616.6,295.5 L617.1,294.6 L617.6,293.7 L618.1,292.8 L618.7,291.8 L619.2,290.9 L619.7,290.0 L620.3,289.1 L620.8,288.2 L621.3,287.3 L621.8,286.4 L622.4,285.6 L622.9,284.7 L623.4,283.9 L624.0,283.1 L624.5,282.3 L625.0,281.5 L625.6,280.8 L626.1,280.0 L626.6,279.3 L627.1,278.6 L627.7,278.0 L628.2,277.4 L628.7,276.8 L629.3,276.3 L629.8,275.8 L630.3,275.3 L630.8,274.8 L631.4,274.4 L631.9,274.1 L632.4,273.8 L633.0,273.5 L633.5,273.3 L634.0,273.1 L634.5,272.9 L635.1,272.8 L635.6,272.8 L636.1,272.8 L636.7,272.8 L637.2,272.8 L637.7,272.9 L638.2,273.0 L638.8,273.2 L639.3,273.4 L639.8,273.6 L640.4,273.8 L640.9,274.1 L641.4,274.4 L642.0,274.7 L642.5,275.1 L643.0,275.5 L643.5,275.9 L644.1,276.3 L644.6,276.8 L645.1,277.3" fill="none" stroke="#f24343" stroke-width="1.75" stroke-linejoin="round" stroke-linecap="round"/>
<path d="M529.3,280.0 L529.8,280.0 L530.3,280.0 L530.9,280.1 L531.4,280.1 L531.9,280.1 L532.4,280.2 L533.0,280.2 L533.5,280.2 L534.0,280.3 L534.6,280.3 L535.1,280.3 L535.6,280.4 L536.2,280.4 L536.7,280.4 L537.2,280.4 L537.7,280.4 L538.3,280.5 L538.8,280.5 L539.3,280.5 L539.9,280.5 L540.4,280.5 L540.9,280.5 L541.4,280.6 L542.0,280.6 L542.5,280.6 L543.0,280.6 L543.6,280.6 L544.1,280.6 L544.6,280.7 L545.1,280.7 L545.7,280.8 L546.2,280.8 L546.7,280.9 L547.3,281.0 L547.8,281.0 L548.3,281.1 L548.8,281.3 L549.4,281.4 L549.9,281.5 L550.4,281.7 L551.0,281.9 L551.5,282.1 L552.0,282.3 L552.6,282.6 L553.1,282.8 L553.6,283.1 L554.1,283.5 L554.7,283.8 L555.2,284.2 L555.7,284.6 L556.3,285.1 L556.8,285.5 L557.3,286.1 L557.8,286.6 L558.4,287.2 L558.9,287.8 L559.4,288.5 L560.0,289.2 L560.5,290.0 L561.0,290.8 L561.5,291.6 L562.1,292.5 L562.6,293.4 L563.1,294.4 L563.7,295.3 L564.2,296.3 L564.7,297.3 L565.2,298.3 L565.8,299.3 L566.3,300.3 L566.8,301.3 L567.4,302.3 L567.9,303.3 L568.4,304.2 L568.9,305.2 L569.5,306.1 L570.0,307.0 L570.5,307.9 L571.1,308.8 L571.6,309.6 L572.1,310.4 L572.7,311.1 L573.2,311.9 L573.7,312.6 L574.2,313.3 L574.8,313.9 L575.3,314.5 L575.8,315.1 L576.4,315.7 L576.9,316.3 L577.4,316.8 L577.9,317.3 L578.5,317.8 L579.0,318.2 L579.5,318.6 L580.1,319.0 L580.6,319.4 L581.1,319.7 L581.6,320.0 L582.2,320.3 L582.7,320.6 L583.2,320.9 L583.8,321.1 L584.3,321.3 L584.8,321.5 L585.3,321.7 L585.9,321.8 L586.4,322.0 L586.9,322.1 L587.5,322.2 L588.0,322.3 L588.5,322.4 L589.1,322.4 L589.6,322.5 L590.1,322.5 L590.6,322.5 L591.2,322.5 L591.7,322.5 L592.2,322.5 L592.8,322.4 L593.3,322.4 L593.8,322.3 L594.3,322.2 L594.9,322.1 L595.4,322.0 L595.9,321.9 L596.5,321.7 L597.0,321.6 L597.5,321.4 L598.0,321.2 L598.6,321.0 L599.1,320.8 L599.6,320.6 L600.2,320.3 L600.7,320.0 L601.2,319.8 L601.7,319.5 L602.3,319.2 L602.8,318.8 L603.3,318.5 L603.9,318.1 L604.4,317.8 L604.9,317.4 L605.5,317.0 L606.0,316.5 L606.5,316.1 L607.0,315.6 L607.6,315.2 L608.1,314.7 L608.6,314.1 L609.2,313.6 L609.7,313.1 L610.2,312.5 L610.7,311.9 L611.3,311.3 L611.8,310.6 L612.3,310.0 L612.9,309.3 L613.4,308.6 L613.9,307.9 L614.4,307.2 L615.0,306.5 L615.5,305.7 L616.0,305.0 L616.6,304.2 L617.1,303.4 L617.6,302.6 L618.1,301.7 L618.7,300.9 L619.2,300.1 L619.7,299.2 L620.3,298.3 L620.8,297.5 L621.3,296.6 L621.8,295.7 L622.4,294.8 L622.9,293.9 L623.4,293.1 L624.0,292.2 L624.5,291.3 L625.0,290.4 L625.6,289.5 L626.1,288.7 L626.6,287.8 L627.1,287.0 L627.7,286.2 L628.2,285.3 L628.7,284.5 L629.3,283.8 L629.8,283.0 L630.3,282.3 L630.8,281.6 L631.4,280.9 L631.9,280.2 L632.4,279.6 L633.0,279.0 L633.5,278.4 L634.0,277.8 L634.5,277.3 L635.1,276.9 L635.6,276.4 L636.1,276.0 L636.7,275.7 L637.2,275.3 L637.7,275.0 L638.2,274.8 L638.8,274.6 L639.3,274.4 L639.8,274.3 L640.4,274.2 L640.9,274.2 L641.4,274.2 L642.0,274.3 L642.5,274.3 L643.0,274.4 L643.5,274.6 L644.1,274.7 L644.6,274.9 L645.1,275.1" fill="none" stroke="#f18131" stroke-width="1.75" stroke-linejoin="round" stroke-linecap="round"/>
<path d="M529.3,277.9 L529.8,278.0 L530.3,278.0 L530.9,278.0 L531.4,278.1 L531.9,278.1 L532.4,278.1 L533.0,278.1 L533.5,278.2 L534.0,278.2 L534.6,278.2 L535.1,278.3 L535.6,278.3 L536.2,278.3 L536.7,278.3 L537.2,278.3 L537.7,278.4 L538.3,278.4 L538.8,278.4 L539.3,278.4 L539.9,278.4 L540.4,278.4 L540.9,278.4 L541.4,278.5 L542.0,278.5 L542.5,278.5 L543.0,278.5 L543.6,278.5 L544.1,278.5 L544.6,278.6 L545.1,278.6 L545.7,278.7 L546.2,278.7 L546.7,278.8 L547.3,278.9 L547.8,279.0 L548.3,279.1 L548.8,279.2 L549.4,279.3 L549.9,279.5 L550.4,279.6 L551.0,279.8 L551.5,280.0 L552.0,280.2 L552.6,280.5 L553.1,280.8 L553.6,281.1 L554.1,281.4 L554.7,281.7 L555.2,282.1 L555.7,282.5 L556.3,283.0 L556.8,283.4 L557.3,284.0 L557.8,284.5 L558.4,285.1 L558.9,285.7 L559.4,286.4 L560.0,287.1 L560.5,287.8 L561.0,288.6 L561.5,289.5 L562.1,290.3 L562.6,291.2 L563.1,292.1 L563.7,293.1 L564.2,294.1 L564.7,295.0 L565.2,296.0 L565.8,297.0 L566.3,298.0 L566.8,299.0 L567.4,300.0 L567.9,301.0 L568.4,302.0 L568.9,302.9 L569.5,303.9 L570.0,304.8 L570.5,305.7 L571.1,306.6 L571.6,307.4 L572.1,308.2 L572.7,309.0 L573.2,309.8 L573.7,310.5 L574.2,311.3 L574.8,312.0 L575.3,312.6 L575.8,313.3 L576.4,313.9 L576.9,314.5 L577.4,315.1 L577.9,315.6 L578.5,316.1 L579.0,316.6 L579.5,317.1 L580.1,317.6 L580.6,318.0 L581.1,318.4 L581.6,318.8 L582.2,319.1 L582.7,319.5 L583.2,319.8 L583.8,320.1 L584.3,320.4 L584.8,320.6 L585.3,320.9 L585.9,321.1 L586.4,321.3 L586.9,321.5 L587.5,321.7 L588.0,321.8 L588.5,322.0 L589.1,322.1 L589.6,322.2 L590.1,322.3 L590.6,322.4 L591.2,322.5 L591.7,322.5 L592.2,322.6 L592.8,322.6 L593.3,322.6 L593.8,322.7 L594.3,322.7 L594.9,322.7 L595.4,322.6 L595.9,322.6 L596.5,322.5 L597.0,322.5 L597.5,322.4 L598.0,322.3 L598.6,322.3 L599.1,322.1 L599.6,322.0 L600.2,321.9 L600.7,321.8 L601.2,321.6 L601.7,321.5 L602.3,321.3 L602.8,321.1 L603.3,320.9 L603.9,320.7 L604.4,320.5 L604.9,320.3 L605.5,320.0 L606.0,319.8 L606.5,319.5 L607.0,319.2 L607.6,318.9 L608.1,318.6 L608.6,318.3 L609.2,317.9 L609.7,317.5 L610.2,317.2 L610.7,316.8 L611.3,316.3 L611.8,315.9 L612.3,315.5 L612.9,315.0 L613.4,314.5 L613.9,314.0 L614.4,313.5 L615.0,312.9 L615.5,312.4 L616.0,311.8 L616.6,311.2 L617.1,310.6 L617.6,309.9 L618.1,309.3 L618.7,308.6 L619.2,307.9 L619.7,307.2 L620.3,306.5 L620.8,305.8 L621.3,305.0 L621.8,304.2 L622.4,303.5 L622.9,302.7 L623.4,301.9 L624.0,301.1 L624.5,300.2 L625.0,299.4 L625.6,298.6 L626.1,297.7 L626.6,296.9 L627.1,296.0 L627.7,295.2 L628.2,294.3 L628.7,293.5 L629.3,292.6 L629.8,291.7 L630.3,290.9 L630.8,290.1 L631.4,289.2 L631.9,288.4 L632.4,287.6 L633.0,286.8 L633.5,286.0 L634.0,285.3 L634.5,284.5 L635.1,283.8 L635.6,283.1 L636.1,282.4 L636.7,281.8 L637.2,281.1 L637.7,280.5 L638.2,280.0 L638.8,279.4 L639.3,278.9 L639.8,278.4 L640.4,278.0 L640.9,277.6 L641.4,277.2 L642.0,276.9 L642.5,276.6 L643.0,276.4 L643.5,276.1 L644.1,276.0 L644.6,275.8 L645.1,275.8" fill="none" stroke="#e9b131" stroke-width="1.75" stroke-linejoin="round" stroke-linecap="round"/>
<path d="M529.3,275.9 L529.8,275.9 L530.3,275.9 L530.9,275.9 L531.4,275.9 L531.9,276.0 L532.4,276.0 L533.0,276.0 L533.5,276.0 L534.0,276.0 L534.6,276.1 L535.1,276.1 L535.6,276.1 L536.2,276.1 L536.7,276.1 L537.2,276.2 L537.7,276.2 L538.3,276.2 L538.8,276.2 L539.3,276.2 L539.9,276.2 L540.4,276.2 L540.9,276.2 L541.4,276.3 L542.0,276.3 L542.5,276.3 L543.0,276.3 L543.6,276.3 L544.1,276.3 L544.6,276.4 L545.1,276.4 L545.7,276.5 L546.2,276.5 L546.7,276.6 L547.3,276.7 L547.8,276.8 L548.3,276.9 L548.8,277.0 L549.4,277.1 L549.9,277.3 L550.4,277.4 L551.0,277.6 L551.5,277.8 L552.0,278.1 L552.6,278.3 L553.1,278.6 L553.6,278.9 L554.1,279.2 L554.7,279.5 L555.2,279.9 L555.7,280.3 L556.3,280.8 L556.8,281.2 L557.3,281.8 L557.8,282.3 L558.4,282.9 L558.9,283.5 L559.4,284.2 L560.0,284.9 L560.5,285.6 L561.0,286.4 L561.5,287.2 L562.1,288.0 L562.6,288.9 L563.1,289.8 L563.7,290.8 L564.2,291.7 L564.7,292.7 L565.2,293.6 L565.8,294.6 L566.3,295.6 L566.8,296.6 L567.4,297.6 L567.9,298.6 L568.4,299.6 L568.9,300.5 L569.5,301.5 L570.0,302.4 L570.5,303.3 L571.1,304.2 L571.6,305.1 L572.1,306.0 L572.7,306.8 L573.2,307.6 L573.7,308.4 L574.2,309.1 L574.8,309.9 L575.3,310.6 L575.8,311.3 L576.4,312.0 L576.9,312.6 L577.4,313.2 L577.9,313.8 L578.5,314.4 L579.0,315.0 L579.5,315.5 L580.1,316.0 L580.6,316.5 L581.1,317.0 L581.6,317.4 L582.2,317.8 L582.7,318.2 L583.2,318.6 L583.8,318.9 L584.3,319.3 L584.8,319.6 L585.3,319.9 L585.9,320.2 L586.4,320.4 L586.9,320.7 L587.5,320.9 L588.0,321.1 L588.5,321.3 L589.1,321.5 L589.6,321.7 L590.1,321.8 L590.6,322.0 L591.2,322.1 L591.7,322.2 L592.2,322.3 L592.8,322.4 L593.3,322.5 L593.8,322.6 L594.3,322.7 L594.9,322.7 L595.4,322.7 L595.9,322.8 L596.5,322.8 L597.0,322.8 L597.5,322.8 L598.0,322.8 L598.6,322.8 L599.1,322.8 L599.6,322.8 L600.2,322.7 L600.7,322.7 L601.2,322.6 L601.7,322.6 L602.3,322.5 L602.8,322.4 L603.3,322.3 L603.9,322.3 L604.4,322.2 L604.9,322.1 L605.5,321.9 L606.0,321.8 L606.5,321.7 L607.0,321.6 L607.6,321.4 L608.1,321.2 L608.6,321.1 L609.2,320.9 L609.7,320.7 L610.2,320.5 L610.7,320.3 L611.3,320.0 L611.8,319.8 L612.3,319.5 L612.9,319.3 L613.4,319.0 L613.9,318.7 L614.4,318.4 L615.0,318.0 L615.5,317.7 L616.0,317.3 L616.6,316.9 L617.1,316.5 L617.6,316.1 L618.1,315.7 L618.7,315.2 L619.2,314.8 L619.7,314.3 L620.3,313.8 L620.8,313.2 L621.3,312.7 L621.8,312.1 L622.4,311.6 L622.9,311.0 L623.4,310.4 L624.0,309.7 L624.5,309.1 L625.0,308.4 L625.6,307.7 L626.1,307.0 L626.6,306.3 L627.1,305.6 L627.7,304.9 L628.2,304.1 L628.7,303.3 L629.3,302.5 L629.8,301.8 L630.3,301.0 L630.8,300.1 L631.4,299.3 L631.9,298.5 L632.4,297.7 L633.0,296.8 L633.5,296.0 L634.0,295.2 L634.5,294.3 L635.1,293.5 L635.6,292.7 L636.1,291.8 L636.7,291.0 L637.2,290.2 L637.7,289.4 L638.2,288.6 L638.8,287.8 L639.3,287.0 L639.8,286.3 L640.4,285.6 L640.9,284.8 L641.4,284.2 L642.0,283.5 L642.5,282.8 L643.0,282.2 L643.5,281.6 L644.1,281.0 L644.6,280.5 L645.1,280.0" fill="none" stroke="#e6d630" stroke-width="1.75" stroke-linejoin="round" stroke-linecap="round"/>
<path d="M529.3,273.7 L529.8,273.7 L530.3,273.7 L530.9,273.7 L531.4,273.7 L531.9,273.7 L532.4,273.7 L533.0,273.8 L533.5,273.8 L534.0,273.8 L534.6,273.8 L535.1,273.8 L535.6,273.8 L536.2,273.8 L536.7,273.9 L537.2,273.9 L537.7,273.9 L538.3,273.9 L538.8,273.9 L539.3,273.9 L539.9,273.9 L540.4,273.9 L540.9,273.9 L541.4,273.9 L542.0,274.0 L542.5,274.0 L543.0,274.0 L543.6,274.0 L544.1,274.0 L544.6,274.1 L545.1,274.1 L545.7,274.2 L546.2,274.2 L546.7,274.3 L547.3,274.4 L547.8,274.5 L548.3,274.6 L548.8,274.7 L549.4,274.8 L549.9,275.0 L550.4,275.2 L551.0,275.3 L551.5,275.6 L552.0,275.8 L552.6,276.0 L553.1,276.3 L553.6,276.6 L554.1,276.9 L554.7,277.3 L555.2,277.6 L555.7,278.0 L556.3,278.5 L556.8,278.9 L557.3,279.4 L557.8,280.0 L558.4,280.6 L558.9,281.2 L559.4,281.8 L560.0,282.5 L560.5,283.2 L561.0,284.0 L561.5,284.8 L562.1,285.6 L562.6,286.5 L563.1,287.4 L563.7,288.3 L564.2,289.2 L564.7,290.2 L565.2,291.1 L565.8,292.1 L566.3,293.1 L566.8,294.1 L567.4,295.1 L567.9,296.1 L568.4,297.1 L568.9,298.0 L569.5,299.0 L570.0,299.9 L570.5,300.9 L571.1,301.8 L571.6,302.7 L572.1,303.6 L572.7,304.4 L573.2,305.3 L573.7,306.1 L574.2,306.9 L574.8,307.7 L575.3,308.4 L575.8,309.2 L576.4,309.9 L576.9,310.6 L577.4,311.3 L577.9,311.9 L578.5,312.6 L579.0,313.2 L579.5,313.8 L580.1,314.3 L580.6,314.9 L581.1,315.4 L581.6,315.9 L582.2,316.4 L582.7,316.8 L583.2,317.2 L583.8,317.6 L584.3,318.0 L584.8,318.4 L585.3,318.8 L585.9,319.1 L586.4,319.4 L586.9,319.7 L587.5,320.0 L588.0,320.2 L588.5,320.5 L589.1,320.7 L589.6,320.9 L590.1,321.1 L590.6,321.3 L591.2,321.5 L591.7,321.7 L592.2,321.8 L592.8,322.0 L593.3,322.1 L593.8,322.2 L594.3,322.3 L594.9,322.4 L595.4,322.5 L595.9,322.6 L596.5,322.6 L597.0,322.7 L597.5,322.8 L598.0,322.8 L598.6,322.8 L599.1,322.9 L599.6,322.9 L600.2,322.9 L600.7,322.9 L601.2,322.9 L601.7,322.9 L602.3,322.9 L602.8,322.9 L603.3,322.9 L603.9,322.9 L604.4,322.9 L604.9,322.9 L605.5,322.8 L606.0,322.8 L606.5,322.8 L607.0,322.7 L607.6,322.7 L608.1,322.6 L608.6,322.5 L609.2,322.5 L609.7,322.4 L610.2,322.3 L610.7,322.2 L611.3,322.1 L611.8,322.0 L612.3,321.9 L612.9,321.8 L613.4,321.7 L613.9,321.5 L614.4,321.4 L615.0,321.2 L615.5,321.0 L616.0,320.9 L616.6,320.7 L617.1,320.5 L617.6,320.3 L618.1,320.0 L618.7,319.8 L619.2,319.5 L619.7,319.3 L620.3,319.0 L620.8,318.7 L621.3,318.4 L621.8,318.0 L622.4,317.7 L622.9,317.3 L623.4,317.0 L624.0,316.6 L624.5,316.2 L625.0,315.7 L625.6,315.3 L626.1,314.8 L626.6,314.3 L627.1,313.8 L627.7,313.3 L628.2,312.8 L628.7,312.2 L629.3,311.7 L629.8,311.1 L630.3,310.5 L630.8,309.8 L631.4,309.2 L631.9,308.5 L632.4,307.9 L633.0,307.2 L633.5,306.5 L634.0,305.7 L634.5,305.0 L635.1,304.3 L635.6,303.5 L636.1,302.7 L636.7,301.9 L637.2,301.1 L637.7,300.3 L638.2,299.5 L638.8,298.7 L639.3,297.9 L639.8,297.0 L640.4,296.2 L640.9,295.4 L641.4,294.5 L642.0,293.7 L642.5,292.9 L643.0,292.0 L643.5,291.2 L644.1,290.4 L644.6,289.6 L645.1,288.8" fill="none" stroke="#a2dc32" stroke-width="1.75" stroke-linejoin="round" stroke-linecap="round"/>
<path d="M529.3,271.3 L529.8,271.3 L530.3,271.3 L530.9,271.3 L531.4,271.3 L531.9,271.4 L532.4,271.4 L533.0,271.4 L533.5,271.4 L534.0,271.4 L534.6,271.4 L535.1,271.4 L535.6,271.4 L536.2,271.4 L536.7,271.4 L537.2,271.4 L537.7,271.4 L538.3,271.4 L538.8,271.5 L539.3,271.5 L539.9,271.5 L540.4,271.5 L540.9,271.5 L541.4,271.5 L542.0,271.5 L542.5,271.5 L543.0,271.5 L543.6,271.6 L544.1,271.6 L544.6,271.6 L545.1,271.7 L545.7,271.7 L546.2,271.8 L546.7,271.9 L547.3,271.9 L547.8,272.0 L548.3,272.1 L548.8,272.3 L549.4,272.4 L549.9,272.6 L550.4,272.7 L551.0,272.9 L551.5,273.1 L552.0,273.4 L552.6,273.6 L553.1,273.9 L553.6,274.2 L554.1,274.5 L554.7,274.8 L555.2,275.2 L555.7,275.6 L556.3,276.0 L556.8,276.5 L557.3,277.0 L557.8,277.5 L558.4,278.1 L558.9,278.7 L559.4,279.3 L560.0,280.0 L560.5,280.7 L561.0,281.5 L561.5,282.2 L562.1,283.1 L562.6,283.9 L563.1,284.8 L563.7,285.7 L564.2,286.6 L564.7,287.5 L565.2,288.5 L565.8,289.5 L566.3,290.4 L566.8,291.4 L567.4,292.4 L567.9,293.4 L568.4,294.4 L568.9,295.4 L569.5,296.3 L570.0,297.3 L570.5,298.3 L571.1,299.2 L571.6,300.1 L572.1,301.0 L572.7,301.9 L573.2,302.8 L573.7,303.7 L574.2,304.5 L574.8,305.3 L575.3,306.2 L575.8,307.0 L576.4,307.7 L576.9,308.5 L577.4,309.2 L577.9,309.9 L578.5,310.6 L579.0,311.3 L579.5,311.9 L580.1,312.6 L580.6,313.1 L581.1,313.7 L581.6,314.3 L582.2,314.8 L582.7,315.3 L583.2,315.8 L583.8,316.3 L584.3,316.7 L584.8,317.1 L585.3,317.5 L585.9,317.9 L586.4,318.3 L586.9,318.6 L587.5,318.9 L588.0,319.3 L588.5,319.5 L589.1,319.8 L589.6,320.1 L590.1,320.3 L590.6,320.6 L591.2,320.8 L591.7,321.0 L592.2,321.2 L592.8,321.3 L593.3,321.5 L593.8,321.6 L594.3,321.8 L594.9,321.9 L595.4,322.0 L595.9,322.1 L596.5,322.2 L597.0,322.3 L597.5,322.4 L598.0,322.5 L598.6,322.5 L599.1,322.6 L599.6,322.6 L600.2,322.7 L600.7,322.7 L601.2,322.8 L601.7,322.8 L602.3,322.8 L602.8,322.8 L603.3,322.8 L603.9,322.9 L604.4,322.9 L604.9,322.9 L605.5,322.9 L606.0,322.9 L606.5,322.9 L607.0,322.9 L607.6,322.8 L608.1,322.8 L608.6,322.8 L609.2,322.8 L609.7,322.8 L610.2,322.7 L610.7,322.7 L611.3,322.6 L611.8,322.6 L612.3,322.5 L612.9,322.5 L613.4,322.4 L613.9,322.3 L614.4,322.2 L615.0,322.1 L615.5,322.0 L616.0,321.9 L616.6,321.8 L617.1,321.7 L617.6,321.5 L618.1,321.4 L618.7,321.3 L619.2,321.1 L619.7,320.9 L620.3,320.7 L620.8,320.5 L621.3,320.3 L621.8,320.1 L622.4,319.9 L622.9,319.6 L623.4,319.4 L624.0,319.1 L624.5,318.8 L625.0,318.5 L625.6,318.2 L626.1,317.9 L626.6,317.5 L627.1,317.1 L627.7,316.8 L628.2,316.4 L628.7,315.9 L629.3,315.5 L629.8,315.1 L630.3,314.6 L630.8,314.1 L631.4,313.6 L631.9,313.1 L632.4,312.5 L633.0,312.0 L633.5,311.4 L634.0,310.8 L634.5,310.2 L635.1,309.6 L635.6,308.9 L636.1,308.2 L636.7,307.6 L637.2,306.9 L637.7,306.1 L638.2,305.4 L638.8,304.7 L639.3,303.9 L639.8,303.1 L640.4,302.4 L640.9,301.6 L641.4,300.8 L642.0,300.0 L642.5,299.2 L643.0,298.3 L643.5,297.5 L644.1,296.7 L644.6,295.8 L645.1,295.0" fill="none" stroke="#10d620" stroke-width="1.75" stroke-linejoin="round" stroke-linecap="round"/>
<path d="M529.3,268.8 L529.8,268.8 L530.3,268.8 L530.9,268.8 L531.4,268.8 L531.9,268.8 L532.4,268.8 L533.0,268.8 L533.5,268.8 L534.0,268.8 L534.6,268.8 L535.1,268.8 L535.6,268.8 L536.2,268.8 L536.7,268.8 L537.2,268.8 L537.7,268.8 L538.3,268.8 L538.8,268.8 L539.3,268.8 L539.9,268.8 L540.4,268.8 L540.9,268.9 L541.4,268.9 L542.0,268.9 L542.5,268.9 L543.0,268.9 L543.6,268.9 L544.1,269.0 L544.6,269.0 L545.1,269.0 L545.7,269.1 L546.2,269.2 L546.7,269.2 L547.3,269.3 L547.8,269.4 L548.3,269.5 L548.8,269.7 L549.4,269.8 L549.9,270.0 L550.4,270.1 L551.0,270.3 L551.5,270.5 L552.0,270.8 L552.6,271.0 L553.1,271.3 L553.6,271.6 L554.1,271.9 L554.7,272.2 L555.2,272.6 L555.7,273.0 L556.3,273.4 L556.8,273.9 L557.3,274.4 L557.8,274.9 L558.4,275.4 L558.9,276.0 L559.4,276.7 L560.0,277.3 L560.5,278.0 L561.0,278.8 L561.5,279.5 L562.1,280.3 L562.6,281.2 L563.1,282.0 L563.7,282.9 L564.2,283.8 L564.7,284.7 L565.2,285.7 L565.8,286.6 L566.3,287.6 L566.8,288.6 L567.4,289.5 L567.9,290.5 L568.4,291.5 L568.9,292.5 L569.5,293.5 L570.0,294.5 L570.5,295.4 L571.1,296.4 L571.6,297.4 L572.1,298.3 L572.7,299.2 L573.2,300.2 L573.7,301.1 L574.2,302.0 L574.8,302.8 L575.3,303.7 L575.8,304.6 L576.4,305.4 L576.9,306.2 L577.4,307.0 L577.9,307.8 L578.5,308.5 L579.0,309.2 L579.5,309.9 L580.1,310.6 L580.6,311.3 L581.1,311.9 L581.6,312.5 L582.2,313.1 L582.7,313.7 L583.2,314.2 L583.8,314.8 L584.3,315.3 L584.8,315.7 L585.3,316.2 L585.9,316.6 L586.4,317.1 L586.9,317.5 L587.5,317.8 L588.0,318.2 L588.5,318.5 L589.1,318.9 L589.6,319.2 L590.1,319.4 L590.6,319.7 L591.2,320.0 L591.7,320.2 L592.2,320.4 L592.8,320.6 L593.3,320.8 L593.8,321.0 L594.3,321.2 L594.9,321.4 L595.4,321.5 L595.9,321.6 L596.5,321.8 L597.0,321.9 L597.5,322.0 L598.0,322.1 L598.6,322.2 L599.1,322.2 L599.6,322.3 L600.2,322.4 L600.7,322.4 L601.2,322.5 L601.7,322.6 L602.3,322.6 L602.8,322.6 L603.3,322.7 L603.9,322.7 L604.4,322.8 L604.9,322.8 L605.5,322.8 L606.0,322.8 L606.5,322.9 L607.0,322.9 L607.6,322.9 L608.1,322.9 L608.6,322.9 L609.2,322.9 L609.7,322.9 L610.2,322.9 L610.7,322.9 L611.3,322.9 L611.8,322.9 L612.3,322.9 L612.9,322.9 L613.4,322.9 L613.9,322.9 L614.4,322.8 L615.0,322.8 L615.5,322.8 L616.0,322.7 L616.6,322.7 L617.1,322.6 L617.6,322.6 L618.1,322.5 L618.7,322.4 L619.2,322.4 L619.7,322.3 L620.3,322.2 L620.8,322.1 L621.3,322.0 L621.8,321.9 L622.4,321.8 L622.9,321.6 L623.4,321.5 L624.0,321.4 L624.5,321.2 L625.0,321.0 L625.6,320.9 L626.1,320.7 L626.6,320.5 L627.1,320.3 L627.7,320.1 L628.2,319.8 L628.7,319.6 L629.3,319.3 L629.8,319.0 L630.3,318.8 L630.8,318.4 L631.4,318.1 L631.9,317.8 L632.4,317.4 L633.0,317.1 L633.5,316.7 L634.0,316.3 L634.5,315.9 L635.1,315.4 L635.6,315.0 L636.1,314.5 L636.7,314.0 L637.2,313.5 L637.7,313.0 L638.2,312.4 L638.8,311.9 L639.3,311.3 L639.8,310.7 L640.4,310.1 L640.9,309.4 L641.4,308.8 L642.0,308.1 L642.5,307.4 L643.0,306.7 L643.5,306.0 L644.1,305.3 L644.6,304.5 L645.1,303.8" fill="none" stroke="#12c98e" stroke-width="1.75" stroke-linejoin="round" stroke-linecap="round"/>
<path d="M529.3,266.1 L529.8,266.1 L530.3,266.1 L530.9,266.0 L531.4,266.0 L531.9,266.0 L532.4,266.0 L533.0,266.0 L533.5,266.0 L534.0,266.0 L534.6,266.0 L535.1,266.0 L535.6,266.0 L536.2,266.0 L536.7,266.0 L537.2,266.0 L537.7,266.0 L538.3,266.0 L538.8,266.0 L539.3,266.0 L539.9,266.0 L540.4,266.0 L540.9,266.0 L541.4,266.0 L542.0,266.0 L542.5,266.0 L543.0,266.0 L543.6,266.1 L544.1,266.1 L544.6,266.1 L545.1,266.2 L545.7,266.2 L546.2,266.3 L546.7,266.4 L547.3,266.5 L547.8,266.6 L548.3,266.7 L548.8,266.8 L549.4,267.0 L549.9,267.1 L550.4,267.3 L551.0,267.5 L551.5,267.7 L552.0,267.9 L552.6,268.2 L553.1,268.4 L553.6,268.7 L554.1,269.0 L554.7,269.4 L555.2,269.7 L555.7,270.1 L556.3,270.6 L556.8,271.0 L557.3,271.5 L557.8,272.0 L558.4,272.6 L558.9,273.1 L559.4,273.7 L560.0,274.4 L560.5,275.1 L561.0,275.8 L561.5,276.5 L562.1,277.3 L562.6,278.1 L563.1,279.0 L563.7,279.8 L564.2,280.7 L564.7,281.6 L565.2,282.6 L565.8,283.5 L566.3,284.5 L566.8,285.4 L567.4,286.4 L567.9,287.4 L568.4,288.4 L568.9,289.4 L569.5,290.4 L570.0,291.4 L570.5,292.4 L571.1,293.4 L571.6,294.4 L572.1,295.3 L572.7,296.3 L573.2,297.3 L573.7,298.2 L574.2,299.2 L574.8,300.1 L575.3,301.0 L575.8,301.9 L576.4,302.8 L576.9,303.7 L577.4,304.6 L577.9,305.4 L578.5,306.2 L579.0,307.0 L579.5,307.8 L580.1,308.5 L580.6,309.3 L581.1,310.0 L581.6,310.6 L582.2,311.3 L582.7,311.9 L583.2,312.5 L583.8,313.1 L584.3,313.7 L584.8,314.2 L585.3,314.7 L585.9,315.2 L586.4,315.7 L586.9,316.2 L587.5,316.6 L588.0,317.0 L588.5,317.4 L589.1,317.8 L589.6,318.1 L590.1,318.5 L590.6,318.8 L591.2,319.1 L591.7,319.4 L592.2,319.6 L592.8,319.9 L593.3,320.1 L593.8,320.3 L594.3,320.5 L594.9,320.7 L595.4,320.9 L595.9,321.1 L596.5,321.2 L597.0,321.4 L597.5,321.5 L598.0,321.6 L598.6,321.7 L599.1,321.8 L599.6,321.9 L600.2,322.0 L600.7,322.1 L601.2,322.2 L601.7,322.2 L602.3,322.3 L602.8,322.4 L603.3,322.4 L603.9,322.5 L604.4,322.5 L604.9,322.6 L605.5,322.6 L606.0,322.7 L606.5,322.7 L607.0,322.7 L607.6,322.8 L608.1,322.8 L608.6,322.9 L609.2,322.9 L609.7,322.9 L610.2,322.9 L610.7,323.0 L611.3,323.0 L611.8,323.0 L612.3,323.0 L612.9,323.0 L613.4,323.0 L613.9,323.0 L614.4,323.1 L615.0,323.1 L615.5,323.1 L616.0,323.1 L616.6,323.1 L617.1,323.1 L617.6,323.0 L618.1,323.0 L618.7,323.0 L619.2,323.0 L619.7,323.0 L620.3,323.0 L620.8,322.9 L621.3,322.9 L621.8,322.9 L622.4,322.8 L622.9,322.8 L623.4,322.8 L624.0,322.7 L624.5,322.7 L625.0,322.6 L625.6,322.5 L626.1,322.5 L626.6,322.4 L627.1,322.3 L627.7,322.2 L628.2,322.1 L628.7,322.0 L629.3,321.9 L629.8,321.8 L630.3,321.7 L630.8,321.5 L631.4,321.4 L631.9,321.2 L632.4,321.1 L633.0,320.9 L633.5,320.7 L634.0,320.5 L634.5,320.3 L635.1,320.1 L635.6,319.8 L636.1,319.6 L636.7,319.3 L637.2,319.0 L637.7,318.7 L638.2,318.4 L638.8,318.1 L639.3,317.8 L639.8,317.4 L640.4,317.0 L640.9,316.7 L641.4,316.2 L642.0,315.8 L642.5,315.4 L643.0,314.9 L643.5,314.5 L644.1,314.0 L644.6,313.4 L645.1,312.9" fill="none" stroke="#15b9bf" stroke-width="1.75" stroke-linejoin="round" stroke-linecap="round"/>
<path d="M529.3,263.0 L529.8,263.0 L530.3,262.9 L530.9,262.9 L531.4,262.9 L531.9,262.9 L532.4,262.9 L533.0,262.9 L533.5,262.8 L534.0,262.8 L534.6,262.8 L535.1,262.8 L535.6,262.8 L536.2,262.8 L536.7,262.8 L537.2,262.8 L537.7,262.7 L538.3,262.7 L538.8,262.7 L539.3,262.7 L539.9,262.7 L540.4,262.7 L540.9,262.7 L541.4,262.7 L542.0,262.8 L542.5,262.8 L543.0,262.8 L543.6,262.8 L544.1,262.9 L544.6,262.9 L545.1,262.9 L545.7,263.0 L546.2,263.1 L546.7,263.2 L547.3,263.2 L547.8,263.4 L548.3,263.5 L548.8,263.6 L549.4,263.7 L549.9,263.9 L550.4,264.1 L551.0,264.3 L551.5,264.5 L552.0,264.7 L552.6,265.0 L553.1,265.2 L553.6,265.5 L554.1,265.8 L554.7,266.2 L555.2,266.5 L555.7,266.9 L556.3,267.3 L556.8,267.8 L557.3,268.3 L557.8,268.8 L558.4,269.3 L558.9,269.9 L559.4,270.5 L560.0,271.1 L560.5,271.8 L561.0,272.5 L561.5,273.2 L562.1,273.9 L562.6,274.7 L563.1,275.6 L563.7,276.4 L564.2,277.3 L564.7,278.2 L565.2,279.1 L565.8,280.0 L566.3,280.9 L566.8,281.9 L567.4,282.9 L567.9,283.9 L568.4,284.9 L568.9,285.9 L569.5,286.9 L570.0,287.9 L570.5,288.9 L571.1,289.9 L571.6,291.0 L572.1,292.0 L572.7,293.0 L573.2,294.0 L573.7,295.0 L574.2,296.0 L574.8,297.0 L575.3,298.0 L575.8,299.0 L576.4,299.9 L576.9,300.9 L577.4,301.8 L577.9,302.7 L578.5,303.6 L579.0,304.5 L579.5,305.3 L580.1,306.2 L580.6,307.0 L581.1,307.7 L581.6,308.5 L582.2,309.2 L582.7,309.9 L583.2,310.6 L583.8,311.3 L584.3,311.9 L584.8,312.5 L585.3,313.1 L585.9,313.7 L586.4,314.2 L586.9,314.7 L587.5,315.2 L588.0,315.7 L588.5,316.2 L589.1,316.6 L589.6,317.0 L590.1,317.4 L590.6,317.8 L591.2,318.1 L591.7,318.4 L592.2,318.7 L592.8,319.0 L593.3,319.3 L593.8,319.5 L594.3,319.8 L594.9,320.0 L595.4,320.2 L595.9,320.4 L596.5,320.6 L597.0,320.8 L597.5,320.9 L598.0,321.1 L598.6,321.2 L599.1,321.3 L599.6,321.4 L600.2,321.5 L600.7,321.6 L601.2,321.7 L601.7,321.8 L602.3,321.9 L602.8,322.0 L603.3,322.1 L603.9,322.1 L604.4,322.2 L604.9,322.3 L605.5,322.3 L606.0,322.4 L606.5,322.5 L607.0,322.5 L607.6,322.6 L608.1,322.6 L608.6,322.6 L609.2,322.7 L609.7,322.7 L610.2,322.8 L610.7,322.8 L611.3,322.8 L611.8,322.9 L612.3,322.9 L612.9,322.9 L613.4,323.0 L613.9,323.0 L614.4,323.0 L615.0,323.0 L615.5,323.0 L616.0,323.1 L616.6,323.1 L617.1,323.1 L617.6,323.1 L618.1,323.1 L618.7,323.1 L619.2,323.1 L619.7,323.1 L620.3,323.1 L620.8,323.1 L621.3,323.1 L621.8,323.1 L622.4,323.1 L622.9,323.1 L623.4,323.1 L624.0,323.1 L624.5,323.1 L625.0,323.1 L625.6,323.1 L626.1,323.1 L626.6,323.1 L627.1,323.0 L627.7,323.0 L628.2,323.0 L628.7,323.0 L629.3,322.9 L629.8,322.9 L630.3,322.8 L630.8,322.8 L631.4,322.7 L631.9,322.7 L632.4,322.6 L633.0,322.6 L633.5,322.5 L634.0,322.4 L634.5,322.3 L635.1,322.2 L635.6,322.1 L636.1,322.0 L636.7,321.9 L637.2,321.8 L637.7,321.6 L638.2,321.5 L638.8,321.3 L639.3,321.2 L639.8,321.0 L640.4,320.8 L640.9,320.6 L641.4,320.4 L642.0,320.2 L642.5,320.0 L643.0,319.7 L643.5,319.4 L644.1,319.2 L644.6,318.9 L645.1,318.6" fill="none" stroke="#1a9de8" stroke-width="1.75" stroke-linejoin="round" stroke-linecap="round"/>
<path d="M529.3,259.3 L529.8,259.2 L530.3,259.2 L530.9,259.2 L531.4,259.1 L531.9,259.1 L532.4,259.1 L533.0,259.1 L533.5,259.0 L534.0,259.0 L534.6,259.0 L535.1,259.0 L535.6,258.9 L536.2,258.9 L536.7,258.9 L537.2,258.9 L537.7,258.9 L538.3,258.9 L538.8,258.9 L539.3,258.8 L539.9,258.8 L540.4,258.8 L540.9,258.8 L541.4,258.9 L542.0,258.9 L542.5,258.9 L543.0,258.9 L543.6,258.9 L544.1,259.0 L544.6,259.0 L545.1,259.1 L545.7,259.1 L546.2,259.2 L546.7,259.3 L547.3,259.4 L547.8,259.5 L548.3,259.6 L548.8,259.7 L549.4,259.9 L549.9,260.0 L550.4,260.2 L551.0,260.4 L551.5,260.6 L552.0,260.9 L552.6,261.1 L553.1,261.4 L553.6,261.7 L554.1,262.0 L554.7,262.3 L555.2,262.7 L555.7,263.1 L556.3,263.5 L556.8,263.9 L557.3,264.4 L557.8,264.9 L558.4,265.4 L558.9,265.9 L559.4,266.5 L560.0,267.1 L560.5,267.8 L561.0,268.4 L561.5,269.1 L562.1,269.9 L562.6,270.6 L563.1,271.4 L563.7,272.3 L564.2,273.1 L564.7,274.0 L565.2,274.9 L565.8,275.8 L566.3,276.7 L566.8,277.7 L567.4,278.6 L567.9,279.6 L568.4,280.6 L568.9,281.6 L569.5,282.7 L570.0,283.7 L570.5,284.7 L571.1,285.8 L571.6,286.9 L572.1,288.0 L572.7,289.0 L573.2,290.1 L573.7,291.2 L574.2,292.3 L574.8,293.3 L575.3,294.4 L575.8,295.4 L576.4,296.5 L576.9,297.5 L577.4,298.5 L577.9,299.5 L578.5,300.5 L579.0,301.5 L579.5,302.4 L580.1,303.3 L580.6,304.2 L581.1,305.1 L581.6,305.9 L582.2,306.7 L582.7,307.5 L583.2,308.3 L583.8,309.1 L584.3,309.8 L584.8,310.5 L585.3,311.1 L585.9,311.8 L586.4,312.4 L586.9,313.0 L587.5,313.6 L588.0,314.1 L588.5,314.6 L589.1,315.1 L589.6,315.6 L590.1,316.1 L590.6,316.5 L591.2,316.9 L591.7,317.3 L592.2,317.6 L592.8,318.0 L593.3,318.3 L593.8,318.6 L594.3,318.9 L594.9,319.1 L595.4,319.4 L595.9,319.6 L596.5,319.8 L597.0,320.0 L597.5,320.2 L598.0,320.4 L598.6,320.6 L599.1,320.7 L599.6,320.9 L600.2,321.0 L600.7,321.1 L601.2,321.2 L601.7,321.3 L602.3,321.4 L602.8,321.5 L603.3,321.6 L603.9,321.7 L604.4,321.8 L604.9,321.9 L605.5,322.0 L606.0,322.0 L606.5,322.1 L607.0,322.2 L607.6,322.2 L608.1,322.3 L608.6,322.4 L609.2,322.4 L609.7,322.5 L610.2,322.5 L610.7,322.6 L611.3,322.6 L611.8,322.7 L612.3,322.7 L612.9,322.7 L613.4,322.8 L613.9,322.8 L614.4,322.8 L615.0,322.9 L615.5,322.9 L616.0,322.9 L616.6,322.9 L617.1,323.0 L617.6,323.0 L618.1,323.0 L618.7,323.0 L619.2,323.0 L619.7,323.1 L620.3,323.1 L620.8,323.1 L621.3,323.1 L621.8,323.1 L622.4,323.1 L622.9,323.1 L623.4,323.2 L624.0,323.2 L624.5,323.2 L625.0,323.2 L625.6,323.2 L626.1,323.2 L626.6,323.2 L627.1,323.2 L627.7,323.2 L628.2,323.2 L628.7,323.2 L629.3,323.2 L629.8,323.2 L630.3,323.2 L630.8,323.1 L631.4,323.1 L631.9,323.1 L632.4,323.1 L633.0,323.1 L633.5,323.0 L634.0,323.0 L634.5,323.0 L635.1,322.9 L635.6,322.9 L636.1,322.8 L636.7,322.8 L637.2,322.7 L637.7,322.6 L638.2,322.6 L638.8,322.5 L639.3,322.4 L639.8,322.3 L640.4,322.2 L640.9,322.1 L641.4,322.0 L642.0,321.9 L642.5,321.8 L643.0,321.6 L643.5,321.5 L644.1,321.3 L644.6,321.1 L645.1,321.0" fill="none" stroke="#2d40f0" stroke-width="1.75" stroke-linejoin="round" stroke-linecap="round"/>
<path d="M529.3,252.8 L529.8,252.7 L530.3,252.6 L530.9,252.6 L531.4,252.5 L531.9,252.5 L532.4,252.4 L533.0,252.4 L533.5,252.3 L534.0,252.3 L534.6,252.3 L535.1,252.2 L535.6,252.2 L536.2,252.2 L536.7,252.1 L537.2,252.1 L537.7,252.1 L538.3,252.0 L538.8,252.0 L539.3,252.0 L539.9,252.0 L540.4,252.0 L540.9,252.0 L541.4,252.0 L542.0,252.0 L542.5,252.0 L543.0,252.1 L543.6,252.1 L544.1,252.1 L544.6,252.2 L545.1,252.2 L545.7,252.3 L546.2,252.4 L546.7,252.5 L547.3,252.6 L547.8,252.7 L548.3,252.8 L548.8,252.9 L549.4,253.1 L549.9,253.3 L550.4,253.4 L551.0,253.6 L551.5,253.9 L552.0,254.1 L552.6,254.3 L553.1,254.6 L553.6,254.9 L554.1,255.2 L554.7,255.5 L555.2,255.9 L555.7,256.3 L556.3,256.7 L556.8,257.1 L557.3,257.5 L557.8,258.0 L558.4,258.5 L558.9,259.0 L559.4,259.6 L560.0,260.1 L560.5,260.7 L561.0,261.4 L561.5,262.0 L562.1,262.7 L562.6,263.5 L563.1,264.2 L563.7,265.0 L564.2,265.8 L564.7,266.6 L565.2,267.5 L565.8,268.3 L566.3,269.3 L566.8,270.2 L567.4,271.2 L567.9,272.1 L568.4,273.1 L568.9,274.2 L569.5,275.2 L570.0,276.3 L570.5,277.4 L571.1,278.6 L571.6,279.7 L572.1,280.9 L572.7,282.0 L573.2,283.2 L573.7,284.4 L574.2,285.6 L574.8,286.8 L575.3,288.0 L575.8,289.2 L576.4,290.4 L576.9,291.6 L577.4,292.7 L577.9,293.9 L578.5,295.0 L579.0,296.2 L579.5,297.3 L580.1,298.3 L580.6,299.4 L581.1,300.4 L581.6,301.4 L582.2,302.4 L582.7,303.3 L583.2,304.3 L583.8,305.2 L584.3,306.0 L584.8,306.9 L585.3,307.7 L585.9,308.5 L586.4,309.2 L586.9,310.0 L587.5,310.7 L588.0,311.3 L588.5,312.0 L589.1,312.6 L589.6,313.2 L590.1,313.8 L590.6,314.3 L591.2,314.8 L591.7,315.3 L592.2,315.7 L592.8,316.1 L593.3,316.5 L593.8,316.9 L594.3,317.3 L594.9,317.6 L595.4,317.9 L595.9,318.2 L596.5,318.5 L597.0,318.8 L597.5,319.0 L598.0,319.2 L598.6,319.4 L599.1,319.6 L599.6,319.8 L600.2,320.0 L600.7,320.2 L601.2,320.3 L601.7,320.5 L602.3,320.6 L602.8,320.8 L603.3,320.9 L603.9,321.0 L604.4,321.1 L604.9,321.2 L605.5,321.3 L606.0,321.4 L606.5,321.5 L607.0,321.6 L607.6,321.7 L608.1,321.8 L608.6,321.9 L609.2,321.9 L609.7,322.0 L610.2,322.1 L610.7,322.1 L611.3,322.2 L611.8,322.3 L612.3,322.3 L612.9,322.4 L613.4,322.4 L613.9,322.5 L614.4,322.5 L615.0,322.5 L615.5,322.6 L616.0,322.6 L616.6,322.7 L617.1,322.7 L617.6,322.7 L618.1,322.8 L618.7,322.8 L619.2,322.8 L619.7,322.9 L620.3,322.9 L620.8,322.9 L621.3,322.9 L621.8,323.0 L622.4,323.0 L622.9,323.0 L623.4,323.1 L624.0,323.1 L624.5,323.1 L625.0,323.1 L625.6,323.1 L626.1,323.2 L626.6,323.2 L627.1,323.2 L627.7,323.2 L628.2,323.3 L628.7,323.3 L629.3,323.3 L629.8,323.3 L630.3,323.3 L630.8,323.3 L631.4,323.4 L631.9,323.4 L632.4,323.4 L633.0,323.4 L633.5,323.4 L634.0,323.4 L634.5,323.5 L635.1,323.5 L635.6,323.5 L636.1,323.5 L636.7,323.5 L637.2,323.5 L637.7,323.5 L638.2,323.6 L638.8,323.6 L639.3,323.6 L639.8,323.6 L640.4,323.6 L640.9,323.6 L641.4,323.6 L642.0,323.6 L642.5,323.7 L643.0,323.7 L643.5,323.7 L644.1,323.7 L644.6,323.7 L645.1,323.7" fill="none" stroke="#7a1fd6" stroke-width="1.75" stroke-linejoin="round" stroke-linecap="round"/>
</g>
<line x1="556.4" y1="153.4" x2="556.4" y2="188.5" stroke="#555" stroke-width="1.3" stroke-dasharray="3,2"/>
<line x1="562.1" y1="153.4" x2="562.1" y2="188.5" stroke="#555" stroke-width="1.3" stroke-dasharray="3,2"/>
<text x="348.5" y="22.6" font-size="13" text-anchor="start" fill="#000" font-weight="normal" font-style="normal">x=0</text>
<line x1="417.7" y1="66.8" x2="417.7" y2="48.3" stroke="#000" stroke-width="1.4"/>
<path d="M413.6,53.8 L417.7,48.0 L421.8,53.8" fill="none" stroke="#000" stroke-width="1.4" stroke-linejoin="miter"/>
<text x="401.3" y="80.5" font-size="12.5" font-style="italic" textLength="57" lengthAdjust="spacingAndGlyphs">T<tspan font-style="normal" font-size="9" dx="0.3" dy="3.5">O-T</tspan><tspan font-style="normal" font-size="12.5" dy="-3.5">~65°C</tspan></text>
<text x="530.6" y="22.6" font-size="13" text-anchor="start" fill="#000" font-weight="normal" font-style="normal">x=1</text>
<line x1="600.1" y1="66.1" x2="600.1" y2="50.0" stroke="#000" stroke-width="1.4"/>
<path d="M596.0,55.5 L600.1,49.7 L604.2,55.5" fill="none" stroke="#000" stroke-width="1.4" stroke-linejoin="miter"/>
<text x="587.6" y="75.3" font-size="12.5" font-style="italic" textLength="57.6" lengthAdjust="spacingAndGlyphs">T<tspan font-style="normal" font-size="9" dx="0.3" dy="3.5">O-T</tspan><tspan font-style="normal" font-size="12.5" dy="-3.5">~65°C</tspan></text>
<line x1="567.7" y1="97.6" x2="567.7" y2="79.6" stroke="#f5142a" stroke-width="1.4"/>
<path d="M563.6,85.1 L567.7,79.3 L571.8,85.1" fill="none" stroke="#f5142a" stroke-width="1.4" stroke-linejoin="miter"/>
<text x="544" y="107.6" font-size="11.2" text-anchor="start" fill="#f5142a" font-weight="normal" font-style="normal" textLength="99.5" lengthAdjust="spacingAndGlyphs" stroke="#f5142a" stroke-width="0.2">non-phase transition</text>
<text x="533.5" y="146.6" font-size="13" fill="#f5142a" stroke="#f5142a" stroke-width="0.2">Δ<tspan font-style="italic">T</tspan>=18°C</text>
<rect x="658.2" y="123.50" width="7.5" height="8.65" fill="#7a1fd6"/>
<rect x="658.2" y="131.85" width="7.5" height="8.65" fill="#2d40f0"/>
<rect x="658.2" y="140.20" width="7.5" height="8.65" fill="#1a9de8"/>
<rect x="658.2" y="148.55" width="7.5" height="8.65" fill="#15b9bf"/>
<rect x="658.2" y="156.90" width="7.5" height="8.65" fill="#12c98e"/>
<rect x="658.2" y="165.25" width="7.5" height="8.65" fill="#10d620"/>
<rect x="658.2" y="173.60" width="7.5" height="8.65" fill="#a2dc32"/>
<rect x="658.2" y="181.95" width="7.5" height="8.65" fill="#e6d630"/>
<rect x="658.2" y="190.30" width="7.5" height="8.65" fill="#e9b131"/>
<rect x="658.2" y="198.65" width="7.5" height="8.65" fill="#f18131"/>
<rect x="658.2" y="207.00" width="7.5" height="8.65" fill="#f24343"/>
<rect x="658.2" y="215.35" width="7.5" height="8.65" fill="#e3119b"/>
<rect x="658.2" y="123.5" width="7.5" height="100.19999999999999" fill="none" stroke="#111" stroke-width="0.9"/>
<text x="656" y="116.6" font-size="11.5">5×10<tspan font-size="8.5" dy="-4.5">5</tspan></text>
<text x="657.2" y="239.6" font-size="11.5">10<tspan font-size="8.5" dy="-4.5">2</tspan></text>
<text x="677.8" y="171.9" font-size="11" text-anchor="middle" fill="#000" font-weight="normal" font-style="normal" transform="rotate(-90 677.8 171.9)" textLength="38.4" lengthAdjust="spacingAndGlyphs">Unit: Hz</text>
<rect x="24.5" y="395.0" width="165.7" height="131.79999999999995" fill="none" stroke="#111" stroke-width="1.5"/>
<line x1="66.3" y1="526.8" x2="66.3" y2="522.0" stroke="#111" stroke-width="1.5"/>
<line x1="148.8" y1="526.8" x2="148.8" y2="522.0" stroke="#111" stroke-width="1.5"/>
<text x="66.3" y="542.4" font-size="13" text-anchor="middle" fill="#000" font-weight="normal" font-style="normal">45</text>
<text x="148.8" y="542.4" font-size="13" text-anchor="middle" fill="#000" font-weight="normal" font-style="normal">46</text>
<text x="107.55" y="559" font-size="13" text-anchor="middle">2<tspan font-style="italic" >θ</tspan> (degree)</text>
<text x="15.3" y="460.9" font-size="13" text-anchor="middle" fill="#000" font-weight="normal" font-style="normal" transform="rotate(-90 15.3 460.9)" textLength="84.5" lengthAdjust="spacingAndGlyphs">Intensity (a.u.)</text>
<g fill="none" stroke="#222" stroke-width="0.9" clip-path="url(#c_e)">
<circle cx="25.0" cy="502.0" r="2.45"/>
<circle cx="26.4" cy="501.8" r="2.45"/>
<circle cx="27.8" cy="502.7" r="2.45"/>
<circle cx="29.2" cy="502.0" r="2.45"/>
<circle cx="30.6" cy="501.8" r="2.45"/>
<circle cx="32.0" cy="502.5" r="2.45"/>
<circle cx="33.4" cy="502.3" r="2.45"/>
<circle cx="34.9" cy="500.7" r="2.45"/>
<circle cx="36.3" cy="501.6" r="2.45"/>
<circle cx="37.7" cy="502.0" r="2.45"/>
<circle cx="39.1" cy="501.9" r="2.45"/>
<circle cx="40.5" cy="501.2" r="2.45"/>
<circle cx="41.9" cy="502.0" r="2.45"/>
<circle cx="43.3" cy="500.8" r="2.45"/>
<circle cx="44.7" cy="500.8" r="2.45"/>
<circle cx="46.1" cy="500.7" r="2.45"/>
<circle cx="47.5" cy="500.3" r="2.45"/>
<circle cx="48.9" cy="500.4" r="2.45"/>
<circle cx="50.3" cy="500.2" r="2.45"/>
<circle cx="51.7" cy="499.4" r="2.45"/>
<circle cx="53.2" cy="499.7" r="2.45"/>
<circle cx="54.6" cy="498.4" r="2.45"/>
<circle cx="56.0" cy="498.2" r="2.45"/>
<circle cx="57.4" cy="498.6" r="2.45"/>
<circle cx="58.8" cy="497.4" r="2.45"/>
<circle cx="60.2" cy="497.2" r="2.45"/>
<circle cx="61.6" cy="495.8" r="2.45"/>
<circle cx="63.0" cy="495.1" r="2.45"/>
<circle cx="64.4" cy="494.2" r="2.45"/>
<circle cx="65.8" cy="493.2" r="2.45"/>
<circle cx="67.2" cy="491.7" r="2.45"/>
<circle cx="68.6" cy="490.2" r="2.45"/>
<circle cx="70.0" cy="488.4" r="2.45"/>
<circle cx="71.5" cy="486.1" r="2.45"/>
<circle cx="72.9" cy="482.0" r="2.45"/>
<circle cx="74.3" cy="477.5" r="2.45"/>
<circle cx="75.7" cy="472.4" r="2.45"/>
<circle cx="77.1" cy="466.0" r="2.45"/>
<circle cx="78.5" cy="460.1" r="2.45"/>
<circle cx="79.9" cy="458.1" r="2.45"/>
<circle cx="81.3" cy="455.9" r="2.45"/>
<circle cx="82.7" cy="453.9" r="2.45"/>
<circle cx="84.1" cy="453.5" r="2.45"/>
<circle cx="85.5" cy="453.0" r="2.45"/>
<circle cx="86.9" cy="453.3" r="2.45"/>
<circle cx="88.3" cy="454.7" r="2.45"/>
<circle cx="89.8" cy="454.7" r="2.45"/>
<circle cx="91.2" cy="456.6" r="2.45"/>
<circle cx="92.6" cy="456.9" r="2.45"/>
<circle cx="94.0" cy="458.5" r="2.45"/>
<circle cx="95.4" cy="460.3" r="2.45"/>
<circle cx="96.8" cy="461.0" r="2.45"/>
<circle cx="98.2" cy="460.2" r="2.45"/>
<circle cx="99.6" cy="460.3" r="2.45"/>
<circle cx="101.0" cy="458.4" r="2.45"/>
<circle cx="102.4" cy="457.3" r="2.45"/>
<circle cx="103.8" cy="455.9" r="2.45"/>
<circle cx="105.2" cy="453.1" r="2.45"/>
<circle cx="106.6" cy="448.1" r="2.45"/>
<circle cx="108.1" cy="444.9" r="2.45"/>
<circle cx="109.5" cy="441.7" r="2.45"/>
<circle cx="110.9" cy="438.0" r="2.45"/>
<circle cx="112.3" cy="434.9" r="2.45"/>
<circle cx="113.7" cy="432.0" r="2.45"/>
<circle cx="115.1" cy="428.7" r="2.45"/>
<circle cx="116.5" cy="427.7" r="2.45"/>
<circle cx="117.9" cy="428.5" r="2.45"/>
<circle cx="119.3" cy="429.9" r="2.45"/>
<circle cx="120.7" cy="433.2" r="2.45"/>
<circle cx="122.1" cy="436.9" r="2.45"/>
<circle cx="123.5" cy="441.8" r="2.45"/>
<circle cx="124.9" cy="447.5" r="2.45"/>
<circle cx="126.4" cy="452.9" r="2.45"/>
<circle cx="127.8" cy="459.9" r="2.45"/>
<circle cx="129.2" cy="466.8" r="2.45"/>
<circle cx="130.6" cy="472.7" r="2.45"/>
<circle cx="132.0" cy="478.2" r="2.45"/>
<circle cx="133.4" cy="483.7" r="2.45"/>
<circle cx="134.8" cy="487.3" r="2.45"/>
<circle cx="136.2" cy="488.9" r="2.45"/>
<circle cx="137.6" cy="491.6" r="2.45"/>
<circle cx="139.0" cy="492.5" r="2.45"/>
<circle cx="140.4" cy="494.3" r="2.45"/>
<circle cx="141.8" cy="495.0" r="2.45"/>
<circle cx="143.2" cy="495.6" r="2.45"/>
<circle cx="144.7" cy="497.0" r="2.45"/>
<circle cx="146.1" cy="497.7" r="2.45"/>
<circle cx="147.5" cy="498.0" r="2.45"/>
<circle cx="148.9" cy="498.5" r="2.45"/>
<circle cx="150.3" cy="498.7" r="2.45"/>
<circle cx="151.7" cy="499.5" r="2.45"/>
<circle cx="153.1" cy="499.7" r="2.45"/>
<circle cx="154.5" cy="500.5" r="2.45"/>
<circle cx="155.9" cy="500.3" r="2.45"/>
<circle cx="157.3" cy="501.2" r="2.45"/>
<circle cx="158.7" cy="501.6" r="2.45"/>
<circle cx="160.1" cy="502.1" r="2.45"/>
<circle cx="161.5" cy="502.1" r="2.45"/>
<circle cx="163.0" cy="501.8" r="2.45"/>
<circle cx="164.4" cy="501.4" r="2.45"/>
<circle cx="165.8" cy="501.0" r="2.45"/>
<circle cx="167.2" cy="501.9" r="2.45"/>
<circle cx="168.6" cy="502.6" r="2.45"/>
<circle cx="170.0" cy="502.8" r="2.45"/>
<circle cx="171.4" cy="500.9" r="2.45"/>
<circle cx="172.8" cy="501.8" r="2.45"/>
<circle cx="174.2" cy="502.0" r="2.45"/>
<circle cx="175.6" cy="501.7" r="2.45"/>
<circle cx="177.0" cy="502.3" r="2.45"/>
<circle cx="178.4" cy="502.3" r="2.45"/>
<circle cx="179.8" cy="502.1" r="2.45"/>
<circle cx="181.3" cy="502.3" r="2.45"/>
<circle cx="182.7" cy="501.6" r="2.45"/>
<circle cx="184.1" cy="501.9" r="2.45"/>
<circle cx="185.5" cy="502.0" r="2.45"/>
<circle cx="186.9" cy="502.8" r="2.45"/>
<circle cx="188.3" cy="501.7" r="2.45"/>
<circle cx="189.7" cy="502.3" r="2.45"/>
</g>
<path d="M24.8,502.2 L25.3,502.2 L25.8,502.2 L26.3,502.2 L26.8,502.2 L27.3,502.2 L27.8,502.2 L28.3,502.1 L28.8,502.1 L29.3,502.1 L29.8,502.1 L30.3,502.1 L30.8,502.1 L31.3,502.0 L31.8,502.0 L32.3,502.0 L32.8,502.0 L33.3,501.9 L33.8,501.9 L34.3,501.9 L34.8,501.9 L35.3,501.8 L35.8,501.8 L36.3,501.8 L36.8,501.7 L37.3,501.7 L37.8,501.7 L38.3,501.6 L38.9,501.6 L39.4,501.5 L39.9,501.5 L40.4,501.5 L40.9,501.4 L41.4,501.4 L41.9,501.3 L42.4,501.3 L42.9,501.2 L43.4,501.1 L43.9,501.0 L44.4,500.9 L44.9,500.9 L45.4,500.8 L45.9,500.7 L46.4,500.6 L46.9,500.5 L47.4,500.4 L47.9,500.3 L48.4,500.2 L48.9,500.1 L49.4,499.9 L49.9,499.8 L50.4,499.7 L50.9,499.6 L51.4,499.5 L51.9,499.4 L52.4,499.3 L52.9,499.1 L53.4,499.0 L53.9,498.9 L54.4,498.7 L54.9,498.6 L55.4,498.5 L55.9,498.3 L56.4,498.1 L56.9,498.0 L57.4,497.8 L57.9,497.6 L58.4,497.4 L58.9,497.3 L59.4,497.0 L59.9,496.8 L60.4,496.6 L60.9,496.4 L61.4,496.1 L61.9,495.8 L62.4,495.5 L62.9,495.2 L63.4,494.9 L63.9,494.6 L64.4,494.2 L64.9,493.8 L65.4,493.4 L65.9,493.0 L66.5,492.6 L67.0,492.1 L67.5,491.6 L68.0,491.0 L68.5,490.4 L69.0,489.7 L69.5,489.0 L70.0,488.3 L70.5,487.5 L71.0,486.6 L71.5,485.8 L72.0,484.8 L72.5,483.6 L73.0,482.3 L73.5,481.0 L74.0,479.5 L74.5,477.9 L75.0,476.4 L75.5,474.8 L76.0,473.2 L76.5,471.7 L77.0,470.2 L77.5,468.6 L78.0,467.0 L78.5,465.2 L79.0,463.5 L79.5,461.9 L80.0,460.4 L80.5,459.1 L81.0,458.0 L81.5,457.2 L82.0,456.5 L82.5,455.8 L83.0,455.1 L83.5,454.6 L84.0,454.1 L84.5,453.7 L85.0,453.4 L85.5,453.3 L86.0,453.3 L86.5,453.4 L87.0,453.6 L87.5,453.9 L88.0,454.1 L88.5,454.4 L89.0,454.8 L89.5,455.1 L90.0,455.4 L90.5,455.8 L91.0,456.0 L91.5,456.4 L92.0,456.7 L92.5,457.1 L93.0,457.5 L93.5,458.0 L94.1,458.4 L94.6,458.8 L95.1,459.2 L95.6,459.5 L96.1,459.8 L96.6,460.0 L97.1,460.2 L97.6,460.3 L98.1,460.3 L98.6,460.2 L99.1,460.0 L99.6,459.8 L100.1,459.5 L100.6,459.2 L101.1,458.8 L101.6,458.3 L102.1,457.8 L102.6,457.3 L103.1,456.8 L103.6,456.1 L104.1,455.2 L104.6,454.0 L105.1,452.7 L105.6,451.2 L106.1,449.6 L106.6,448.0 L107.1,446.4 L107.6,444.8 L108.1,443.3 L108.6,442.0 L109.1,440.5 L109.6,439.0 L110.1,437.4 L110.6,435.8 L111.1,434.3 L111.6,432.9 L112.1,431.6 L112.6,430.4 L113.1,429.5 L113.6,428.8 L114.1,428.2 L114.6,427.7 L115.1,427.4 L115.6,427.5 L116.1,427.8 L116.6,428.4 L117.1,429.2 L117.6,430.0 L118.1,431.0 L118.6,432.0 L119.1,433.0 L119.6,434.2 L120.1,435.6 L120.6,437.2 L121.2,438.9 L121.7,440.6 L122.2,442.5 L122.7,444.4 L123.2,446.3 L123.7,448.2 L124.2,450.0 L124.7,451.9 L125.2,453.9 L125.7,456.0 L126.2,458.2 L126.7,460.3 L127.2,462.4 L127.7,464.6 L128.2,466.6 L128.7,468.6 L129.2,470.4 L129.7,472.1 L130.2,473.9 L130.7,475.6 L131.2,477.3 L131.7,479.0 L132.2,480.5 L132.7,482.0 L133.2,483.4 L133.7,484.7 L134.2,485.8 L134.7,486.8 L135.2,487.6 L135.7,488.5 L136.2,489.3 L136.7,490.0 L137.2,490.8 L137.7,491.4 L138.2,492.1 L138.7,492.7 L139.2,493.2 L139.7,493.8 L140.2,494.2 L140.7,494.7 L141.2,495.0 L141.7,495.4 L142.2,495.7 L142.7,496.0 L143.2,496.3 L143.7,496.5 L144.2,496.8 L144.7,497.1 L145.2,497.3 L145.7,497.5 L146.2,497.7 L146.7,497.9 L147.2,498.1 L147.7,498.3 L148.2,498.5 L148.8,498.7 L149.3,498.8 L149.8,499.0 L150.3,499.1 L150.8,499.3 L151.3,499.5 L151.8,499.6 L152.3,499.7 L152.8,499.9 L153.3,500.0 L153.8,500.2 L154.3,500.3 L154.8,500.5 L155.3,500.6 L155.8,500.8 L156.3,500.9 L156.8,501.0 L157.3,501.1 L157.8,501.2 L158.3,501.3 L158.8,501.4 L159.3,501.4 L159.8,501.5 L160.3,501.5 L160.8,501.5 L161.3,501.6 L161.8,501.6 L162.3,501.6 L162.8,501.7 L163.3,501.7 L163.8,501.7 L164.3,501.7 L164.8,501.8 L165.3,501.8 L165.8,501.8 L166.3,501.8 L166.8,501.9 L167.3,501.9 L167.8,501.9 L168.3,501.9 L168.8,502.0 L169.3,502.0 L169.8,502.0 L170.3,502.0 L170.8,502.0 L171.3,502.1 L171.8,502.1 L172.3,502.1 L172.8,502.1 L173.3,502.1 L173.8,502.1 L174.3,502.2 L174.8,502.2 L175.3,502.2 L175.8,502.2 L176.4,502.2 L176.9,502.2 L177.4,502.2 L177.9,502.3 L178.4,502.3 L178.9,502.3 L179.4,502.3 L179.9,502.3 L180.4,502.3 L180.9,502.3 L181.4,502.3 L181.9,502.3 L182.4,502.3 L182.9,502.4 L183.4,502.4 L183.9,502.4 L184.4,502.4 L184.9,502.4 L185.4,502.4 L185.9,502.4 L186.4,502.4 L186.9,502.4 L187.4,502.4 L187.9,502.4 L188.4,502.4 L188.9,502.4 L189.4,502.4 L189.9,502.4" fill="none" stroke="#e8281f" stroke-width="1.8" stroke-linejoin="round" stroke-linecap="round"/>
<path d="M24.8,517.7 L25.3,517.4 L25.8,517.7 L26.3,517.1 L26.8,517.6 L27.3,517.8 L27.8,518.3 L28.3,517.7 L28.8,518.0 L29.3,517.4 L29.8,517.4 L30.3,518.0 L30.8,517.6 L31.3,518.0 L31.8,517.7 L32.3,518.3 L32.8,518.4 L33.3,517.1 L33.8,518.1 L34.3,517.6 L34.8,517.6 L35.3,517.4 L35.8,517.7 L36.3,517.0 L36.8,517.1 L37.3,517.1 L37.8,517.5 L38.3,517.8 L38.9,517.7 L39.4,517.6 L39.9,517.2 L40.4,516.7 L40.9,517.6 L41.4,517.5 L41.9,517.6 L42.4,518.0 L42.9,517.3 L43.4,517.3 L43.9,516.5 L44.4,517.6 L44.9,517.4 L45.4,517.1 L45.9,517.6 L46.4,517.0 L46.9,517.2 L47.4,518.2 L47.9,517.7 L48.4,517.8 L48.9,517.7 L49.4,517.7 L49.9,517.5 L50.4,518.3 L50.9,517.4 L51.4,517.7 L51.9,517.3 L52.4,517.3 L52.9,516.4 L53.4,516.6 L53.9,518.0 L54.4,518.0 L54.9,517.2 L55.4,517.4 L55.9,517.7 L56.4,517.0 L56.9,518.1 L57.4,517.0 L57.9,517.1 L58.4,516.3 L58.9,518.0 L59.4,517.4 L59.9,518.1 L60.4,517.0 L60.9,517.5 L61.4,517.4 L61.9,517.4 L62.4,518.2 L62.9,518.2 L63.4,517.8 L63.9,517.1 L64.4,517.6 L64.9,517.7 L65.4,517.3 L65.9,517.3 L66.5,517.2 L67.0,516.6 L67.5,517.0 L68.0,517.4 L68.5,516.3 L69.0,516.7 L69.5,516.9 L70.0,516.0 L70.5,516.4 L71.0,515.6 L71.5,515.8 L72.0,515.3 L72.5,515.2 L73.0,515.1 L73.5,514.9 L74.0,514.7 L74.5,513.5 L75.0,514.9 L75.5,513.9 L76.0,513.3 L76.5,513.3 L77.0,513.5 L77.5,512.9 L78.0,513.1 L78.5,513.2 L79.0,513.9 L79.5,513.8 L80.0,514.9 L80.5,515.4 L81.0,515.8 L81.5,517.0 L82.0,517.0 L82.5,517.1 L83.0,518.2 L83.5,518.8 L84.0,519.3 L84.5,520.0 L85.0,521.3 L85.5,520.9 L86.0,521.2 L86.5,520.9 L87.0,521.2 L87.5,520.2 L88.0,519.3 L88.5,518.5 L89.0,518.6 L89.5,518.2 L90.0,516.8 L90.5,516.9 L91.0,517.2 L91.5,517.0 L92.0,515.8 L92.5,516.0 L93.0,516.2 L93.5,515.5 L94.1,515.4 L94.6,515.3 L95.1,515.0 L95.6,515.5 L96.1,515.7 L96.6,515.1 L97.1,515.8 L97.6,516.3 L98.1,516.0 L98.6,516.5 L99.1,516.0 L99.6,516.9 L100.1,516.2 L100.6,517.5 L101.1,516.8 L101.6,517.0 L102.1,517.3 L102.6,517.9 L103.1,518.3 L103.6,518.7 L104.1,519.2 L104.6,520.0 L105.1,520.4 L105.6,520.3 L106.1,521.3 L106.6,520.8 L107.1,521.2 L107.6,521.6 L108.1,522.6 L108.6,522.0 L109.1,522.3 L109.6,523.5 L110.1,523.7 L110.6,523.3 L111.1,521.7 L111.6,521.6 L112.1,521.2 L112.6,520.1 L113.1,518.6 L113.6,518.4 L114.1,517.2 L114.6,516.6 L115.1,517.2 L115.6,515.7 L116.1,513.9 L116.6,513.0 L117.1,513.0 L117.6,511.8 L118.1,511.6 L118.6,510.6 L119.1,510.5 L119.6,510.6 L120.1,510.3 L120.6,510.3 L121.2,511.3 L121.7,512.3 L122.2,513.3 L122.7,514.3 L123.2,515.1 L123.7,516.1 L124.2,516.1 L124.7,517.4 L125.2,517.8 L125.7,517.0 L126.2,516.7 L126.7,516.8 L127.2,516.2 L127.7,515.6 L128.2,515.0 L128.7,514.5 L129.2,514.1 L129.7,514.7 L130.2,514.9 L130.7,514.3 L131.2,515.1 L131.7,515.6 L132.2,515.8 L132.7,516.0 L133.2,516.4 L133.7,516.0 L134.2,517.0 L134.7,517.1 L135.2,518.3 L135.7,518.0 L136.2,517.7 L136.7,517.9 L137.2,518.7 L137.7,518.6 L138.2,518.1 L138.7,517.9 L139.2,517.3 L139.7,517.7 L140.2,517.8 L140.7,517.5 L141.2,518.4 L141.7,516.9 L142.2,517.5 L142.7,517.7 L143.2,517.7 L143.7,518.1 L144.2,516.9 L144.7,517.1 L145.2,517.4 L145.7,517.4 L146.2,517.2 L146.7,517.1 L147.2,517.8 L147.7,517.0 L148.2,517.2 L148.8,518.0 L149.3,518.1 L149.8,517.7 L150.3,517.0 L150.8,517.1 L151.3,517.0 L151.8,516.9 L152.3,517.2 L152.8,517.9 L153.3,517.5 L153.8,517.1 L154.3,517.1 L154.8,516.9 L155.3,517.9 L155.8,516.6 L156.3,517.5 L156.8,516.8 L157.3,517.0 L157.8,516.8 L158.3,517.8 L158.8,517.4 L159.3,518.5 L159.8,517.0 L160.3,517.0 L160.8,517.6 L161.3,517.6 L161.8,517.3 L162.3,516.6 L162.8,518.0 L163.3,517.6 L163.8,517.5 L164.3,517.1 L164.8,517.6 L165.3,517.2 L165.8,517.4 L166.3,517.3 L166.8,517.9 L167.3,517.2 L167.8,517.2 L168.3,517.8 L168.8,517.5 L169.3,517.4 L169.8,517.3 L170.3,517.8 L170.8,517.1 L171.3,517.6 L171.8,518.2 L172.3,517.5 L172.8,517.1 L173.3,516.9 L173.8,517.4 L174.3,516.9 L174.8,516.7 L175.3,517.1 L175.8,516.9 L176.4,517.7 L176.9,516.8 L177.4,518.0 L177.9,517.1 L178.4,517.4 L178.9,517.6 L179.4,517.5 L179.9,517.7 L180.4,517.0 L180.9,516.5 L181.4,517.3 L181.9,516.7 L182.4,517.1 L182.9,517.7 L183.4,517.3 L183.9,517.1 L184.4,516.9 L184.9,517.3 L185.4,517.3 L185.9,516.7 L186.4,517.5 L186.9,516.9 L187.4,517.5 L187.9,517.2 L188.4,517.8 L188.9,517.7 L189.4,517.4 L189.9,517.3" fill="none" stroke="#2a6fdb" stroke-width="1.7" stroke-linejoin="round" stroke-linecap="round"/>
<circle cx="157.99999999999997" cy="443.3" r="2.7" fill="none" stroke="#333" stroke-width="0.9"/>
<text x="164.29999999999998" y="447.5" font-size="13" text-anchor="start" fill="#000" font-weight="normal" font-style="normal">obs</text>
<line x1="153.79999999999998" y1="457.6" x2="162.29999999999998" y2="457.6" stroke="#e8281f" stroke-width="1.8"/>
<text x="164.29999999999998" y="462.0" font-size="13" text-anchor="start" fill="#000" font-weight="normal" font-style="normal">cal</text>
<line x1="153.79999999999998" y1="471.9" x2="162.29999999999998" y2="471.9" stroke="#2a6fdb" stroke-width="1.8"/>
<text x="164.29999999999998" y="476.3" font-size="13" text-anchor="start" fill="#000" font-weight="normal" font-style="normal">diff</text>
<text x="30.0" y="413.0" font-size="13" text-anchor="start" fill="#000" font-weight="normal" font-style="normal">x=0</text>
<rect x="79.9" y="398.9" width="44.3" height="14.9" fill="#f5a04a"/>
<rect x="124.2" y="398.9" width="30.8" height="14.9" fill="#5cc85c"/>
<text x="68.0" y="412.8" font-size="13" text-anchor="start" fill="#f5a04a" font-weight="normal" font-style="normal" stroke="#f5a04a" stroke-width="0.35">O</text>
<text x="157.6" y="412.8" font-size="13" text-anchor="start" fill="#5cc85c" font-weight="normal" font-style="normal" stroke="#5cc85c" stroke-width="0.35">T</text>
<text x="102.0" y="411.6" font-size="11.5" text-anchor="middle" fill="#000" font-weight="normal" font-style="normal">59.6%</text>
<text x="139.6" y="411.6" font-size="11.5" text-anchor="middle" fill="#000" font-weight="normal" font-style="normal" textLength="29.5" lengthAdjust="spacingAndGlyphs">40.4%</text>
<text x="-0.5" y="402" font-size="13" text-anchor="start" fill="#000" font-weight="bold" font-style="normal">(e)</text>
<rect x="234.0" y="395.0" width="165.8" height="131.79999999999995" fill="none" stroke="#111" stroke-width="1.5"/>
<line x1="275.5" y1="526.8" x2="275.5" y2="522.0" stroke="#111" stroke-width="1.5"/>
<line x1="358.0" y1="526.8" x2="358.0" y2="522.0" stroke="#111" stroke-width="1.5"/>
<text x="275.5" y="542.4" font-size="13" text-anchor="middle" fill="#000" font-weight="normal" font-style="normal">45</text>
<text x="358.0" y="542.4" font-size="13" text-anchor="middle" fill="#000" font-weight="normal" font-style="normal">46</text>
<text x="317.09999999999997" y="559" font-size="13" text-anchor="middle">2<tspan font-style="italic" >θ</tspan> (degree)</text>
<text x="224.8" y="460.9" font-size="13" text-anchor="middle" fill="#000" font-weight="normal" font-style="normal" transform="rotate(-90 224.8 460.9)" textLength="84.5" lengthAdjust="spacingAndGlyphs">Intensity (a.u.)</text>
<g fill="none" stroke="#222" stroke-width="0.9" clip-path="url(#c_f)">
<circle cx="234.5" cy="502.4" r="2.45"/>
<circle cx="235.9" cy="502.8" r="2.45"/>
<circle cx="237.3" cy="502.6" r="2.45"/>
<circle cx="238.7" cy="502.2" r="2.45"/>
<circle cx="240.1" cy="502.2" r="2.45"/>
<circle cx="241.5" cy="502.7" r="2.45"/>
<circle cx="243.0" cy="501.2" r="2.45"/>
<circle cx="244.4" cy="502.1" r="2.45"/>
<circle cx="245.8" cy="501.4" r="2.45"/>
<circle cx="247.2" cy="502.4" r="2.45"/>
<circle cx="248.6" cy="501.4" r="2.45"/>
<circle cx="250.0" cy="501.5" r="2.45"/>
<circle cx="251.4" cy="501.0" r="2.45"/>
<circle cx="252.8" cy="501.3" r="2.45"/>
<circle cx="254.2" cy="501.5" r="2.45"/>
<circle cx="255.6" cy="501.7" r="2.45"/>
<circle cx="257.0" cy="500.1" r="2.45"/>
<circle cx="258.4" cy="500.2" r="2.45"/>
<circle cx="259.9" cy="501.9" r="2.45"/>
<circle cx="261.3" cy="500.3" r="2.45"/>
<circle cx="262.7" cy="499.5" r="2.45"/>
<circle cx="264.1" cy="499.4" r="2.45"/>
<circle cx="265.5" cy="497.6" r="2.45"/>
<circle cx="266.9" cy="499.1" r="2.45"/>
<circle cx="268.3" cy="497.9" r="2.45"/>
<circle cx="269.7" cy="496.6" r="2.45"/>
<circle cx="271.1" cy="497.1" r="2.45"/>
<circle cx="272.5" cy="495.5" r="2.45"/>
<circle cx="273.9" cy="494.5" r="2.45"/>
<circle cx="275.3" cy="494.0" r="2.45"/>
<circle cx="276.8" cy="492.5" r="2.45"/>
<circle cx="278.2" cy="490.3" r="2.45"/>
<circle cx="279.6" cy="488.4" r="2.45"/>
<circle cx="281.0" cy="485.4" r="2.45"/>
<circle cx="282.4" cy="482.5" r="2.45"/>
<circle cx="283.8" cy="479.5" r="2.45"/>
<circle cx="285.2" cy="474.7" r="2.45"/>
<circle cx="286.6" cy="469.3" r="2.45"/>
<circle cx="288.0" cy="464.7" r="2.45"/>
<circle cx="289.4" cy="459.9" r="2.45"/>
<circle cx="290.8" cy="457.1" r="2.45"/>
<circle cx="292.3" cy="455.2" r="2.45"/>
<circle cx="293.7" cy="455.2" r="2.45"/>
<circle cx="295.1" cy="453.3" r="2.45"/>
<circle cx="296.5" cy="453.5" r="2.45"/>
<circle cx="297.9" cy="453.4" r="2.45"/>
<circle cx="299.3" cy="453.2" r="2.45"/>
<circle cx="300.7" cy="455.2" r="2.45"/>
<circle cx="302.1" cy="454.6" r="2.45"/>
<circle cx="303.5" cy="454.9" r="2.45"/>
<circle cx="304.9" cy="455.9" r="2.45"/>
<circle cx="306.3" cy="456.1" r="2.45"/>
<circle cx="307.7" cy="456.8" r="2.45"/>
<circle cx="309.2" cy="456.4" r="2.45"/>
<circle cx="310.6" cy="455.9" r="2.45"/>
<circle cx="312.0" cy="453.8" r="2.45"/>
<circle cx="313.4" cy="450.8" r="2.45"/>
<circle cx="314.8" cy="449.4" r="2.45"/>
<circle cx="316.2" cy="445.9" r="2.45"/>
<circle cx="317.6" cy="442.0" r="2.45"/>
<circle cx="319.0" cy="439.4" r="2.45"/>
<circle cx="320.4" cy="436.2" r="2.45"/>
<circle cx="321.8" cy="432.6" r="2.45"/>
<circle cx="323.2" cy="425.8" r="2.45"/>
<circle cx="324.6" cy="422.1" r="2.45"/>
<circle cx="326.1" cy="420.8" r="2.45"/>
<circle cx="327.5" cy="422.6" r="2.45"/>
<circle cx="328.9" cy="424.6" r="2.45"/>
<circle cx="330.3" cy="427.8" r="2.45"/>
<circle cx="331.7" cy="433.4" r="2.45"/>
<circle cx="333.1" cy="439.8" r="2.45"/>
<circle cx="334.5" cy="447.0" r="2.45"/>
<circle cx="335.9" cy="455.4" r="2.45"/>
<circle cx="337.3" cy="462.9" r="2.45"/>
<circle cx="338.7" cy="470.3" r="2.45"/>
<circle cx="340.1" cy="476.7" r="2.45"/>
<circle cx="341.5" cy="482.1" r="2.45"/>
<circle cx="343.0" cy="487.3" r="2.45"/>
<circle cx="344.4" cy="489.6" r="2.45"/>
<circle cx="345.8" cy="491.7" r="2.45"/>
<circle cx="347.2" cy="493.8" r="2.45"/>
<circle cx="348.6" cy="495.1" r="2.45"/>
<circle cx="350.0" cy="496.0" r="2.45"/>
<circle cx="351.4" cy="497.0" r="2.45"/>
<circle cx="352.8" cy="497.3" r="2.45"/>
<circle cx="354.2" cy="498.0" r="2.45"/>
<circle cx="355.6" cy="498.9" r="2.45"/>
<circle cx="357.0" cy="499.7" r="2.45"/>
<circle cx="358.5" cy="499.5" r="2.45"/>
<circle cx="359.9" cy="500.4" r="2.45"/>
<circle cx="361.3" cy="501.2" r="2.45"/>
<circle cx="362.7" cy="501.6" r="2.45"/>
<circle cx="364.1" cy="500.9" r="2.45"/>
<circle cx="365.5" cy="501.6" r="2.45"/>
<circle cx="366.9" cy="501.6" r="2.45"/>
<circle cx="368.3" cy="501.9" r="2.45"/>
<circle cx="369.7" cy="502.0" r="2.45"/>
<circle cx="371.1" cy="501.9" r="2.45"/>
<circle cx="372.5" cy="502.1" r="2.45"/>
<circle cx="373.9" cy="501.9" r="2.45"/>
<circle cx="375.4" cy="501.7" r="2.45"/>
<circle cx="376.8" cy="502.0" r="2.45"/>
<circle cx="378.2" cy="502.2" r="2.45"/>
<circle cx="379.6" cy="502.6" r="2.45"/>
<circle cx="381.0" cy="502.2" r="2.45"/>
<circle cx="382.4" cy="502.4" r="2.45"/>
<circle cx="383.8" cy="502.8" r="2.45"/>
<circle cx="385.2" cy="501.7" r="2.45"/>
<circle cx="386.6" cy="502.1" r="2.45"/>
<circle cx="388.0" cy="502.5" r="2.45"/>
<circle cx="389.4" cy="502.3" r="2.45"/>
<circle cx="390.8" cy="501.8" r="2.45"/>
<circle cx="392.3" cy="502.7" r="2.45"/>
<circle cx="393.7" cy="502.3" r="2.45"/>
<circle cx="395.1" cy="501.9" r="2.45"/>
<circle cx="396.5" cy="503.2" r="2.45"/>
<circle cx="397.9" cy="501.7" r="2.45"/>
<circle cx="399.3" cy="502.3" r="2.45"/>
</g>
<path d="M234.3,502.2 L234.8,502.2 L235.3,502.2 L235.8,502.2 L236.3,502.2 L236.8,502.2 L237.3,502.2 L237.8,502.2 L238.3,502.1 L238.8,502.1 L239.3,502.1 L239.8,502.1 L240.3,502.1 L240.8,502.1 L241.3,502.1 L241.8,502.0 L242.3,502.0 L242.8,502.0 L243.3,502.0 L243.8,501.9 L244.3,501.9 L244.8,501.9 L245.3,501.9 L245.8,501.8 L246.4,501.8 L246.9,501.8 L247.4,501.8 L247.9,501.7 L248.4,501.7 L248.9,501.7 L249.4,501.6 L249.9,501.6 L250.4,501.6 L250.9,501.5 L251.4,501.5 L251.9,501.4 L252.4,501.4 L252.9,501.3 L253.4,501.3 L253.9,501.2 L254.4,501.1 L254.9,501.1 L255.4,501.0 L255.9,500.9 L256.4,500.8 L256.9,500.7 L257.4,500.6 L257.9,500.6 L258.4,500.5 L258.9,500.4 L259.4,500.3 L259.9,500.1 L260.4,500.0 L260.9,499.9 L261.4,499.8 L261.9,499.7 L262.4,499.6 L262.9,499.5 L263.4,499.3 L263.9,499.2 L264.4,499.1 L264.9,498.9 L265.4,498.8 L265.9,498.6 L266.4,498.5 L266.9,498.3 L267.4,498.1 L267.9,498.0 L268.4,497.8 L268.9,497.6 L269.4,497.3 L270.0,497.1 L270.5,496.9 L271.0,496.7 L271.5,496.4 L272.0,496.1 L272.5,495.9 L273.0,495.6 L273.5,495.3 L274.0,494.9 L274.5,494.5 L275.0,494.1 L275.5,493.7 L276.0,493.2 L276.5,492.6 L277.0,492.0 L277.5,491.4 L278.0,490.8 L278.5,490.1 L279.0,489.4 L279.5,488.7 L280.0,487.9 L280.5,487.1 L281.0,486.3 L281.5,485.5 L282.0,484.6 L282.5,483.7 L283.0,482.6 L283.5,481.4 L284.0,480.1 L284.5,478.7 L285.0,477.3 L285.5,475.8 L286.0,474.3 L286.5,472.8 L287.0,471.3 L287.5,469.9 L288.0,468.5 L288.5,467.2 L289.0,465.8 L289.5,464.3 L290.0,462.8 L290.5,461.4 L291.0,460.0 L291.5,458.8 L292.0,457.8 L292.5,457.0 L293.0,456.3 L293.6,455.7 L294.1,455.1 L294.6,454.6 L295.1,454.1 L295.6,453.8 L296.1,453.5 L296.6,453.3 L297.1,453.3 L297.6,453.3 L298.1,453.4 L298.6,453.5 L299.1,453.7 L299.6,453.9 L300.1,454.0 L300.6,454.2 L301.1,454.4 L301.6,454.6 L302.1,454.8 L302.6,454.9 L303.1,455.1 L303.6,455.3 L304.1,455.5 L304.6,455.7 L305.1,456.0 L305.6,456.2 L306.1,456.4 L306.6,456.5 L307.1,456.7 L307.6,456.8 L308.1,456.9 L308.6,456.9 L309.1,456.8 L309.6,456.5 L310.1,456.1 L310.6,455.6 L311.1,455.0 L311.6,454.3 L312.1,453.5 L312.6,452.7 L313.1,451.8 L313.6,450.9 L314.1,450.1 L314.6,449.1 L315.1,447.9 L315.6,446.6 L316.1,445.2 L316.6,443.7 L317.2,442.2 L317.7,440.6 L318.2,439.1 L318.7,437.5 L319.2,436.0 L319.7,434.5 L320.2,432.7 L320.7,430.7 L321.2,428.7 L321.7,426.7 L322.2,424.8 L322.7,423.2 L323.2,421.9 L323.7,421.0 L324.2,420.7 L324.7,420.8 L325.2,421.3 L325.7,421.9 L326.2,422.7 L326.7,423.7 L327.2,424.7 L327.7,425.8 L328.2,427.0 L328.7,428.5 L329.2,430.3 L329.7,432.4 L330.2,434.6 L330.7,437.0 L331.2,439.4 L331.7,441.9 L332.2,444.3 L332.7,446.7 L333.2,448.9 L333.7,451.1 L334.2,453.4 L334.7,455.8 L335.2,458.1 L335.7,460.4 L336.2,462.7 L336.7,465.0 L337.2,467.2 L337.7,469.2 L338.2,471.2 L338.7,473.1 L339.2,475.0 L339.7,476.9 L340.2,478.7 L340.8,480.6 L341.3,482.3 L341.8,483.9 L342.3,485.4 L342.8,486.8 L343.3,487.9 L343.8,488.8 L344.3,489.6 L344.8,490.4 L345.3,491.1 L345.8,491.7 L346.3,492.4 L346.8,493.0 L347.3,493.5 L347.8,494.0 L348.3,494.5 L348.8,495.0 L349.3,495.4 L349.8,495.8 L350.3,496.2 L350.8,496.5 L351.3,496.9 L351.8,497.1 L352.3,497.4 L352.8,497.6 L353.3,497.9 L353.8,498.1 L354.3,498.3 L354.8,498.5 L355.3,498.7 L355.8,498.9 L356.3,499.0 L356.8,499.2 L357.3,499.4 L357.8,499.5 L358.3,499.7 L358.8,499.8 L359.3,499.9 L359.8,500.0 L360.3,500.2 L360.8,500.3 L361.3,500.4 L361.8,500.5 L362.3,500.6 L362.8,500.7 L363.3,500.8 L363.8,500.8 L364.4,500.9 L364.9,501.0 L365.4,501.1 L365.9,501.2 L366.4,501.2 L366.9,501.3 L367.4,501.4 L367.9,501.4 L368.4,501.5 L368.9,501.5 L369.4,501.6 L369.9,501.6 L370.4,501.6 L370.9,501.6 L371.4,501.7 L371.9,501.7 L372.4,501.7 L372.9,501.7 L373.4,501.7 L373.9,501.8 L374.4,501.8 L374.9,501.8 L375.4,501.8 L375.9,501.8 L376.4,501.9 L376.9,501.9 L377.4,501.9 L377.9,501.9 L378.4,501.9 L378.9,502.0 L379.4,502.0 L379.9,502.0 L380.4,502.0 L380.9,502.0 L381.4,502.0 L381.9,502.0 L382.4,502.1 L382.9,502.1 L383.4,502.1 L383.9,502.1 L384.4,502.1 L384.9,502.1 L385.4,502.1 L385.9,502.1 L386.4,502.2 L386.9,502.2 L387.4,502.2 L388.0,502.2 L388.5,502.2 L389.0,502.2 L389.5,502.2 L390.0,502.2 L390.5,502.2 L391.0,502.2 L391.5,502.2 L392.0,502.3 L392.5,502.3 L393.0,502.3 L393.5,502.3 L394.0,502.3 L394.5,502.3 L395.0,502.3 L395.5,502.3 L396.0,502.3 L396.5,502.3 L397.0,502.3 L397.5,502.3 L398.0,502.3 L398.5,502.3 L399.0,502.3 L399.5,502.3" fill="none" stroke="#e8281f" stroke-width="1.8" stroke-linejoin="round" stroke-linecap="round"/>
<path d="M234.3,517.4 L234.8,517.7 L235.3,517.8 L235.8,517.3 L236.3,517.6 L236.8,517.6 L237.3,517.2 L237.8,518.1 L238.3,517.7 L238.8,517.5 L239.3,517.4 L239.8,517.5 L240.3,517.7 L240.8,517.4 L241.3,518.1 L241.8,516.6 L242.3,516.8 L242.8,517.5 L243.3,516.9 L243.8,517.6 L244.3,517.4 L244.8,517.9 L245.3,517.8 L245.8,518.1 L246.4,518.0 L246.9,518.1 L247.4,517.8 L247.9,518.0 L248.4,517.8 L248.9,517.4 L249.4,517.1 L249.9,517.1 L250.4,517.8 L250.9,516.7 L251.4,517.7 L251.9,517.3 L252.4,517.9 L252.9,517.7 L253.4,517.3 L253.9,517.6 L254.4,516.7 L254.9,517.7 L255.4,517.8 L255.9,516.9 L256.4,518.0 L256.9,517.6 L257.4,517.7 L257.9,517.0 L258.4,517.9 L258.9,517.9 L259.4,517.6 L259.9,517.2 L260.4,517.9 L260.9,518.1 L261.4,517.8 L261.9,518.0 L262.4,517.4 L262.9,517.7 L263.4,517.8 L263.9,517.7 L264.4,518.8 L264.9,517.8 L265.4,517.4 L265.9,518.0 L266.4,517.2 L266.9,517.8 L267.4,517.9 L267.9,517.4 L268.4,517.5 L268.9,517.3 L269.4,517.7 L270.0,517.4 L270.5,518.3 L271.0,517.9 L271.5,517.5 L272.0,517.1 L272.5,518.5 L273.0,518.2 L273.5,517.8 L274.0,517.7 L274.5,517.7 L275.0,517.5 L275.5,518.4 L276.0,517.7 L276.5,517.0 L277.0,517.3 L277.5,516.5 L278.0,517.8 L278.5,517.7 L279.0,518.1 L279.5,518.2 L280.0,516.9 L280.5,517.3 L281.0,517.5 L281.5,517.3 L282.0,516.7 L282.5,517.1 L283.0,516.9 L283.5,517.2 L284.0,516.5 L284.5,516.3 L285.0,516.0 L285.5,515.8 L286.0,515.4 L286.5,515.3 L287.0,515.4 L287.5,515.1 L288.0,515.3 L288.5,515.0 L289.0,514.7 L289.5,514.0 L290.0,514.8 L290.5,515.4 L291.0,514.9 L291.5,515.5 L292.0,516.2 L292.5,516.7 L293.0,517.5 L293.6,517.7 L294.1,518.8 L294.6,518.7 L295.1,519.7 L295.6,520.0 L296.1,520.2 L296.6,521.2 L297.1,520.8 L297.6,520.8 L298.1,520.1 L298.6,520.0 L299.1,519.4 L299.6,518.5 L300.1,517.4 L300.6,518.1 L301.1,517.9 L301.6,517.6 L302.1,517.6 L302.6,517.6 L303.1,517.6 L303.6,517.0 L304.1,517.4 L304.6,517.5 L305.1,517.1 L305.6,517.0 L306.1,518.1 L306.6,517.6 L307.1,517.2 L307.6,517.1 L308.1,516.2 L308.6,516.7 L309.1,517.1 L309.6,517.8 L310.1,516.4 L310.6,516.9 L311.1,518.0 L311.6,517.5 L312.1,517.4 L312.6,517.8 L313.1,517.4 L313.6,517.6 L314.1,518.2 L314.6,518.6 L315.1,518.1 L315.6,519.4 L316.1,518.4 L316.6,519.2 L317.2,521.1 L317.7,520.1 L318.2,521.0 L318.7,520.8 L319.2,521.4 L319.7,521.5 L320.2,521.8 L320.7,522.1 L321.2,522.3 L321.7,521.4 L322.2,521.1 L322.7,519.6 L323.2,519.7 L323.7,518.6 L324.2,518.3 L324.7,516.9 L325.2,516.1 L325.7,515.9 L326.2,514.7 L326.7,513.8 L327.2,513.0 L327.7,513.0 L328.2,513.3 L328.7,513.7 L329.2,513.7 L329.7,514.5 L330.2,515.6 L330.7,515.7 L331.2,517.3 L331.7,517.6 L332.2,518.1 L332.7,517.5 L333.2,517.9 L333.7,517.9 L334.2,517.7 L334.7,516.9 L335.2,516.9 L335.7,516.2 L336.2,515.4 L336.7,514.3 L337.2,515.5 L337.7,514.8 L338.2,515.4 L338.7,515.1 L339.2,515.7 L339.7,516.4 L340.2,516.5 L340.8,517.0 L341.3,516.8 L341.8,517.8 L342.3,516.5 L342.8,517.2 L343.3,517.9 L343.8,517.5 L344.3,517.4 L344.8,516.9 L345.3,518.1 L345.8,516.8 L346.3,517.8 L346.8,517.7 L347.3,517.9 L347.8,518.2 L348.3,517.3 L348.8,517.3 L349.3,517.5 L349.8,516.9 L350.3,517.9 L350.8,517.4 L351.3,517.7 L351.8,517.1 L352.3,517.6 L352.8,517.3 L353.3,517.6 L353.8,517.2 L354.3,518.0 L354.8,517.3 L355.3,516.6 L355.8,517.8 L356.3,517.5 L356.8,517.2 L357.3,518.6 L357.8,517.6 L358.3,517.0 L358.8,517.3 L359.3,517.7 L359.8,517.5 L360.3,518.1 L360.8,518.0 L361.3,517.3 L361.8,517.6 L362.3,517.8 L362.8,517.4 L363.3,517.4 L363.8,517.9 L364.4,517.8 L364.9,517.0 L365.4,517.4 L365.9,517.4 L366.4,517.5 L366.9,517.3 L367.4,518.1 L367.9,517.2 L368.4,517.1 L368.9,517.7 L369.4,516.7 L369.9,517.2 L370.4,517.8 L370.9,517.1 L371.4,517.2 L371.9,518.0 L372.4,517.8 L372.9,517.6 L373.4,517.7 L373.9,517.3 L374.4,517.7 L374.9,517.5 L375.4,518.6 L375.9,517.8 L376.4,517.5 L376.9,517.6 L377.4,517.6 L377.9,517.0 L378.4,517.3 L378.9,518.2 L379.4,517.0 L379.9,517.4 L380.4,518.0 L380.9,518.2 L381.4,517.2 L381.9,518.2 L382.4,517.4 L382.9,518.3 L383.4,517.8 L383.9,517.5 L384.4,517.9 L384.9,517.8 L385.4,517.3 L385.9,518.5 L386.4,517.5 L386.9,518.1 L387.4,517.4 L388.0,516.9 L388.5,517.1 L389.0,517.6 L389.5,517.9 L390.0,518.3 L390.5,517.6 L391.0,517.5 L391.5,517.1 L392.0,517.6 L392.5,517.7 L393.0,516.7 L393.5,518.1 L394.0,518.0 L394.5,518.5 L395.0,517.2 L395.5,517.6 L396.0,517.6 L396.5,517.1 L397.0,517.3 L397.5,517.2 L398.0,517.8 L398.5,517.8 L399.0,518.1 L399.5,517.4" fill="none" stroke="#2a6fdb" stroke-width="1.7" stroke-linejoin="round" stroke-linecap="round"/>
<circle cx="367.6" cy="443.3" r="2.7" fill="none" stroke="#333" stroke-width="0.9"/>
<text x="373.90000000000003" y="447.5" font-size="13" text-anchor="start" fill="#000" font-weight="normal" font-style="normal">obs</text>
<line x1="363.40000000000003" y1="457.6" x2="371.90000000000003" y2="457.6" stroke="#e8281f" stroke-width="1.8"/>
<text x="373.90000000000003" y="462.0" font-size="13" text-anchor="start" fill="#000" font-weight="normal" font-style="normal">cal</text>
<line x1="363.40000000000003" y1="471.9" x2="371.90000000000003" y2="471.9" stroke="#2a6fdb" stroke-width="1.8"/>
<text x="373.90000000000003" y="476.3" font-size="13" text-anchor="start" fill="#000" font-weight="normal" font-style="normal">diff</text>
<text x="240.0" y="412.6" font-size="13" text-anchor="start" fill="#000" font-weight="normal" font-style="normal">x=1</text>
<rect x="288.9" y="398.7" width="40.0" height="15.2" fill="#f5a04a"/>
<rect x="328.9" y="398.7" width="36.0" height="15.2" fill="#5cc85c"/>
<text x="277.2" y="412.8" font-size="13" text-anchor="start" fill="#f5a04a" font-weight="normal" font-style="normal" stroke="#f5a04a" stroke-width="0.35">O</text>
<text x="367.6" y="412.8" font-size="13" text-anchor="start" fill="#5cc85c" font-weight="normal" font-style="normal" stroke="#5cc85c" stroke-width="0.35">T</text>
<text x="308.9" y="411.6" font-size="11.5" text-anchor="middle" fill="#000" font-weight="normal" font-style="normal" textLength="30" lengthAdjust="spacingAndGlyphs">53.2%</text>
<text x="346.9" y="411.6" font-size="11.5" text-anchor="middle" fill="#000" font-weight="normal" font-style="normal" textLength="30" lengthAdjust="spacingAndGlyphs">46.8%</text>
<text x="209.5" y="402" font-size="13" text-anchor="start" fill="#000" font-weight="bold" font-style="normal">(f)</text>
<rect x="487.6" y="393.9" width="165.69999999999993" height="133.30000000000007" fill="none" stroke="#111" stroke-width="1.5"/>
<line x1="500.1" y1="527.2" x2="500.1" y2="522.6" stroke="#111" stroke-width="1.5"/>
<text x="500.1" y="543.2" font-size="13" text-anchor="middle" fill="#000" font-weight="normal" font-style="normal">0</text>
<line x1="547.1700000000001" y1="527.2" x2="547.1700000000001" y2="522.6" stroke="#111" stroke-width="1.5"/>
<text x="547.1700000000001" y="543.2" font-size="13" text-anchor="middle" fill="#000" font-weight="normal" font-style="normal">1</text>
<line x1="594.24" y1="527.2" x2="594.24" y2="522.6" stroke="#111" stroke-width="1.5"/>
<text x="594.24" y="543.2" font-size="13" text-anchor="middle" fill="#000" font-weight="normal" font-style="normal">2</text>
<line x1="641.3100000000001" y1="527.2" x2="641.3100000000001" y2="522.6" stroke="#111" stroke-width="1.5"/>
<text x="641.3100000000001" y="543.2" font-size="13" text-anchor="middle" fill="#000" font-weight="normal" font-style="normal">3</text>
<line x1="487.6" y1="394.2" x2="492.20000000000005" y2="394.2" stroke="#111" stroke-width="1.5"/>
<text x="481.9" y="398.59999999999997" font-size="13" text-anchor="end" fill="#000" font-weight="normal" font-style="normal" textLength="33" lengthAdjust="spacingAndGlyphs">612.5</text>
<line x1="487.6" y1="449.7" x2="492.20000000000005" y2="449.7" stroke="#111" stroke-width="1.5"/>
<text x="481.9" y="454.09999999999997" font-size="13" text-anchor="end" fill="#000" font-weight="normal" font-style="normal" textLength="33" lengthAdjust="spacingAndGlyphs">612.0</text>
<line x1="487.6" y1="505.2" x2="492.20000000000005" y2="505.2" stroke="#111" stroke-width="1.5"/>
<text x="481.9" y="509.59999999999997" font-size="13" text-anchor="end" fill="#000" font-weight="normal" font-style="normal" textLength="33" lengthAdjust="spacingAndGlyphs">611.5</text>
<text x="570.4" y="560.8" font-size="13" text-anchor="middle" fill="#000" font-weight="normal" font-style="normal">x</text>
<text x="443" y="459.6" font-size="13" text-anchor="middle" transform="rotate(-90 443 459.6)"><tspan font-family="Liberation Serif" font-size="14.5">ʋ</tspan><tspan font-size="9" dy="2.5">1</tspan><tspan dy="-2.5"> mode (cm</tspan><tspan font-size="9" dy="-4.5">-1</tspan><tspan dy="4.5">)</tspan></text>
<text x="421.2" y="401.5" font-size="13" text-anchor="start" fill="#000" font-weight="bold" font-style="normal">(g)</text>
<path d="M500.10,512.97 L523.63,439.71 L547.17,428.61 L570.71,438.60 L594.24,495.21 L641.31,519.63" fill="none" stroke="#111" stroke-width="1.3"/>
<circle cx="500.10" cy="512.97" r="4.6" fill="url(#ball)"/>
<circle cx="523.63" cy="439.71" r="4.6" fill="url(#ball)"/>
<circle cx="547.17" cy="428.61" r="4.6" fill="url(#ball)"/>
<circle cx="570.71" cy="438.60" r="4.6" fill="url(#ball)"/>
<circle cx="594.24" cy="495.21" r="4.6" fill="url(#ball)"/>
<circle cx="641.31" cy="519.63" r="4.6" fill="url(#ball)"/>
<polygon points="620.7,401.4 594.4,428.4 595.8,441.2 620.7,469.7 646.3,441.2 645.6,428.4" fill="#8cc5a6" fill-opacity="0.85"/>
<polygon points="620.7,401.4 595.8,441.2 646.3,441.2" fill="#b3dbc4" fill-opacity="0.8"/>
<polygon points="620.7,469.7 595.8,441.2 646.3,441.2" fill="#a6d3b9" fill-opacity="0.8"/>
<polyline points="620.7,401.4 595.8,441.2 620.7,469.7 646.3,441.2 620.7,401.4" fill="none" stroke="#84b99c" stroke-width="0.8"/>
<polyline points="595.8,441.2 646.3,441.2" fill="none" stroke="#84b99c" stroke-width="0.8"/>
<line x1="620.7" y1="401.4" x2="620.7" y2="435.5" stroke="#c42020" stroke-width="2.6"/>
<line x1="620.7" y1="469.7" x2="620.7" y2="435.5" stroke="#c42020" stroke-width="2.6"/>
<line x1="594.4" y1="428.4" x2="620.7" y2="435.5" stroke="#b82020" stroke-width="2.2"/>
<line x1="595.8" y1="441.2" x2="620.7" y2="435.5" stroke="#b82020" stroke-width="2.2"/>
<line x1="645.6" y1="428.4" x2="620.7" y2="435.5" stroke="#b82020" stroke-width="2.2"/>
<line x1="646.3" y1="441.2" x2="620.7" y2="435.5" stroke="#b82020" stroke-width="2.2"/>
<line x1="620.7" y1="409" x2="620.70" y2="418.50" stroke="#000" stroke-width="2.2"/>
<polygon points="620.70,423.50 617.70,418.50 623.70,418.50" fill="#000"/>
<line x1="620.7" y1="461" x2="620.70" y2="452.00" stroke="#000" stroke-width="2.2"/>
<polygon points="620.70,447.00 623.70,452.00 617.70,452.00" fill="#000"/>
<line x1="601" y1="429.8" x2="606.27" y2="431.59" stroke="#000" stroke-width="2.2"/>
<polygon points="611.00,433.20 605.30,434.43 607.23,428.75" fill="#000"/>
<line x1="602" y1="440.2" x2="606.16" y2="439.14" stroke="#000" stroke-width="2.2"/>
<polygon points="611.00,437.90 606.90,442.04 605.41,436.23" fill="#000"/>
<line x1="639.5" y1="429.8" x2="635.18" y2="431.43" stroke="#000" stroke-width="2.2"/>
<polygon points="630.50,433.20 634.12,428.63 636.24,434.24" fill="#000"/>
<line x1="640" y1="440.2" x2="635.36" y2="439.08" stroke="#000" stroke-width="2.2"/>
<polygon points="630.50,437.90 636.07,436.16 634.65,441.99" fill="#000"/>
<circle cx="620.7" cy="435.5" r="9.3" fill="url(#nb)"/>
<text x="620.7" y="439.6" font-size="10.5" fill="#fff" text-anchor="middle" letter-spacing="-0.3">Nb</text>
<circle cx="620.7" cy="401.4" r="4.6" fill="url(#ox)"/>
<circle cx="620.7" cy="469.7" r="4.6" fill="url(#ox)"/>
<circle cx="594.4" cy="428.4" r="4.6" fill="url(#ox)"/>
<circle cx="595.8" cy="441.2" r="4.6" fill="url(#ox)"/>
<circle cx="645.6" cy="428.4" r="4.6" fill="url(#ox)"/>
<circle cx="646.3" cy="441.2" r="4.6" fill="url(#ox)"/>
<circle cx="620.7" cy="401.4" r="2.9" fill="none" stroke="#fff" stroke-width="0.9"/>
<text x="633.5" y="472.5" font-size="14.5" font-family="Liberation Serif">ʋ<tspan font-style="normal" font-family="Liberation Sans" font-size="9.5" dy="2.5">1</tspan></text>
</svg></body></html>
